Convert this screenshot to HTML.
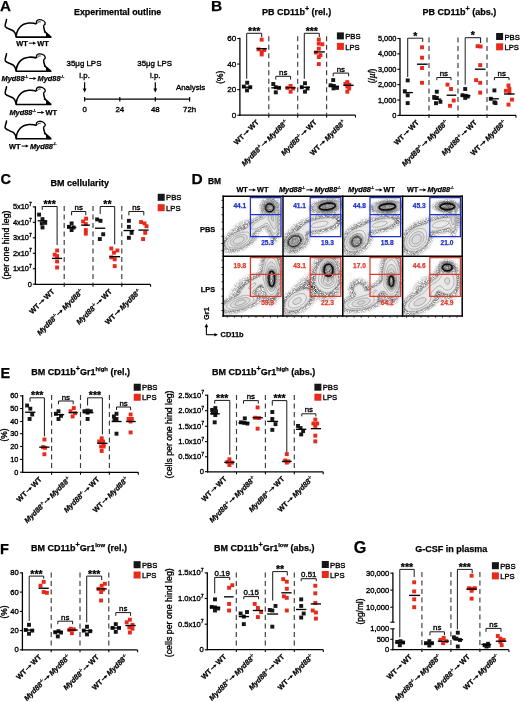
<!DOCTYPE html>
<html><head><meta charset="utf-8"><style>
html,body{margin:0;padding:0;background:#fff;}
svg{display:block;will-change:transform;font-family:"Liberation Sans",sans-serif;} text{white-space:pre;}
</style></head><body>
<svg width="520" height="702" viewBox="0 0 520 702">
<defs><filter id="gb" x="0" y="0" width="520" height="702" filterUnits="userSpaceOnUse"><feGaussianBlur stdDeviation="0.3"/></filter></defs>
<rect width="520" height="702" fill="#fff"/>
<g filter="url(#gb)">
<text x="0.00" y="10.90" font-size="15.20" font-weight="bold" stroke="#000" stroke-width="0.25">A</text>
<text x="74.00" y="14.80" font-size="8.90" font-weight="bold" stroke="#000" stroke-width="0.25">Experimental outline</text>
<path d="M6.50 19.50C6.30 22.60 4.40 24.60 5.30 26.60C6.40 28.80 11.50 29.30 13.60 31.10C15.40 32.70 16.00 34.90 16.20 37.10" fill="none" stroke="#000" stroke-width="1.55" stroke-linecap="round"/>
<path d="M16.20 37.10C16.40 29.60 21.00 23.50 29.00 23.00C32.00 22.80 34.50 23.20 36.40 23.90M44.00 25.10C43.30 25.70 43.60 27.10 44.00 28.50C44.30 29.70 44.50 30.90 45.30 32.10L51.00 37.10M16.20 37.10H51.40" fill="none" stroke="#000" stroke-width="1.55" stroke-linejoin="round"/>
<path d="M36.40 23.90C36.00 21.50 37.00 19.80 39.20 19.70C41.60 19.60 44.60 20.90 45.20 22.90C45.50 23.90 44.90 24.70 44.00 25.10" fill="none" stroke="#000" stroke-width="1.35" stroke-linejoin="round"/>
<path d="M37.60 23.30C37.60 22.10 38.80 21.50 40.60 21.80" fill="none" stroke="#000" stroke-width="0.9"/>
<path d="M46.00 32.50L51.60 37.60L46.00 37.60Z" fill="#000"/>
<circle cx="44.70" cy="31.80" r="0.85" fill="#000"/>
<path d="M6.50 53.70C6.30 56.80 4.40 58.80 5.30 60.80C6.40 63.00 11.50 63.50 13.60 65.30C15.40 66.90 16.00 69.10 16.20 71.30" fill="none" stroke="#000" stroke-width="1.55" stroke-linecap="round"/>
<path d="M16.20 71.30C16.40 63.80 21.00 57.70 29.00 57.20C32.00 57.00 34.50 57.40 36.40 58.10M44.00 59.30C43.30 59.90 43.60 61.30 44.00 62.70C44.30 63.90 44.50 65.10 45.30 66.30L51.00 71.30M16.20 71.30H51.40" fill="none" stroke="#000" stroke-width="1.55" stroke-linejoin="round"/>
<path d="M36.40 58.10C36.00 55.70 37.00 54.00 39.20 53.90C41.60 53.80 44.60 55.10 45.20 57.10C45.50 58.10 44.90 58.90 44.00 59.30" fill="none" stroke="#000" stroke-width="1.35" stroke-linejoin="round"/>
<path d="M37.60 57.50C37.60 56.30 38.80 55.70 40.60 56.00" fill="none" stroke="#000" stroke-width="0.9"/>
<path d="M46.00 66.70L51.60 71.80L46.00 71.80Z" fill="#000"/>
<circle cx="44.70" cy="66.00" r="0.85" fill="#000"/>
<path d="M6.50 86.80C6.30 89.90 4.40 91.90 5.30 93.90C6.40 96.10 11.50 96.60 13.60 98.40C15.40 100.00 16.00 102.20 16.20 104.40" fill="none" stroke="#000" stroke-width="1.55" stroke-linecap="round"/>
<path d="M16.20 104.40C16.40 96.90 21.00 90.80 29.00 90.30C32.00 90.10 34.50 90.50 36.40 91.20M44.00 92.40C43.30 93.00 43.60 94.40 44.00 95.80C44.30 97.00 44.50 98.20 45.30 99.40L51.00 104.40M16.20 104.40H51.40" fill="none" stroke="#000" stroke-width="1.55" stroke-linejoin="round"/>
<path d="M36.40 91.20C36.00 88.80 37.00 87.10 39.20 87.00C41.60 86.90 44.60 88.20 45.20 90.20C45.50 91.20 44.90 92.00 44.00 92.40" fill="none" stroke="#000" stroke-width="1.35" stroke-linejoin="round"/>
<path d="M37.60 90.60C37.60 89.40 38.80 88.80 40.60 89.10" fill="none" stroke="#000" stroke-width="0.9"/>
<path d="M46.00 99.80L51.60 104.90L46.00 104.90Z" fill="#000"/>
<circle cx="44.70" cy="99.10" r="0.85" fill="#000"/>
<path d="M6.50 121.10C6.30 124.20 4.40 126.20 5.30 128.20C6.40 130.40 11.50 130.90 13.60 132.70C15.40 134.30 16.00 136.50 16.20 138.70" fill="none" stroke="#000" stroke-width="1.55" stroke-linecap="round"/>
<path d="M16.20 138.70C16.40 131.20 21.00 125.10 29.00 124.60C32.00 124.40 34.50 124.80 36.40 125.50M44.00 126.70C43.30 127.30 43.60 128.70 44.00 130.10C44.30 131.30 44.50 132.50 45.30 133.70L51.00 138.70M16.20 138.70H51.40" fill="none" stroke="#000" stroke-width="1.55" stroke-linejoin="round"/>
<path d="M36.40 125.50C36.00 123.10 37.00 121.40 39.20 121.30C41.60 121.20 44.60 122.50 45.20 124.50C45.50 125.50 44.90 126.30 44.00 126.70" fill="none" stroke="#000" stroke-width="1.35" stroke-linejoin="round"/>
<path d="M37.60 124.90C37.60 123.70 38.80 123.10 40.60 123.40" fill="none" stroke="#000" stroke-width="0.9"/>
<path d="M46.00 134.10L51.60 139.20L46.00 139.20Z" fill="#000"/>
<circle cx="44.70" cy="133.40" r="0.85" fill="#000"/>
<g transform="translate(32.50 45.60) rotate(0)" fill="#000"><text x="-16.17" y="0.00" font-size="7.40" font-weight="bold" stroke="#000" stroke-width="0.25">WT</text><path d="M-3.67 -2.44H0.81" stroke="#000" stroke-width="0.96"/><path d="M0.51 -4.00L3.67 -2.44L0.51 -0.89Z"/><text x="4.66" y="0.00" font-size="7.40" font-weight="bold" stroke="#000" stroke-width="0.25">WT</text></g>
<g transform="translate(32.90 80.90) rotate(0)" fill="#000"><text x="-31.33" y="0.00" font-size="7.40" font-weight="bold" font-style="italic" stroke="#000" stroke-width="0.25">Myd88</text><text x="-8.29" y="-3.11" font-size="3.85" font-weight="bold" stroke="#000" stroke-width="0.25">-/-</text><path d="M-3.67 -2.44H0.81" stroke="#000" stroke-width="0.96"/><path d="M0.51 -4.00L3.67 -2.44L0.51 -0.89Z"/><text x="4.66" y="0.00" font-size="7.40" font-weight="bold" font-style="italic" stroke="#000" stroke-width="0.25">Myd88</text><text x="27.69" y="-3.11" font-size="3.85" font-weight="bold" stroke="#000" stroke-width="0.25">-/-</text></g>
<g transform="translate(33.20 115.00) rotate(0)" fill="#000"><text x="-23.75" y="0.00" font-size="7.40" font-weight="bold" font-style="italic" stroke="#000" stroke-width="0.25">Myd88</text><text x="-0.71" y="-3.11" font-size="3.85" font-weight="bold" stroke="#000" stroke-width="0.25">-/-</text><path d="M3.91 -2.44H8.39" stroke="#000" stroke-width="0.96"/><path d="M8.09 -4.00L11.25 -2.44L8.09 -0.89Z"/><text x="12.24" y="0.00" font-size="7.40" font-weight="bold" stroke="#000" stroke-width="0.25">WT</text></g>
<g transform="translate(32.80 148.50) rotate(0)" fill="#000"><text x="-23.75" y="0.00" font-size="7.40" font-weight="bold" stroke="#000" stroke-width="0.25">WT</text><path d="M-11.25 -2.44H-6.77" stroke="#000" stroke-width="0.96"/><path d="M-7.07 -4.00L-3.91 -2.44L-7.07 -0.89Z"/><text x="-2.92" y="0.00" font-size="7.40" font-weight="bold" font-style="italic" stroke="#000" stroke-width="0.25">Myd88</text><text x="20.11" y="-3.11" font-size="3.85" font-weight="bold" stroke="#000" stroke-width="0.25">-/-</text></g>
<line x1="84.20" y1="99.20" x2="190.00" y2="99.20" stroke="#000" stroke-width="1.3"/>
<line x1="84.60" y1="97.00" x2="84.60" y2="101.40" stroke="#000" stroke-width="1.2"/>
<line x1="119.80" y1="97.00" x2="119.80" y2="101.40" stroke="#000" stroke-width="1.2"/>
<line x1="155.30" y1="97.00" x2="155.30" y2="101.40" stroke="#000" stroke-width="1.2"/>
<line x1="189.60" y1="97.00" x2="189.60" y2="101.40" stroke="#000" stroke-width="1.2"/>
<text x="84.60" y="111.60" font-size="7.90" text-anchor="middle" stroke="#000" stroke-width="0.35">0</text>
<text x="119.80" y="111.60" font-size="7.90" text-anchor="middle" stroke="#000" stroke-width="0.35">24</text>
<text x="155.30" y="111.60" font-size="7.90" text-anchor="middle" stroke="#000" stroke-width="0.35">48</text>
<text x="189.60" y="111.60" font-size="7.90" text-anchor="middle" stroke="#000" stroke-width="0.35">72h</text>
<text x="84.00" y="66.40" font-size="7.90" text-anchor="middle" stroke="#000" stroke-width="0.35">35μg LPS</text>
<text x="84.60" y="77.60" font-size="7.90" text-anchor="middle" stroke="#000" stroke-width="0.35">i.p.</text>
<line x1="84.60" y1="82.20" x2="84.60" y2="89.50" stroke="#000" stroke-width="1.2"/>
<path d="M82.70 88.6L86.50 88.6L84.60 92.4Z" fill="#000"/>
<text x="154.70" y="66.40" font-size="7.90" text-anchor="middle" stroke="#000" stroke-width="0.35">35μg LPS</text>
<text x="155.30" y="77.60" font-size="7.90" text-anchor="middle" stroke="#000" stroke-width="0.35">i.p.</text>
<line x1="155.30" y1="82.20" x2="155.30" y2="89.50" stroke="#000" stroke-width="1.2"/>
<path d="M153.40 88.6L157.20 88.6L155.30 92.4Z" fill="#000"/>
<text x="175.90" y="89.60" font-size="7.90" stroke="#000" stroke-width="0.35">Analysis</text>
<text x="211.00" y="11.20" font-size="15.50" font-weight="bold" stroke="#000" stroke-width="0.25">B</text>
<g transform="translate(261.90 15.20) rotate(0)" fill="#000"><text x="0.00" y="0.00" font-size="9.00" font-weight="bold" stroke="#000" stroke-width="0.25">PB CD11b</text><text x="43.01" y="-4.05" font-size="7.20" font-weight="bold" stroke="#000" stroke-width="0.25">+</text><text x="47.22" y="0.00" font-size="9.00" font-weight="bold" stroke="#000" stroke-width="0.25"> (rel.)</text></g>
<g transform="translate(422.50 15.00) rotate(0)" fill="#000"><text x="0.00" y="0.00" font-size="9.00" font-weight="bold" stroke="#000" stroke-width="0.25">PB CD11b</text><text x="43.01" y="-4.05" font-size="7.20" font-weight="bold" stroke="#000" stroke-width="0.25">+</text><text x="47.22" y="0.00" font-size="9.00" font-weight="bold" stroke="#000" stroke-width="0.25"> (abs.)</text></g>
<line x1="239.90" y1="37.80" x2="239.90" y2="115.85" stroke="#000" stroke-width="1.3"/>
<line x1="239.25" y1="115.20" x2="355.50" y2="115.20" stroke="#000" stroke-width="1.3"/>
<line x1="237.30" y1="115.20" x2="239.90" y2="115.20" stroke="#000" stroke-width="1.1"/>
<text x="236.30" y="117.95" font-size="8.10" text-anchor="end" stroke="#000" stroke-width="0.35">0</text>
<line x1="237.30" y1="89.63" x2="239.90" y2="89.63" stroke="#000" stroke-width="1.1"/>
<text x="236.30" y="92.39" font-size="8.10" text-anchor="end" stroke="#000" stroke-width="0.35">20</text>
<line x1="237.30" y1="64.07" x2="239.90" y2="64.07" stroke="#000" stroke-width="1.1"/>
<text x="236.30" y="66.82" font-size="8.10" text-anchor="end" stroke="#000" stroke-width="0.35">40</text>
<line x1="237.30" y1="38.50" x2="239.90" y2="38.50" stroke="#000" stroke-width="1.1"/>
<text x="236.30" y="41.26" font-size="8.10" text-anchor="end" stroke="#000" stroke-width="0.35">60</text>
<line x1="268.80" y1="115.20" x2="268.80" y2="117.60" stroke="#000" stroke-width="1.1"/>
<line x1="268.80" y1="36.30" x2="268.80" y2="115.20" stroke="#3c3c3c" stroke-width="1.15" stroke-dasharray="5 3.5"/>
<line x1="297.70" y1="115.20" x2="297.70" y2="117.60" stroke="#000" stroke-width="1.1"/>
<line x1="297.70" y1="36.30" x2="297.70" y2="115.20" stroke="#3c3c3c" stroke-width="1.15" stroke-dasharray="5 3.5"/>
<line x1="326.60" y1="115.20" x2="326.60" y2="117.60" stroke="#000" stroke-width="1.1"/>
<line x1="326.60" y1="36.30" x2="326.60" y2="115.20" stroke="#3c3c3c" stroke-width="1.15" stroke-dasharray="5 3.5"/>
<line x1="355.50" y1="115.20" x2="355.50" y2="117.60" stroke="#000" stroke-width="1.1"/>
<rect x="245.25" y="80.78" width="3.90" height="3.90" fill="#151515"/>
<rect x="241.85" y="84.62" width="3.90" height="3.90" fill="#151515"/>
<rect x="248.25" y="85.26" width="3.90" height="3.90" fill="#151515"/>
<rect x="245.05" y="88.45" width="3.90" height="3.90" fill="#151515"/>
<rect x="259.75" y="37.70" width="3.90" height="3.90" fill="#e8291a"/>
<rect x="256.55" y="47.42" width="3.90" height="3.90" fill="#e8291a"/>
<rect x="262.35" y="48.06" width="3.90" height="3.90" fill="#e8291a"/>
<rect x="259.75" y="49.97" width="3.90" height="3.90" fill="#e8291a"/>
<rect x="259.75" y="52.53" width="3.90" height="3.90" fill="#e8291a"/>
<line x1="242.50" y1="87.21" x2="252.10" y2="87.21" stroke="#000" stroke-width="1.35"/>
<line x1="256.60" y1="48.73" x2="266.80" y2="48.73" stroke="#000" stroke-width="1.35"/>
<path d="M246.70 78.80V33.30H261.70V37.20" fill="none" stroke="#1a1a1a" stroke-width="1.0"/>
<text x="254.20" y="34.80" font-size="10.50" font-weight="bold" text-anchor="middle" stroke="#000" stroke-width="0.25">***</text>
<rect x="271.35" y="82.06" width="3.90" height="3.90" fill="#151515"/>
<rect x="273.85" y="85.26" width="3.90" height="3.90" fill="#151515"/>
<rect x="277.05" y="85.89" width="3.90" height="3.90" fill="#151515"/>
<rect x="273.85" y="90.37" width="3.90" height="3.90" fill="#151515"/>
<rect x="288.65" y="83.98" width="3.90" height="3.90" fill="#e8291a"/>
<rect x="285.45" y="85.89" width="3.90" height="3.90" fill="#e8291a"/>
<rect x="291.15" y="86.53" width="3.90" height="3.90" fill="#e8291a"/>
<rect x="288.65" y="89.73" width="3.90" height="3.90" fill="#e8291a"/>
<line x1="271.30" y1="87.84" x2="281.00" y2="87.84" stroke="#000" stroke-width="1.35"/>
<line x1="285.40" y1="87.84" x2="295.70" y2="87.84" stroke="#000" stroke-width="1.35"/>
<path d="M275.80 79.50V76.30H290.60V79.50" fill="none" stroke="#1a1a1a" stroke-width="1.0"/>
<text x="283.20" y="74.80" font-size="7.90" text-anchor="middle" stroke="#000" stroke-width="0.35">ns</text>
<rect x="303.05" y="81.29" width="3.90" height="3.90" fill="#151515"/>
<rect x="299.85" y="85.26" width="3.90" height="3.90" fill="#151515"/>
<rect x="305.55" y="86.53" width="3.90" height="3.90" fill="#151515"/>
<rect x="303.05" y="89.73" width="3.90" height="3.90" fill="#151515"/>
<rect x="316.85" y="37.70" width="3.90" height="3.90" fill="#e8291a"/>
<rect x="316.85" y="41.67" width="3.90" height="3.90" fill="#e8291a"/>
<rect x="320.35" y="42.30" width="3.90" height="3.90" fill="#e8291a"/>
<rect x="316.85" y="46.78" width="3.90" height="3.90" fill="#e8291a"/>
<rect x="313.95" y="50.61" width="3.90" height="3.90" fill="#e8291a"/>
<rect x="318.45" y="53.17" width="3.90" height="3.90" fill="#e8291a"/>
<rect x="316.85" y="55.09" width="3.90" height="3.90" fill="#e8291a"/>
<rect x="316.85" y="62.12" width="3.90" height="3.90" fill="#e8291a"/>
<line x1="300.00" y1="87.33" x2="310.00" y2="87.33" stroke="#000" stroke-width="1.35"/>
<line x1="313.90" y1="51.92" x2="324.80" y2="51.92" stroke="#000" stroke-width="1.35"/>
<path d="M304.30 78.80V33.30H319.30V37.20" fill="none" stroke="#1a1a1a" stroke-width="1.0"/>
<text x="311.80" y="34.80" font-size="10.50" font-weight="bold" text-anchor="middle" stroke="#000" stroke-width="0.25">***</text>
<rect x="331.25" y="78.10" width="3.90" height="3.90" fill="#151515"/>
<rect x="328.65" y="83.34" width="3.90" height="3.90" fill="#151515"/>
<rect x="331.85" y="83.98" width="3.90" height="3.90" fill="#151515"/>
<rect x="335.05" y="85.89" width="3.90" height="3.90" fill="#151515"/>
<rect x="331.55" y="86.41" width="3.90" height="3.90" fill="#151515"/>
<rect x="345.35" y="80.14" width="3.90" height="3.90" fill="#e8291a"/>
<rect x="343.45" y="82.06" width="3.90" height="3.90" fill="#e8291a"/>
<rect x="347.25" y="82.70" width="3.90" height="3.90" fill="#e8291a"/>
<rect x="345.35" y="84.62" width="3.90" height="3.90" fill="#e8291a"/>
<rect x="347.25" y="86.53" width="3.90" height="3.90" fill="#e8291a"/>
<rect x="345.35" y="89.73" width="3.90" height="3.90" fill="#e8291a"/>
<line x1="328.70" y1="86.31" x2="339.00" y2="86.31" stroke="#000" stroke-width="1.35"/>
<line x1="343.40" y1="85.29" x2="353.70" y2="85.29" stroke="#000" stroke-width="1.35"/>
<path d="M333.20 76.30V73.10H348.60V76.30" fill="none" stroke="#1a1a1a" stroke-width="1.0"/>
<text x="340.90" y="71.60" font-size="7.90" text-anchor="middle" stroke="#000" stroke-width="0.35">ns</text>
<g transform="translate(259.35 122.80) rotate(-45)" fill="#000"><text x="-31.90" y="0.00" font-size="7.30" font-weight="bold" stroke="#000" stroke-width="0.25">WT</text><path d="M-19.56 -2.41H-15.15" stroke="#000" stroke-width="0.95"/><path d="M-15.45 -3.94L-12.33 -2.41L-15.45 -0.88Z"/><text x="-11.35" y="0.00" font-size="7.30" font-weight="bold" stroke="#000" stroke-width="0.25">WT</text></g>
<g transform="translate(288.25 122.80) rotate(-45)" fill="#000"><text x="-61.80" y="0.00" font-size="7.30" font-weight="bold" font-style="italic" stroke="#000" stroke-width="0.25">Myd88</text><text x="-39.08" y="-3.07" font-size="3.80" font-weight="bold" stroke="#000" stroke-width="0.25">-/-</text><path d="M-34.52 -2.41H-30.11" stroke="#000" stroke-width="0.95"/><path d="M-30.41 -3.94L-27.29 -2.41L-30.41 -0.88Z"/><text x="-26.30" y="0.00" font-size="7.30" font-weight="bold" font-style="italic" stroke="#000" stroke-width="0.25">Myd88</text><text x="-3.58" y="-3.07" font-size="3.80" font-weight="bold" stroke="#000" stroke-width="0.25">-/-</text></g>
<g transform="translate(317.15 122.80) rotate(-45)" fill="#000"><text x="-46.85" y="0.00" font-size="7.30" font-weight="bold" font-style="italic" stroke="#000" stroke-width="0.25">Myd88</text><text x="-24.13" y="-3.07" font-size="3.80" font-weight="bold" stroke="#000" stroke-width="0.25">-/-</text><path d="M-19.56 -2.41H-15.15" stroke="#000" stroke-width="0.95"/><path d="M-15.45 -3.94L-12.33 -2.41L-15.45 -0.88Z"/><text x="-11.35" y="0.00" font-size="7.30" font-weight="bold" stroke="#000" stroke-width="0.25">WT</text></g>
<g transform="translate(346.05 122.80) rotate(-45)" fill="#000"><text x="-46.85" y="0.00" font-size="7.30" font-weight="bold" stroke="#000" stroke-width="0.25">WT</text><path d="M-34.52 -2.41H-30.11" stroke="#000" stroke-width="0.95"/><path d="M-30.41 -3.94L-27.29 -2.41L-30.41 -0.88Z"/><text x="-26.30" y="0.00" font-size="7.30" font-weight="bold" font-style="italic" stroke="#000" stroke-width="0.25">Myd88</text><text x="-3.58" y="-3.07" font-size="3.80" font-weight="bold" stroke="#000" stroke-width="0.25">-/-</text></g>
<text x="222.80" y="77.30" font-size="8.40" text-anchor="middle" stroke="#000" stroke-width="0.35" transform="rotate(-90 222.80 77.30)">(%)</text>
<rect x="336.90" y="32.40" width="7.00" height="7.00" fill="#151515"/>
<rect x="336.90" y="42.90" width="7.00" height="7.00" fill="#e8291a"/>
<text x="345.20" y="39.00" font-size="7.70" stroke="#000" stroke-width="0.35">PBS</text>
<text x="345.20" y="49.50" font-size="7.70" stroke="#000" stroke-width="0.35">LPS</text>
<line x1="400.00" y1="37.90" x2="400.00" y2="116.05" stroke="#000" stroke-width="1.3"/>
<line x1="399.35" y1="115.40" x2="516.00" y2="115.40" stroke="#000" stroke-width="1.3"/>
<line x1="397.40" y1="115.40" x2="400.00" y2="115.40" stroke="#000" stroke-width="1.1"/>
<text x="396.40" y="117.92" font-size="7.40" text-anchor="end" stroke="#000" stroke-width="0.35">0</text>
<line x1="397.40" y1="100.02" x2="400.00" y2="100.02" stroke="#000" stroke-width="1.1"/>
<text x="396.40" y="102.54" font-size="7.40" text-anchor="end" stroke="#000" stroke-width="0.35">1,000</text>
<line x1="397.40" y1="84.64" x2="400.00" y2="84.64" stroke="#000" stroke-width="1.1"/>
<text x="396.40" y="87.16" font-size="7.40" text-anchor="end" stroke="#000" stroke-width="0.35">2,000</text>
<line x1="397.40" y1="69.26" x2="400.00" y2="69.26" stroke="#000" stroke-width="1.1"/>
<text x="396.40" y="71.78" font-size="7.40" text-anchor="end" stroke="#000" stroke-width="0.35">3,000</text>
<line x1="397.40" y1="53.88" x2="400.00" y2="53.88" stroke="#000" stroke-width="1.1"/>
<text x="396.40" y="56.40" font-size="7.40" text-anchor="end" stroke="#000" stroke-width="0.35">4,000</text>
<line x1="397.40" y1="38.50" x2="400.00" y2="38.50" stroke="#000" stroke-width="1.1"/>
<text x="396.40" y="41.02" font-size="7.40" text-anchor="end" stroke="#000" stroke-width="0.35">5,000</text>
<line x1="429.00" y1="115.40" x2="429.00" y2="117.80" stroke="#000" stroke-width="1.1"/>
<line x1="429.00" y1="37.50" x2="429.00" y2="115.40" stroke="#3c3c3c" stroke-width="1.15" stroke-dasharray="5 3.5"/>
<line x1="458.00" y1="115.40" x2="458.00" y2="117.80" stroke="#000" stroke-width="1.1"/>
<line x1="458.00" y1="37.50" x2="458.00" y2="115.40" stroke="#3c3c3c" stroke-width="1.15" stroke-dasharray="5 3.5"/>
<line x1="487.00" y1="115.40" x2="487.00" y2="117.80" stroke="#000" stroke-width="1.1"/>
<line x1="487.00" y1="37.50" x2="487.00" y2="115.40" stroke="#3c3c3c" stroke-width="1.15" stroke-dasharray="5 3.5"/>
<line x1="516.00" y1="115.40" x2="516.00" y2="117.80" stroke="#000" stroke-width="1.1"/>
<rect x="405.75" y="78.45" width="3.90" height="3.90" fill="#151515"/>
<rect x="402.85" y="89.26" width="3.90" height="3.90" fill="#151515"/>
<rect x="405.75" y="93.35" width="3.90" height="3.90" fill="#151515"/>
<rect x="405.75" y="101.15" width="3.90" height="3.90" fill="#151515"/>
<rect x="420.05" y="45.35" width="3.90" height="3.90" fill="#e8291a"/>
<rect x="420.05" y="55.74" width="3.90" height="3.90" fill="#e8291a"/>
<rect x="420.05" y="66.05" width="3.90" height="3.90" fill="#e8291a"/>
<rect x="420.05" y="80.84" width="3.90" height="3.90" fill="#e8291a"/>
<line x1="403.40" y1="92.61" x2="412.90" y2="92.61" stroke="#000" stroke-width="1.35"/>
<line x1="416.90" y1="64.20" x2="427.70" y2="64.20" stroke="#000" stroke-width="1.35"/>
<path d="M407.70 77.00V38.20H422.70V41.90" fill="none" stroke="#1a1a1a" stroke-width="1.0"/>
<text x="415.20" y="39.70" font-size="10.50" font-weight="bold" text-anchor="middle" stroke="#000" stroke-width="0.25">*</text>
<rect x="434.85" y="89.76" width="3.90" height="3.90" fill="#151515"/>
<rect x="432.25" y="95.06" width="3.90" height="3.90" fill="#151515"/>
<rect x="434.85" y="95.92" width="3.90" height="3.90" fill="#151515"/>
<rect x="438.45" y="99.85" width="3.90" height="3.90" fill="#151515"/>
<rect x="434.05" y="101.25" width="3.90" height="3.90" fill="#151515"/>
<rect x="445.55" y="82.69" width="3.90" height="3.90" fill="#e8291a"/>
<rect x="449.05" y="87.06" width="3.90" height="3.90" fill="#e8291a"/>
<rect x="451.75" y="98.56" width="3.90" height="3.90" fill="#e8291a"/>
<rect x="448.05" y="103.85" width="3.90" height="3.90" fill="#e8291a"/>
<line x1="432.40" y1="99.10" x2="441.30" y2="99.10" stroke="#000" stroke-width="1.35"/>
<line x1="446.60" y1="95.21" x2="456.30" y2="95.21" stroke="#000" stroke-width="1.35"/>
<path d="M436.80 80.20V77.50H451.00V80.20" fill="none" stroke="#1a1a1a" stroke-width="1.0"/>
<text x="443.90" y="76.00" font-size="7.90" text-anchor="middle" stroke="#000" stroke-width="0.35">ns</text>
<rect x="463.25" y="87.06" width="3.90" height="3.90" fill="#151515"/>
<rect x="460.55" y="93.26" width="3.90" height="3.90" fill="#151515"/>
<rect x="464.05" y="93.86" width="3.90" height="3.90" fill="#151515"/>
<rect x="465.85" y="94.55" width="3.90" height="3.90" fill="#151515"/>
<rect x="463.25" y="95.95" width="3.90" height="3.90" fill="#151515"/>
<rect x="475.65" y="44.24" width="3.90" height="3.90" fill="#e8291a"/>
<rect x="478.65" y="44.55" width="3.90" height="3.90" fill="#e8291a"/>
<rect x="478.25" y="63.16" width="3.90" height="3.90" fill="#e8291a"/>
<rect x="474.15" y="78.23" width="3.90" height="3.90" fill="#e8291a"/>
<rect x="478.25" y="80.84" width="3.90" height="3.90" fill="#e8291a"/>
<rect x="478.25" y="90.66" width="3.90" height="3.90" fill="#e8291a"/>
<line x1="460.70" y1="95.81" x2="470.50" y2="95.81" stroke="#000" stroke-width="1.35"/>
<line x1="474.90" y1="69.20" x2="485.50" y2="69.20" stroke="#000" stroke-width="1.35"/>
<path d="M465.20 84.60V37.70H480.60V43.00" fill="none" stroke="#1a1a1a" stroke-width="1.0"/>
<text x="472.90" y="39.20" font-size="10.50" font-weight="bold" text-anchor="middle" stroke="#000" stroke-width="0.25">*</text>
<rect x="492.45" y="88.46" width="3.90" height="3.90" fill="#151515"/>
<rect x="488.85" y="96.84" width="3.90" height="3.90" fill="#151515"/>
<rect x="492.45" y="100.35" width="3.90" height="3.90" fill="#151515"/>
<rect x="493.55" y="101.15" width="3.90" height="3.90" fill="#151515"/>
<rect x="506.55" y="83.55" width="3.90" height="3.90" fill="#e8291a"/>
<rect x="503.95" y="88.84" width="3.90" height="3.90" fill="#e8291a"/>
<rect x="507.45" y="87.06" width="3.90" height="3.90" fill="#e8291a"/>
<rect x="507.45" y="90.66" width="3.90" height="3.90" fill="#e8291a"/>
<rect x="510.05" y="97.65" width="3.90" height="3.90" fill="#e8291a"/>
<rect x="506.55" y="102.65" width="3.90" height="3.90" fill="#e8291a"/>
<line x1="489.00" y1="98.79" x2="498.80" y2="98.79" stroke="#000" stroke-width="1.35"/>
<line x1="504.00" y1="94.01" x2="514.70" y2="94.01" stroke="#000" stroke-width="1.35"/>
<path d="M494.40 80.20V77.50H509.00V80.20" fill="none" stroke="#1a1a1a" stroke-width="1.0"/>
<text x="501.70" y="76.00" font-size="7.90" text-anchor="middle" stroke="#000" stroke-width="0.35">ns</text>
<g transform="translate(419.50 123.00) rotate(-45)" fill="#000"><text x="-31.90" y="0.00" font-size="7.30" font-weight="bold" stroke="#000" stroke-width="0.25">WT</text><path d="M-19.56 -2.41H-15.15" stroke="#000" stroke-width="0.95"/><path d="M-15.45 -3.94L-12.33 -2.41L-15.45 -0.88Z"/><text x="-11.35" y="0.00" font-size="7.30" font-weight="bold" stroke="#000" stroke-width="0.25">WT</text></g>
<g transform="translate(448.50 123.00) rotate(-45)" fill="#000"><text x="-61.80" y="0.00" font-size="7.30" font-weight="bold" font-style="italic" stroke="#000" stroke-width="0.25">Myd88</text><text x="-39.08" y="-3.07" font-size="3.80" font-weight="bold" stroke="#000" stroke-width="0.25">-/-</text><path d="M-34.52 -2.41H-30.11" stroke="#000" stroke-width="0.95"/><path d="M-30.41 -3.94L-27.29 -2.41L-30.41 -0.88Z"/><text x="-26.30" y="0.00" font-size="7.30" font-weight="bold" font-style="italic" stroke="#000" stroke-width="0.25">Myd88</text><text x="-3.58" y="-3.07" font-size="3.80" font-weight="bold" stroke="#000" stroke-width="0.25">-/-</text></g>
<g transform="translate(477.50 123.00) rotate(-45)" fill="#000"><text x="-46.85" y="0.00" font-size="7.30" font-weight="bold" font-style="italic" stroke="#000" stroke-width="0.25">Myd88</text><text x="-24.13" y="-3.07" font-size="3.80" font-weight="bold" stroke="#000" stroke-width="0.25">-/-</text><path d="M-19.56 -2.41H-15.15" stroke="#000" stroke-width="0.95"/><path d="M-15.45 -3.94L-12.33 -2.41L-15.45 -0.88Z"/><text x="-11.35" y="0.00" font-size="7.30" font-weight="bold" stroke="#000" stroke-width="0.25">WT</text></g>
<g transform="translate(506.50 123.00) rotate(-45)" fill="#000"><text x="-46.85" y="0.00" font-size="7.30" font-weight="bold" stroke="#000" stroke-width="0.25">WT</text><path d="M-34.52 -2.41H-30.11" stroke="#000" stroke-width="0.95"/><path d="M-30.41 -3.94L-27.29 -2.41L-30.41 -0.88Z"/><text x="-26.30" y="0.00" font-size="7.30" font-weight="bold" font-style="italic" stroke="#000" stroke-width="0.25">Myd88</text><text x="-3.58" y="-3.07" font-size="3.80" font-weight="bold" stroke="#000" stroke-width="0.25">-/-</text></g>
<text x="375.00" y="76.00" font-size="8.40" text-anchor="middle" stroke="#000" stroke-width="0.35" transform="rotate(-90 375.00 76.00)">(/<tspan font-style="italic">µl</tspan>)</text>
<rect x="496.10" y="33.00" width="7.00" height="7.00" fill="#151515"/>
<rect x="496.10" y="43.30" width="7.00" height="7.00" fill="#e8291a"/>
<text x="504.40" y="39.60" font-size="7.70" stroke="#000" stroke-width="0.35">PBS</text>
<text x="504.40" y="49.90" font-size="7.70" stroke="#000" stroke-width="0.35">LPS</text>
<text x="0.60" y="183.60" font-size="14.50" font-weight="bold" stroke="#000" stroke-width="0.25">C</text>
<text x="50.40" y="186.20" font-size="9.00" font-weight="bold" stroke="#000" stroke-width="0.25">BM cellularity</text>
<line x1="35.40" y1="206.30" x2="35.40" y2="285.05" stroke="#000" stroke-width="1.3"/>
<line x1="34.75" y1="284.40" x2="150.60" y2="284.40" stroke="#000" stroke-width="1.3"/>
<line x1="32.80" y1="284.20" x2="35.40" y2="284.20" stroke="#000" stroke-width="1.1"/>
<text x="31.80" y="286.72" font-size="7.40" text-anchor="end" stroke="#000" stroke-width="0.35">0</text>
<line x1="32.80" y1="268.74" x2="35.40" y2="268.74" stroke="#000" stroke-width="1.1"/>
<g transform="translate(31.80 271.26) rotate(0)" fill="#000"><text x="-18.85" y="0.00" font-size="7.40" stroke="#000" stroke-width="0.35">1x10</text><text x="-2.80" y="-3.33" font-size="5.03" stroke="#000" stroke-width="0.35">7</text></g>
<line x1="32.80" y1="253.28" x2="35.40" y2="253.28" stroke="#000" stroke-width="1.1"/>
<g transform="translate(31.80 255.80) rotate(0)" fill="#000"><text x="-18.85" y="0.00" font-size="7.40" stroke="#000" stroke-width="0.35">2x10</text><text x="-2.80" y="-3.33" font-size="5.03" stroke="#000" stroke-width="0.35">7</text></g>
<line x1="32.80" y1="237.82" x2="35.40" y2="237.82" stroke="#000" stroke-width="1.1"/>
<g transform="translate(31.80 240.34) rotate(0)" fill="#000"><text x="-18.85" y="0.00" font-size="7.40" stroke="#000" stroke-width="0.35">3x10</text><text x="-2.80" y="-3.33" font-size="5.03" stroke="#000" stroke-width="0.35">7</text></g>
<line x1="32.80" y1="222.36" x2="35.40" y2="222.36" stroke="#000" stroke-width="1.1"/>
<g transform="translate(31.80 224.88) rotate(0)" fill="#000"><text x="-18.85" y="0.00" font-size="7.40" stroke="#000" stroke-width="0.35">4x10</text><text x="-2.80" y="-3.33" font-size="5.03" stroke="#000" stroke-width="0.35">7</text></g>
<line x1="32.80" y1="206.90" x2="35.40" y2="206.90" stroke="#000" stroke-width="1.1"/>
<g transform="translate(31.80 209.42) rotate(0)" fill="#000"><text x="-18.85" y="0.00" font-size="7.40" stroke="#000" stroke-width="0.35">5x10</text><text x="-2.80" y="-3.33" font-size="5.03" stroke="#000" stroke-width="0.35">7</text></g>
<line x1="64.20" y1="284.40" x2="64.20" y2="286.80" stroke="#000" stroke-width="1.1"/>
<line x1="64.20" y1="206.00" x2="64.20" y2="284.40" stroke="#3c3c3c" stroke-width="1.15" stroke-dasharray="5 3.5"/>
<line x1="93.00" y1="284.40" x2="93.00" y2="286.80" stroke="#000" stroke-width="1.1"/>
<line x1="93.00" y1="206.00" x2="93.00" y2="284.40" stroke="#3c3c3c" stroke-width="1.15" stroke-dasharray="5 3.5"/>
<line x1="121.80" y1="284.40" x2="121.80" y2="286.80" stroke="#000" stroke-width="1.1"/>
<line x1="121.80" y1="206.00" x2="121.80" y2="284.40" stroke="#3c3c3c" stroke-width="1.15" stroke-dasharray="5 3.5"/>
<line x1="150.60" y1="284.40" x2="150.60" y2="286.80" stroke="#000" stroke-width="1.1"/>
<rect x="37.15" y="212.68" width="3.90" height="3.90" fill="#151515"/>
<rect x="40.55" y="217.16" width="3.90" height="3.90" fill="#151515"/>
<rect x="43.25" y="220.87" width="3.90" height="3.90" fill="#151515"/>
<rect x="39.85" y="221.49" width="3.90" height="3.90" fill="#151515"/>
<rect x="40.55" y="225.51" width="3.90" height="3.90" fill="#151515"/>
<rect x="55.15" y="248.55" width="3.90" height="3.90" fill="#e8291a"/>
<rect x="52.75" y="252.72" width="3.90" height="3.90" fill="#e8291a"/>
<rect x="55.15" y="254.11" width="3.90" height="3.90" fill="#e8291a"/>
<rect x="55.15" y="259.52" width="3.90" height="3.90" fill="#e8291a"/>
<rect x="55.15" y="265.55" width="3.90" height="3.90" fill="#e8291a"/>
<line x1="37.70" y1="220.81" x2="47.20" y2="220.81" stroke="#000" stroke-width="1.35"/>
<line x1="52.00" y1="258.38" x2="62.10" y2="258.38" stroke="#000" stroke-width="1.35"/>
<path d="M42.20 209.90V206.50H57.10V245.10" fill="none" stroke="#1a1a1a" stroke-width="1.0"/>
<text x="49.65" y="208.00" font-size="10.50" font-weight="bold" text-anchor="middle" stroke="#000" stroke-width="0.25">***</text>
<rect x="69.65" y="221.49" width="3.90" height="3.90" fill="#151515"/>
<rect x="66.95" y="224.89" width="3.90" height="3.90" fill="#151515"/>
<rect x="71.65" y="225.51" width="3.90" height="3.90" fill="#151515"/>
<rect x="69.65" y="228.14" width="3.90" height="3.90" fill="#151515"/>
<rect x="84.15" y="216.70" width="3.90" height="3.90" fill="#e8291a"/>
<rect x="81.15" y="219.48" width="3.90" height="3.90" fill="#e8291a"/>
<rect x="83.85" y="222.11" width="3.90" height="3.90" fill="#e8291a"/>
<rect x="83.85" y="228.14" width="3.90" height="3.90" fill="#e8291a"/>
<rect x="83.85" y="231.70" width="3.90" height="3.90" fill="#e8291a"/>
<line x1="67.50" y1="227.46" x2="76.30" y2="227.46" stroke="#000" stroke-width="1.35"/>
<line x1="81.10" y1="225.14" x2="89.90" y2="225.14" stroke="#000" stroke-width="1.35"/>
<path d="M71.60 215.30V211.50H85.80V215.30" fill="none" stroke="#1a1a1a" stroke-width="1.0"/>
<text x="78.70" y="210.00" font-size="7.90" text-anchor="middle" stroke="#000" stroke-width="0.35">ns</text>
<rect x="95.15" y="217.47" width="3.90" height="3.90" fill="#151515"/>
<rect x="98.55" y="218.86" width="3.90" height="3.90" fill="#151515"/>
<rect x="101.25" y="232.31" width="3.90" height="3.90" fill="#151515"/>
<rect x="97.85" y="237.11" width="3.90" height="3.90" fill="#151515"/>
<rect x="109.35" y="246.54" width="3.90" height="3.90" fill="#e8291a"/>
<rect x="115.45" y="248.55" width="3.90" height="3.90" fill="#e8291a"/>
<rect x="112.05" y="250.71" width="3.90" height="3.90" fill="#e8291a"/>
<rect x="109.35" y="255.35" width="3.90" height="3.90" fill="#e8291a"/>
<rect x="112.75" y="257.36" width="3.90" height="3.90" fill="#e8291a"/>
<rect x="112.75" y="264.16" width="3.90" height="3.90" fill="#e8291a"/>
<line x1="95.00" y1="228.23" x2="105.20" y2="228.23" stroke="#000" stroke-width="1.35"/>
<line x1="109.30" y1="256.68" x2="120.10" y2="256.68" stroke="#000" stroke-width="1.35"/>
<path d="M100.20 214.00V206.50H114.70V244.40" fill="none" stroke="#1a1a1a" stroke-width="1.0"/>
<text x="107.45" y="208.00" font-size="10.50" font-weight="bold" text-anchor="middle" stroke="#000" stroke-width="0.25">**</text>
<rect x="126.95" y="218.86" width="3.90" height="3.90" fill="#151515"/>
<rect x="126.95" y="224.89" width="3.90" height="3.90" fill="#151515"/>
<rect x="129.65" y="230.92" width="3.90" height="3.90" fill="#151515"/>
<rect x="126.95" y="235.87" width="3.90" height="3.90" fill="#151515"/>
<rect x="139.15" y="220.10" width="3.90" height="3.90" fill="#e8291a"/>
<rect x="142.55" y="221.49" width="3.90" height="3.90" fill="#e8291a"/>
<rect x="144.55" y="224.28" width="3.90" height="3.90" fill="#e8291a"/>
<rect x="143.25" y="230.92" width="3.90" height="3.90" fill="#e8291a"/>
<rect x="141.15" y="237.11" width="3.90" height="3.90" fill="#e8291a"/>
<line x1="123.50" y1="230.55" x2="134.30" y2="230.55" stroke="#000" stroke-width="1.35"/>
<line x1="138.40" y1="230.09" x2="148.60" y2="230.09" stroke="#000" stroke-width="1.35"/>
<path d="M128.90 215.30V211.50H143.80V215.30" fill="none" stroke="#1a1a1a" stroke-width="1.0"/>
<text x="136.35" y="210.00" font-size="7.90" text-anchor="middle" stroke="#000" stroke-width="0.35">ns</text>
<g transform="translate(54.80 292.00) rotate(-45)" fill="#000"><text x="-31.90" y="0.00" font-size="7.30" font-weight="bold" stroke="#000" stroke-width="0.25">WT</text><path d="M-19.56 -2.41H-15.15" stroke="#000" stroke-width="0.95"/><path d="M-15.45 -3.94L-12.33 -2.41L-15.45 -0.88Z"/><text x="-11.35" y="0.00" font-size="7.30" font-weight="bold" stroke="#000" stroke-width="0.25">WT</text></g>
<g transform="translate(83.60 292.00) rotate(-45)" fill="#000"><text x="-61.80" y="0.00" font-size="7.30" font-weight="bold" font-style="italic" stroke="#000" stroke-width="0.25">Myd88</text><text x="-39.08" y="-3.07" font-size="3.80" font-weight="bold" stroke="#000" stroke-width="0.25">-/-</text><path d="M-34.52 -2.41H-30.11" stroke="#000" stroke-width="0.95"/><path d="M-30.41 -3.94L-27.29 -2.41L-30.41 -0.88Z"/><text x="-26.30" y="0.00" font-size="7.30" font-weight="bold" font-style="italic" stroke="#000" stroke-width="0.25">Myd88</text><text x="-3.58" y="-3.07" font-size="3.80" font-weight="bold" stroke="#000" stroke-width="0.25">-/-</text></g>
<g transform="translate(112.40 292.00) rotate(-45)" fill="#000"><text x="-46.85" y="0.00" font-size="7.30" font-weight="bold" font-style="italic" stroke="#000" stroke-width="0.25">Myd88</text><text x="-24.13" y="-3.07" font-size="3.80" font-weight="bold" stroke="#000" stroke-width="0.25">-/-</text><path d="M-19.56 -2.41H-15.15" stroke="#000" stroke-width="0.95"/><path d="M-15.45 -3.94L-12.33 -2.41L-15.45 -0.88Z"/><text x="-11.35" y="0.00" font-size="7.30" font-weight="bold" stroke="#000" stroke-width="0.25">WT</text></g>
<g transform="translate(141.20 292.00) rotate(-45)" fill="#000"><text x="-46.85" y="0.00" font-size="7.30" font-weight="bold" stroke="#000" stroke-width="0.25">WT</text><path d="M-34.52 -2.41H-30.11" stroke="#000" stroke-width="0.95"/><path d="M-30.41 -3.94L-27.29 -2.41L-30.41 -0.88Z"/><text x="-26.30" y="0.00" font-size="7.30" font-weight="bold" font-style="italic" stroke="#000" stroke-width="0.25">Myd88</text><text x="-3.58" y="-3.07" font-size="3.80" font-weight="bold" stroke="#000" stroke-width="0.25">-/-</text></g>
<text x="9.20" y="245.00" font-size="8.80" text-anchor="middle" stroke="#000" stroke-width="0.35" transform="rotate(-90 9.20 245.00)">(per one hind leg)</text>
<rect x="157.70" y="193.80" width="7.00" height="7.00" fill="#151515"/>
<rect x="157.70" y="204.20" width="7.00" height="7.00" fill="#e8291a"/>
<text x="166.00" y="200.40" font-size="7.70" stroke="#000" stroke-width="0.35">PBS</text>
<text x="166.00" y="210.80" font-size="7.70" stroke="#000" stroke-width="0.35">LPS</text>
<text x="0.40" y="377.60" font-size="14.50" font-weight="bold" stroke="#000" stroke-width="0.25">E</text>
<g transform="translate(31.20 375.00) rotate(0)" fill="#000"><text x="0.00" y="0.00" font-size="9.00" font-weight="bold" stroke="#000" stroke-width="0.25">BM CD11b</text><text x="44.51" y="-4.05" font-size="7.20" font-weight="bold" stroke="#000" stroke-width="0.25">+</text><text x="48.71" y="0.00" font-size="9.00" font-weight="bold" stroke="#000" stroke-width="0.25">Gr1</text><text x="64.22" y="-3.78" font-size="5.94" font-weight="bold" stroke="#000" stroke-width="0.25">high</text><text x="76.76" y="0.00" font-size="9.00" font-weight="bold" stroke="#000" stroke-width="0.25"> (rel.)</text></g>
<g transform="translate(212.00 374.80) rotate(0)" fill="#000"><text x="0.00" y="0.00" font-size="9.00" font-weight="bold" stroke="#000" stroke-width="0.25">BM CD11b</text><text x="44.51" y="-4.05" font-size="7.20" font-weight="bold" stroke="#000" stroke-width="0.25">+</text><text x="48.71" y="0.00" font-size="9.00" font-weight="bold" stroke="#000" stroke-width="0.25">Gr1</text><text x="64.22" y="-3.78" font-size="5.94" font-weight="bold" stroke="#000" stroke-width="0.25">high</text><text x="76.76" y="0.00" font-size="9.00" font-weight="bold" stroke="#000" stroke-width="0.25"> (abs.)</text></g>
<line x1="22.70" y1="395.10" x2="22.70" y2="472.95" stroke="#000" stroke-width="1.3"/>
<line x1="22.05" y1="472.30" x2="138.30" y2="472.30" stroke="#000" stroke-width="1.3"/>
<line x1="20.10" y1="472.20" x2="22.70" y2="472.20" stroke="#000" stroke-width="1.1"/>
<text x="18.30" y="474.68" font-size="7.30" text-anchor="end" stroke="#000" stroke-width="0.35">0</text>
<line x1="20.10" y1="459.40" x2="22.70" y2="459.40" stroke="#000" stroke-width="1.1"/>
<text x="18.30" y="461.88" font-size="7.30" text-anchor="end" stroke="#000" stroke-width="0.35">10</text>
<line x1="20.10" y1="446.50" x2="22.70" y2="446.50" stroke="#000" stroke-width="1.1"/>
<text x="18.30" y="448.98" font-size="7.30" text-anchor="end" stroke="#000" stroke-width="0.35">20</text>
<line x1="20.10" y1="433.70" x2="22.70" y2="433.70" stroke="#000" stroke-width="1.1"/>
<text x="18.30" y="436.18" font-size="7.30" text-anchor="end" stroke="#000" stroke-width="0.35">30</text>
<line x1="20.10" y1="421.50" x2="22.70" y2="421.50" stroke="#000" stroke-width="1.1"/>
<text x="18.30" y="423.98" font-size="7.30" text-anchor="end" stroke="#000" stroke-width="0.35">40</text>
<line x1="20.10" y1="408.50" x2="22.70" y2="408.50" stroke="#000" stroke-width="1.1"/>
<text x="18.30" y="410.98" font-size="7.30" text-anchor="end" stroke="#000" stroke-width="0.35">50</text>
<line x1="20.10" y1="395.90" x2="22.70" y2="395.90" stroke="#000" stroke-width="1.1"/>
<text x="18.30" y="398.38" font-size="7.30" text-anchor="end" stroke="#000" stroke-width="0.35">60</text>
<line x1="51.60" y1="472.30" x2="51.60" y2="474.70" stroke="#000" stroke-width="1.1"/>
<line x1="51.60" y1="395.00" x2="51.60" y2="472.30" stroke="#3c3c3c" stroke-width="1.15" stroke-dasharray="5 3.5"/>
<line x1="80.50" y1="472.30" x2="80.50" y2="474.70" stroke="#000" stroke-width="1.1"/>
<line x1="80.50" y1="395.00" x2="80.50" y2="472.30" stroke="#3c3c3c" stroke-width="1.15" stroke-dasharray="5 3.5"/>
<line x1="109.40" y1="472.30" x2="109.40" y2="474.70" stroke="#000" stroke-width="1.1"/>
<line x1="109.40" y1="395.00" x2="109.40" y2="472.30" stroke="#3c3c3c" stroke-width="1.15" stroke-dasharray="5 3.5"/>
<line x1="138.30" y1="472.30" x2="138.30" y2="474.70" stroke="#000" stroke-width="1.1"/>
<rect x="25.15" y="403.57" width="3.90" height="3.90" fill="#151515"/>
<rect x="28.35" y="406.75" width="3.90" height="3.90" fill="#151515"/>
<rect x="30.25" y="412.58" width="3.90" height="3.90" fill="#151515"/>
<rect x="27.65" y="417.03" width="3.90" height="3.90" fill="#151515"/>
<rect x="42.45" y="437.58" width="3.90" height="3.90" fill="#e8291a"/>
<rect x="41.15" y="445.20" width="3.90" height="3.90" fill="#e8291a"/>
<rect x="43.05" y="445.83" width="3.90" height="3.90" fill="#e8291a"/>
<rect x="42.45" y="452.30" width="3.90" height="3.90" fill="#e8291a"/>
<line x1="25.10" y1="412.25" x2="35.40" y2="412.25" stroke="#000" stroke-width="1.35"/>
<line x1="39.20" y1="447.15" x2="49.50" y2="447.15" stroke="#000" stroke-width="1.35"/>
<path d="M30.00 401.70V397.80H44.40V436.30" fill="none" stroke="#1a1a1a" stroke-width="1.0"/>
<text x="37.20" y="399.30" font-size="10.50" font-weight="bold" text-anchor="middle" stroke="#000" stroke-width="0.25">***</text>
<rect x="56.55" y="409.28" width="3.90" height="3.90" fill="#151515"/>
<rect x="53.95" y="411.82" width="3.90" height="3.90" fill="#151515"/>
<rect x="59.05" y="413.85" width="3.90" height="3.90" fill="#151515"/>
<rect x="56.55" y="417.03" width="3.90" height="3.90" fill="#151515"/>
<rect x="71.85" y="406.11" width="3.90" height="3.90" fill="#e8291a"/>
<rect x="68.65" y="409.28" width="3.90" height="3.90" fill="#e8291a"/>
<rect x="73.15" y="411.19" width="3.90" height="3.90" fill="#e8291a"/>
<rect x="70.65" y="414.49" width="3.90" height="3.90" fill="#e8291a"/>
<line x1="54.00" y1="414.66" x2="64.20" y2="414.66" stroke="#000" stroke-width="1.35"/>
<line x1="68.70" y1="412.63" x2="77.70" y2="412.63" stroke="#000" stroke-width="1.35"/>
<path d="M58.50 404.20V401.00H73.20V404.20" fill="none" stroke="#1a1a1a" stroke-width="1.0"/>
<text x="65.85" y="399.50" font-size="7.90" text-anchor="middle" stroke="#000" stroke-width="0.35">ns</text>
<rect x="82.45" y="409.28" width="3.90" height="3.90" fill="#151515"/>
<rect x="85.65" y="408.65" width="3.90" height="3.90" fill="#151515"/>
<rect x="88.85" y="409.28" width="3.90" height="3.90" fill="#151515"/>
<rect x="85.65" y="410.68" width="3.90" height="3.90" fill="#151515"/>
<rect x="85.65" y="417.03" width="3.90" height="3.90" fill="#151515"/>
<rect x="99.75" y="436.31" width="3.90" height="3.90" fill="#e8291a"/>
<rect x="97.25" y="439.49" width="3.90" height="3.90" fill="#e8291a"/>
<rect x="101.05" y="439.49" width="3.90" height="3.90" fill="#e8291a"/>
<rect x="101.65" y="442.66" width="3.90" height="3.90" fill="#e8291a"/>
<rect x="99.15" y="444.56" width="3.90" height="3.90" fill="#e8291a"/>
<rect x="101.65" y="444.56" width="3.90" height="3.90" fill="#e8291a"/>
<rect x="99.75" y="449.00" width="3.90" height="3.90" fill="#e8291a"/>
<line x1="83.10" y1="412.63" x2="93.40" y2="412.63" stroke="#000" stroke-width="1.35"/>
<line x1="97.20" y1="443.34" x2="107.50" y2="443.34" stroke="#000" stroke-width="1.35"/>
<path d="M87.60 405.50V397.80H102.40V434.40" fill="none" stroke="#1a1a1a" stroke-width="1.0"/>
<text x="95.00" y="399.30" font-size="10.50" font-weight="bold" text-anchor="middle" stroke="#000" stroke-width="0.25">***</text>
<rect x="114.55" y="411.82" width="3.90" height="3.90" fill="#151515"/>
<rect x="111.95" y="414.49" width="3.90" height="3.90" fill="#151515"/>
<rect x="114.55" y="417.03" width="3.90" height="3.90" fill="#151515"/>
<rect x="112.55" y="417.79" width="3.90" height="3.90" fill="#151515"/>
<rect x="114.55" y="431.75" width="3.90" height="3.90" fill="#151515"/>
<rect x="128.65" y="412.58" width="3.90" height="3.90" fill="#e8291a"/>
<rect x="126.65" y="417.03" width="3.90" height="3.90" fill="#e8291a"/>
<rect x="129.85" y="417.03" width="3.90" height="3.90" fill="#e8291a"/>
<rect x="128.65" y="419.56" width="3.90" height="3.90" fill="#e8291a"/>
<rect x="128.65" y="430.48" width="3.90" height="3.90" fill="#e8291a"/>
<line x1="111.60" y1="421.51" x2="121.60" y2="421.51" stroke="#000" stroke-width="1.35"/>
<line x1="126.10" y1="421.51" x2="135.70" y2="421.51" stroke="#000" stroke-width="1.35"/>
<path d="M116.50 410.00V407.00H130.60V410.00" fill="none" stroke="#1a1a1a" stroke-width="1.0"/>
<text x="123.55" y="405.50" font-size="7.90" text-anchor="middle" stroke="#000" stroke-width="0.35">ns</text>
<g transform="translate(42.15 479.90) rotate(-45)" fill="#000"><text x="-31.90" y="0.00" font-size="7.30" font-weight="bold" stroke="#000" stroke-width="0.25">WT</text><path d="M-19.56 -2.41H-15.15" stroke="#000" stroke-width="0.95"/><path d="M-15.45 -3.94L-12.33 -2.41L-15.45 -0.88Z"/><text x="-11.35" y="0.00" font-size="7.30" font-weight="bold" stroke="#000" stroke-width="0.25">WT</text></g>
<g transform="translate(71.05 479.90) rotate(-45)" fill="#000"><text x="-61.80" y="0.00" font-size="7.30" font-weight="bold" font-style="italic" stroke="#000" stroke-width="0.25">Myd88</text><text x="-39.08" y="-3.07" font-size="3.80" font-weight="bold" stroke="#000" stroke-width="0.25">-/-</text><path d="M-34.52 -2.41H-30.11" stroke="#000" stroke-width="0.95"/><path d="M-30.41 -3.94L-27.29 -2.41L-30.41 -0.88Z"/><text x="-26.30" y="0.00" font-size="7.30" font-weight="bold" font-style="italic" stroke="#000" stroke-width="0.25">Myd88</text><text x="-3.58" y="-3.07" font-size="3.80" font-weight="bold" stroke="#000" stroke-width="0.25">-/-</text></g>
<g transform="translate(99.95 479.90) rotate(-45)" fill="#000"><text x="-46.85" y="0.00" font-size="7.30" font-weight="bold" font-style="italic" stroke="#000" stroke-width="0.25">Myd88</text><text x="-24.13" y="-3.07" font-size="3.80" font-weight="bold" stroke="#000" stroke-width="0.25">-/-</text><path d="M-19.56 -2.41H-15.15" stroke="#000" stroke-width="0.95"/><path d="M-15.45 -3.94L-12.33 -2.41L-15.45 -0.88Z"/><text x="-11.35" y="0.00" font-size="7.30" font-weight="bold" stroke="#000" stroke-width="0.25">WT</text></g>
<g transform="translate(128.85 479.90) rotate(-45)" fill="#000"><text x="-46.85" y="0.00" font-size="7.30" font-weight="bold" stroke="#000" stroke-width="0.25">WT</text><path d="M-34.52 -2.41H-30.11" stroke="#000" stroke-width="0.95"/><path d="M-30.41 -3.94L-27.29 -2.41L-30.41 -0.88Z"/><text x="-26.30" y="0.00" font-size="7.30" font-weight="bold" font-style="italic" stroke="#000" stroke-width="0.25">Myd88</text><text x="-3.58" y="-3.07" font-size="3.80" font-weight="bold" stroke="#000" stroke-width="0.25">-/-</text></g>
<text x="7.20" y="435.00" font-size="8.40" text-anchor="middle" stroke="#000" stroke-width="0.35" transform="rotate(-90 7.20 435.00)">(%)</text>
<rect x="133.75" y="383.75" width="7.00" height="7.00" fill="#151515"/>
<rect x="133.75" y="393.75" width="7.00" height="7.00" fill="#e8291a"/>
<text x="142.05" y="390.35" font-size="7.70" stroke="#000" stroke-width="0.35">PBS</text>
<text x="142.05" y="400.35" font-size="7.70" stroke="#000" stroke-width="0.35">LPS</text>
<line x1="207.60" y1="394.60" x2="207.60" y2="472.45" stroke="#000" stroke-width="1.3"/>
<line x1="206.95" y1="471.80" x2="323.20" y2="471.80" stroke="#000" stroke-width="1.3"/>
<line x1="205.00" y1="471.70" x2="207.60" y2="471.70" stroke="#000" stroke-width="1.1"/>
<text x="204.00" y="474.28" font-size="7.60" text-anchor="end" stroke="#000" stroke-width="0.35">0</text>
<line x1="205.00" y1="456.80" x2="207.60" y2="456.80" stroke="#000" stroke-width="1.1"/>
<g transform="translate(204.00 459.38) rotate(0)" fill="#000"><text x="-25.69" y="0.00" font-size="7.60" stroke="#000" stroke-width="0.35">0.5x10</text><text x="-2.87" y="-3.42" font-size="5.17" stroke="#000" stroke-width="0.35">7</text></g>
<line x1="205.00" y1="441.60" x2="207.60" y2="441.60" stroke="#000" stroke-width="1.1"/>
<g transform="translate(204.00 444.18) rotate(0)" fill="#000"><text x="-25.69" y="0.00" font-size="7.60" stroke="#000" stroke-width="0.35">1.0x10</text><text x="-2.87" y="-3.42" font-size="5.17" stroke="#000" stroke-width="0.35">7</text></g>
<line x1="205.00" y1="426.30" x2="207.60" y2="426.30" stroke="#000" stroke-width="1.1"/>
<g transform="translate(204.00 428.88) rotate(0)" fill="#000"><text x="-25.69" y="0.00" font-size="7.60" stroke="#000" stroke-width="0.35">1.5x10</text><text x="-2.87" y="-3.42" font-size="5.17" stroke="#000" stroke-width="0.35">7</text></g>
<line x1="205.00" y1="410.70" x2="207.60" y2="410.70" stroke="#000" stroke-width="1.1"/>
<g transform="translate(204.00 413.28) rotate(0)" fill="#000"><text x="-25.69" y="0.00" font-size="7.60" stroke="#000" stroke-width="0.35">2.0x10</text><text x="-2.87" y="-3.42" font-size="5.17" stroke="#000" stroke-width="0.35">7</text></g>
<line x1="205.00" y1="395.20" x2="207.60" y2="395.20" stroke="#000" stroke-width="1.1"/>
<g transform="translate(204.00 397.78) rotate(0)" fill="#000"><text x="-25.69" y="0.00" font-size="7.60" stroke="#000" stroke-width="0.35">2.5x10</text><text x="-2.87" y="-3.42" font-size="5.17" stroke="#000" stroke-width="0.35">7</text></g>
<line x1="236.50" y1="471.80" x2="236.50" y2="474.20" stroke="#000" stroke-width="1.1"/>
<line x1="236.50" y1="395.00" x2="236.50" y2="471.80" stroke="#3c3c3c" stroke-width="1.15" stroke-dasharray="5 3.5"/>
<line x1="265.40" y1="471.80" x2="265.40" y2="474.20" stroke="#000" stroke-width="1.1"/>
<line x1="265.40" y1="395.00" x2="265.40" y2="471.80" stroke="#3c3c3c" stroke-width="1.15" stroke-dasharray="5 3.5"/>
<line x1="294.30" y1="471.80" x2="294.30" y2="474.20" stroke="#000" stroke-width="1.1"/>
<line x1="294.30" y1="395.00" x2="294.30" y2="471.80" stroke="#3c3c3c" stroke-width="1.15" stroke-dasharray="5 3.5"/>
<line x1="323.20" y1="471.80" x2="323.20" y2="474.20" stroke="#000" stroke-width="1.1"/>
<rect x="213.35" y="406.12" width="3.90" height="3.90" fill="#151515"/>
<rect x="210.15" y="407.94" width="3.90" height="3.90" fill="#151515"/>
<rect x="214.05" y="409.45" width="3.90" height="3.90" fill="#151515"/>
<rect x="210.85" y="410.66" width="3.90" height="3.90" fill="#151515"/>
<rect x="213.35" y="413.09" width="3.90" height="3.90" fill="#151515"/>
<rect x="212.75" y="420.36" width="3.90" height="3.90" fill="#151515"/>
<rect x="227.45" y="457.32" width="3.90" height="3.90" fill="#e8291a"/>
<rect x="225.55" y="460.05" width="3.90" height="3.90" fill="#e8291a"/>
<rect x="230.05" y="460.66" width="3.90" height="3.90" fill="#e8291a"/>
<rect x="227.45" y="463.08" width="3.90" height="3.90" fill="#e8291a"/>
<line x1="210.20" y1="413.82" x2="219.80" y2="413.82" stroke="#000" stroke-width="1.35"/>
<line x1="224.30" y1="462.30" x2="234.60" y2="462.30" stroke="#000" stroke-width="1.35"/>
<path d="M214.70 403.60V400.40H229.80V454.90" fill="none" stroke="#1a1a1a" stroke-width="1.0"/>
<text x="222.25" y="401.90" font-size="10.50" font-weight="bold" text-anchor="middle" stroke="#000" stroke-width="0.25">***</text>
<rect x="242.85" y="416.42" width="3.90" height="3.90" fill="#151515"/>
<rect x="239.05" y="420.36" width="3.90" height="3.90" fill="#151515"/>
<rect x="242.25" y="420.96" width="3.90" height="3.90" fill="#151515"/>
<rect x="245.45" y="421.57" width="3.90" height="3.90" fill="#151515"/>
<rect x="255.65" y="405.51" width="3.90" height="3.90" fill="#e8291a"/>
<rect x="253.15" y="415.81" width="3.90" height="3.90" fill="#e8291a"/>
<rect x="256.95" y="416.12" width="3.90" height="3.90" fill="#e8291a"/>
<rect x="255.65" y="426.72" width="3.90" height="3.90" fill="#e8291a"/>
<line x1="238.40" y1="422.91" x2="249.30" y2="422.91" stroke="#000" stroke-width="1.35"/>
<line x1="252.50" y1="417.76" x2="262.80" y2="417.76" stroke="#000" stroke-width="1.35"/>
<path d="M243.50 403.60V400.60H258.30V403.60" fill="none" stroke="#1a1a1a" stroke-width="1.0"/>
<text x="250.90" y="399.10" font-size="7.90" text-anchor="middle" stroke="#000" stroke-width="0.35">ns</text>
<rect x="270.35" y="410.06" width="3.90" height="3.90" fill="#151515"/>
<rect x="270.35" y="417.03" width="3.90" height="3.90" fill="#151515"/>
<rect x="273.55" y="422.18" width="3.90" height="3.90" fill="#151515"/>
<rect x="270.35" y="427.93" width="3.90" height="3.90" fill="#151515"/>
<rect x="284.85" y="452.17" width="3.90" height="3.90" fill="#e8291a"/>
<rect x="283.25" y="458.54" width="3.90" height="3.90" fill="#e8291a"/>
<rect x="286.45" y="459.44" width="3.90" height="3.90" fill="#e8291a"/>
<rect x="284.85" y="460.66" width="3.90" height="3.90" fill="#e8291a"/>
<line x1="267.20" y1="421.40" x2="278.10" y2="421.40" stroke="#000" stroke-width="1.35"/>
<line x1="282.00" y1="461.39" x2="291.60" y2="461.39" stroke="#000" stroke-width="1.35"/>
<path d="M272.30 405.50V400.60H286.80V452.30" fill="none" stroke="#1a1a1a" stroke-width="1.0"/>
<text x="279.55" y="402.10" font-size="10.50" font-weight="bold" text-anchor="middle" stroke="#000" stroke-width="0.25">***</text>
<rect x="296.05" y="423.99" width="3.90" height="3.90" fill="#151515"/>
<rect x="298.55" y="426.12" width="3.90" height="3.90" fill="#151515"/>
<rect x="301.15" y="429.15" width="3.90" height="3.90" fill="#151515"/>
<rect x="299.25" y="432.48" width="3.90" height="3.90" fill="#151515"/>
<rect x="313.35" y="417.63" width="3.90" height="3.90" fill="#e8291a"/>
<rect x="311.45" y="421.57" width="3.90" height="3.90" fill="#e8291a"/>
<rect x="315.25" y="421.57" width="3.90" height="3.90" fill="#e8291a"/>
<rect x="313.35" y="423.99" width="3.90" height="3.90" fill="#e8291a"/>
<rect x="313.35" y="433.69" width="3.90" height="3.90" fill="#e8291a"/>
<rect x="313.35" y="439.45" width="3.90" height="3.90" fill="#e8291a"/>
<line x1="296.00" y1="429.28" x2="306.30" y2="429.28" stroke="#000" stroke-width="1.35"/>
<line x1="310.80" y1="428.67" x2="321.00" y2="428.67" stroke="#000" stroke-width="1.35"/>
<path d="M301.80 416.40V413.80H315.90V416.40" fill="none" stroke="#1a1a1a" stroke-width="1.0"/>
<text x="308.85" y="412.30" font-size="7.90" text-anchor="middle" stroke="#000" stroke-width="0.35">ns</text>
<g transform="translate(227.05 479.40) rotate(-45)" fill="#000"><text x="-31.90" y="0.00" font-size="7.30" font-weight="bold" stroke="#000" stroke-width="0.25">WT</text><path d="M-19.56 -2.41H-15.15" stroke="#000" stroke-width="0.95"/><path d="M-15.45 -3.94L-12.33 -2.41L-15.45 -0.88Z"/><text x="-11.35" y="0.00" font-size="7.30" font-weight="bold" stroke="#000" stroke-width="0.25">WT</text></g>
<g transform="translate(255.95 479.40) rotate(-45)" fill="#000"><text x="-61.80" y="0.00" font-size="7.30" font-weight="bold" font-style="italic" stroke="#000" stroke-width="0.25">Myd88</text><text x="-39.08" y="-3.07" font-size="3.80" font-weight="bold" stroke="#000" stroke-width="0.25">-/-</text><path d="M-34.52 -2.41H-30.11" stroke="#000" stroke-width="0.95"/><path d="M-30.41 -3.94L-27.29 -2.41L-30.41 -0.88Z"/><text x="-26.30" y="0.00" font-size="7.30" font-weight="bold" font-style="italic" stroke="#000" stroke-width="0.25">Myd88</text><text x="-3.58" y="-3.07" font-size="3.80" font-weight="bold" stroke="#000" stroke-width="0.25">-/-</text></g>
<g transform="translate(284.85 479.40) rotate(-45)" fill="#000"><text x="-46.85" y="0.00" font-size="7.30" font-weight="bold" font-style="italic" stroke="#000" stroke-width="0.25">Myd88</text><text x="-24.13" y="-3.07" font-size="3.80" font-weight="bold" stroke="#000" stroke-width="0.25">-/-</text><path d="M-19.56 -2.41H-15.15" stroke="#000" stroke-width="0.95"/><path d="M-15.45 -3.94L-12.33 -2.41L-15.45 -0.88Z"/><text x="-11.35" y="0.00" font-size="7.30" font-weight="bold" stroke="#000" stroke-width="0.25">WT</text></g>
<g transform="translate(313.75 479.40) rotate(-45)" fill="#000"><text x="-46.85" y="0.00" font-size="7.30" font-weight="bold" stroke="#000" stroke-width="0.25">WT</text><path d="M-34.52 -2.41H-30.11" stroke="#000" stroke-width="0.95"/><path d="M-30.41 -3.94L-27.29 -2.41L-30.41 -0.88Z"/><text x="-26.30" y="0.00" font-size="7.30" font-weight="bold" font-style="italic" stroke="#000" stroke-width="0.25">Myd88</text><text x="-3.58" y="-3.07" font-size="3.80" font-weight="bold" stroke="#000" stroke-width="0.25">-/-</text></g>
<text x="172.20" y="434.50" font-size="8.70" text-anchor="middle" stroke="#000" stroke-width="0.35" transform="rotate(-90 172.20 434.50)">(cells per one hind leg)</text>
<rect x="314.40" y="383.70" width="7.00" height="7.00" fill="#151515"/>
<rect x="314.40" y="393.70" width="7.00" height="7.00" fill="#e8291a"/>
<text x="322.70" y="390.30" font-size="7.70" stroke="#000" stroke-width="0.35">PBS</text>
<text x="322.70" y="400.30" font-size="7.70" stroke="#000" stroke-width="0.35">LPS</text>
<text x="0.00" y="554.40" font-size="14.50" font-weight="bold" stroke="#000" stroke-width="0.25">F</text>
<g transform="translate(31.00 551.20) rotate(0)" fill="#000"><text x="0.00" y="0.00" font-size="9.00" font-weight="bold" stroke="#000" stroke-width="0.25">BM CD11b</text><text x="44.51" y="-4.05" font-size="7.20" font-weight="bold" stroke="#000" stroke-width="0.25">+</text><text x="48.71" y="0.00" font-size="9.00" font-weight="bold" stroke="#000" stroke-width="0.25">Gr1</text><text x="64.22" y="-3.78" font-size="5.94" font-weight="bold" stroke="#000" stroke-width="0.25">low</text><text x="74.12" y="0.00" font-size="9.00" font-weight="bold" stroke="#000" stroke-width="0.25"> (rel.)</text></g>
<g transform="translate(214.00 550.70) rotate(0)" fill="#000"><text x="0.00" y="0.00" font-size="9.00" font-weight="bold" stroke="#000" stroke-width="0.25">BM CD11b</text><text x="44.51" y="-4.05" font-size="7.20" font-weight="bold" stroke="#000" stroke-width="0.25">+</text><text x="48.71" y="0.00" font-size="9.00" font-weight="bold" stroke="#000" stroke-width="0.25">Gr1</text><text x="64.22" y="-3.78" font-size="5.94" font-weight="bold" stroke="#000" stroke-width="0.25">low</text><text x="74.12" y="0.00" font-size="9.00" font-weight="bold" stroke="#000" stroke-width="0.25"> (abs.)</text></g>
<line x1="22.40" y1="572.30" x2="22.40" y2="650.55" stroke="#000" stroke-width="1.3"/>
<line x1="21.75" y1="649.90" x2="137.60" y2="649.90" stroke="#000" stroke-width="1.3"/>
<line x1="19.80" y1="649.80" x2="22.40" y2="649.80" stroke="#000" stroke-width="1.1"/>
<text x="18.80" y="652.38" font-size="7.60" text-anchor="end" stroke="#000" stroke-width="0.35">0</text>
<line x1="19.80" y1="630.60" x2="22.40" y2="630.60" stroke="#000" stroke-width="1.1"/>
<text x="18.80" y="633.18" font-size="7.60" text-anchor="end" stroke="#000" stroke-width="0.35">20</text>
<line x1="19.80" y1="611.40" x2="22.40" y2="611.40" stroke="#000" stroke-width="1.1"/>
<text x="18.80" y="613.98" font-size="7.60" text-anchor="end" stroke="#000" stroke-width="0.35">40</text>
<line x1="19.80" y1="592.10" x2="22.40" y2="592.10" stroke="#000" stroke-width="1.1"/>
<text x="18.80" y="594.68" font-size="7.60" text-anchor="end" stroke="#000" stroke-width="0.35">60</text>
<line x1="19.80" y1="572.90" x2="22.40" y2="572.90" stroke="#000" stroke-width="1.1"/>
<text x="18.80" y="575.48" font-size="7.60" text-anchor="end" stroke="#000" stroke-width="0.35">80</text>
<line x1="51.20" y1="649.90" x2="51.20" y2="652.30" stroke="#000" stroke-width="1.1"/>
<line x1="51.20" y1="572.50" x2="51.20" y2="649.90" stroke="#3c3c3c" stroke-width="1.15" stroke-dasharray="5 3.5"/>
<line x1="80.00" y1="649.90" x2="80.00" y2="652.30" stroke="#000" stroke-width="1.1"/>
<line x1="80.00" y1="572.50" x2="80.00" y2="649.90" stroke="#3c3c3c" stroke-width="1.15" stroke-dasharray="5 3.5"/>
<line x1="108.80" y1="649.90" x2="108.80" y2="652.30" stroke="#000" stroke-width="1.1"/>
<line x1="108.80" y1="572.50" x2="108.80" y2="649.90" stroke="#3c3c3c" stroke-width="1.15" stroke-dasharray="5 3.5"/>
<line x1="137.60" y1="649.90" x2="137.60" y2="652.30" stroke="#000" stroke-width="1.1"/>
<rect x="27.05" y="622.88" width="3.90" height="3.90" fill="#151515"/>
<rect x="23.85" y="628.00" width="3.90" height="3.90" fill="#151515"/>
<rect x="30.25" y="628.67" width="3.90" height="3.90" fill="#151515"/>
<rect x="27.05" y="631.80" width="3.90" height="3.90" fill="#151515"/>
<rect x="41.75" y="579.93" width="3.90" height="3.90" fill="#e8291a"/>
<rect x="38.55" y="583.73" width="3.90" height="3.90" fill="#e8291a"/>
<rect x="41.75" y="590.10" width="3.90" height="3.90" fill="#e8291a"/>
<rect x="44.95" y="590.86" width="3.90" height="3.90" fill="#e8291a"/>
<line x1="24.50" y1="630.05" x2="34.10" y2="630.05" stroke="#000" stroke-width="1.35"/>
<line x1="38.60" y1="588.25" x2="48.80" y2="588.25" stroke="#000" stroke-width="1.35"/>
<path d="M29.20 621.00V576.10H43.70V578.70" fill="none" stroke="#1a1a1a" stroke-width="1.0"/>
<text x="36.45" y="577.60" font-size="10.50" font-weight="bold" text-anchor="middle" stroke="#000" stroke-width="0.25">***</text>
<rect x="56.55" y="629.24" width="3.90" height="3.90" fill="#151515"/>
<rect x="53.35" y="630.28" width="3.90" height="3.90" fill="#151515"/>
<rect x="59.05" y="630.57" width="3.90" height="3.90" fill="#151515"/>
<rect x="55.85" y="634.46" width="3.90" height="3.90" fill="#151515"/>
<rect x="68.65" y="626.77" width="3.90" height="3.90" fill="#e8291a"/>
<rect x="71.85" y="627.34" width="3.90" height="3.90" fill="#e8291a"/>
<rect x="67.45" y="628.00" width="3.90" height="3.90" fill="#e8291a"/>
<rect x="69.95" y="631.23" width="3.90" height="3.90" fill="#e8291a"/>
<line x1="53.30" y1="631.86" x2="62.90" y2="631.86" stroke="#000" stroke-width="1.35"/>
<line x1="67.40" y1="630.05" x2="77.70" y2="630.05" stroke="#000" stroke-width="1.35"/>
<path d="M57.80 624.20V621.20H72.60V624.20" fill="none" stroke="#1a1a1a" stroke-width="1.0"/>
<text x="65.20" y="619.70" font-size="7.90" text-anchor="middle" stroke="#000" stroke-width="0.35">ns</text>
<rect x="85.05" y="624.77" width="3.90" height="3.90" fill="#151515"/>
<rect x="81.85" y="628.67" width="3.90" height="3.90" fill="#151515"/>
<rect x="88.25" y="629.24" width="3.90" height="3.90" fill="#151515"/>
<rect x="85.05" y="632.47" width="3.90" height="3.90" fill="#151515"/>
<rect x="102.95" y="581.83" width="3.90" height="3.90" fill="#e8291a"/>
<rect x="99.75" y="583.73" width="3.90" height="3.90" fill="#e8291a"/>
<rect x="96.55" y="586.96" width="3.90" height="3.90" fill="#e8291a"/>
<rect x="101.05" y="587.63" width="3.90" height="3.90" fill="#e8291a"/>
<rect x="99.15" y="590.10" width="3.90" height="3.90" fill="#e8291a"/>
<rect x="99.15" y="598.55" width="3.90" height="3.90" fill="#e8291a"/>
<line x1="82.80" y1="630.62" x2="92.40" y2="630.62" stroke="#000" stroke-width="1.35"/>
<line x1="96.60" y1="588.91" x2="106.80" y2="588.91" stroke="#000" stroke-width="1.35"/>
<path d="M86.70 622.30V576.10H101.70V580.00" fill="none" stroke="#1a1a1a" stroke-width="1.0"/>
<text x="94.20" y="577.60" font-size="10.50" font-weight="bold" text-anchor="middle" stroke="#000" stroke-width="0.25">***</text>
<rect x="113.85" y="622.21" width="3.90" height="3.90" fill="#151515"/>
<rect x="110.65" y="626.01" width="3.90" height="3.90" fill="#151515"/>
<rect x="117.05" y="626.01" width="3.90" height="3.90" fill="#151515"/>
<rect x="113.85" y="629.90" width="3.90" height="3.90" fill="#151515"/>
<rect x="127.95" y="617.75" width="3.90" height="3.90" fill="#e8291a"/>
<rect x="124.75" y="620.31" width="3.90" height="3.90" fill="#e8291a"/>
<rect x="130.55" y="622.88" width="3.90" height="3.90" fill="#e8291a"/>
<rect x="127.35" y="625.44" width="3.90" height="3.90" fill="#e8291a"/>
<rect x="130.55" y="626.77" width="3.90" height="3.90" fill="#e8291a"/>
<rect x="127.95" y="630.57" width="3.90" height="3.90" fill="#e8291a"/>
<line x1="110.70" y1="627.96" x2="121.00" y2="627.96" stroke="#000" stroke-width="1.35"/>
<line x1="125.40" y1="625.49" x2="135.70" y2="625.49" stroke="#000" stroke-width="1.35"/>
<path d="M115.80 615.80V612.60H130.60V615.80" fill="none" stroke="#1a1a1a" stroke-width="1.0"/>
<text x="123.20" y="611.10" font-size="7.90" text-anchor="middle" stroke="#000" stroke-width="0.35">ns</text>
<g transform="translate(41.80 657.50) rotate(-45)" fill="#000"><text x="-31.90" y="0.00" font-size="7.30" font-weight="bold" stroke="#000" stroke-width="0.25">WT</text><path d="M-19.56 -2.41H-15.15" stroke="#000" stroke-width="0.95"/><path d="M-15.45 -3.94L-12.33 -2.41L-15.45 -0.88Z"/><text x="-11.35" y="0.00" font-size="7.30" font-weight="bold" stroke="#000" stroke-width="0.25">WT</text></g>
<g transform="translate(70.60 657.50) rotate(-45)" fill="#000"><text x="-61.80" y="0.00" font-size="7.30" font-weight="bold" font-style="italic" stroke="#000" stroke-width="0.25">Myd88</text><text x="-39.08" y="-3.07" font-size="3.80" font-weight="bold" stroke="#000" stroke-width="0.25">-/-</text><path d="M-34.52 -2.41H-30.11" stroke="#000" stroke-width="0.95"/><path d="M-30.41 -3.94L-27.29 -2.41L-30.41 -0.88Z"/><text x="-26.30" y="0.00" font-size="7.30" font-weight="bold" font-style="italic" stroke="#000" stroke-width="0.25">Myd88</text><text x="-3.58" y="-3.07" font-size="3.80" font-weight="bold" stroke="#000" stroke-width="0.25">-/-</text></g>
<g transform="translate(99.40 657.50) rotate(-45)" fill="#000"><text x="-46.85" y="0.00" font-size="7.30" font-weight="bold" font-style="italic" stroke="#000" stroke-width="0.25">Myd88</text><text x="-24.13" y="-3.07" font-size="3.80" font-weight="bold" stroke="#000" stroke-width="0.25">-/-</text><path d="M-19.56 -2.41H-15.15" stroke="#000" stroke-width="0.95"/><path d="M-15.45 -3.94L-12.33 -2.41L-15.45 -0.88Z"/><text x="-11.35" y="0.00" font-size="7.30" font-weight="bold" stroke="#000" stroke-width="0.25">WT</text></g>
<g transform="translate(128.20 657.50) rotate(-45)" fill="#000"><text x="-46.85" y="0.00" font-size="7.30" font-weight="bold" stroke="#000" stroke-width="0.25">WT</text><path d="M-34.52 -2.41H-30.11" stroke="#000" stroke-width="0.95"/><path d="M-30.41 -3.94L-27.29 -2.41L-30.41 -0.88Z"/><text x="-26.30" y="0.00" font-size="7.30" font-weight="bold" font-style="italic" stroke="#000" stroke-width="0.25">Myd88</text><text x="-3.58" y="-3.07" font-size="3.80" font-weight="bold" stroke="#000" stroke-width="0.25">-/-</text></g>
<text x="7.20" y="612.00" font-size="8.40" text-anchor="middle" stroke="#000" stroke-width="0.35" transform="rotate(-90 7.20 612.00)">(%)</text>
<rect x="133.60" y="561.20" width="7.00" height="7.00" fill="#151515"/>
<rect x="133.60" y="571.50" width="7.00" height="7.00" fill="#e8291a"/>
<text x="141.90" y="567.80" font-size="7.70" stroke="#000" stroke-width="0.35">PBS</text>
<text x="141.90" y="578.10" font-size="7.70" stroke="#000" stroke-width="0.35">LPS</text>
<line x1="207.30" y1="572.30" x2="207.30" y2="650.35" stroke="#000" stroke-width="1.3"/>
<line x1="206.65" y1="649.70" x2="323.30" y2="649.70" stroke="#000" stroke-width="1.3"/>
<line x1="204.70" y1="649.80" x2="207.30" y2="649.80" stroke="#000" stroke-width="1.1"/>
<text x="203.70" y="652.38" font-size="7.60" text-anchor="end" stroke="#000" stroke-width="0.35">0</text>
<line x1="204.70" y1="624.20" x2="207.30" y2="624.20" stroke="#000" stroke-width="1.1"/>
<g transform="translate(203.70 626.78) rotate(0)" fill="#000"><text x="-25.69" y="0.00" font-size="7.60" stroke="#000" stroke-width="0.35">0.5x10</text><text x="-2.87" y="-3.42" font-size="5.17" stroke="#000" stroke-width="0.35">7</text></g>
<line x1="204.70" y1="598.50" x2="207.30" y2="598.50" stroke="#000" stroke-width="1.1"/>
<g transform="translate(203.70 601.08) rotate(0)" fill="#000"><text x="-25.69" y="0.00" font-size="7.60" stroke="#000" stroke-width="0.35">1.0x10</text><text x="-2.87" y="-3.42" font-size="5.17" stroke="#000" stroke-width="0.35">7</text></g>
<line x1="204.70" y1="572.90" x2="207.30" y2="572.90" stroke="#000" stroke-width="1.1"/>
<g transform="translate(203.70 575.48) rotate(0)" fill="#000"><text x="-25.69" y="0.00" font-size="7.60" stroke="#000" stroke-width="0.35">1.5x10</text><text x="-2.87" y="-3.42" font-size="5.17" stroke="#000" stroke-width="0.35">7</text></g>
<line x1="236.30" y1="649.70" x2="236.30" y2="652.10" stroke="#000" stroke-width="1.1"/>
<line x1="236.30" y1="572.50" x2="236.30" y2="649.70" stroke="#3c3c3c" stroke-width="1.15" stroke-dasharray="5 3.5"/>
<line x1="265.30" y1="649.70" x2="265.30" y2="652.10" stroke="#000" stroke-width="1.1"/>
<line x1="265.30" y1="572.50" x2="265.30" y2="649.70" stroke="#3c3c3c" stroke-width="1.15" stroke-dasharray="5 3.5"/>
<line x1="294.30" y1="649.70" x2="294.30" y2="652.10" stroke="#000" stroke-width="1.1"/>
<line x1="294.30" y1="572.50" x2="294.30" y2="649.70" stroke="#3c3c3c" stroke-width="1.15" stroke-dasharray="5 3.5"/>
<line x1="323.30" y1="649.70" x2="323.30" y2="652.10" stroke="#000" stroke-width="1.1"/>
<rect x="213.05" y="597.43" width="3.90" height="3.90" fill="#151515"/>
<rect x="209.85" y="605.00" width="3.90" height="3.90" fill="#151515"/>
<rect x="213.05" y="605.51" width="3.90" height="3.90" fill="#151515"/>
<rect x="216.25" y="606.52" width="3.90" height="3.90" fill="#151515"/>
<rect x="213.05" y="608.54" width="3.90" height="3.90" fill="#151515"/>
<rect x="230.35" y="583.28" width="3.90" height="3.90" fill="#e8291a"/>
<rect x="227.15" y="585.80" width="3.90" height="3.90" fill="#e8291a"/>
<rect x="227.15" y="601.97" width="3.90" height="3.90" fill="#e8291a"/>
<rect x="227.15" y="608.54" width="3.90" height="3.90" fill="#e8291a"/>
<line x1="209.80" y1="607.46" x2="220.10" y2="607.46" stroke="#000" stroke-width="1.35"/>
<line x1="224.00" y1="596.85" x2="233.60" y2="596.85" stroke="#000" stroke-width="1.35"/>
<path d="M214.70 593.40V577.40H229.70V580.00" fill="none" stroke="#1a1a1a" stroke-width="1.0"/>
<text x="222.20" y="575.90" font-size="7.90" text-anchor="middle" stroke="#000" stroke-width="0.35">0.19</text>
<rect x="238.65" y="611.57" width="3.90" height="3.90" fill="#151515"/>
<rect x="245.05" y="610.06" width="3.90" height="3.90" fill="#151515"/>
<rect x="241.85" y="614.61" width="3.90" height="3.90" fill="#151515"/>
<rect x="241.85" y="622.18" width="3.90" height="3.90" fill="#151515"/>
<rect x="252.75" y="601.97" width="3.90" height="3.90" fill="#e8291a"/>
<rect x="255.95" y="606.02" width="3.90" height="3.90" fill="#e8291a"/>
<rect x="259.15" y="610.06" width="3.90" height="3.90" fill="#e8291a"/>
<rect x="255.95" y="615.11" width="3.90" height="3.90" fill="#e8291a"/>
<line x1="238.70" y1="616.56" x2="249.00" y2="616.56" stroke="#000" stroke-width="1.35"/>
<line x1="252.80" y1="610.49" x2="263.10" y2="610.49" stroke="#000" stroke-width="1.35"/>
<path d="M243.80 599.20V596.60H258.60V599.20" fill="none" stroke="#1a1a1a" stroke-width="1.0"/>
<text x="251.20" y="595.10" font-size="7.90" text-anchor="middle" stroke="#000" stroke-width="0.35">0.15</text>
<rect x="273.55" y="603.99" width="3.90" height="3.90" fill="#151515"/>
<rect x="267.85" y="608.04" width="3.90" height="3.90" fill="#151515"/>
<rect x="270.35" y="608.54" width="3.90" height="3.90" fill="#151515"/>
<rect x="270.35" y="624.71" width="3.90" height="3.90" fill="#151515"/>
<rect x="281.25" y="577.21" width="3.90" height="3.90" fill="#e8291a"/>
<rect x="284.85" y="579.74" width="3.90" height="3.90" fill="#e8291a"/>
<rect x="284.85" y="586.81" width="3.90" height="3.90" fill="#e8291a"/>
<rect x="281.95" y="594.39" width="3.90" height="3.90" fill="#e8291a"/>
<rect x="284.85" y="595.91" width="3.90" height="3.90" fill="#e8291a"/>
<rect x="284.85" y="608.54" width="3.90" height="3.90" fill="#e8291a"/>
<line x1="267.20" y1="614.03" x2="278.10" y2="614.03" stroke="#000" stroke-width="1.35"/>
<line x1="281.30" y1="592.81" x2="291.60" y2="592.81" stroke="#000" stroke-width="1.35"/>
<path d="M272.70 600.50V571.60H287.30V575.50" fill="none" stroke="#1a1a1a" stroke-width="1.0"/>
<text x="280.00" y="573.10" font-size="10.50" font-weight="bold" text-anchor="middle" stroke="#000" stroke-width="0.25">**</text>
<rect x="299.25" y="597.43" width="3.90" height="3.90" fill="#151515"/>
<rect x="299.25" y="603.99" width="3.90" height="3.90" fill="#151515"/>
<rect x="301.75" y="611.57" width="3.90" height="3.90" fill="#151515"/>
<rect x="299.25" y="615.62" width="3.90" height="3.90" fill="#151515"/>
<rect x="313.35" y="583.78" width="3.90" height="3.90" fill="#e8291a"/>
<rect x="313.35" y="591.36" width="3.90" height="3.90" fill="#e8291a"/>
<rect x="313.35" y="600.96" width="3.90" height="3.90" fill="#e8291a"/>
<rect x="310.75" y="608.54" width="3.90" height="3.90" fill="#e8291a"/>
<rect x="313.95" y="610.56" width="3.90" height="3.90" fill="#e8291a"/>
<rect x="313.95" y="616.63" width="3.90" height="3.90" fill="#e8291a"/>
<line x1="296.00" y1="609.48" x2="306.30" y2="609.48" stroke="#000" stroke-width="1.35"/>
<line x1="310.80" y1="603.92" x2="321.00" y2="603.92" stroke="#000" stroke-width="1.35"/>
<path d="M301.20 581.20V578.70H316.30V581.20" fill="none" stroke="#1a1a1a" stroke-width="1.0"/>
<text x="308.75" y="577.20" font-size="7.90" text-anchor="middle" stroke="#000" stroke-width="0.35">0.51</text>
<g transform="translate(226.80 657.30) rotate(-45)" fill="#000"><text x="-31.90" y="0.00" font-size="7.30" font-weight="bold" stroke="#000" stroke-width="0.25">WT</text><path d="M-19.56 -2.41H-15.15" stroke="#000" stroke-width="0.95"/><path d="M-15.45 -3.94L-12.33 -2.41L-15.45 -0.88Z"/><text x="-11.35" y="0.00" font-size="7.30" font-weight="bold" stroke="#000" stroke-width="0.25">WT</text></g>
<g transform="translate(255.80 657.30) rotate(-45)" fill="#000"><text x="-61.80" y="0.00" font-size="7.30" font-weight="bold" font-style="italic" stroke="#000" stroke-width="0.25">Myd88</text><text x="-39.08" y="-3.07" font-size="3.80" font-weight="bold" stroke="#000" stroke-width="0.25">-/-</text><path d="M-34.52 -2.41H-30.11" stroke="#000" stroke-width="0.95"/><path d="M-30.41 -3.94L-27.29 -2.41L-30.41 -0.88Z"/><text x="-26.30" y="0.00" font-size="7.30" font-weight="bold" font-style="italic" stroke="#000" stroke-width="0.25">Myd88</text><text x="-3.58" y="-3.07" font-size="3.80" font-weight="bold" stroke="#000" stroke-width="0.25">-/-</text></g>
<g transform="translate(284.80 657.30) rotate(-45)" fill="#000"><text x="-46.85" y="0.00" font-size="7.30" font-weight="bold" font-style="italic" stroke="#000" stroke-width="0.25">Myd88</text><text x="-24.13" y="-3.07" font-size="3.80" font-weight="bold" stroke="#000" stroke-width="0.25">-/-</text><path d="M-19.56 -2.41H-15.15" stroke="#000" stroke-width="0.95"/><path d="M-15.45 -3.94L-12.33 -2.41L-15.45 -0.88Z"/><text x="-11.35" y="0.00" font-size="7.30" font-weight="bold" stroke="#000" stroke-width="0.25">WT</text></g>
<g transform="translate(313.80 657.30) rotate(-45)" fill="#000"><text x="-46.85" y="0.00" font-size="7.30" font-weight="bold" stroke="#000" stroke-width="0.25">WT</text><path d="M-34.52 -2.41H-30.11" stroke="#000" stroke-width="0.95"/><path d="M-30.41 -3.94L-27.29 -2.41L-30.41 -0.88Z"/><text x="-26.30" y="0.00" font-size="7.30" font-weight="bold" font-style="italic" stroke="#000" stroke-width="0.25">Myd88</text><text x="-3.58" y="-3.07" font-size="3.80" font-weight="bold" stroke="#000" stroke-width="0.25">-/-</text></g>
<text x="172.20" y="612.70" font-size="8.80" text-anchor="middle" stroke="#000" stroke-width="0.35" transform="rotate(-90 172.20 612.70)">(cells per one hind leg)</text>
<rect x="321.80" y="561.00" width="7.00" height="7.00" fill="#151515"/>
<rect x="321.80" y="571.00" width="7.00" height="7.00" fill="#e8291a"/>
<text x="330.10" y="567.60" font-size="7.70" stroke="#000" stroke-width="0.35">PBS</text>
<text x="330.10" y="577.60" font-size="7.70" stroke="#000" stroke-width="0.35">LPS</text>
<text x="353.80" y="553.40" font-size="16.20" font-weight="bold" stroke="#000" stroke-width="0.25">G</text>
<text x="415.30" y="551.50" font-size="9.00" font-weight="bold" stroke="#000" stroke-width="0.25">G-CSF in plasma</text>
<line x1="392.90" y1="572.50" x2="392.90" y2="622.20" stroke="#000" stroke-width="1.3"/>
<line x1="392.90" y1="628.80" x2="392.90" y2="650.30" stroke="#000" stroke-width="1.3"/>
<line x1="392.25" y1="649.70" x2="508.90" y2="649.70" stroke="#000" stroke-width="1.3"/>
<line x1="390.30" y1="649.70" x2="392.90" y2="649.70" stroke="#000" stroke-width="1.1"/>
<text x="389.30" y="652.28" font-size="7.60" text-anchor="end" stroke="#000" stroke-width="0.35">0</text>
<line x1="390.30" y1="639.30" x2="392.90" y2="639.30" stroke="#000" stroke-width="1.1"/>
<text x="389.30" y="641.88" font-size="7.60" text-anchor="end" stroke="#000" stroke-width="0.35">500</text>
<line x1="390.30" y1="628.80" x2="392.90" y2="628.80" stroke="#000" stroke-width="1.1"/>
<text x="389.30" y="631.38" font-size="7.60" text-anchor="end" stroke="#000" stroke-width="0.35">1,000</text>
<line x1="390.30" y1="607.20" x2="392.90" y2="607.20" stroke="#000" stroke-width="1.1"/>
<text x="389.30" y="609.78" font-size="7.60" text-anchor="end" stroke="#000" stroke-width="0.35">10,000</text>
<line x1="390.30" y1="590.10" x2="392.90" y2="590.10" stroke="#000" stroke-width="1.1"/>
<text x="389.30" y="592.68" font-size="7.60" text-anchor="end" stroke="#000" stroke-width="0.35">20,000</text>
<line x1="390.30" y1="573.10" x2="392.90" y2="573.10" stroke="#000" stroke-width="1.1"/>
<text x="389.30" y="575.68" font-size="7.60" text-anchor="end" stroke="#000" stroke-width="0.35">30,000</text>
<line x1="390.30" y1="622.20" x2="392.90" y2="622.20" stroke="#000" stroke-width="1.1"/>
<line x1="421.90" y1="649.70" x2="421.90" y2="652.10" stroke="#000" stroke-width="1.1"/>
<line x1="421.90" y1="572.00" x2="421.90" y2="649.70" stroke="#3c3c3c" stroke-width="1.15" stroke-dasharray="5 3.5"/>
<line x1="450.90" y1="649.70" x2="450.90" y2="652.10" stroke="#000" stroke-width="1.1"/>
<line x1="450.90" y1="572.00" x2="450.90" y2="649.70" stroke="#3c3c3c" stroke-width="1.15" stroke-dasharray="5 3.5"/>
<line x1="479.90" y1="649.70" x2="479.90" y2="652.10" stroke="#000" stroke-width="1.1"/>
<line x1="479.90" y1="572.00" x2="479.90" y2="649.70" stroke="#3c3c3c" stroke-width="1.15" stroke-dasharray="5 3.5"/>
<line x1="508.90" y1="649.70" x2="508.90" y2="652.10" stroke="#000" stroke-width="1.1"/>
<rect x="395.25" y="639.95" width="3.90" height="3.90" fill="#151515"/>
<rect x="398.55" y="639.25" width="3.90" height="3.90" fill="#151515"/>
<rect x="401.15" y="640.55" width="3.90" height="3.90" fill="#151515"/>
<rect x="397.85" y="643.25" width="3.90" height="3.90" fill="#151515"/>
<rect x="412.25" y="580.35" width="3.90" height="3.90" fill="#e8291a"/>
<rect x="412.25" y="589.45" width="3.90" height="3.90" fill="#e8291a"/>
<rect x="412.25" y="597.35" width="3.90" height="3.90" fill="#e8291a"/>
<rect x="412.25" y="605.25" width="3.90" height="3.90" fill="#e8291a"/>
<line x1="395.20" y1="642.80" x2="405.00" y2="642.80" stroke="#000" stroke-width="1.35"/>
<line x1="409.00" y1="595.40" x2="420.10" y2="595.40" stroke="#000" stroke-width="1.35"/>
<path d="M399.80 637.30V569.40H414.20V577.00" fill="none" stroke="#1a1a1a" stroke-width="1.0"/>
<text x="407.00" y="570.90" font-size="10.50" font-weight="bold" text-anchor="middle" stroke="#000" stroke-width="0.25">***</text>
<rect x="427.35" y="639.25" width="3.90" height="3.90" fill="#151515"/>
<rect x="424.05" y="641.25" width="3.90" height="3.90" fill="#151515"/>
<rect x="429.95" y="641.25" width="3.90" height="3.90" fill="#151515"/>
<rect x="427.35" y="643.55" width="3.90" height="3.90" fill="#151515"/>
<rect x="441.75" y="636.05" width="3.90" height="3.90" fill="#e8291a"/>
<rect x="438.45" y="637.95" width="3.90" height="3.90" fill="#e8291a"/>
<rect x="444.35" y="639.25" width="3.90" height="3.90" fill="#e8291a"/>
<rect x="441.15" y="641.25" width="3.90" height="3.90" fill="#e8291a"/>
<line x1="424.00" y1="643.20" x2="433.90" y2="643.20" stroke="#000" stroke-width="1.35"/>
<line x1="437.80" y1="641.20" x2="449.00" y2="641.20" stroke="#000" stroke-width="1.35"/>
<path d="M430.00 635.30V631.80H444.40V635.30" fill="none" stroke="#1a1a1a" stroke-width="1.0"/>
<text x="437.20" y="630.30" font-size="7.90" text-anchor="middle" stroke="#000" stroke-width="0.35">ns</text>
<rect x="455.85" y="630.75" width="3.90" height="3.90" fill="#151515"/>
<rect x="451.95" y="635.35" width="3.90" height="3.90" fill="#151515"/>
<rect x="454.55" y="636.65" width="3.90" height="3.90" fill="#151515"/>
<rect x="458.05" y="638.05" width="3.90" height="3.90" fill="#151515"/>
<rect x="455.85" y="644.55" width="3.90" height="3.90" fill="#151515"/>
<rect x="469.65" y="573.75" width="3.90" height="3.90" fill="#e8291a"/>
<rect x="467.05" y="586.25" width="3.90" height="3.90" fill="#e8291a"/>
<rect x="470.25" y="586.85" width="3.90" height="3.90" fill="#e8291a"/>
<rect x="472.95" y="586.25" width="3.90" height="3.90" fill="#e8291a"/>
<rect x="469.65" y="588.85" width="3.90" height="3.90" fill="#e8291a"/>
<rect x="469.65" y="596.65" width="3.90" height="3.90" fill="#e8291a"/>
<line x1="453.20" y1="639.70" x2="463.10" y2="639.70" stroke="#000" stroke-width="1.35"/>
<line x1="466.30" y1="589.10" x2="476.80" y2="589.10" stroke="#000" stroke-width="1.35"/>
<path d="M457.40 629.40V569.40H472.20V573.10" fill="none" stroke="#1a1a1a" stroke-width="1.0"/>
<text x="464.80" y="570.90" font-size="10.50" font-weight="bold" text-anchor="middle" stroke="#000" stroke-width="0.25">***</text>
<rect x="486.05" y="641.85" width="3.90" height="3.90" fill="#151515"/>
<rect x="482.75" y="643.25" width="3.90" height="3.90" fill="#151515"/>
<rect x="486.65" y="643.85" width="3.90" height="3.90" fill="#151515"/>
<rect x="484.55" y="644.55" width="3.90" height="3.90" fill="#151515"/>
<rect x="495.85" y="634.05" width="3.90" height="3.90" fill="#e8291a"/>
<rect x="498.45" y="636.65" width="3.90" height="3.90" fill="#e8291a"/>
<rect x="501.75" y="637.95" width="3.90" height="3.90" fill="#e8291a"/>
<rect x="498.45" y="639.95" width="3.90" height="3.90" fill="#e8291a"/>
<rect x="499.75" y="643.25" width="3.90" height="3.90" fill="#e8291a"/>
<line x1="481.40" y1="644.50" x2="491.20" y2="644.50" stroke="#000" stroke-width="1.35"/>
<line x1="495.80" y1="641.20" x2="506.30" y2="641.20" stroke="#000" stroke-width="1.35"/>
<path d="M486.00 631.80V628.40H501.00V631.80" fill="none" stroke="#1a1a1a" stroke-width="1.0"/>
<text x="493.50" y="626.90" font-size="7.90" text-anchor="middle" stroke="#000" stroke-width="0.35">ns</text>
<g transform="translate(412.40 657.30) rotate(-45)" fill="#000"><text x="-31.90" y="0.00" font-size="7.30" font-weight="bold" stroke="#000" stroke-width="0.25">WT</text><path d="M-19.56 -2.41H-15.15" stroke="#000" stroke-width="0.95"/><path d="M-15.45 -3.94L-12.33 -2.41L-15.45 -0.88Z"/><text x="-11.35" y="0.00" font-size="7.30" font-weight="bold" stroke="#000" stroke-width="0.25">WT</text></g>
<g transform="translate(441.40 657.30) rotate(-45)" fill="#000"><text x="-61.80" y="0.00" font-size="7.30" font-weight="bold" font-style="italic" stroke="#000" stroke-width="0.25">Myd88</text><text x="-39.08" y="-3.07" font-size="3.80" font-weight="bold" stroke="#000" stroke-width="0.25">-/-</text><path d="M-34.52 -2.41H-30.11" stroke="#000" stroke-width="0.95"/><path d="M-30.41 -3.94L-27.29 -2.41L-30.41 -0.88Z"/><text x="-26.30" y="0.00" font-size="7.30" font-weight="bold" font-style="italic" stroke="#000" stroke-width="0.25">Myd88</text><text x="-3.58" y="-3.07" font-size="3.80" font-weight="bold" stroke="#000" stroke-width="0.25">-/-</text></g>
<g transform="translate(470.40 657.30) rotate(-45)" fill="#000"><text x="-46.85" y="0.00" font-size="7.30" font-weight="bold" font-style="italic" stroke="#000" stroke-width="0.25">Myd88</text><text x="-24.13" y="-3.07" font-size="3.80" font-weight="bold" stroke="#000" stroke-width="0.25">-/-</text><path d="M-19.56 -2.41H-15.15" stroke="#000" stroke-width="0.95"/><path d="M-15.45 -3.94L-12.33 -2.41L-15.45 -0.88Z"/><text x="-11.35" y="0.00" font-size="7.30" font-weight="bold" stroke="#000" stroke-width="0.25">WT</text></g>
<g transform="translate(499.40 657.30) rotate(-45)" fill="#000"><text x="-46.85" y="0.00" font-size="7.30" font-weight="bold" stroke="#000" stroke-width="0.25">WT</text><path d="M-34.52 -2.41H-30.11" stroke="#000" stroke-width="0.95"/><path d="M-30.41 -3.94L-27.29 -2.41L-30.41 -0.88Z"/><text x="-26.30" y="0.00" font-size="7.30" font-weight="bold" font-style="italic" stroke="#000" stroke-width="0.25">Myd88</text><text x="-3.58" y="-3.07" font-size="3.80" font-weight="bold" stroke="#000" stroke-width="0.25">-/-</text></g>
<text x="363.20" y="611.50" font-size="8.40" text-anchor="middle" stroke="#000" stroke-width="0.35" transform="rotate(-90 363.20 611.50)">(pg/ml)</text>
<line x1="392.90" y1="622.20" x2="394.60" y2="622.20" stroke="#000" stroke-width="1.1"/>
<line x1="392.90" y1="628.80" x2="394.60" y2="628.80" stroke="#000" stroke-width="1.1"/>
<rect x="491.90" y="562.20" width="7.00" height="7.00" fill="#151515"/>
<rect x="491.90" y="572.40" width="7.00" height="7.00" fill="#e8291a"/>
<text x="500.20" y="568.80" font-size="7.70" stroke="#000" stroke-width="0.35">PBS</text>
<text x="500.20" y="579.00" font-size="7.70" stroke="#000" stroke-width="0.35">LPS</text>
<text x="191.60" y="183.60" font-size="15.50" font-weight="bold" stroke="#000" stroke-width="0.25">D</text>
<text x="208.00" y="183.60" font-size="8.40" font-weight="bold" stroke="#000" stroke-width="0.25">BM</text>
<g transform="translate(252.40 192.30) rotate(0)" fill="#000"><text x="-15.95" y="0.00" font-size="7.30" font-weight="bold" stroke="#000" stroke-width="0.25">WT</text><path d="M-3.62 -2.41H0.80" stroke="#000" stroke-width="0.95"/><path d="M0.50 -3.94L3.62 -2.41L0.50 -0.88Z"/><text x="4.60" y="0.00" font-size="7.30" font-weight="bold" stroke="#000" stroke-width="0.25">WT</text></g>
<g transform="translate(309.90 192.30) rotate(0)" fill="#000"><text x="-30.90" y="0.00" font-size="7.30" font-weight="bold" font-style="italic" stroke="#000" stroke-width="0.25">Myd88</text><text x="-8.18" y="-3.07" font-size="3.80" font-weight="bold" stroke="#000" stroke-width="0.25">-/-</text><path d="M-3.61 -2.41H0.80" stroke="#000" stroke-width="0.95"/><path d="M0.50 -3.94L3.62 -2.41L0.50 -0.88Z"/><text x="4.60" y="0.00" font-size="7.30" font-weight="bold" font-style="italic" stroke="#000" stroke-width="0.25">Myd88</text><text x="27.32" y="-3.07" font-size="3.80" font-weight="bold" stroke="#000" stroke-width="0.25">-/-</text></g>
<g transform="translate(371.50 192.30) rotate(0)" fill="#000"><text x="-23.43" y="0.00" font-size="7.30" font-weight="bold" font-style="italic" stroke="#000" stroke-width="0.25">Myd88</text><text x="-0.71" y="-3.07" font-size="3.80" font-weight="bold" stroke="#000" stroke-width="0.25">-/-</text><path d="M3.86 -2.41H8.27" stroke="#000" stroke-width="0.95"/><path d="M7.97 -3.94L11.09 -2.41L7.97 -0.88Z"/><text x="12.08" y="0.00" font-size="7.30" font-weight="bold" stroke="#000" stroke-width="0.25">WT</text></g>
<g transform="translate(430.30 192.30) rotate(0)" fill="#000"><text x="-23.43" y="0.00" font-size="7.30" font-weight="bold" stroke="#000" stroke-width="0.25">WT</text><path d="M-11.09 -2.41H-6.68" stroke="#000" stroke-width="0.95"/><path d="M-6.98 -3.94L-3.86 -2.41L-6.98 -0.88Z"/><text x="-2.88" y="0.00" font-size="7.30" font-weight="bold" font-style="italic" stroke="#000" stroke-width="0.25">Myd88</text><text x="19.84" y="-3.07" font-size="3.80" font-weight="bold" stroke="#000" stroke-width="0.25">-/-</text></g>
<text x="200.00" y="232.00" font-size="7.40" font-weight="bold" stroke="#000" stroke-width="0.25">PBS</text>
<text x="200.70" y="292.40" font-size="7.40" font-weight="bold" stroke="#000" stroke-width="0.25">LPS</text>
<defs><filter id="spk" x="-10%" y="-10%" width="120%" height="120%" color-interpolation-filters="sRGB">
<feGaussianBlur in="SourceGraphic" stdDeviation="0.8" result="b"/>
<feTurbulence type="fractalNoise" baseFrequency="1.8" numOctaves="1" seed="3" result="n"/>
<feColorMatrix in="n" type="matrix" values="0 0 0 0 0  0 0 0 0 0  0 0 0 0 0  0 0 0 2.6 -0.75" result="na"/>
<feComposite in="b" in2="na" operator="in"/>
</filter></defs>
<clipPath id="cp00"><rect x="0.7" y="0.7" width="58.4" height="58.5"/></clipPath>
<g transform="translate(223.20 196.30)"><g clip-path="url(#cp00)"><path d="M11.0 54.5 9.5 54.7 8.0 54.7 6.5 54.7 5.4 54.5 4.0 54.2 3.0 53.8 2.0 53.3 1.0 52.5 0.5 52.0 -0.1 51.0 -0.5 49.6 -0.5 48.5 -0.4 47.5 0.0 46.3 0.5 45.2 1.0 44.3 1.5 43.5 2.3 42.5 3.0 41.7 3.7 41.0 4.5 40.3 5.4 39.5 6.0 39.0 7.0 38.2 7.9 37.5 8.6 37.0 9.5 36.4 10.5 35.7 11.5 35.1 12.5 34.5 13.3 34.0 14.1 33.5 15.0 32.9 16.0 32.3 17.0 31.7 18.0 31.1 19.0 30.6 20.0 30.1 21.0 29.6 22.0 29.1 23.0 28.6 24.0 28.1 25.0 27.5 25.8 27.0 26.7 26.5 27.5 26.0 28.5 25.4 29.5 24.7 30.5 24.1 31.5 23.5 32.3 23.0 33.2 22.5 34.0 22.0 35.0 21.4 36.0 20.9 37.0 20.3 38.0 19.8 39.0 19.1 39.5 18.2 39.5 17.5 39.0 16.3 38.5 15.2 38.1 14.0 37.9 13.0 37.7 11.5 37.9 10.0 38.1 9.0 38.5 7.9 39.0 6.9 39.6 6.0 40.4 5.0 41.0 4.5 42.0 3.7 43.0 3.2 44.0 2.7 45.0 2.5 46.5 2.2 48.0 2.2 49.4 2.5 50.5 2.8 51.5 3.3 52.5 4.0 53.2 4.5 54.0 5.3 54.5 6.0 55.2 7.0 55.6 8.0 56.0 9.1 56.3 10.5 56.5 12.0 56.5 13.5 56.4 15.0 56.3 16.5 56.2 18.0 56.3 19.5 56.3 21.0 56.4 22.5 56.5 24.0 56.5 25.0 56.6 26.5 56.6 28.0 56.6 29.5 56.5 30.8 56.4 32.0 56.3 33.5 56.1 35.0 55.9 36.0 55.5 37.5 55.3 38.5 54.9 39.5 54.5 40.5 53.9 41.5 53.1 42.5 52.4 43.0 51.0 43.2 50.0 42.7 49.3 42.0 48.6 41.0 48.1 40.0 47.5 39.0 47.1 38.0 46.6 37.0 46.1 36.0 45.6 35.0 45.0 34.0 44.5 33.0 44.0 32.0 43.5 31.4 42.5 30.9 41.5 31.1 40.5 31.6 39.5 32.2 38.5 32.8 37.5 33.4 36.5 34.0 35.6 34.5 34.7 35.0 34.0 35.5 33.0 36.3 32.4 37.0 32.0 38.0 31.7 39.5 31.4 40.5 31.0 41.7 30.5 42.8 30.0 43.6 29.4 44.5 28.6 45.5 28.0 46.2 27.1 47.0 26.5 47.6 25.5 48.4 24.7 49.0 24.0 49.5 23.0 50.1 22.0 50.7 21.0 51.3 20.0 51.8 19.0 52.3 18.0 52.7 17.0 53.0 15.6 53.5 14.5 53.8 13.5 54.1 12.0 54.4 11.0 54.5ZM10.5 53.5 9.0 53.6 7.5 53.5 6.5 53.4 5.0 53.0 4.0 52.6 3.0 52.0 2.4 51.5 1.7 50.5 1.3 49.5 1.2 48.0 1.5 46.5 1.9 45.5 2.4 44.5 3.0 43.6 3.5 42.9 4.3 42.0 5.0 41.3 5.9 40.5 6.5 40.0 7.5 39.2 8.5 38.5 9.2 38.0 10.0 37.5 11.0 36.9 12.0 36.3 13.0 35.8 14.0 35.3 15.0 34.9 16.0 34.5 17.3 34.0 18.5 33.6 19.5 33.2 20.5 32.8 21.5 32.4 22.5 31.8 23.5 31.1 24.2 30.5 25.0 29.8 25.9 29.0 26.5 28.5 27.5 27.7 28.3 27.0 29.0 26.5 30.0 25.7 31.0 25.1 31.8 24.5 32.6 24.0 33.5 23.4 34.5 22.8 35.5 22.2 36.5 21.6 37.5 21.1 38.5 20.6 39.5 20.0 40.2 19.5 40.7 18.5 40.5 17.4 40.0 16.4 39.5 15.4 39.0 14.2 38.7 13.0 38.6 11.5 38.7 10.0 39.0 8.9 39.5 7.7 40.0 6.8 40.6 6.0 41.5 5.1 42.3 4.5 43.1 4.0 44.3 3.5 45.5 3.2 47.0 3.0 48.5 3.1 49.9 3.5 51.0 4.0 51.9 4.5 52.5 5.0 53.5 6.0 54.0 6.7 54.5 7.5 55.0 8.6 55.4 10.0 55.6 11.0 55.7 12.5 55.6 14.0 55.5 15.0 55.4 16.5 55.4 18.0 55.4 19.5 55.5 20.9 55.6 22.0 55.7 23.5 55.8 25.0 55.9 26.5 55.9 28.0 55.9 29.5 55.8 31.0 55.6 32.5 55.5 33.5 55.3 35.0 55.0 36.1 54.6 37.5 54.2 38.5 53.7 39.5 53.0 40.4 52.3 41.0 51.0 41.2 50.0 40.6 49.5 40.0 48.8 39.0 48.2 38.0 47.7 37.0 47.2 36.0 46.8 35.0 46.3 34.0 45.7 33.0 45.2 32.0 44.7 31.0 44.0 30.0 43.0 29.6 41.5 30.0 40.6 30.5 39.7 31.0 38.9 31.5 38.0 32.0 37.0 32.6 36.0 33.2 35.0 33.7 34.0 34.2 33.0 34.8 32.0 35.4 31.2 36.0 30.5 36.9 30.2 38.0 30.0 39.4 29.8 40.5 29.5 41.6 29.0 42.8 28.5 43.6 27.9 44.5 27.1 45.5 26.5 46.1 25.6 47.0 25.0 47.5 24.0 48.3 23.0 49.0 22.2 49.5 21.3 50.0 20.4 50.5 19.4 51.0 18.3 51.5 17.1 52.0 16.0 52.4 15.0 52.7 13.8 53.0 12.5 53.3 11.0 53.5Z" fill="#222" fill-opacity="0.95" fill-rule="evenodd" filter="url(#spk)"/><path d="M10.5 55.6 9.0 55.7 7.5 55.8 6.0 55.7 4.5 55.5 3.5 55.3 2.4 55.0 1.3 54.5 0.4 54.0 -0.5 53.2 -1.1 52.5 -1.7 51.5 -2.0 50.3 -2.1 49.0 -1.9 48.0 -1.5 46.5 -1.0 45.5 -0.5 44.5 0.0 43.7 0.5 43.0 1.4 42.0 2.0 41.3 2.8 40.5 3.5 39.8 4.4 39.0 5.0 38.5 6.0 37.6 6.8 37.0 7.5 36.4 8.5 35.6 9.2 35.0 10.0 34.3 11.0 33.5 11.5 33.0 12.5 32.1 13.1 31.5 14.0 30.7 14.8 30.0 15.5 29.5 16.5 28.8 17.5 28.1 18.5 27.6 19.5 27.1 20.5 26.7 21.5 26.3 22.6 26.0 24.0 25.6 25.0 25.3 26.1 25.0 27.4 24.5 28.5 24.0 29.5 23.5 30.5 23.0 31.4 22.5 32.3 22.0 33.2 21.5 34.1 21.0 35.0 20.5 36.0 20.0 37.0 19.4 38.0 18.6 38.5 17.5 38.0 16.0 37.6 15.0 37.3 14.0 37.1 12.5 37.0 11.0 37.2 9.5 37.5 8.5 38.0 7.2 38.5 6.3 39.0 5.5 39.9 4.5 40.5 3.9 41.5 3.2 42.5 2.6 43.5 2.1 44.5 1.8 46.0 1.5 47.0 1.4 48.2 1.5 49.5 1.7 50.5 2.0 51.6 2.5 52.5 3.0 53.5 3.8 54.2 4.5 55.0 5.4 55.5 6.1 56.0 7.0 56.5 8.2 56.9 9.5 57.1 10.5 57.3 12.0 57.3 13.5 57.2 15.0 57.1 16.5 57.0 18.0 57.0 19.0 57.0 20.5 57.0 21.5 57.1 23.0 57.2 24.5 57.2 26.0 57.3 27.5 57.2 29.0 57.2 30.5 57.1 32.0 57.0 33.0 56.8 34.5 56.6 36.0 56.4 37.0 56.1 38.5 55.8 39.5 55.4 40.5 55.0 41.6 54.5 42.6 53.9 43.5 53.0 44.4 52.0 44.9 50.5 44.8 49.5 44.0 49.0 43.5 48.3 42.5 47.7 41.5 47.2 40.5 46.8 39.5 46.3 38.5 45.8 37.5 45.2 36.5 44.7 35.5 44.2 34.5 43.7 33.5 43.0 32.5 42.0 32.1 40.6 32.5 39.7 33.0 38.9 33.5 38.0 34.0 37.0 34.6 36.0 35.3 35.0 36.0 34.5 36.5 33.8 37.5 33.4 38.5 33.0 40.0 32.7 41.0 32.3 42.0 31.8 43.0 31.1 44.0 30.5 44.8 30.0 45.5 29.1 46.5 28.5 47.0 27.5 48.0 26.9 48.5 26.0 49.2 25.0 49.9 24.1 50.5 23.3 51.0 22.4 51.5 21.5 52.0 20.5 52.5 19.4 53.0 18.2 53.5 17.0 54.0 16.0 54.3 15.0 54.6 13.5 55.0 12.5 55.2 11.0 55.5ZM11.0 54.5 9.5 54.7 8.0 54.7 6.5 54.7 5.4 54.5 4.0 54.2 3.0 53.8 2.0 53.3 1.0 52.5 0.5 52.0 -0.1 51.0 -0.5 49.6 -0.5 48.5 -0.4 47.5 0.0 46.3 0.5 45.2 1.0 44.3 1.5 43.5 2.3 42.5 3.0 41.7 3.7 41.0 4.5 40.3 5.4 39.5 6.0 39.0 7.0 38.2 7.9 37.5 8.6 37.0 9.5 36.4 10.5 35.7 11.5 35.1 12.5 34.5 13.3 34.0 14.1 33.5 15.0 32.9 16.0 32.3 17.0 31.7 18.0 31.1 19.0 30.6 20.0 30.1 21.0 29.6 22.0 29.1 23.0 28.6 24.0 28.1 25.0 27.5 25.8 27.0 26.7 26.5 27.5 26.0 28.5 25.4 29.5 24.7 30.5 24.1 31.5 23.5 32.3 23.0 33.2 22.5 34.0 22.0 35.0 21.4 36.0 20.9 37.0 20.3 38.0 19.8 39.0 19.1 39.5 18.2 39.5 17.5 39.0 16.3 38.5 15.2 38.1 14.0 37.9 13.0 37.7 11.5 37.9 10.0 38.1 9.0 38.5 7.9 39.0 6.9 39.6 6.0 40.4 5.0 41.0 4.5 42.0 3.7 43.0 3.2 44.0 2.7 45.0 2.5 46.5 2.2 48.0 2.2 49.4 2.5 50.5 2.8 51.5 3.3 52.5 4.0 53.2 4.5 54.0 5.3 54.5 6.0 55.2 7.0 55.6 8.0 56.0 9.1 56.3 10.5 56.5 12.0 56.5 13.5 56.4 15.0 56.3 16.5 56.2 18.0 56.3 19.5 56.3 21.0 56.4 22.5 56.5 24.0 56.5 25.0 56.6 26.5 56.6 28.0 56.6 29.5 56.5 30.8 56.4 32.0 56.3 33.5 56.1 35.0 55.9 36.0 55.5 37.5 55.3 38.5 54.9 39.5 54.5 40.5 53.9 41.5 53.1 42.5 52.4 43.0 51.0 43.2 50.0 42.7 49.3 42.0 48.6 41.0 48.1 40.0 47.5 39.0 47.1 38.0 46.6 37.0 46.1 36.0 45.6 35.0 45.0 34.0 44.5 33.0 44.0 32.0 43.5 31.4 42.5 30.9 41.5 31.1 40.5 31.6 39.5 32.2 38.5 32.8 37.5 33.4 36.5 34.0 35.6 34.5 34.7 35.0 34.0 35.5 33.0 36.3 32.4 37.0 32.0 38.0 31.7 39.5 31.4 40.5 31.0 41.7 30.5 42.8 30.0 43.6 29.4 44.5 28.6 45.5 28.0 46.2 27.1 47.0 26.5 47.6 25.5 48.4 24.7 49.0 24.0 49.5 23.0 50.1 22.0 50.7 21.0 51.3 20.0 51.8 19.0 52.3 18.0 52.7 17.0 53.0 15.6 53.5 14.5 53.8 13.5 54.1 12.0 54.4 11.0 54.5Z" fill="#222" fill-opacity="0.6" fill-rule="evenodd" filter="url(#spk)"/><path d="M11.5 56.5 10.0 56.8 8.5 56.9 7.0 57.0 5.5 57.0 4.0 56.8 2.5 56.6 1.5 56.3 0.5 55.9 -0.5 55.5 -1.5 54.8 -2.4 54.0 -3.0 53.2 -3.5 52.2 -3.8 51.0 -3.9 49.5 -3.7 48.0 -3.4 47.0 -3.0 46.0 -2.4 45.0 -1.8 44.0 -1.1 43.0 -0.5 42.2 0.1 41.5 1.0 40.5 1.5 40.0 2.5 39.0 3.0 38.5 4.0 37.5 4.5 37.0 5.5 36.1 6.0 35.5 7.0 34.5 7.5 33.9 8.3 33.0 9.0 32.1 9.5 31.5 10.5 30.5 11.0 30.0 12.0 29.1 12.7 28.5 13.5 27.8 14.5 27.1 15.4 26.5 16.2 26.0 17.1 25.5 18.1 25.0 19.2 24.5 20.4 24.0 21.5 23.6 22.5 23.3 23.6 23.0 25.0 22.7 26.3 22.5 27.5 22.3 28.9 22.0 30.0 21.6 31.0 21.3 32.0 20.8 33.0 20.4 34.0 19.9 35.0 19.4 36.0 18.8 37.0 18.0 37.2 17.0 37.0 16.0 36.5 14.5 36.3 13.5 36.1 12.0 36.2 10.5 36.4 9.0 36.7 8.0 37.1 7.0 37.6 6.0 38.3 5.0 39.0 4.1 39.6 3.5 40.5 2.8 41.5 2.1 42.5 1.6 43.5 1.2 44.5 0.9 46.0 0.6 47.5 0.5 49.0 0.6 50.4 1.0 51.5 1.4 52.5 1.9 53.3 2.5 54.0 3.0 55.0 4.0 55.5 4.6 56.2 5.5 56.8 6.5 57.2 7.5 57.6 8.5 57.9 10.0 58.1 11.0 58.3 12.5 58.4 14.0 58.3 15.5 58.2 17.0 58.0 18.3 57.9 19.5 57.9 21.0 57.9 22.5 57.9 24.0 58.0 25.5 58.0 27.0 58.0 28.5 57.9 30.0 57.9 31.5 57.8 33.0 57.6 34.5 57.5 35.5 57.3 37.0 57.0 38.2 56.7 39.5 56.4 40.5 56.0 41.8 55.5 43.0 55.1 44.0 54.5 44.9 54.0 45.6 53.0 46.5 52.0 47.0 51.2 47.0 50.0 46.6 49.3 46.0 48.5 45.1 48.0 44.3 47.5 43.4 47.0 42.5 46.5 41.4 46.0 40.4 45.5 39.4 45.0 38.5 44.5 37.5 43.9 36.5 43.4 35.5 42.8 34.5 42.0 33.6 41.1 33.5 40.0 34.0 39.0 34.5 38.3 35.0 37.5 35.5 36.5 36.4 35.9 37.0 35.4 38.0 35.0 39.0 34.6 40.5 34.2 41.5 33.7 42.5 33.1 43.5 32.5 44.4 32.0 45.0 31.2 46.0 30.5 46.7 29.7 47.5 29.0 48.2 28.0 49.0 27.4 49.5 26.5 50.2 25.5 50.8 24.5 51.5 23.6 52.0 22.7 52.5 21.8 53.0 20.8 53.5 19.7 54.0 18.5 54.5 17.5 54.9 16.5 55.2 15.5 55.6 14.0 56.0 13.0 56.2 11.6 56.5ZM10.5 55.6 9.0 55.7 7.5 55.8 6.0 55.7 4.5 55.5 3.5 55.3 2.4 55.0 1.3 54.5 0.4 54.0 -0.5 53.2 -1.1 52.5 -1.7 51.5 -2.0 50.3 -2.1 49.0 -1.9 48.0 -1.5 46.5 -1.0 45.5 -0.5 44.5 0.0 43.7 0.5 43.0 1.4 42.0 2.0 41.3 2.8 40.5 3.5 39.8 4.4 39.0 5.0 38.5 6.0 37.6 6.8 37.0 7.5 36.4 8.5 35.6 9.2 35.0 10.0 34.3 11.0 33.5 11.5 33.0 12.5 32.1 13.1 31.5 14.0 30.7 14.8 30.0 15.5 29.5 16.5 28.8 17.5 28.1 18.5 27.6 19.5 27.1 20.5 26.7 21.5 26.3 22.6 26.0 24.0 25.6 25.0 25.3 26.1 25.0 27.4 24.5 28.5 24.0 29.5 23.5 30.5 23.0 31.4 22.5 32.3 22.0 33.2 21.5 34.1 21.0 35.0 20.5 36.0 20.0 37.0 19.4 38.0 18.6 38.5 17.5 38.0 16.0 37.6 15.0 37.3 14.0 37.1 12.5 37.0 11.0 37.2 9.5 37.5 8.5 38.0 7.2 38.5 6.3 39.0 5.5 39.9 4.5 40.5 3.9 41.5 3.2 42.5 2.6 43.5 2.1 44.5 1.8 46.0 1.5 47.0 1.4 48.2 1.5 49.5 1.7 50.5 2.0 51.6 2.5 52.5 3.0 53.5 3.8 54.2 4.5 55.0 5.4 55.5 6.1 56.0 7.0 56.5 8.2 56.9 9.5 57.1 10.5 57.3 12.0 57.3 13.5 57.2 15.0 57.1 16.5 57.0 18.0 57.0 19.0 57.0 20.5 57.0 21.5 57.1 23.0 57.2 24.5 57.2 26.0 57.3 27.5 57.2 29.0 57.2 30.5 57.1 32.0 57.0 33.0 56.8 34.5 56.6 36.0 56.4 37.0 56.1 38.5 55.8 39.5 55.4 40.5 55.0 41.6 54.5 42.6 53.9 43.5 53.0 44.4 52.0 44.9 50.5 44.8 49.5 44.0 49.0 43.5 48.3 42.5 47.7 41.5 47.2 40.5 46.8 39.5 46.3 38.5 45.8 37.5 45.2 36.5 44.7 35.5 44.2 34.5 43.7 33.5 43.0 32.5 42.0 32.1 40.6 32.5 39.7 33.0 38.9 33.5 38.0 34.0 37.0 34.6 36.0 35.3 35.0 36.0 34.5 36.5 33.8 37.5 33.4 38.5 33.0 40.0 32.7 41.0 32.3 42.0 31.8 43.0 31.1 44.0 30.5 44.8 30.0 45.5 29.1 46.5 28.5 47.0 27.5 48.0 26.9 48.5 26.0 49.2 25.0 49.9 24.1 50.5 23.3 51.0 22.4 51.5 21.5 52.0 20.5 52.5 19.4 53.0 18.2 53.5 17.0 54.0 16.0 54.3 15.0 54.6 13.5 55.0 12.5 55.2 11.0 55.5Z" fill="#222" fill-opacity="0.3" fill-rule="evenodd" filter="url(#spk)"/><path d="M10.5 53.5 9.0 53.6 7.5 53.5 6.5 53.4 5.0 53.0 4.0 52.6 3.0 52.0 2.4 51.5 1.7 50.5 1.3 49.5 1.2 48.0 1.5 46.5 1.9 45.5 2.4 44.5 3.0 43.6 3.5 42.9 4.3 42.0 5.0 41.3 5.9 40.5 6.5 40.0 7.5 39.2 8.5 38.5 9.2 38.0 10.0 37.5 11.0 36.9 12.0 36.3 13.0 35.8 14.0 35.3 15.0 34.9 16.0 34.5 17.3 34.0 18.5 33.6 19.5 33.2 20.5 32.8 21.5 32.4 22.5 31.8 23.5 31.1 24.2 30.5 25.0 29.8 25.9 29.0 26.5 28.5 27.5 27.7 28.3 27.0 29.0 26.5 30.0 25.7 31.0 25.1 31.8 24.5 32.6 24.0 33.5 23.4 34.5 22.8 35.5 22.2 36.5 21.6 37.5 21.1 38.5 20.6 39.5 20.0 40.2 19.5 40.7 18.5 40.5 17.4 40.0 16.4 39.5 15.4 39.0 14.2 38.7 13.0 38.6 11.5 38.7 10.0 39.0 8.9 39.5 7.7 40.0 6.8 40.6 6.0 41.5 5.1 42.3 4.5 43.1 4.0 44.3 3.5 45.5 3.2 47.0 3.0 48.5 3.1 49.9 3.5 51.0 4.0 51.9 4.5 52.5 5.0 53.5 6.0 54.0 6.7 54.5 7.5 55.0 8.6 55.4 10.0 55.6 11.0 55.7 12.5 55.6 14.0 55.5 15.0 55.4 16.5 55.4 18.0 55.4 19.5 55.5 20.9 55.6 22.0 55.7 23.5 55.8 25.0 55.9 26.5 55.9 28.0 55.9 29.5 55.8 31.0 55.6 32.5 55.5 33.5 55.3 35.0 55.0 36.1 54.6 37.5 54.2 38.5 53.7 39.5 53.0 40.4 52.3 41.0 51.0 41.2 50.0 40.6 49.5 40.0 48.8 39.0 48.2 38.0 47.7 37.0 47.2 36.0 46.8 35.0 46.3 34.0 45.7 33.0 45.2 32.0 44.7 31.0 44.0 30.0 43.0 29.6 41.5 30.0 40.6 30.5 39.7 31.0 38.9 31.5 38.0 32.0 37.0 32.6 36.0 33.2 35.0 33.7 34.0 34.2 33.0 34.8 32.0 35.4 31.2 36.0 30.5 36.9 30.2 38.0 30.0 39.4 29.8 40.5 29.5 41.6 29.0 42.8 28.5 43.6 27.9 44.5 27.1 45.5 26.5 46.1 25.6 47.0 25.0 47.5 24.0 48.3 23.0 49.0 22.2 49.5 21.3 50.0 20.4 50.5 19.4 51.0 18.3 51.5 17.1 52.0 16.0 52.4 15.0 52.7 13.8 53.0 12.5 53.3 11.0 53.5Z" fill="#000" fill-opacity="0.09" fill-rule="evenodd"/><path d="M51.5 33.0 50.5 32.8 49.8 32.0 49.2 31.0 48.7 30.0 48.1 29.0 47.6 28.0 47.1 27.0 46.6 26.0 46.0 25.1 45.5 24.3 45.0 23.1 44.9 22.0 45.1 21.0 45.2 19.5 44.9 18.5 44.3 17.5 43.5 16.6 43.0 16.0 42.2 15.0 41.7 14.0 41.3 13.0 41.1 11.5 41.3 10.0 41.7 9.0 42.3 8.0 43.0 7.2 43.9 6.5 44.9 6.0 46.0 5.7 47.5 5.6 49.0 5.9 50.0 6.4 50.9 7.0 51.5 7.6 52.2 8.5 52.6 9.5 53.0 10.9 53.1 12.0 53.0 13.2 52.8 14.5 52.5 15.6 52.2 17.0 52.2 18.5 52.4 20.0 52.5 21.0 52.7 22.5 52.9 24.0 53.0 25.4 53.1 26.5 53.0 28.0 53.0 29.0 52.8 30.5 52.5 31.5 52.0 32.6ZM13.5 49.5 12.0 49.7 10.5 49.6 9.5 49.4 8.4 49.0 7.5 48.2 7.0 47.0 7.0 46.3 7.3 45.0 7.9 44.0 8.5 43.2 9.2 42.5 10.0 41.8 11.0 41.0 11.8 40.5 12.7 40.0 13.7 39.5 15.0 39.0 16.0 38.7 17.0 38.4 18.5 38.2 20.0 38.1 21.5 38.3 22.5 38.7 23.5 39.5 24.0 40.5 24.1 41.5 23.9 42.5 23.4 43.5 22.7 44.5 22.0 45.3 21.2 46.0 20.5 46.6 19.5 47.2 18.5 47.8 17.5 48.3 16.5 48.7 15.5 49.1 14.0 49.4Z" fill="#000" fill-opacity="0.06" fill-rule="evenodd"/><path d="M10.5 53.5 9.5 53.6 8.5 53.6 7.5 53.5 7.0 53.5 6.0 53.3 5.0 53.0 4.5 52.9 3.8 52.5 3.0 52.0 2.5 51.6 2.0 51.0 1.7 50.5 1.4 50.0 1.2 49.0 1.2 48.0 1.3 47.0 1.5 46.4 1.9 45.5 2.1 45.0 2.5 44.3 3.0 43.6 3.5 43.0 3.9 42.5 4.3 42.0 4.8 41.5 5.3 41.0 5.9 40.5 6.5 40.0 7.0 39.6 7.5 39.2 8.0 38.8 8.5 38.5 9.2 38.0 10.0 37.5 10.5 37.2 11.0 36.9 11.7 36.5 12.5 36.1 13.0 35.8 13.7 35.5 14.5 35.1 15.0 34.9 16.0 34.5 16.5 34.3 17.3 34.0 18.0 33.7 18.8 33.5 19.5 33.2 20.1 33.0 21.0 32.6 21.5 32.4 22.2 32.0 22.9 31.5 23.5 31.1 24.0 30.6 24.5 30.2 25.0 29.8 25.5 29.3 26.0 28.9 26.5 28.5 27.1 28.0 27.7 27.5 28.3 27.0 29.0 26.5 29.5 26.1 30.0 25.7 30.5 25.4 31.1 25.0 31.8 24.5 32.5 24.0 33.0 23.7 33.5 23.4 34.2 23.0 35.0 22.5 35.5 22.2 36.0 21.9 36.8 21.5 37.5 21.1 38.0 20.9 38.7 20.5 39.5 20.0 40.0 19.7 40.5 19.1 40.7 18.5 40.6 17.5 40.3 17.0 40.0 16.4 39.5 15.5 39.3 15.0 39.0 14.2 38.8 13.5 38.6 12.5 38.6 11.5 38.6 10.5 38.8 9.5 39.0 8.9 39.3 8.0 39.6 7.5 40.0 6.8 40.5 6.1 41.0 5.6 41.5 5.1 42.0 4.7 42.5 4.4 43.1 4.0 44.0 3.6 44.5 3.4 45.5 3.2 46.5 3.0 47.5 3.0 48.5 3.1 49.5 3.4 50.0 3.5 51.0 4.0 51.5 4.3 52.0 4.6 52.5 5.0 53.0 5.5 53.5 6.0 54.0 6.7 54.5 7.5 54.8 8.0 55.0 8.6 55.3 9.5 55.5 10.5 55.6 11.0 55.7 12.0 55.7 13.0 55.6 14.0 55.5 14.8 55.4 15.5 55.4 16.5 55.4 17.5 55.4 18.5 55.4 19.5 55.5 20.5 55.5 21.0 55.6 22.0 55.7 23.0 55.8 24.0 55.8 25.0 55.9 26.0 55.9 27.0 55.9 28.0 55.9 29.0 55.8 30.0 55.8 31.0 55.7 32.0 55.6 33.0 55.5 33.5 55.3 34.5 55.1 35.5 55.0 36.1 54.8 37.0 54.5 37.7 54.2 38.5 54.0 39.0 53.5 39.8 53.0 40.4 52.5 40.9 52.0 41.1 51.0 41.2 50.5 41.0 49.9 40.5 49.5 40.0 49.0 39.4 48.5 38.5 48.2 38.0 48.0 37.5 47.5 36.5 47.2 36.0 47.0 35.5 46.5 34.5 46.3 34.0 46.0 33.5 45.5 32.5 45.2 32.0 45.0 31.5 44.5 30.7 44.0 30.0 43.5 29.7 42.5 29.6 41.5 30.0 41.0 30.3 40.5 30.5 39.7 31.0 39.0 31.5 38.5 31.8 38.0 32.0 37.2 32.5 36.5 32.9 36.0 33.2 35.3 33.5 34.5 33.9 34.0 34.2 33.4 34.5 32.5 35.0 32.0 35.4 31.5 35.7 31.0 36.2 30.5 36.9 30.3 37.5 30.1 38.5 30.0 39.4 29.9 40.0 29.7 41.0 29.5 41.6 29.1 42.5 28.9 43.0 28.5 43.6 28.0 44.4 27.5 45.0 27.1 45.5 26.6 46.0 26.1 46.5 25.6 47.0 25.0 47.5 24.5 47.9 24.0 48.3 23.5 48.6 23.0 49.0 22.2 49.5 21.5 49.9 21.0 50.2 20.4 50.5 19.5 51.0 19.0 51.2 18.3 51.5 17.5 51.8 17.0 52.0 16.0 52.4 15.5 52.5 14.5 52.8 13.8 53.0 13.0 53.2 12.0 53.4 11.0 53.5 10.5 53.5ZM52.0 37.2 51.0 37.3 50.4 37.0 49.9 36.5 49.5 36.0 49.0 35.1 48.7 34.5 48.4 34.0 48.0 33.2 47.7 32.5 47.4 32.0 47.0 31.1 46.7 30.5 46.4 30.0 46.0 29.1 45.6 28.5 45.3 28.0 44.8 27.5 44.1 27.0 43.5 26.9 42.8 27.0 42.0 27.4 41.5 27.7 41.0 28.0 40.2 28.5 39.5 29.0 39.0 29.3 38.5 29.6 37.9 30.0 37.0 30.5 36.5 30.8 36.0 31.0 35.0 31.5 34.5 31.7 33.8 32.0 33.0 32.3 32.3 32.5 31.5 32.7 30.5 32.9 29.5 33.0 28.5 32.6 28.3 32.0 28.4 31.0 28.7 30.5 29.0 30.0 29.5 29.3 30.0 28.7 30.5 28.2 31.0 27.7 31.5 27.2 32.0 26.8 32.5 26.4 33.0 26.0 33.7 25.5 34.4 25.0 35.0 24.6 35.5 24.3 36.1 24.0 37.0 23.5 37.5 23.2 38.0 23.0 39.0 22.5 39.5 22.3 40.2 22.0 41.0 21.6 41.5 21.3 42.0 21.0 42.5 20.5 43.0 19.5 43.0 19.0 42.9 18.5 42.5 17.6 42.1 17.0 41.8 16.5 41.4 16.0 41.0 15.3 40.6 14.5 40.4 14.0 40.1 13.0 40.0 12.3 39.9 11.5 40.0 10.8 40.1 10.0 40.4 9.0 40.6 8.5 41.0 7.8 41.5 7.1 42.0 6.5 42.5 6.1 43.0 5.7 43.5 5.4 44.2 5.0 45.0 4.7 46.0 4.5 46.5 4.4 47.5 4.4 48.2 4.5 49.0 4.7 49.9 5.0 50.5 5.3 51.0 5.6 51.5 6.0 52.1 6.5 52.5 7.0 53.0 7.6 53.5 8.5 53.7 9.0 54.0 9.9 54.1 10.5 54.3 11.5 54.3 12.5 54.2 13.5 54.1 14.5 54.0 15.0 53.9 16.0 53.8 17.0 53.8 18.0 53.8 19.0 53.9 20.0 54.0 20.7 54.1 21.5 54.2 22.5 54.3 23.5 54.4 24.5 54.5 25.5 54.5 26.5 54.5 27.0 54.5 28.0 54.5 28.6 54.5 29.5 54.4 30.5 54.3 31.5 54.1 32.5 54.0 33.2 53.8 34.0 53.5 35.0 53.3 35.5 53.0 36.1 52.5 36.8 52.0 37.2ZM11.5 51.5 10.5 51.6 9.5 51.6 8.9 51.5 8.0 51.4 7.0 51.1 6.5 50.9 5.9 50.5 5.2 50.0 4.8 49.5 4.5 49.0 4.2 48.0 4.2 47.0 4.4 46.0 4.6 45.5 5.0 44.7 5.4 44.0 5.8 43.5 6.2 43.0 6.6 42.5 7.1 42.0 7.6 41.5 8.2 41.0 8.8 40.5 9.5 40.0 10.0 39.7 10.5 39.4 11.1 39.0 12.0 38.5 12.5 38.3 13.0 38.0 14.0 37.6 14.5 37.4 15.5 37.0 16.0 36.8 17.0 36.6 17.5 36.4 18.5 36.2 19.5 36.0 20.0 36.0 21.0 35.8 22.0 35.8 23.0 35.7 24.0 35.8 24.7 36.0 25.5 36.5 25.9 37.0 26.2 37.5 26.5 38.1 26.8 39.0 26.9 40.0 26.9 41.0 26.6 42.0 26.4 42.5 26.0 43.3 25.6 44.0 25.2 44.5 24.8 45.0 24.3 45.5 23.8 46.0 23.3 46.5 22.7 47.0 22.0 47.5 21.5 47.9 21.0 48.2 20.5 48.5 19.6 49.0 19.0 49.3 18.5 49.6 17.5 50.0 17.0 50.2 16.2 50.5 15.5 50.7 14.6 51.0 14.0 51.1 13.0 51.3 12.0 51.5 11.5 51.5ZM51.5 33.0 50.9 33.0 50.2 32.5 49.8 32.0 49.5 31.5 49.0 30.7 48.7 30.0 48.4 29.5 48.0 28.7 47.6 28.0 47.4 27.5 47.0 26.8 46.6 26.0 46.3 25.5 45.9 25.0 45.5 24.3 45.1 23.5 45.0 23.0 44.9 22.0 45.0 21.5 45.1 20.5 45.2 19.5 45.0 18.7 44.6 18.0 44.3 17.5 43.8 17.0 43.4 16.5 43.0 16.0 42.5 15.4 42.0 14.6 41.7 14.0 41.5 13.5 41.2 12.5 41.1 11.5 41.2 10.5 41.5 9.5 41.7 9.0 42.0 8.5 42.5 7.7 43.0 7.2 43.5 6.8 44.0 6.5 44.9 6.0 45.5 5.8 46.5 5.6 47.5 5.6 48.5 5.8 49.2 6.0 50.0 6.4 50.5 6.7 51.0 7.1 51.5 7.6 52.0 8.3 52.4 9.0 52.6 9.5 52.9 10.5 53.0 11.0 53.1 12.0 53.0 13.0 53.0 13.5 52.8 14.5 52.5 15.5 52.4 16.0 52.2 17.0 52.2 18.0 52.2 19.0 52.4 20.0 52.5 21.0 52.6 21.5 52.7 22.5 52.8 23.5 52.9 24.5 53.0 25.4 53.0 26.0 53.1 27.0 53.0 28.0 53.0 28.7 52.9 29.5 52.8 30.5 52.5 31.5 52.3 32.0 52.0 32.6 51.5 33.0ZM13.5 49.5 12.5 49.7 11.5 49.7 10.5 49.6 9.8 49.5 9.0 49.3 8.4 49.0 7.8 48.5 7.4 48.0 7.0 47.0 7.0 46.5 7.0 46.0 7.3 45.0 7.6 44.5 8.0 43.9 8.5 43.2 9.0 42.7 9.5 42.2 10.0 41.8 10.5 41.4 11.0 41.0 11.8 40.5 12.5 40.1 13.0 39.8 13.7 39.5 14.5 39.2 15.0 39.0 16.0 38.7 16.7 38.5 17.5 38.3 18.5 38.2 19.5 38.1 20.5 38.1 21.5 38.3 22.1 38.5 23.0 39.0 23.5 39.5 23.8 40.0 24.0 40.6 24.1 41.5 24.0 42.0 23.7 43.0 23.4 43.5 23.0 44.1 22.5 44.7 22.0 45.3 21.5 45.8 21.0 46.2 20.5 46.6 19.9 47.0 19.1 47.5 18.5 47.8 18.0 48.1 17.1 48.5 16.5 48.7 15.7 49.0 15.0 49.2 14.0 49.4 13.5 49.5ZM50.0 24.8 49.4 24.5 48.9 24.0 48.5 23.2 48.3 22.5 48.1 21.5 48.2 20.5 48.1 19.5 47.9 19.0 47.5 18.4 47.0 17.9 46.5 17.5 45.9 17.0 45.2 16.5 44.6 16.0 44.0 15.5 43.6 15.0 43.2 14.5 42.9 14.0 42.5 13.1 42.3 12.5 42.2 11.5 42.3 10.5 42.5 10.0 43.0 9.0 43.3 8.5 43.8 8.0 44.4 7.5 45.0 7.2 45.5 7.0 46.5 6.7 47.5 6.7 48.5 6.9 49.0 7.1 49.7 7.5 50.3 8.0 50.8 8.5 51.2 9.0 51.5 9.6 51.8 10.5 52.0 11.5 52.0 12.5 51.8 13.5 51.5 14.5 51.3 15.0 51.0 15.7 50.6 16.5 50.4 17.0 50.0 17.8 49.7 18.5 49.6 19.5 49.9 20.5 50.0 21.0 50.2 22.0 50.3 23.0 50.3 24.0 50.0 24.8ZM14.0 47.6 13.0 47.7 12.0 47.6 11.5 47.4 10.7 47.0 10.2 46.5 10.0 45.5 10.3 44.5 10.6 44.0 11.0 43.5 11.5 43.0 12.1 42.5 12.8 42.0 13.5 41.6 14.0 41.3 14.7 41.0 15.5 40.7 16.2 40.5 17.0 40.4 18.0 40.3 19.0 40.3 19.6 40.5 20.4 41.0 20.8 41.5 21.0 42.5 20.7 43.5 20.4 44.0 20.0 44.5 19.5 45.0 18.9 45.5 18.2 46.0 17.5 46.4 17.0 46.7 16.2 47.0 15.5 47.2 14.5 47.5 14.0 47.6ZM48.0 16.0 47.4 16.0 46.5 15.8 45.9 15.5 45.2 15.0 44.6 14.5 44.2 14.0 43.8 13.5 43.5 12.7 43.3 12.0 43.4 11.0 43.5 10.4 43.9 9.5 44.3 9.0 44.9 8.5 45.5 8.1 46.0 7.9 47.0 7.8 48.0 7.9 48.5 8.1 49.3 8.5 49.8 9.0 50.2 9.5 50.5 10.0 50.8 11.0 50.9 12.0 50.8 13.0 50.5 13.8 50.1 14.5 49.8 15.0 49.3 15.5 48.5 15.9 48.0 16.0ZM48.0 14.7 47.0 14.7 46.3 14.5 45.5 14.0 45.0 13.5 44.7 13.0 44.4 12.5 44.3 11.5 44.5 10.5 44.8 10.0 45.2 9.5 45.9 9.0 46.5 8.8 47.5 8.8 48.2 9.0 49.0 9.5 49.4 10.0 49.7 10.5 49.9 11.5 49.9 12.5 49.5 13.5 49.1 14.0 48.5 14.5 48.0 14.7ZM47.5 13.6 46.7 13.5 46.0 13.1 45.5 12.5 45.3 12.0 45.4 11.0 45.6 10.5 46.2 10.0 47.0 9.8 48.0 10.0 48.5 10.4 48.8 11.0 49.0 12.0 48.5 13.0 48.0 13.4 47.5 13.6Z" fill="none" stroke="#333" stroke-width="0.3"/><ellipse cx="46.5" cy="11.5" rx="7.2" ry="7.0" transform="rotate(0 46.5 11.5)" fill="#333" fill-opacity="0.6" filter="url(#spk)"/><ellipse cx="46.5" cy="11.5" rx="5.0" ry="4.8" transform="rotate(0 46.5 11.5)" fill="none" stroke="#333" stroke-width="0.5"/><ellipse cx="46.5" cy="11.5" rx="4.0" ry="3.8" transform="rotate(0 46.5 11.5)" fill="none" stroke="#111" stroke-width="1.3"/></g></g>
<clipPath id="cp01"><rect x="0.7" y="0.7" width="58.4" height="58.5"/></clipPath>
<g transform="translate(283.00 196.30)"><g clip-path="url(#cp01)"><path d="M42.5 17.0 41.0 17.1 39.5 17.1 38.0 17.0 37.0 16.9 35.5 16.7 34.5 16.5 33.0 16.1 32.0 15.8 31.0 15.3 30.0 14.8 29.1 14.0 28.5 13.1 28.2 12.0 28.5 10.5 29.0 9.6 29.5 9.0 30.5 8.1 31.2 7.5 32.0 7.0 33.0 6.4 34.0 5.9 35.0 5.5 36.4 5.0 37.5 4.6 38.5 4.3 39.8 4.0 41.0 3.7 42.4 3.5 43.5 3.3 45.0 3.1 46.5 3.1 48.0 3.0 49.5 3.1 51.0 3.1 52.5 3.3 53.5 3.5 55.0 3.9 56.0 4.2 57.0 4.7 58.0 5.3 58.9 6.0 59.5 6.9 59.8 8.0 59.5 9.5 59.0 10.4 58.5 11.0 57.5 12.0 56.8 12.5 56.0 13.0 55.0 13.6 54.0 14.1 53.0 14.5 51.8 15.0 50.5 15.5 49.5 15.8 48.5 16.0 47.0 16.4 46.0 16.6 44.5 16.8 43.0 17.0ZM11.0 55.6 9.5 55.7 8.0 55.7 6.5 55.6 5.5 55.4 4.5 55.0 3.4 54.5 2.5 53.9 1.5 53.1 1.0 52.5 0.4 51.5 -0.1 50.5 -0.5 49.0 -0.5 48.0 -0.5 47.0 -0.2 45.5 0.1 44.5 0.5 43.5 1.0 42.5 1.6 41.5 2.3 40.5 3.0 39.7 3.7 39.0 4.5 38.2 5.3 37.5 6.0 36.9 7.0 36.2 8.0 35.5 8.8 35.0 9.6 34.5 10.5 33.9 11.5 33.1 12.3 32.5 13.0 31.9 13.8 31.0 14.5 30.3 15.4 29.5 16.0 28.9 17.0 28.1 17.9 27.5 18.7 27.0 19.5 26.5 20.5 25.9 21.5 25.4 22.5 25.0 23.6 24.5 24.8 24.0 26.0 23.5 27.0 23.2 28.0 22.8 29.1 22.5 30.5 22.1 31.5 21.8 32.8 21.5 34.0 21.2 35.0 21.0 36.5 20.7 37.6 20.5 39.0 20.2 40.5 20.0 41.5 19.9 43.0 19.8 44.5 19.6 46.0 19.6 47.5 19.6 49.0 19.6 50.5 19.7 52.0 19.9 53.0 20.0 54.5 20.4 55.5 20.7 56.5 21.1 57.5 21.8 58.2 22.5 58.6 23.5 58.5 24.7 58.0 25.8 57.5 26.5 56.5 27.5 55.9 28.0 55.0 28.7 54.0 29.3 53.0 29.9 52.0 30.5 51.0 31.0 50.0 31.4 49.0 31.9 48.0 32.3 47.0 32.6 46.0 33.0 44.5 33.5 43.5 33.8 42.5 34.1 41.0 34.5 40.0 34.7 38.8 35.0 37.5 35.3 36.4 35.5 35.0 35.8 33.5 36.0 32.5 36.1 31.0 36.4 30.0 36.5 28.5 36.8 27.4 37.0 26.1 37.5 25.5 38.0 24.9 39.0 24.8 40.5 24.7 42.0 24.5 43.3 24.3 44.5 23.9 45.5 23.5 46.5 23.0 47.5 22.3 48.5 21.6 49.5 21.0 50.2 20.2 51.0 19.5 51.6 18.5 52.4 17.6 53.0 16.8 53.5 15.8 54.0 14.7 54.5 13.5 54.9 12.5 55.3 11.3 55.5ZM45.0 16.1 43.5 16.3 42.0 16.4 40.5 16.4 39.0 16.4 37.5 16.3 36.0 16.1 35.0 15.9 33.7 15.5 32.5 15.1 31.5 14.5 30.8 14.0 30.0 13.1 29.6 12.0 29.8 10.5 30.4 9.5 31.0 8.8 32.0 8.0 32.7 7.5 33.5 7.0 34.5 6.5 35.5 6.0 36.8 5.5 38.0 5.1 39.0 4.8 40.3 4.5 41.5 4.2 42.9 4.0 44.0 3.8 45.5 3.7 47.0 3.6 48.5 3.6 50.0 3.7 51.5 3.9 52.5 4.0 54.0 4.4 55.0 4.7 56.0 5.2 57.0 5.8 57.7 6.5 58.3 7.5 58.4 9.0 57.9 10.0 57.2 11.0 56.5 11.6 55.5 12.4 54.5 13.0 53.6 13.5 52.5 14.0 51.5 14.4 50.5 14.8 49.5 15.1 48.0 15.5 47.0 15.7 45.5 16.0ZM10.0 54.5 8.5 54.5 7.5 54.4 6.0 54.1 5.0 53.8 4.0 53.2 3.0 52.5 2.5 52.0 1.8 51.0 1.3 50.0 1.0 48.9 0.9 47.5 1.0 46.1 1.2 45.0 1.6 44.0 2.1 43.0 2.7 42.0 3.4 41.0 4.0 40.3 4.8 39.5 5.5 38.9 6.5 38.1 7.3 37.5 8.1 37.0 9.0 36.5 10.0 35.9 11.0 35.5 12.0 35.0 13.2 34.5 14.3 34.0 15.3 33.5 16.0 33.0 16.9 32.0 17.5 31.2 18.1 30.5 19.0 29.5 19.5 29.0 20.5 28.2 21.5 27.5 22.3 27.0 23.2 26.5 24.2 26.0 25.3 25.5 26.5 25.0 27.5 24.6 28.5 24.2 29.5 23.9 30.8 23.5 32.0 23.1 33.0 22.9 34.5 22.5 35.5 22.3 37.0 22.0 38.0 21.8 39.5 21.6 40.5 21.5 42.0 21.3 43.5 21.2 45.0 21.2 46.5 21.2 48.0 21.3 49.5 21.5 50.5 21.7 51.7 22.0 52.9 22.5 53.6 23.0 54.4 24.0 54.4 25.5 53.8 26.5 53.0 27.4 52.3 28.0 51.5 28.6 50.5 29.2 49.5 29.8 48.5 30.3 47.5 30.8 46.5 31.2 45.5 31.6 44.4 32.0 43.0 32.5 42.0 32.8 41.0 33.1 39.5 33.4 38.5 33.7 37.0 34.0 36.0 34.2 34.5 34.4 33.5 34.6 32.0 34.8 30.5 34.9 29.5 35.0 28.0 35.2 26.5 35.3 25.5 35.5 24.0 35.9 23.1 36.5 22.8 37.5 22.9 39.0 23.1 40.0 23.2 41.5 23.2 43.0 23.0 44.0 22.6 45.5 22.1 46.5 21.6 47.5 21.0 48.4 20.5 49.0 19.6 50.0 19.0 50.6 18.0 51.4 17.1 52.0 16.3 52.5 15.4 53.0 14.2 53.5 13.0 53.9 12.0 54.2 10.5 54.5Z" fill="#222" fill-opacity="0.95" fill-rule="evenodd" filter="url(#spk)"/><path d="M11.5 56.5 10.0 56.8 8.5 56.8 7.0 56.8 5.5 56.5 4.5 56.3 3.5 55.9 2.5 55.4 1.5 54.8 0.6 54.0 0.0 53.4 -0.6 52.5 -1.1 51.5 -1.5 50.4 -1.8 49.0 -1.8 47.5 -1.6 46.0 -1.3 45.0 -1.0 44.0 -0.5 43.0 0.0 42.0 0.6 41.0 1.4 40.0 2.0 39.2 2.7 38.5 3.5 37.6 4.2 37.0 5.0 36.3 5.9 35.5 6.5 35.0 7.5 34.2 8.3 33.5 9.0 32.9 9.9 32.0 10.5 31.4 11.4 30.5 12.0 29.9 13.0 29.0 13.6 28.5 14.5 27.8 15.5 27.1 16.5 26.5 17.3 26.0 18.2 25.5 19.2 25.0 20.2 24.5 21.3 24.0 22.5 23.5 23.5 23.1 24.5 22.7 25.5 22.4 26.7 22.0 28.0 21.6 29.0 21.3 30.0 21.0 31.5 20.6 32.5 20.4 34.0 20.0 35.0 19.8 36.2 19.5 37.5 19.2 38.5 18.9 40.0 18.5 39.0 18.0 37.5 17.8 36.0 17.6 35.0 17.4 33.5 17.0 32.5 16.8 31.5 16.4 30.4 16.0 29.5 15.5 28.5 14.8 27.7 14.0 27.1 13.0 26.9 12.0 27.1 11.0 27.5 10.0 28.3 9.0 29.0 8.3 30.0 7.5 30.7 7.0 31.5 6.5 32.5 6.0 33.5 5.5 34.7 5.0 36.0 4.5 37.0 4.2 38.0 3.9 39.5 3.5 40.5 3.3 42.0 3.0 43.0 2.8 44.5 2.7 46.0 2.6 47.4 2.5 48.5 2.5 49.5 2.5 51.0 2.6 52.5 2.7 54.0 3.0 55.0 3.2 56.1 3.5 57.5 4.0 58.5 4.5 59.3 5.0 60.0 5.6 60.7 6.5 61.0 7.5 61.0 8.6 60.5 9.9 60.0 10.7 59.3 11.5 58.5 12.2 57.5 12.9 56.6 13.5 55.7 14.0 54.7 14.5 53.6 15.0 52.5 15.5 51.5 15.9 50.5 16.3 49.5 16.6 48.3 17.0 47.0 17.5 47.5 17.9 48.5 18.0 50.0 18.1 51.5 18.2 53.0 18.4 54.0 18.5 55.5 18.7 56.7 19.0 58.0 19.4 59.0 19.7 60.0 20.3 61.0 21.0 61.5 21.6 62.0 22.6 62.0 23.9 61.6 25.0 61.0 25.9 60.5 26.5 59.5 27.5 58.9 28.0 58.0 28.7 57.0 29.4 56.0 30.0 55.1 30.5 54.1 31.0 53.1 31.5 52.0 32.0 51.0 32.4 50.0 32.9 49.0 33.2 48.0 33.6 46.8 34.0 45.5 34.4 44.5 34.7 43.5 35.0 42.0 35.4 41.0 35.7 39.6 36.0 38.5 36.3 37.3 36.5 36.0 36.8 34.5 37.0 33.5 37.2 32.0 37.4 31.0 37.6 29.5 37.9 28.5 38.2 27.5 38.7 26.7 39.5 26.3 40.5 26.0 41.8 25.8 43.0 25.5 44.4 25.2 45.5 24.7 46.5 24.2 47.5 23.6 48.5 23.0 49.4 22.5 50.0 21.6 51.0 21.0 51.6 20.0 52.5 19.3 53.0 18.5 53.6 17.5 54.2 16.5 54.8 15.5 55.2 14.5 55.7 13.5 56.0 12.0 56.4ZM42.5 17.0 41.0 17.1 39.5 17.1 38.0 17.0 37.0 16.9 35.5 16.7 34.5 16.5 33.0 16.1 32.0 15.8 31.0 15.3 30.0 14.8 29.1 14.0 28.5 13.1 28.2 12.0 28.5 10.5 29.0 9.6 29.5 9.0 30.5 8.1 31.2 7.5 32.0 7.0 33.0 6.4 34.0 5.9 35.0 5.5 36.4 5.0 37.5 4.6 38.5 4.3 39.8 4.0 41.0 3.7 42.4 3.5 43.5 3.3 45.0 3.1 46.5 3.1 48.0 3.0 49.5 3.1 51.0 3.1 52.5 3.3 53.5 3.5 55.0 3.9 56.0 4.2 57.0 4.7 58.0 5.3 58.9 6.0 59.5 6.9 59.8 8.0 59.5 9.5 59.0 10.4 58.5 11.0 57.5 12.0 56.8 12.5 56.0 13.0 55.0 13.6 54.0 14.1 53.0 14.5 51.8 15.0 50.5 15.5 49.5 15.8 48.5 16.0 47.0 16.4 46.0 16.6 44.5 16.8 43.0 17.0ZM11.0 55.6 9.5 55.7 8.0 55.7 6.5 55.6 5.5 55.4 4.5 55.0 3.4 54.5 2.5 53.9 1.5 53.1 1.0 52.5 0.4 51.5 -0.1 50.5 -0.5 49.0 -0.5 48.0 -0.5 47.0 -0.2 45.5 0.1 44.5 0.5 43.5 1.0 42.5 1.6 41.5 2.3 40.5 3.0 39.7 3.7 39.0 4.5 38.2 5.3 37.5 6.0 36.9 7.0 36.2 8.0 35.5 8.8 35.0 9.6 34.5 10.5 33.9 11.5 33.1 12.3 32.5 13.0 31.9 13.8 31.0 14.5 30.3 15.4 29.5 16.0 28.9 17.0 28.1 17.9 27.5 18.7 27.0 19.5 26.5 20.5 25.9 21.5 25.4 22.5 25.0 23.6 24.5 24.8 24.0 26.0 23.5 27.0 23.2 28.0 22.8 29.1 22.5 30.5 22.1 31.5 21.8 32.8 21.5 34.0 21.2 35.0 21.0 36.5 20.7 37.6 20.5 39.0 20.2 40.5 20.0 41.5 19.9 43.0 19.8 44.5 19.6 46.0 19.6 47.5 19.6 49.0 19.6 50.5 19.7 52.0 19.9 53.0 20.0 54.5 20.4 55.5 20.7 56.5 21.1 57.5 21.8 58.2 22.5 58.6 23.5 58.5 24.7 58.0 25.8 57.5 26.5 56.5 27.5 55.9 28.0 55.0 28.7 54.0 29.3 53.0 29.9 52.0 30.5 51.0 31.0 50.0 31.4 49.0 31.9 48.0 32.3 47.0 32.6 46.0 33.0 44.5 33.5 43.5 33.8 42.5 34.1 41.0 34.5 40.0 34.7 38.8 35.0 37.5 35.3 36.4 35.5 35.0 35.8 33.5 36.0 32.5 36.1 31.0 36.4 30.0 36.5 28.5 36.8 27.4 37.0 26.1 37.5 25.5 38.0 24.9 39.0 24.8 40.5 24.7 42.0 24.5 43.3 24.3 44.5 23.9 45.5 23.5 46.5 23.0 47.5 22.3 48.5 21.6 49.5 21.0 50.2 20.2 51.0 19.5 51.6 18.5 52.4 17.6 53.0 16.8 53.5 15.8 54.0 14.7 54.5 13.5 54.9 12.5 55.3 11.3 55.5Z" fill="#222" fill-opacity="0.6" fill-rule="evenodd" filter="url(#spk)"/><path d="M9.5 58.1 8.0 58.1 6.5 58.1 5.5 57.9 4.0 57.6 3.0 57.3 2.0 56.9 1.0 56.3 0.0 55.6 -0.7 55.0 -1.5 54.0 -2.0 53.3 -2.5 52.3 -3.0 51.0 -3.2 50.0 -3.3 48.5 -3.2 47.0 -3.0 45.9 -2.6 44.5 -2.2 43.5 -1.8 42.5 -1.2 41.5 -0.6 40.5 0.0 39.7 0.5 39.0 1.3 38.0 2.0 37.2 2.7 36.5 3.5 35.6 4.1 35.0 5.0 34.0 5.5 33.5 6.4 32.5 7.0 31.8 7.7 31.0 8.5 30.2 9.2 29.5 10.0 28.8 11.0 28.0 11.7 27.5 12.5 26.9 13.5 26.3 14.5 25.7 15.5 25.1 16.5 24.6 17.5 24.1 18.5 23.6 19.5 23.1 20.5 22.7 21.5 22.3 22.5 21.9 23.7 21.5 25.0 21.1 26.0 20.7 27.0 20.4 28.5 20.0 29.5 19.7 30.5 19.4 31.7 19.0 32.5 18.5 32.0 17.9 31.0 17.4 30.0 17.0 29.0 16.5 28.0 15.9 27.0 15.2 26.3 14.5 25.7 13.5 25.4 12.5 25.5 11.4 26.0 10.1 26.5 9.3 27.2 8.5 28.0 7.8 29.0 7.1 29.8 6.5 30.7 6.0 31.7 5.5 32.8 5.0 34.0 4.5 35.0 4.1 36.0 3.8 37.0 3.5 38.5 3.1 39.5 2.8 41.0 2.5 42.0 2.3 43.5 2.1 44.9 2.0 46.0 1.9 47.5 1.8 49.0 1.8 50.5 1.8 52.0 1.9 53.0 2.0 54.5 2.2 55.7 2.5 57.0 2.8 58.0 3.2 59.0 3.6 60.0 4.1 61.0 4.8 61.7 5.5 62.3 6.5 62.6 7.5 62.5 8.6 62.0 9.9 61.5 10.7 60.8 11.5 60.0 12.2 59.0 13.0 58.3 13.5 57.5 14.0 56.5 14.7 55.5 15.3 54.6 16.0 55.5 16.7 56.9 17.0 58.0 17.2 59.5 17.5 60.5 17.8 61.5 18.1 62.6 18.5 63.6 19.0 64.5 19.7 65.3 20.5 65.9 21.5 66.0 22.5 65.9 23.5 65.5 24.5 64.9 25.5 64.0 26.5 63.5 27.0 62.5 27.9 61.7 28.5 61.0 29.0 60.0 29.7 59.0 30.3 58.0 30.9 57.0 31.4 56.0 31.9 55.0 32.4 54.0 32.8 53.0 33.2 52.0 33.6 51.0 34.0 49.7 34.5 48.5 34.9 47.5 35.2 46.5 35.5 45.0 36.0 44.0 36.3 43.0 36.5 41.5 36.9 40.5 37.2 39.0 37.5 38.0 37.7 36.5 38.0 35.5 38.2 34.0 38.5 33.0 38.7 31.5 38.9 30.5 39.2 29.5 39.6 28.5 40.3 28.0 41.0 27.5 42.4 27.2 43.5 26.9 44.5 26.5 45.8 26.0 46.9 25.5 47.9 25.0 48.7 24.5 49.5 23.7 50.5 23.0 51.3 22.3 52.0 21.5 52.8 20.6 53.5 19.9 54.0 19.0 54.7 18.0 55.3 17.0 55.8 16.0 56.3 15.0 56.7 14.0 57.1 12.6 57.5 11.5 57.8 10.0 58.0ZM11.5 56.5 10.0 56.8 8.5 56.8 7.0 56.8 5.5 56.5 4.5 56.3 3.5 55.9 2.5 55.4 1.5 54.8 0.6 54.0 0.0 53.4 -0.6 52.5 -1.1 51.5 -1.5 50.4 -1.8 49.0 -1.8 47.5 -1.6 46.0 -1.3 45.0 -1.0 44.0 -0.5 43.0 0.0 42.0 0.6 41.0 1.4 40.0 2.0 39.2 2.7 38.5 3.5 37.6 4.2 37.0 5.0 36.3 5.9 35.5 6.5 35.0 7.5 34.2 8.3 33.5 9.0 32.9 9.9 32.0 10.5 31.4 11.4 30.5 12.0 29.9 13.0 29.0 13.6 28.5 14.5 27.8 15.5 27.1 16.5 26.5 17.3 26.0 18.2 25.5 19.2 25.0 20.2 24.5 21.3 24.0 22.5 23.5 23.5 23.1 24.5 22.7 25.5 22.4 26.7 22.0 28.0 21.6 29.0 21.3 30.0 21.0 31.5 20.6 32.5 20.4 34.0 20.0 35.0 19.8 36.2 19.5 37.5 19.2 38.5 18.9 40.0 18.5 39.0 18.0 37.5 17.8 36.0 17.6 35.0 17.4 33.5 17.0 32.5 16.8 31.5 16.4 30.4 16.0 29.5 15.5 28.5 14.8 27.7 14.0 27.1 13.0 26.9 12.0 27.1 11.0 27.5 10.0 28.3 9.0 29.0 8.3 30.0 7.5 30.7 7.0 31.5 6.5 32.5 6.0 33.5 5.5 34.7 5.0 36.0 4.5 37.0 4.2 38.0 3.9 39.5 3.5 40.5 3.3 42.0 3.0 43.0 2.8 44.5 2.7 46.0 2.6 47.4 2.5 48.5 2.5 49.5 2.5 51.0 2.6 52.5 2.7 54.0 3.0 55.0 3.2 56.1 3.5 57.5 4.0 58.5 4.5 59.3 5.0 60.0 5.6 60.7 6.5 61.0 7.5 61.0 8.6 60.5 9.9 60.0 10.7 59.3 11.5 58.5 12.2 57.5 12.9 56.6 13.5 55.7 14.0 54.7 14.5 53.6 15.0 52.5 15.5 51.5 15.9 50.5 16.3 49.5 16.6 48.3 17.0 47.0 17.5 47.5 17.9 48.5 18.0 50.0 18.1 51.5 18.2 53.0 18.4 54.0 18.5 55.5 18.7 56.7 19.0 58.0 19.4 59.0 19.7 60.0 20.3 61.0 21.0 61.5 21.6 62.0 22.6 62.0 23.9 61.6 25.0 61.0 25.9 60.5 26.5 59.5 27.5 58.9 28.0 58.0 28.7 57.0 29.4 56.0 30.0 55.1 30.5 54.1 31.0 53.1 31.5 52.0 32.0 51.0 32.4 50.0 32.9 49.0 33.2 48.0 33.6 46.8 34.0 45.5 34.4 44.5 34.7 43.5 35.0 42.0 35.4 41.0 35.7 39.6 36.0 38.5 36.3 37.3 36.5 36.0 36.8 34.5 37.0 33.5 37.2 32.0 37.4 31.0 37.6 29.5 37.9 28.5 38.2 27.5 38.7 26.7 39.5 26.3 40.5 26.0 41.8 25.8 43.0 25.5 44.4 25.2 45.5 24.7 46.5 24.2 47.5 23.6 48.5 23.0 49.4 22.5 50.0 21.6 51.0 21.0 51.6 20.0 52.5 19.3 53.0 18.5 53.6 17.5 54.2 16.5 54.8 15.5 55.2 14.5 55.7 13.5 56.0 12.0 56.4Z" fill="#222" fill-opacity="0.3" fill-rule="evenodd" filter="url(#spk)"/><path d="M45.0 16.1 43.5 16.3 42.0 16.4 40.5 16.4 39.0 16.4 37.5 16.3 36.0 16.1 35.0 15.9 33.7 15.5 32.5 15.1 31.5 14.5 30.8 14.0 30.0 13.1 29.6 12.0 29.8 10.5 30.4 9.5 31.0 8.8 32.0 8.0 32.7 7.5 33.5 7.0 34.5 6.5 35.5 6.0 36.8 5.5 38.0 5.1 39.0 4.8 40.3 4.5 41.5 4.2 42.9 4.0 44.0 3.8 45.5 3.7 47.0 3.6 48.5 3.6 50.0 3.7 51.5 3.9 52.5 4.0 54.0 4.4 55.0 4.7 56.0 5.2 57.0 5.8 57.7 6.5 58.3 7.5 58.4 9.0 57.9 10.0 57.2 11.0 56.5 11.6 55.5 12.4 54.5 13.0 53.6 13.5 52.5 14.0 51.5 14.4 50.5 14.8 49.5 15.1 48.0 15.5 47.0 15.7 45.5 16.0ZM10.0 54.5 8.5 54.5 7.5 54.4 6.0 54.1 5.0 53.8 4.0 53.2 3.0 52.5 2.5 52.0 1.8 51.0 1.3 50.0 1.0 48.9 0.9 47.5 1.0 46.1 1.2 45.0 1.6 44.0 2.1 43.0 2.7 42.0 3.4 41.0 4.0 40.3 4.8 39.5 5.5 38.9 6.5 38.1 7.3 37.5 8.1 37.0 9.0 36.5 10.0 35.9 11.0 35.5 12.0 35.0 13.2 34.5 14.3 34.0 15.3 33.5 16.0 33.0 16.9 32.0 17.5 31.2 18.1 30.5 19.0 29.5 19.5 29.0 20.5 28.2 21.5 27.5 22.3 27.0 23.2 26.5 24.2 26.0 25.3 25.5 26.5 25.0 27.5 24.6 28.5 24.2 29.5 23.9 30.8 23.5 32.0 23.1 33.0 22.9 34.5 22.5 35.5 22.3 37.0 22.0 38.0 21.8 39.5 21.6 40.5 21.5 42.0 21.3 43.5 21.2 45.0 21.2 46.5 21.2 48.0 21.3 49.5 21.5 50.5 21.7 51.7 22.0 52.9 22.5 53.6 23.0 54.4 24.0 54.4 25.5 53.8 26.5 53.0 27.4 52.3 28.0 51.5 28.6 50.5 29.2 49.5 29.8 48.5 30.3 47.5 30.8 46.5 31.2 45.5 31.6 44.4 32.0 43.0 32.5 42.0 32.8 41.0 33.1 39.5 33.4 38.5 33.7 37.0 34.0 36.0 34.2 34.5 34.4 33.5 34.6 32.0 34.8 30.5 34.9 29.5 35.0 28.0 35.2 26.5 35.3 25.5 35.5 24.0 35.9 23.1 36.5 22.8 37.5 22.9 39.0 23.1 40.0 23.2 41.5 23.2 43.0 23.0 44.0 22.6 45.5 22.1 46.5 21.6 47.5 21.0 48.4 20.5 49.0 19.6 50.0 19.0 50.6 18.0 51.4 17.1 52.0 16.3 52.5 15.4 53.0 14.2 53.5 13.0 53.9 12.0 54.2 10.5 54.5Z" fill="#000" fill-opacity="0.09" fill-rule="evenodd"/><path d="M45.5 14.1 44.0 14.3 42.5 14.4 41.0 14.5 39.5 14.4 38.0 14.2 37.0 13.9 35.9 13.5 35.0 13.0 34.1 12.0 33.9 11.0 34.2 10.0 35.0 9.1 35.7 8.5 36.5 8.0 37.5 7.5 38.6 7.0 40.0 6.5 41.0 6.2 42.1 6.0 43.5 5.8 45.0 5.6 46.5 5.5 48.0 5.6 49.5 5.8 50.7 6.0 52.0 6.5 53.0 7.0 53.6 7.5 54.1 8.5 54.0 9.5 53.4 10.5 52.5 11.3 51.5 12.0 50.6 12.5 49.5 13.0 48.5 13.3 47.5 13.6 46.0 14.0ZM12.0 50.1 10.5 50.3 9.0 50.2 8.0 49.8 7.0 49.1 6.4 48.5 6.0 47.5 5.8 46.0 6.0 45.0 6.5 43.9 7.1 43.0 8.0 42.0 8.5 41.5 9.5 40.8 10.5 40.3 11.5 39.9 13.0 39.6 14.5 39.6 15.9 40.0 16.8 40.5 17.5 41.3 18.0 42.2 18.2 43.5 18.0 44.9 17.5 46.0 17.0 46.9 16.5 47.5 15.5 48.4 14.7 49.0 13.7 49.5 12.5 50.0Z" fill="#000" fill-opacity="0.06" fill-rule="evenodd"/><path d="M45.0 16.1 44.0 16.2 43.0 16.3 42.0 16.4 41.0 16.4 40.0 16.4 39.0 16.4 38.0 16.3 37.0 16.2 36.0 16.1 35.5 16.0 34.5 15.8 33.7 15.5 33.0 15.3 32.4 15.0 31.5 14.5 31.0 14.2 30.5 13.7 30.0 13.1 29.7 12.5 29.6 11.5 29.8 10.5 30.1 10.0 30.5 9.4 31.0 8.8 31.5 8.4 32.0 8.0 32.7 7.5 33.5 7.0 34.0 6.7 34.5 6.5 35.5 6.0 36.0 5.8 36.8 5.5 37.5 5.2 38.4 5.0 39.0 4.8 40.0 4.6 40.5 4.4 41.5 4.2 42.5 4.1 43.0 4.0 44.0 3.8 45.0 3.7 46.0 3.7 47.0 3.6 48.0 3.6 49.0 3.6 50.0 3.7 51.0 3.8 52.0 4.0 52.5 4.0 53.5 4.3 54.3 4.5 55.0 4.7 55.6 5.0 56.5 5.5 57.0 5.8 57.5 6.3 58.0 6.9 58.3 7.5 58.4 8.5 58.2 9.5 57.9 10.0 57.5 10.6 57.0 11.2 56.5 11.6 56.0 12.0 55.4 12.5 54.5 13.0 54.0 13.3 53.5 13.5 52.5 14.0 52.0 14.2 51.2 14.5 50.5 14.8 49.7 15.0 49.0 15.2 48.0 15.5 47.5 15.6 46.5 15.8 45.5 16.0 45.0 16.1ZM10.0 54.5 9.0 54.6 8.0 54.5 7.5 54.4 6.5 54.3 5.6 54.0 5.0 53.8 4.5 53.5 3.7 53.0 3.0 52.5 2.5 52.0 2.1 51.5 1.8 51.0 1.5 50.4 1.1 49.5 1.0 48.9 0.9 48.0 0.9 47.0 1.0 46.1 1.1 45.5 1.4 44.5 1.6 44.0 2.0 43.2 2.4 42.5 2.7 42.0 3.0 41.5 3.5 40.9 4.0 40.3 4.5 39.8 5.0 39.3 5.5 38.9 6.0 38.5 6.6 38.0 7.3 37.5 8.0 37.0 8.5 36.7 9.0 36.5 9.9 36.0 10.5 35.7 11.0 35.5 12.0 35.0 12.5 34.8 13.2 34.5 14.0 34.1 14.5 33.9 15.3 33.5 16.0 33.0 16.5 32.5 16.9 32.0 17.3 31.5 17.7 31.0 18.1 30.5 18.5 30.0 19.0 29.5 19.5 29.0 20.1 28.5 20.8 28.0 21.5 27.5 22.0 27.2 22.5 26.9 23.2 26.5 24.0 26.1 24.5 25.9 25.3 25.5 26.0 25.2 26.5 25.0 27.5 24.6 28.0 24.4 29.0 24.1 29.5 23.9 30.5 23.6 31.0 23.4 32.0 23.1 32.6 23.0 33.5 22.8 34.5 22.5 35.0 22.4 36.0 22.2 37.0 22.0 37.5 21.9 38.5 21.8 39.5 21.6 40.4 21.5 41.0 21.4 42.0 21.3 43.0 21.3 44.0 21.2 45.0 21.2 46.0 21.2 47.0 21.2 48.0 21.3 49.0 21.4 49.7 21.5 50.5 21.7 51.5 21.9 52.0 22.1 52.9 22.5 53.5 22.9 54.0 23.4 54.4 24.0 54.5 25.0 54.1 26.0 53.8 26.5 53.4 27.0 52.9 27.5 52.3 28.0 51.6 28.5 51.0 28.9 50.5 29.2 50.0 29.5 49.1 30.0 48.5 30.3 48.0 30.6 47.0 31.0 46.5 31.2 45.8 31.5 45.0 31.8 44.4 32.0 43.5 32.3 42.9 32.5 42.0 32.8 41.2 33.0 40.5 33.2 39.5 33.4 39.0 33.6 38.0 33.8 37.0 34.0 36.5 34.1 35.5 34.3 34.5 34.4 33.9 34.5 33.0 34.6 32.0 34.8 31.0 34.9 30.0 35.0 29.5 35.0 28.5 35.1 27.5 35.2 26.5 35.3 25.5 35.5 25.0 35.6 24.0 35.9 23.5 36.2 23.0 36.7 22.8 37.5 22.8 38.5 23.0 39.5 23.1 40.0 23.2 41.0 23.2 42.0 23.2 43.0 23.0 44.0 22.9 44.5 22.6 45.5 22.4 46.0 22.0 46.8 21.6 47.5 21.3 48.0 20.9 48.5 20.5 49.0 20.0 49.6 19.5 50.1 19.0 50.6 18.5 51.0 17.8 51.5 17.1 52.0 16.5 52.4 16.0 52.7 15.4 53.0 14.5 53.4 14.0 53.6 13.0 53.9 12.5 54.1 11.5 54.3 10.5 54.5 10.0 54.5ZM45.0 15.0 44.0 15.2 43.0 15.3 42.0 15.3 41.0 15.4 40.0 15.3 39.0 15.3 38.0 15.2 37.0 15.0 36.5 14.9 35.5 14.7 35.0 14.5 34.0 14.1 33.5 13.8 33.0 13.4 32.5 12.9 32.0 12.1 31.9 11.5 32.0 10.7 32.3 10.0 32.7 9.5 33.1 9.0 33.7 8.5 34.3 8.0 35.0 7.6 35.5 7.3 36.1 7.0 37.0 6.6 37.5 6.4 38.5 6.0 39.0 5.9 40.0 5.6 40.5 5.5 41.5 5.2 42.5 5.1 43.0 5.0 44.0 4.8 45.0 4.7 46.0 4.7 47.0 4.6 48.0 4.7 49.0 4.7 50.0 4.8 51.0 5.0 51.5 5.1 52.5 5.3 53.0 5.5 54.0 5.9 54.5 6.2 55.0 6.6 55.5 7.1 56.0 7.9 56.1 8.5 56.0 9.3 55.7 10.0 55.3 10.5 54.9 11.0 54.3 11.5 53.7 12.0 53.0 12.4 52.5 12.7 51.9 13.0 51.0 13.4 50.5 13.6 49.5 14.0 49.0 14.1 48.0 14.4 47.5 14.5 46.5 14.8 45.5 15.0 45.0 15.0ZM35.5 31.0 34.5 31.1 33.5 31.2 32.5 31.2 31.5 31.2 30.5 31.1 29.8 31.0 29.0 30.7 28.5 30.4 28.2 29.5 28.5 28.9 29.0 28.4 29.5 28.0 30.2 27.5 31.0 27.1 31.5 26.9 32.4 26.5 33.0 26.3 33.9 26.0 34.5 25.8 35.5 25.6 36.0 25.4 37.0 25.2 38.0 25.1 38.7 25.0 39.5 24.9 40.5 24.9 41.5 24.9 42.5 25.0 43.0 25.1 44.0 25.4 44.5 25.6 45.0 26.4 45.0 26.6 44.5 27.5 44.0 28.0 43.5 28.4 43.0 28.7 42.4 29.0 41.5 29.4 41.0 29.6 40.0 30.0 39.5 30.1 38.5 30.4 38.0 30.5 37.0 30.7 36.0 30.9 35.5 31.0ZM12.0 52.1 11.0 52.3 10.0 52.4 9.0 52.4 8.0 52.2 7.2 52.0 6.5 51.7 6.0 51.5 5.3 51.0 4.8 50.5 4.3 50.0 4.0 49.4 3.6 48.5 3.5 48.0 3.4 47.0 3.5 46.0 3.6 45.5 3.9 44.5 4.1 44.0 4.5 43.2 4.9 42.5 5.3 42.0 5.7 41.5 6.2 41.0 6.7 40.5 7.3 40.0 8.0 39.5 8.5 39.2 9.0 38.9 9.7 38.5 10.5 38.2 11.0 38.0 12.0 37.6 12.6 37.5 13.5 37.3 14.5 37.2 15.5 37.3 16.5 37.4 17.0 37.6 17.9 38.0 18.5 38.4 19.0 38.8 19.5 39.4 19.9 40.0 20.2 40.5 20.5 41.5 20.6 42.0 20.7 43.0 20.6 44.0 20.4 44.5 20.1 45.5 19.9 46.0 19.5 46.8 19.0 47.5 18.7 48.0 18.2 48.5 17.7 49.0 17.2 49.5 16.6 50.0 16.0 50.4 15.5 50.7 15.0 51.0 14.0 51.5 13.5 51.7 12.5 52.0 12.0 52.1ZM45.5 14.1 44.5 14.3 43.5 14.4 42.5 14.4 41.5 14.5 40.5 14.4 39.5 14.4 38.5 14.3 37.5 14.0 37.0 13.9 36.0 13.5 35.5 13.3 35.0 13.0 34.4 12.5 34.0 11.7 33.9 11.0 34.0 10.5 34.5 9.6 35.0 9.1 35.5 8.7 36.0 8.3 36.5 8.0 37.4 7.5 38.0 7.2 38.6 7.0 39.5 6.7 40.1 6.5 41.0 6.2 42.0 6.0 42.5 5.9 43.5 5.8 44.5 5.6 45.5 5.6 46.5 5.5 47.5 5.6 48.5 5.6 49.5 5.8 50.5 6.0 51.0 6.1 52.0 6.5 52.5 6.7 53.0 7.0 53.6 7.5 54.0 8.3 54.1 9.0 54.0 9.5 53.5 10.4 53.0 10.9 52.5 11.3 52.0 11.7 51.5 12.0 50.6 12.5 50.0 12.8 49.4 13.0 48.5 13.3 47.9 13.5 47.0 13.8 46.0 14.0 45.5 14.1ZM12.0 50.1 11.0 50.3 10.0 50.3 9.0 50.2 8.5 50.0 7.5 49.5 7.0 49.1 6.5 48.6 6.2 48.0 6.0 47.5 5.8 46.5 5.9 45.5 6.0 45.0 6.4 44.0 6.7 43.5 7.1 43.0 7.5 42.5 8.0 42.0 8.5 41.5 9.2 41.0 10.0 40.5 10.5 40.3 11.3 40.0 12.0 39.8 13.0 39.6 14.0 39.6 15.0 39.7 15.9 40.0 16.5 40.3 17.0 40.7 17.5 41.3 17.9 42.0 18.1 42.5 18.2 43.5 18.1 44.5 18.0 45.0 17.5 46.0 17.3 46.5 16.9 47.0 16.5 47.5 16.0 48.0 15.4 48.5 14.7 49.0 14.0 49.4 13.5 49.6 12.5 50.0 12.0 50.1ZM44.0 13.5 43.0 13.6 42.0 13.6 41.0 13.6 40.0 13.5 39.5 13.5 38.5 13.2 37.7 13.0 37.0 12.6 36.5 12.3 36.0 11.7 35.8 11.0 36.0 10.1 36.4 9.5 37.0 9.0 37.5 8.6 38.0 8.3 38.6 8.0 39.5 7.6 40.0 7.4 41.0 7.1 41.5 7.0 42.5 6.7 43.5 6.6 44.0 6.5 45.0 6.4 46.0 6.4 47.0 6.4 48.0 6.5 48.5 6.5 49.5 6.8 50.3 7.0 51.0 7.4 51.5 7.7 52.0 8.3 52.2 9.0 52.0 9.9 51.6 10.5 51.0 11.0 50.5 11.4 50.0 11.7 49.4 12.0 48.5 12.4 48.0 12.6 47.0 12.9 46.5 13.1 45.5 13.3 44.5 13.4 44.0 13.5ZM12.5 47.6 11.5 47.8 10.5 47.7 9.8 47.5 9.2 47.0 8.9 46.5 8.7 45.5 9.0 44.6 9.3 44.0 9.8 43.5 10.4 43.0 11.0 42.6 11.5 42.4 12.5 42.2 13.5 42.2 14.3 42.5 14.9 43.0 15.2 43.5 15.3 44.5 15.0 45.4 14.6 46.0 14.2 46.5 13.6 47.0 13.0 47.3 12.5 47.6ZM45.0 12.6 44.0 12.7 43.0 12.8 42.0 12.8 41.0 12.8 40.0 12.6 39.5 12.5 38.5 12.0 38.0 11.6 37.6 11.0 37.8 10.0 38.2 9.5 38.8 9.0 39.5 8.6 40.0 8.3 40.8 8.0 41.5 7.8 42.5 7.5 43.0 7.4 44.0 7.3 45.0 7.2 46.0 7.2 47.0 7.2 48.0 7.4 48.5 7.5 49.5 8.0 50.0 8.4 50.4 9.0 50.2 10.0 49.8 10.5 49.2 11.0 48.5 11.4 48.0 11.7 47.2 12.0 46.5 12.2 45.5 12.5 45.0 12.6ZM44.0 12.0 43.0 12.1 42.0 12.1 41.3 12.0 40.5 11.8 39.9 11.5 39.3 11.0 39.4 10.0 39.8 9.5 40.5 9.0 41.0 8.8 41.6 8.5 42.5 8.2 43.5 8.0 44.0 8.0 45.0 7.9 46.0 7.9 46.7 8.0 47.5 8.2 48.1 8.5 48.7 9.0 48.6 10.0 48.2 10.5 47.5 11.0 47.0 11.2 46.4 11.5 45.5 11.8 44.5 12.0 44.0 12.0ZM45.0 11.1 44.0 11.3 43.0 11.4 42.0 11.2 41.4 11.0 40.9 10.5 41.0 10.0 41.5 9.5 42.5 9.0 43.0 8.9 44.0 8.7 45.0 8.6 46.0 8.8 46.6 9.0 47.1 9.5 47.0 10.0 46.5 10.5 45.5 11.0 45.0 11.1Z" fill="none" stroke="#333" stroke-width="0.3"/><ellipse cx="44.3" cy="10.2" rx="11.2" ry="6.4" transform="rotate(-8 44.3 10.2)" fill="#333" fill-opacity="0.6" filter="url(#spk)"/><ellipse cx="44.3" cy="10.2" rx="9.0" ry="4.2" transform="rotate(-8 44.3 10.2)" fill="none" stroke="#333" stroke-width="0.5"/><ellipse cx="44.3" cy="10.2" rx="8.0" ry="3.2" transform="rotate(-8 44.3 10.2)" fill="none" stroke="#111" stroke-width="1.6"/><ellipse cx="11.5" cy="45" rx="9.7" ry="8.0" transform="rotate(-30 11.5 45)" fill="#333" fill-opacity="0.6" filter="url(#spk)"/><ellipse cx="11.5" cy="45" rx="7.5" ry="5.8" transform="rotate(-30 11.5 45)" fill="none" stroke="#333" stroke-width="0.5"/><ellipse cx="11.5" cy="45" rx="6.5" ry="4.8" transform="rotate(-30 11.5 45)" fill="none" stroke="#111" stroke-width="0.8"/></g></g>
<clipPath id="cp02"><rect x="0.7" y="0.7" width="58.4" height="58.5"/></clipPath>
<g transform="translate(342.80 196.30)"><g clip-path="url(#cp02)"><path d="M44.5 17.0 43.0 17.1 41.5 17.2 40.0 17.1 38.5 17.0 37.5 16.9 36.0 16.7 35.0 16.5 33.5 16.1 32.5 15.8 31.5 15.3 30.5 14.8 29.6 14.0 29.0 13.2 28.6 12.0 29.0 10.5 29.5 9.7 30.2 9.0 31.0 8.3 32.0 7.6 33.0 7.1 34.0 6.6 35.0 6.2 36.0 5.8 37.1 5.5 38.5 5.1 39.5 4.8 41.0 4.5 42.0 4.4 43.5 4.2 45.0 4.0 46.0 4.0 47.5 3.9 49.0 4.0 50.0 4.0 51.5 4.1 53.0 4.3 54.0 4.5 55.5 4.9 56.5 5.2 57.5 5.7 58.5 6.2 59.4 7.0 60.0 7.8 60.4 9.0 60.0 10.5 59.5 11.3 58.8 12.0 58.0 12.7 57.0 13.4 56.0 13.9 55.0 14.4 54.0 14.9 53.0 15.2 52.0 15.5 50.5 16.0 49.5 16.3 48.2 16.5 47.0 16.7 45.5 16.9 44.5 17.0ZM12.0 57.1 10.5 57.2 9.0 57.3 7.5 57.1 6.5 56.9 5.4 56.5 4.3 56.0 3.5 55.5 2.5 54.7 1.8 54.0 1.1 53.0 0.5 52.0 0.1 51.0 -0.2 50.0 -0.4 48.5 -0.4 47.0 -0.3 45.5 0.0 44.3 0.4 43.0 0.8 42.0 1.2 41.0 1.8 40.0 2.4 39.0 3.0 38.2 3.5 37.5 4.3 36.5 5.0 35.8 5.8 35.0 6.5 34.4 7.5 33.5 8.2 33.0 9.0 32.4 10.0 31.7 11.0 31.1 12.0 30.5 12.9 30.0 13.8 29.5 14.8 29.0 15.8 28.5 16.9 28.0 18.0 27.5 19.0 27.0 20.0 26.6 21.0 26.2 22.0 25.8 23.0 25.4 24.0 25.0 25.3 24.5 26.5 24.1 27.5 23.8 28.5 23.4 29.9 23.0 31.0 22.7 32.0 22.4 33.5 22.0 34.5 21.7 35.5 21.5 37.0 21.2 38.0 21.0 39.5 20.7 40.7 20.5 42.0 20.3 43.5 20.1 45.0 20.0 46.0 20.0 47.5 19.9 49.0 20.0 50.0 20.1 51.5 20.2 52.7 20.5 54.0 20.9 55.0 21.4 55.8 22.0 56.4 23.0 56.5 24.0 56.2 25.0 55.6 26.0 55.0 26.7 54.1 27.5 53.5 28.0 52.5 28.7 51.5 29.4 50.5 29.9 49.5 30.5 48.5 31.0 47.5 31.4 46.5 31.9 45.5 32.3 44.5 32.6 43.4 33.0 42.0 33.5 41.0 33.8 40.0 34.1 38.5 34.5 37.5 34.7 36.1 35.0 35.0 35.2 33.5 35.5 32.5 35.7 31.1 36.0 30.0 36.3 29.0 36.8 28.3 37.5 27.8 38.5 27.6 40.0 27.5 41.0 27.3 42.5 27.0 43.6 26.6 45.0 26.2 46.0 25.7 47.0 25.1 48.0 24.5 48.9 24.0 49.6 23.3 50.5 22.5 51.4 21.9 52.0 21.0 52.8 20.1 53.5 19.4 54.0 18.5 54.6 17.5 55.2 16.5 55.7 15.5 56.1 14.3 56.5 13.0 56.9 12.0 57.1ZM42.5 16.5 41.0 16.5 40.0 16.5 38.5 16.4 37.0 16.2 36.0 16.0 34.5 15.6 33.5 15.3 32.5 14.9 31.5 14.2 30.7 13.5 30.1 12.5 30.1 11.0 30.6 10.0 31.5 9.1 32.2 8.5 33.0 7.9 34.0 7.4 35.0 6.9 36.0 6.5 37.5 6.0 38.5 5.7 39.5 5.4 41.0 5.1 42.0 4.9 43.5 4.7 45.0 4.6 46.5 4.5 48.0 4.5 49.5 4.6 51.0 4.7 52.5 4.9 53.5 5.1 54.9 5.5 56.0 5.9 57.0 6.4 57.8 7.0 58.5 7.8 59.0 9.0 58.7 10.5 58.0 11.4 57.4 12.0 56.5 12.7 55.5 13.4 54.5 13.9 53.5 14.3 52.5 14.7 51.5 15.0 50.0 15.5 49.0 15.7 47.5 16.0 46.5 16.2 45.0 16.4 43.5 16.5 42.5 16.5ZM12.5 55.5 11.0 55.8 9.5 55.8 8.0 55.6 7.0 55.3 6.0 55.0 5.0 54.5 4.0 53.7 3.2 53.0 2.5 52.1 2.0 51.2 1.5 50.0 1.3 49.0 1.1 47.5 1.2 46.0 1.5 44.5 1.7 43.5 2.1 42.5 2.5 41.5 3.1 40.5 3.7 39.5 4.4 38.5 5.0 37.8 5.7 37.0 6.5 36.2 7.3 35.5 8.0 34.9 9.0 34.2 10.0 33.5 10.8 33.0 11.7 32.5 12.6 32.0 13.7 31.5 14.8 31.0 16.0 30.5 17.0 30.1 18.0 29.7 19.0 29.2 20.0 28.8 21.0 28.3 22.0 27.8 23.0 27.3 24.0 26.9 25.0 26.4 26.0 26.0 27.2 25.5 28.5 25.0 29.5 24.6 30.5 24.3 31.5 23.9 33.0 23.5 34.0 23.2 35.0 22.9 36.5 22.6 37.5 22.4 39.0 22.1 40.0 21.9 41.5 21.7 43.0 21.6 44.5 21.5 45.5 21.5 46.5 21.5 48.0 21.6 49.5 21.9 50.5 22.2 51.5 22.6 52.5 23.5 52.8 24.5 52.5 25.6 51.9 26.5 51.0 27.5 50.4 28.0 49.5 28.6 48.5 29.2 47.5 29.8 46.5 30.3 45.5 30.8 44.5 31.2 43.5 31.6 42.3 32.0 41.0 32.4 40.0 32.7 39.0 33.0 37.5 33.4 36.5 33.6 35.0 33.9 34.0 34.1 32.5 34.3 31.3 34.5 30.0 34.7 28.6 35.0 27.5 35.4 26.7 36.0 26.2 37.0 26.0 38.0 25.9 39.5 25.9 41.0 25.7 42.5 25.5 43.6 25.1 45.0 24.6 46.0 24.1 47.0 23.5 48.0 23.0 48.7 22.4 49.5 21.5 50.5 21.0 51.0 20.0 51.9 19.3 52.5 18.5 53.0 17.5 53.7 16.5 54.2 15.5 54.7 14.5 55.0 13.0 55.4Z" fill="#222" fill-opacity="0.95" fill-rule="evenodd" filter="url(#spk)"/><path d="M47.0 17.6 45.5 17.9 44.0 17.9 42.5 17.9 41.0 17.9 39.5 17.8 38.0 17.7 37.0 17.5 35.5 17.3 34.2 17.0 33.0 16.7 32.0 16.4 31.0 16.0 30.0 15.5 29.0 14.8 28.1 14.0 27.5 13.0 27.4 12.0 27.5 11.0 28.1 10.0 28.9 9.0 29.5 8.5 30.5 7.7 31.5 7.1 32.5 6.6 33.5 6.1 34.5 5.7 35.5 5.4 36.8 5.0 38.0 4.6 39.0 4.4 40.5 4.1 41.5 3.9 43.0 3.7 44.5 3.6 45.7 3.5 47.0 3.4 48.5 3.4 50.0 3.5 51.0 3.5 52.5 3.7 54.0 3.9 55.0 4.1 56.5 4.5 57.5 4.8 58.5 5.3 59.5 5.8 60.4 6.5 61.0 7.2 61.5 8.2 61.6 9.5 61.3 10.5 60.6 11.5 60.0 12.1 59.0 12.9 58.2 13.5 57.3 14.0 56.4 14.5 55.3 15.0 54.1 15.5 53.0 15.9 52.0 16.3 51.0 16.6 49.5 17.0 48.5 17.3 47.2 17.5ZM10.5 58.5 9.0 58.6 7.7 58.5 6.5 58.3 5.3 58.0 4.0 57.5 3.1 57.0 2.3 56.5 1.5 55.9 0.6 55.0 0.0 54.2 -0.5 53.4 -1.0 52.3 -1.5 51.0 -1.7 50.0 -1.8 48.5 -1.8 47.0 -1.6 45.5 -1.4 44.5 -1.0 43.1 -0.6 42.0 -0.1 41.0 0.4 40.0 1.0 39.0 1.5 38.2 2.0 37.5 2.7 36.5 3.5 35.6 4.1 35.0 5.0 34.0 5.6 33.5 6.5 32.7 7.3 32.0 8.0 31.5 9.0 30.8 10.0 30.1 10.9 29.5 11.7 29.0 12.6 28.5 13.5 28.0 14.5 27.5 15.5 26.9 16.5 26.4 17.5 26.0 18.6 25.5 19.7 25.0 21.0 24.5 22.0 24.1 23.0 23.8 24.0 23.5 25.5 23.0 26.5 22.7 27.5 22.4 29.0 22.0 30.0 21.7 31.0 21.5 32.5 21.1 33.5 20.8 35.0 20.5 36.0 20.3 37.3 20.0 38.5 19.7 39.7 19.5 41.0 19.2 42.3 19.0 43.5 18.7 45.0 18.6 46.5 18.5 48.0 18.5 49.5 18.6 51.0 18.7 52.5 18.8 53.8 19.0 55.0 19.2 56.0 19.5 57.2 20.0 58.1 20.5 59.0 21.3 59.5 22.2 59.6 23.5 59.3 24.5 58.7 25.5 58.0 26.3 57.3 27.0 56.5 27.7 55.5 28.5 54.7 29.0 53.9 29.5 53.0 30.0 52.0 30.6 51.0 31.1 50.0 31.6 49.0 32.0 47.9 32.5 46.7 33.0 45.5 33.4 44.5 33.8 43.5 34.1 42.3 34.5 41.0 34.9 40.0 35.2 38.6 35.5 37.5 35.8 36.5 36.0 35.0 36.3 34.0 36.5 32.5 36.9 31.5 37.2 30.5 37.7 29.6 38.5 29.2 39.5 29.0 40.5 28.7 42.0 28.5 43.0 28.1 44.5 27.7 45.5 27.3 46.5 26.8 47.5 26.2 48.5 25.5 49.5 25.0 50.2 24.4 51.0 23.5 52.0 23.0 52.5 22.0 53.4 21.3 54.0 20.5 54.6 19.5 55.3 18.5 55.9 17.5 56.5 16.5 57.0 15.5 57.4 14.5 57.7 13.5 58.0 12.0 58.4 10.9 58.5ZM44.5 17.0 43.0 17.1 41.5 17.2 40.0 17.1 38.5 17.0 37.5 16.9 36.0 16.7 35.0 16.5 33.5 16.1 32.5 15.8 31.5 15.3 30.5 14.8 29.6 14.0 29.0 13.2 28.6 12.0 29.0 10.5 29.5 9.7 30.2 9.0 31.0 8.3 32.0 7.6 33.0 7.1 34.0 6.6 35.0 6.2 36.0 5.8 37.1 5.5 38.5 5.1 39.5 4.8 41.0 4.5 42.0 4.4 43.5 4.2 45.0 4.0 46.0 4.0 47.5 3.9 49.0 4.0 50.0 4.0 51.5 4.1 53.0 4.3 54.0 4.5 55.5 4.9 56.5 5.2 57.5 5.7 58.5 6.2 59.4 7.0 60.0 7.8 60.4 9.0 60.0 10.5 59.5 11.3 58.8 12.0 58.0 12.7 57.0 13.4 56.0 13.9 55.0 14.4 54.0 14.9 53.0 15.2 52.0 15.5 50.5 16.0 49.5 16.3 48.2 16.5 47.0 16.7 45.5 16.9 44.5 17.0ZM12.0 57.1 10.5 57.2 9.0 57.3 7.5 57.1 6.5 56.9 5.4 56.5 4.3 56.0 3.5 55.5 2.5 54.7 1.8 54.0 1.1 53.0 0.5 52.0 0.1 51.0 -0.2 50.0 -0.4 48.5 -0.4 47.0 -0.3 45.5 0.0 44.3 0.4 43.0 0.8 42.0 1.2 41.0 1.8 40.0 2.4 39.0 3.0 38.2 3.5 37.5 4.3 36.5 5.0 35.8 5.8 35.0 6.5 34.4 7.5 33.5 8.2 33.0 9.0 32.4 10.0 31.7 11.0 31.1 12.0 30.5 12.9 30.0 13.8 29.5 14.8 29.0 15.8 28.5 16.9 28.0 18.0 27.5 19.0 27.0 20.0 26.6 21.0 26.2 22.0 25.8 23.0 25.4 24.0 25.0 25.3 24.5 26.5 24.1 27.5 23.8 28.5 23.4 29.9 23.0 31.0 22.7 32.0 22.4 33.5 22.0 34.5 21.7 35.5 21.5 37.0 21.2 38.0 21.0 39.5 20.7 40.7 20.5 42.0 20.3 43.5 20.1 45.0 20.0 46.0 20.0 47.5 19.9 49.0 20.0 50.0 20.1 51.5 20.2 52.7 20.5 54.0 20.9 55.0 21.4 55.8 22.0 56.4 23.0 56.5 24.0 56.2 25.0 55.6 26.0 55.0 26.7 54.1 27.5 53.5 28.0 52.5 28.7 51.5 29.4 50.5 29.9 49.5 30.5 48.5 31.0 47.5 31.4 46.5 31.9 45.5 32.3 44.5 32.6 43.4 33.0 42.0 33.5 41.0 33.8 40.0 34.1 38.5 34.5 37.5 34.7 36.1 35.0 35.0 35.2 33.5 35.5 32.5 35.7 31.1 36.0 30.0 36.3 29.0 36.8 28.3 37.5 27.8 38.5 27.6 40.0 27.5 41.0 27.3 42.5 27.0 43.6 26.6 45.0 26.2 46.0 25.7 47.0 25.1 48.0 24.5 48.9 24.0 49.6 23.3 50.5 22.5 51.4 21.9 52.0 21.0 52.8 20.1 53.5 19.4 54.0 18.5 54.6 17.5 55.2 16.5 55.7 15.5 56.1 14.3 56.5 13.0 56.9 12.0 57.1Z" fill="#222" fill-opacity="0.6" fill-rule="evenodd" filter="url(#spk)"/><path d="M11.0 60.0 9.5 60.2 8.0 60.2 6.5 60.0 5.5 59.8 4.3 59.5 3.0 59.0 2.0 58.5 1.2 58.0 0.5 57.4 -0.5 56.5 -1.0 55.9 -1.7 55.0 -2.3 54.0 -2.7 53.0 -3.0 52.0 -3.4 50.5 -3.5 49.0 -3.5 48.0 -3.4 47.0 -3.2 45.5 -3.0 44.4 -2.6 43.0 -2.2 42.0 -1.8 41.0 -1.3 40.0 -0.8 39.0 -0.2 38.0 0.5 37.0 1.0 36.3 1.6 35.5 2.5 34.5 3.0 34.0 3.9 33.0 4.5 32.4 5.5 31.5 6.1 31.0 7.0 30.3 8.0 29.6 8.8 29.0 9.5 28.5 10.5 27.8 11.5 27.2 12.5 26.6 13.5 26.0 14.5 25.5 15.4 25.0 16.5 24.5 17.5 24.0 18.5 23.6 19.5 23.1 20.5 22.8 21.5 22.4 22.8 22.0 24.0 21.7 25.0 21.4 26.5 21.0 27.5 20.8 28.9 20.5 30.0 20.3 31.2 20.0 32.5 19.7 33.5 19.4 34.8 19.0 35.0 18.4 34.0 18.0 32.5 17.5 31.5 17.2 30.5 16.9 29.5 16.4 28.5 15.9 27.5 15.2 26.8 14.5 26.1 13.5 25.8 12.5 26.0 11.2 26.5 10.1 27.0 9.4 27.9 8.5 28.5 8.0 29.5 7.3 30.5 6.7 31.5 6.2 32.5 5.8 33.5 5.4 34.6 5.0 36.0 4.5 37.0 4.2 38.0 4.0 39.5 3.6 40.5 3.5 42.0 3.2 43.5 3.0 44.5 3.0 46.0 2.8 47.5 2.8 49.0 2.8 50.5 2.8 52.0 2.9 53.0 3.0 54.5 3.2 55.8 3.5 57.0 3.8 58.0 4.1 59.1 4.5 60.1 5.0 61.0 5.5 62.0 6.3 62.6 7.0 63.0 8.0 63.1 9.5 62.8 10.5 62.1 11.5 61.5 12.1 60.5 13.0 59.8 13.5 59.0 14.1 58.0 14.7 57.0 15.2 56.0 15.8 55.0 16.4 55.0 17.1 56.3 17.5 57.5 17.8 58.5 18.0 59.9 18.5 60.9 19.0 61.7 19.5 62.5 20.3 63.0 21.2 63.2 22.5 63.0 23.5 62.5 24.5 61.8 25.5 61.0 26.4 60.3 27.0 59.5 27.7 58.5 28.5 57.7 29.0 57.0 29.5 56.0 30.1 55.0 30.7 54.0 31.2 53.0 31.7 52.0 32.2 51.0 32.6 50.0 33.1 48.9 33.5 47.6 34.0 46.5 34.4 45.5 34.8 44.5 35.1 43.2 35.5 42.0 35.9 41.0 36.1 39.6 36.5 38.5 36.8 37.5 37.0 36.0 37.4 35.0 37.6 33.6 38.0 32.5 38.4 31.6 39.0 31.0 39.8 30.6 41.0 30.4 42.0 30.0 43.4 29.7 44.5 29.3 45.5 28.9 46.5 28.4 47.5 27.9 48.5 27.3 49.5 26.6 50.5 26.0 51.3 25.4 52.0 24.5 53.0 24.0 53.5 23.0 54.4 22.3 55.0 21.5 55.6 20.5 56.3 19.5 57.0 18.6 57.5 17.6 58.0 16.5 58.5 15.5 58.9 14.5 59.3 13.5 59.6 12.0 59.9 11.0 60.0ZM47.0 17.6 45.5 17.9 44.0 17.9 42.5 17.9 41.0 17.9 39.5 17.8 38.0 17.7 37.0 17.5 35.5 17.3 34.2 17.0 33.0 16.7 32.0 16.4 31.0 16.0 30.0 15.5 29.0 14.8 28.1 14.0 27.5 13.0 27.4 12.0 27.5 11.0 28.1 10.0 28.9 9.0 29.5 8.5 30.5 7.7 31.5 7.1 32.5 6.6 33.5 6.1 34.5 5.7 35.5 5.4 36.8 5.0 38.0 4.6 39.0 4.4 40.5 4.1 41.5 3.9 43.0 3.7 44.5 3.6 45.7 3.5 47.0 3.4 48.5 3.4 50.0 3.5 51.0 3.5 52.5 3.7 54.0 3.9 55.0 4.1 56.5 4.5 57.5 4.8 58.5 5.3 59.5 5.8 60.4 6.5 61.0 7.2 61.5 8.2 61.6 9.5 61.3 10.5 60.6 11.5 60.0 12.1 59.0 12.9 58.2 13.5 57.3 14.0 56.4 14.5 55.3 15.0 54.1 15.5 53.0 15.9 52.0 16.3 51.0 16.6 49.5 17.0 48.5 17.3 47.2 17.5ZM10.5 58.5 9.0 58.6 7.7 58.5 6.5 58.3 5.3 58.0 4.0 57.5 3.1 57.0 2.3 56.5 1.5 55.9 0.6 55.0 0.0 54.2 -0.5 53.4 -1.0 52.3 -1.5 51.0 -1.7 50.0 -1.8 48.5 -1.8 47.0 -1.6 45.5 -1.4 44.5 -1.0 43.1 -0.6 42.0 -0.1 41.0 0.4 40.0 1.0 39.0 1.5 38.2 2.0 37.5 2.7 36.5 3.5 35.6 4.1 35.0 5.0 34.0 5.6 33.5 6.5 32.7 7.3 32.0 8.0 31.5 9.0 30.8 10.0 30.1 10.9 29.5 11.7 29.0 12.6 28.5 13.5 28.0 14.5 27.5 15.5 26.9 16.5 26.4 17.5 26.0 18.6 25.5 19.7 25.0 21.0 24.5 22.0 24.1 23.0 23.8 24.0 23.5 25.5 23.0 26.5 22.7 27.5 22.4 29.0 22.0 30.0 21.7 31.0 21.5 32.5 21.1 33.5 20.8 35.0 20.5 36.0 20.3 37.3 20.0 38.5 19.7 39.7 19.5 41.0 19.2 42.3 19.0 43.5 18.7 45.0 18.6 46.5 18.5 48.0 18.5 49.5 18.6 51.0 18.7 52.5 18.8 53.8 19.0 55.0 19.2 56.0 19.5 57.2 20.0 58.1 20.5 59.0 21.3 59.5 22.2 59.6 23.5 59.3 24.5 58.7 25.5 58.0 26.3 57.3 27.0 56.5 27.7 55.5 28.5 54.7 29.0 53.9 29.5 53.0 30.0 52.0 30.6 51.0 31.1 50.0 31.6 49.0 32.0 47.9 32.5 46.7 33.0 45.5 33.4 44.5 33.8 43.5 34.1 42.3 34.5 41.0 34.9 40.0 35.2 38.6 35.5 37.5 35.8 36.5 36.0 35.0 36.3 34.0 36.5 32.5 36.9 31.5 37.2 30.5 37.7 29.6 38.5 29.2 39.5 29.0 40.5 28.7 42.0 28.5 43.0 28.1 44.5 27.7 45.5 27.3 46.5 26.8 47.5 26.2 48.5 25.5 49.5 25.0 50.2 24.4 51.0 23.5 52.0 23.0 52.5 22.0 53.4 21.3 54.0 20.5 54.6 19.5 55.3 18.5 55.9 17.5 56.5 16.5 57.0 15.5 57.4 14.5 57.7 13.5 58.0 12.0 58.4 10.9 58.5Z" fill="#222" fill-opacity="0.3" fill-rule="evenodd" filter="url(#spk)"/><path d="M42.5 16.5 41.0 16.5 40.0 16.5 38.5 16.4 37.0 16.2 36.0 16.0 34.5 15.6 33.5 15.3 32.5 14.9 31.5 14.2 30.7 13.5 30.1 12.5 30.1 11.0 30.6 10.0 31.5 9.1 32.2 8.5 33.0 7.9 34.0 7.4 35.0 6.9 36.0 6.5 37.5 6.0 38.5 5.7 39.5 5.4 41.0 5.1 42.0 4.9 43.5 4.7 45.0 4.6 46.5 4.5 48.0 4.5 49.5 4.6 51.0 4.7 52.5 4.9 53.5 5.1 54.9 5.5 56.0 5.9 57.0 6.4 57.8 7.0 58.5 7.8 59.0 9.0 58.7 10.5 58.0 11.4 57.4 12.0 56.5 12.7 55.5 13.4 54.5 13.9 53.5 14.3 52.5 14.7 51.5 15.0 50.0 15.5 49.0 15.7 47.5 16.0 46.5 16.2 45.0 16.4 43.5 16.5 42.5 16.5ZM12.5 55.5 11.0 55.8 9.5 55.8 8.0 55.6 7.0 55.3 6.0 55.0 5.0 54.5 4.0 53.7 3.2 53.0 2.5 52.1 2.0 51.2 1.5 50.0 1.3 49.0 1.1 47.5 1.2 46.0 1.5 44.5 1.7 43.5 2.1 42.5 2.5 41.5 3.1 40.5 3.7 39.5 4.4 38.5 5.0 37.8 5.7 37.0 6.5 36.2 7.3 35.5 8.0 34.9 9.0 34.2 10.0 33.5 10.8 33.0 11.7 32.5 12.6 32.0 13.7 31.5 14.8 31.0 16.0 30.5 17.0 30.1 18.0 29.7 19.0 29.2 20.0 28.8 21.0 28.3 22.0 27.8 23.0 27.3 24.0 26.9 25.0 26.4 26.0 26.0 27.2 25.5 28.5 25.0 29.5 24.6 30.5 24.3 31.5 23.9 33.0 23.5 34.0 23.2 35.0 22.9 36.5 22.6 37.5 22.4 39.0 22.1 40.0 21.9 41.5 21.7 43.0 21.6 44.5 21.5 45.5 21.5 46.5 21.5 48.0 21.6 49.5 21.9 50.5 22.2 51.5 22.6 52.5 23.5 52.8 24.5 52.5 25.6 51.9 26.5 51.0 27.5 50.4 28.0 49.5 28.6 48.5 29.2 47.5 29.8 46.5 30.3 45.5 30.8 44.5 31.2 43.5 31.6 42.3 32.0 41.0 32.4 40.0 32.7 39.0 33.0 37.5 33.4 36.5 33.6 35.0 33.9 34.0 34.1 32.5 34.3 31.3 34.5 30.0 34.7 28.6 35.0 27.5 35.4 26.7 36.0 26.2 37.0 26.0 38.0 25.9 39.5 25.9 41.0 25.7 42.5 25.5 43.6 25.1 45.0 24.6 46.0 24.1 47.0 23.5 48.0 23.0 48.7 22.4 49.5 21.5 50.5 21.0 51.0 20.0 51.9 19.3 52.5 18.5 53.0 17.5 53.7 16.5 54.2 15.5 54.7 14.5 55.0 13.0 55.4Z" fill="#000" fill-opacity="0.09" fill-rule="evenodd"/><path d="M45.0 14.6 43.5 14.7 42.0 14.7 40.5 14.6 39.5 14.5 38.0 14.2 37.0 13.9 36.0 13.5 35.0 12.8 34.5 12.0 34.5 10.8 35.0 9.9 36.0 9.0 36.8 8.5 37.8 8.0 39.0 7.5 40.0 7.2 41.0 7.0 42.5 6.6 43.6 6.5 45.0 6.4 46.5 6.3 48.0 6.3 49.5 6.5 50.5 6.7 51.8 7.0 53.0 7.5 53.7 8.0 54.5 9.0 54.6 10.0 54.1 11.0 53.5 11.6 52.5 12.3 51.5 12.9 50.5 13.3 49.5 13.6 48.1 14.0 47.0 14.3 45.5 14.5ZM12.0 50.5 10.9 50.5 9.5 50.2 8.5 49.6 7.8 49.0 7.1 48.0 6.8 47.0 6.6 45.5 6.9 44.0 7.2 43.0 7.8 42.0 8.4 41.0 9.0 40.3 9.9 39.5 10.5 39.0 11.5 38.4 12.5 37.9 13.6 37.5 15.0 37.2 16.5 37.3 17.5 37.6 18.5 38.1 19.4 39.0 20.0 40.0 20.3 41.0 20.4 42.5 20.1 44.0 19.7 45.0 19.2 46.0 18.5 47.0 18.0 47.6 17.0 48.5 16.3 49.0 15.5 49.5 14.4 50.0 13.0 50.4 12.0 50.5Z" fill="#000" fill-opacity="0.06" fill-rule="evenodd"/><path d="M42.5 16.5 41.5 16.5 40.5 16.5 40.0 16.5 39.0 16.4 38.0 16.3 37.0 16.2 36.0 16.0 35.5 15.9 34.5 15.6 34.0 15.5 33.0 15.1 32.5 14.9 31.9 14.5 31.2 14.0 30.7 13.5 30.3 13.0 30.0 12.0 30.1 11.0 30.5 10.2 31.0 9.6 31.5 9.1 32.0 8.6 32.5 8.3 33.0 7.9 33.8 7.5 34.5 7.1 35.0 6.9 36.0 6.5 36.5 6.3 37.5 6.0 38.0 5.8 39.0 5.6 39.5 5.4 40.5 5.2 41.5 5.0 42.0 4.9 43.0 4.8 44.0 4.7 45.0 4.6 46.0 4.5 47.0 4.5 48.0 4.5 49.0 4.5 50.0 4.6 51.0 4.7 52.0 4.8 53.0 5.0 53.5 5.1 54.5 5.4 55.0 5.5 56.0 5.9 56.5 6.1 57.1 6.5 57.8 7.0 58.3 7.5 58.7 8.0 59.0 9.0 58.9 10.0 58.5 10.8 58.0 11.4 57.5 11.9 57.0 12.4 56.5 12.7 56.0 13.1 55.2 13.5 54.5 13.9 54.0 14.1 53.0 14.5 52.5 14.7 51.6 15.0 51.0 15.2 50.0 15.5 49.5 15.6 48.5 15.8 47.5 16.0 47.0 16.1 46.0 16.3 45.0 16.4 44.0 16.4 43.0 16.5 42.5 16.5ZM12.5 55.5 11.5 55.7 10.5 55.8 9.5 55.8 8.5 55.7 7.6 55.5 7.0 55.3 6.1 55.0 5.5 54.7 5.0 54.5 4.3 54.0 3.7 53.5 3.2 53.0 2.8 52.5 2.5 52.0 2.0 51.2 1.7 50.5 1.5 49.9 1.3 49.0 1.1 48.0 1.1 47.0 1.2 46.0 1.3 45.0 1.5 44.3 1.7 43.5 2.0 42.8 2.3 42.0 2.5 41.5 3.0 40.7 3.4 40.0 3.7 39.5 4.1 39.0 4.5 38.4 5.0 37.8 5.5 37.2 6.0 36.7 6.5 36.2 7.0 35.7 7.5 35.3 8.0 34.9 8.5 34.5 9.2 34.0 10.0 33.5 10.5 33.2 11.0 32.9 11.7 32.5 12.5 32.1 13.0 31.8 13.7 31.5 14.5 31.1 15.0 30.9 16.0 30.5 16.5 30.3 17.2 30.0 18.0 29.7 18.5 29.5 19.5 29.0 20.0 28.8 20.6 28.5 21.5 28.1 22.0 27.8 22.7 27.5 23.5 27.1 24.0 26.9 24.8 26.5 25.5 26.2 26.0 26.0 27.0 25.6 27.5 25.4 28.5 25.0 29.0 24.8 29.8 24.5 30.5 24.3 31.3 24.0 32.0 23.8 33.0 23.5 33.5 23.3 34.5 23.1 35.0 22.9 36.0 22.7 36.9 22.5 37.5 22.4 38.5 22.2 39.5 22.0 40.0 21.9 41.0 21.8 42.0 21.7 43.0 21.6 44.0 21.5 44.6 21.5 45.5 21.5 46.3 21.5 47.0 21.5 48.0 21.6 49.0 21.8 50.0 22.0 50.5 22.2 51.3 22.5 52.0 23.0 52.5 23.5 52.7 24.0 52.7 25.0 52.5 25.6 52.0 26.4 51.5 27.0 51.0 27.5 50.5 27.9 50.0 28.3 49.5 28.6 48.9 29.0 48.0 29.5 47.5 29.8 47.0 30.1 46.1 30.5 45.5 30.8 45.0 31.0 44.0 31.4 43.5 31.6 42.5 31.9 42.0 32.1 41.0 32.4 40.5 32.6 39.5 32.9 39.0 33.0 38.0 33.3 37.0 33.5 36.5 33.6 35.5 33.8 34.5 34.0 34.0 34.1 33.0 34.3 32.0 34.4 31.3 34.5 30.5 34.6 29.5 34.8 28.6 35.0 28.0 35.2 27.4 35.5 26.7 36.0 26.4 36.5 26.0 37.5 26.0 38.0 26.0 39.0 25.9 40.0 25.9 41.0 25.8 42.0 25.6 43.0 25.5 43.6 25.2 44.5 25.0 45.1 24.6 46.0 24.4 46.5 24.0 47.2 23.5 48.0 23.2 48.5 22.8 49.0 22.4 49.5 22.0 50.0 21.5 50.5 21.0 51.0 20.5 51.5 19.9 52.0 19.3 52.5 18.6 53.0 18.0 53.4 17.5 53.7 16.9 54.0 16.0 54.4 15.5 54.7 14.5 55.0 14.0 55.2 13.0 55.4 12.5 55.5ZM43.0 15.5 42.0 15.5 41.0 15.5 40.5 15.5 39.5 15.4 38.5 15.3 37.5 15.1 36.9 15.0 36.0 14.8 35.2 14.5 34.5 14.2 34.0 13.9 33.4 13.5 32.9 13.0 32.5 12.3 32.3 11.5 32.5 10.8 32.9 10.0 33.4 9.5 33.9 9.0 34.5 8.6 35.0 8.3 35.5 8.0 36.5 7.5 37.0 7.3 37.8 7.0 38.5 6.7 39.4 6.5 40.0 6.3 41.0 6.1 41.5 6.0 42.5 5.8 43.5 5.7 44.5 5.6 45.5 5.5 46.0 5.5 47.0 5.5 48.0 5.5 48.5 5.5 49.5 5.6 50.5 5.7 51.5 5.9 52.1 6.0 53.0 6.2 53.8 6.5 54.5 6.8 55.0 7.1 55.6 7.5 56.1 8.0 56.5 8.7 56.7 9.5 56.5 10.2 56.1 11.0 55.6 11.5 55.1 12.0 54.5 12.4 54.0 12.7 53.5 13.0 52.5 13.5 52.0 13.7 51.2 14.0 50.5 14.3 49.6 14.5 49.0 14.7 48.0 14.9 47.5 15.0 46.5 15.2 45.5 15.3 44.5 15.4 43.5 15.5 43.0 15.5ZM33.5 31.0 32.5 31.0 32.0 31.0 31.0 30.9 30.0 30.5 29.5 30.1 29.4 29.5 29.6 29.0 30.0 28.5 30.6 28.0 31.4 27.5 32.0 27.2 32.5 27.0 33.5 26.5 34.0 26.3 35.0 26.0 35.5 25.9 36.5 25.6 37.0 25.5 38.0 25.3 39.0 25.1 40.0 25.0 41.0 25.0 42.0 25.1 43.0 25.3 43.6 25.5 44.1 26.0 44.1 27.0 43.7 27.5 43.1 28.0 42.5 28.4 42.0 28.7 41.5 29.0 40.5 29.4 40.0 29.6 39.0 30.0 38.5 30.1 37.5 30.4 37.0 30.5 36.0 30.7 35.0 30.9 34.0 31.0 33.5 31.0ZM12.0 53.0 11.0 53.1 10.0 53.1 9.5 53.0 8.5 52.8 7.8 52.5 7.0 52.1 6.5 51.8 6.0 51.4 5.5 50.9 5.0 50.2 4.6 49.5 4.4 49.0 4.1 48.0 4.0 47.5 3.9 46.5 4.0 45.5 4.1 45.0 4.3 44.0 4.5 43.3 4.8 42.5 5.1 42.0 5.5 41.2 6.0 40.5 6.3 40.0 6.7 39.5 7.1 39.0 7.6 38.5 8.1 38.0 8.7 37.5 9.3 37.0 10.0 36.5 10.5 36.2 11.0 35.9 11.8 35.5 12.5 35.2 13.0 35.0 14.0 34.6 14.5 34.5 15.5 34.2 16.5 34.1 17.5 34.1 18.5 34.2 19.5 34.5 20.0 34.7 20.5 35.1 21.0 35.5 21.5 36.1 22.0 37.0 22.3 37.5 22.5 38.1 22.8 39.0 23.0 40.0 23.0 40.5 23.1 41.5 23.0 42.5 22.9 43.0 22.7 44.0 22.5 44.6 22.1 45.5 21.9 46.0 21.5 46.7 21.0 47.5 20.6 48.0 20.2 48.5 19.7 49.0 19.2 49.5 18.7 50.0 18.0 50.5 17.5 50.9 17.0 51.2 16.5 51.5 15.6 52.0 15.0 52.3 14.3 52.5 13.5 52.8 12.5 53.0 12.0 53.0ZM45.0 14.6 44.0 14.6 43.0 14.7 42.0 14.7 41.0 14.7 40.0 14.6 39.5 14.5 38.5 14.3 37.5 14.1 37.0 13.9 36.0 13.5 35.5 13.2 35.0 12.8 34.5 12.0 34.4 11.5 34.5 10.8 34.9 10.0 35.4 9.5 36.0 9.0 36.5 8.7 37.0 8.4 37.8 8.0 38.5 7.7 39.1 7.5 40.0 7.2 40.9 7.0 41.5 6.8 42.5 6.6 43.5 6.5 44.0 6.4 45.0 6.4 46.0 6.3 47.0 6.3 48.0 6.3 49.0 6.4 49.5 6.5 50.5 6.7 51.5 6.9 52.0 7.1 53.0 7.5 53.5 7.8 54.0 8.2 54.5 9.0 54.6 9.5 54.5 10.2 54.1 11.0 53.6 11.5 53.0 12.0 52.5 12.3 52.0 12.6 51.2 13.0 50.5 13.3 49.9 13.5 49.0 13.8 48.1 14.0 47.5 14.2 46.5 14.4 45.5 14.5 45.0 14.6ZM12.0 50.5 11.0 50.5 10.5 50.4 9.5 50.2 9.0 49.9 8.3 49.5 7.8 49.0 7.4 48.5 7.0 47.7 6.8 47.0 6.6 46.0 6.7 45.0 6.9 44.0 7.0 43.5 7.5 42.5 7.8 42.0 8.1 41.5 8.5 40.9 9.0 40.3 9.5 39.8 10.0 39.4 10.5 39.0 11.3 38.5 12.0 38.1 12.5 37.9 13.5 37.5 14.0 37.4 15.0 37.2 16.0 37.2 17.0 37.4 17.5 37.6 18.3 38.0 18.9 38.5 19.4 39.0 19.7 39.5 20.0 40.1 20.3 41.0 20.4 42.0 20.3 43.0 20.1 44.0 19.9 44.5 19.5 45.5 19.2 46.0 18.9 46.5 18.5 47.0 18.0 47.6 17.5 48.1 17.0 48.5 16.3 49.0 15.5 49.5 15.0 49.7 14.4 50.0 13.5 50.3 12.5 50.5 12.0 50.5ZM46.5 13.6 45.5 13.7 44.5 13.8 43.5 13.9 42.5 13.9 41.5 13.9 40.5 13.8 39.5 13.6 39.0 13.5 38.0 13.1 37.5 12.9 36.9 12.5 36.5 12.0 36.2 11.0 36.5 10.4 37.0 9.8 37.5 9.3 38.0 9.0 39.0 8.5 39.5 8.3 40.3 8.0 41.0 7.8 42.0 7.5 42.5 7.4 43.5 7.3 44.5 7.2 45.5 7.1 46.5 7.1 47.5 7.1 48.5 7.2 49.5 7.4 50.0 7.5 51.0 7.9 51.5 8.1 52.1 8.5 52.5 9.0 52.8 10.0 52.5 10.6 52.0 11.2 51.5 11.7 51.0 12.0 50.0 12.5 49.5 12.7 48.7 13.0 48.0 13.2 47.0 13.5 46.5 13.6ZM14.0 47.2 13.0 47.4 12.0 47.4 11.0 47.1 10.5 46.7 10.1 46.0 9.9 45.5 9.9 44.5 10.0 44.0 10.4 43.0 10.7 42.5 11.2 42.0 11.7 41.5 12.5 41.0 13.0 40.8 14.0 40.5 14.5 40.5 15.0 40.5 16.0 40.9 16.5 41.3 17.0 42.0 17.1 42.5 17.1 43.5 17.0 44.0 16.6 45.0 16.2 45.5 15.8 46.0 15.2 46.5 14.5 46.9 14.0 47.2ZM45.0 13.1 44.0 13.1 43.0 13.2 42.0 13.1 41.0 13.0 40.5 12.9 39.5 12.6 39.0 12.3 38.5 12.0 38.1 11.0 38.5 10.1 39.0 9.6 39.5 9.3 40.1 9.0 41.0 8.6 41.5 8.5 42.5 8.2 43.5 8.0 44.0 7.9 45.0 7.9 46.0 7.8 47.0 7.9 48.0 8.0 48.5 8.1 49.5 8.4 50.0 8.7 50.5 9.0 50.9 10.0 50.5 10.9 50.0 11.4 49.5 11.7 48.9 12.0 48.0 12.4 47.5 12.5 46.5 12.8 45.5 13.0 45.0 13.1ZM46.5 12.1 45.5 12.3 44.5 12.4 43.5 12.5 42.5 12.4 41.5 12.3 40.7 12.0 40.0 11.6 39.7 11.0 40.0 10.3 40.5 9.8 41.0 9.5 42.0 9.1 42.5 8.9 43.5 8.7 44.5 8.6 45.5 8.5 46.5 8.6 47.5 8.7 48.3 9.0 49.0 9.4 49.3 10.0 49.0 10.7 48.5 11.2 48.0 11.5 47.0 11.9 46.5 12.1ZM45.5 11.6 44.5 11.7 43.5 11.8 42.5 11.6 42.0 11.5 41.4 11.0 41.5 10.4 42.0 10.0 43.0 9.5 43.5 9.4 44.5 9.3 45.5 9.2 46.5 9.4 47.0 9.5 47.6 10.0 47.5 10.6 47.0 11.0 46.0 11.5 45.5 11.6Z" fill="none" stroke="#333" stroke-width="0.3"/><ellipse cx="44.5" cy="10.6" rx="11.2" ry="6.2" transform="rotate(-6 44.5 10.6)" fill="#333" fill-opacity="0.6" filter="url(#spk)"/><ellipse cx="44.5" cy="10.6" rx="9.0" ry="4.0" transform="rotate(-6 44.5 10.6)" fill="none" stroke="#333" stroke-width="0.5"/><ellipse cx="44.5" cy="10.6" rx="8.0" ry="3.0" transform="rotate(-6 44.5 10.6)" fill="none" stroke="#111" stroke-width="1.6"/><ellipse cx="13.5" cy="45.2" rx="8.0" ry="7.4" transform="rotate(-45 13.5 45.2)" fill="#333" fill-opacity="0.6" filter="url(#spk)"/><ellipse cx="13.5" cy="45.2" rx="5.8" ry="5.2" transform="rotate(-45 13.5 45.2)" fill="none" stroke="#333" stroke-width="0.5"/><ellipse cx="13.5" cy="45.2" rx="4.8" ry="4.2" transform="rotate(-45 13.5 45.2)" fill="none" stroke="#111" stroke-width="0.7"/></g></g>
<clipPath id="cp03"><rect x="0.7" y="0.7" width="58.4" height="58.5"/></clipPath>
<g transform="translate(402.60 196.30)"><g clip-path="url(#cp03)"><path d="M12.5 57.0 11.0 57.2 9.5 57.3 8.0 57.1 7.0 56.9 5.7 56.5 4.6 56.0 3.8 55.5 3.0 54.9 2.1 54.0 1.5 53.2 1.0 52.4 0.5 51.3 0.1 50.0 -0.1 49.0 -0.3 47.5 -0.2 46.0 -0.0 44.5 0.2 43.5 0.5 42.3 1.0 41.0 1.4 40.0 1.9 39.0 2.5 38.1 3.0 37.3 3.5 36.5 4.3 35.5 5.0 34.7 5.7 34.0 6.5 33.2 7.3 32.5 8.0 31.9 9.0 31.2 10.0 30.5 10.8 30.0 11.6 29.5 12.5 29.0 13.5 28.5 14.6 28.0 15.8 27.5 17.0 27.0 18.0 26.7 19.0 26.3 20.0 25.9 21.2 25.5 22.5 25.0 23.5 24.6 24.5 24.3 25.5 23.9 26.6 23.5 28.0 23.0 29.0 22.7 30.0 22.3 31.2 22.0 32.5 21.6 33.5 21.3 35.0 21.0 36.0 20.8 37.4 20.5 38.5 20.3 40.0 20.1 41.0 20.0 42.5 19.8 44.0 19.8 45.5 19.6 46.4 19.0 46.8 18.0 47.0 17.0 47.0 16.0 46.0 15.3 44.5 15.3 43.0 15.3 41.5 15.1 40.5 15.0 39.0 14.8 37.9 14.5 36.5 14.2 35.5 13.8 34.5 13.4 33.5 12.8 32.5 12.0 32.0 11.5 31.5 10.4 31.5 9.5 32.0 8.5 33.0 7.5 33.8 7.0 34.8 6.5 36.0 6.0 37.0 5.7 38.0 5.5 39.5 5.1 40.8 5.0 42.0 4.8 43.5 4.8 45.0 4.7 46.5 4.8 48.0 4.8 49.5 4.6 51.0 4.7 52.0 5.2 53.0 5.8 54.0 6.3 55.0 6.9 56.0 7.5 56.6 8.0 57.3 9.0 57.5 10.0 57.3 11.0 56.6 12.0 56.0 12.5 55.0 13.2 54.2 14.0 53.8 15.0 53.9 16.5 54.0 17.5 54.3 19.0 54.5 20.1 55.0 21.4 55.5 22.4 56.0 23.3 56.3 24.5 56.1 26.0 55.7 27.0 55.2 28.0 54.7 29.0 54.3 30.0 53.9 31.0 53.5 32.2 53.2 33.5 52.9 34.5 52.5 35.6 52.0 36.8 51.5 37.7 50.5 38.4 49.5 37.7 49.0 36.9 48.5 35.9 48.0 34.8 47.5 34.0 46.5 33.4 45.5 33.6 44.3 34.0 43.0 34.4 42.0 34.7 40.8 35.0 39.5 35.3 38.5 35.5 37.0 35.8 35.5 36.0 34.5 36.1 33.0 36.3 32.0 36.5 30.5 36.9 29.6 37.5 29.0 38.3 28.6 39.5 28.3 40.5 28.0 41.8 27.7 43.0 27.3 44.0 26.9 45.0 26.5 46.0 25.9 47.0 25.3 48.0 24.6 49.0 24.0 49.8 23.4 50.5 22.5 51.5 22.0 52.0 21.0 52.9 20.2 53.5 19.5 54.0 18.5 54.7 17.5 55.2 16.5 55.7 15.5 56.1 14.5 56.5 13.0 56.9ZM12.5 55.5 11.0 55.7 9.5 55.7 8.1 55.5 7.0 55.2 6.0 54.8 5.0 54.2 4.1 53.5 3.5 52.9 2.8 52.0 2.2 51.0 1.8 50.0 1.5 49.0 1.3 47.5 1.3 46.0 1.4 44.5 1.6 43.5 2.0 42.3 2.5 41.0 2.9 40.0 3.5 39.0 4.0 38.2 4.5 37.4 5.2 36.5 6.0 35.6 6.6 35.0 7.5 34.1 8.2 33.5 9.0 32.9 10.0 32.2 11.0 31.5 11.9 31.0 12.9 30.5 14.0 30.0 15.0 29.6 16.0 29.2 17.0 28.9 18.4 28.5 19.5 28.2 20.5 27.9 21.7 27.5 23.0 27.0 24.0 26.6 25.0 26.1 26.0 25.6 27.0 25.2 28.0 24.7 29.0 24.3 30.0 23.9 31.2 23.5 32.5 23.1 33.5 22.8 34.5 22.5 36.0 22.1 37.0 21.9 38.5 21.7 39.7 21.5 41.0 21.3 42.5 21.2 44.0 21.2 45.5 21.2 46.5 20.8 47.0 19.9 47.3 18.5 47.5 17.5 47.6 16.0 47.1 15.0 46.0 14.8 44.5 14.8 43.0 14.8 41.5 14.7 40.5 14.5 39.0 14.3 38.0 14.0 36.5 13.5 35.5 13.1 34.5 12.6 33.7 12.0 33.0 11.2 32.6 10.0 33.0 8.8 33.7 8.0 34.5 7.4 35.5 6.9 36.5 6.5 38.0 6.0 39.0 5.7 40.5 5.5 41.5 5.4 43.0 5.2 44.5 5.2 46.0 5.2 47.5 5.3 49.0 5.3 50.5 5.4 51.5 5.7 52.5 6.2 53.5 6.8 54.5 7.4 55.3 8.0 56.0 8.8 56.4 10.0 56.0 11.2 55.4 12.0 54.5 12.7 53.7 13.5 53.3 14.5 53.3 16.0 53.5 17.5 53.6 18.5 53.8 20.0 54.0 21.5 54.2 22.5 54.4 24.0 54.4 25.5 54.2 27.0 53.9 28.0 53.6 29.5 53.3 30.5 53.0 31.5 52.5 33.0 52.2 34.0 51.7 35.0 51.0 36.0 50.0 36.0 49.5 35.5 48.9 34.5 48.3 33.5 47.7 32.5 47.0 31.9 45.8 32.0 44.5 32.5 43.5 32.8 42.5 33.2 41.3 33.5 40.0 33.8 39.0 34.0 37.5 34.3 36.3 34.5 35.0 34.7 33.5 34.8 32.0 34.9 31.0 35.0 29.5 35.3 28.5 35.8 27.7 36.5 27.3 37.5 27.0 38.8 26.8 40.0 26.6 41.5 26.3 42.5 26.0 43.6 25.5 44.9 25.0 45.9 24.5 46.8 24.0 47.6 23.4 48.5 22.6 49.5 22.0 50.2 21.2 51.0 20.5 51.6 19.5 52.4 18.6 53.0 17.8 53.5 16.9 54.0 15.9 54.5 14.6 55.0 13.5 55.3 12.5 55.5Z" fill="#222" fill-opacity="0.95" fill-rule="evenodd" filter="url(#spk)"/><path d="M11.5 58.5 10.0 58.6 8.5 58.6 7.5 58.5 6.0 58.2 5.0 57.9 4.0 57.4 3.0 56.8 2.0 56.1 1.4 55.5 0.5 54.5 0.0 53.7 -0.5 52.8 -1.0 51.6 -1.3 50.5 -1.5 49.5 -1.7 48.0 -1.6 46.5 -1.5 45.2 -1.3 44.0 -1.0 42.9 -0.5 41.5 -0.2 40.5 0.3 39.5 0.8 38.5 1.4 37.5 2.0 36.6 2.5 35.9 3.2 35.0 4.0 34.1 4.5 33.5 5.5 32.5 6.0 32.0 7.0 31.1 7.8 30.5 8.5 30.0 9.5 29.3 10.5 28.6 11.5 28.0 12.5 27.5 13.5 27.0 14.5 26.5 15.5 26.0 16.5 25.6 17.5 25.2 18.5 24.8 19.5 24.4 20.6 24.0 22.0 23.5 23.0 23.2 24.0 22.8 25.0 22.5 26.5 22.0 27.5 21.7 28.5 21.4 30.0 21.0 31.0 20.7 32.0 20.5 33.5 20.1 34.5 19.9 36.0 19.6 37.0 19.4 38.5 19.1 39.6 19.0 41.0 18.8 42.5 18.7 44.0 18.6 45.0 18.5 46.0 17.9 46.4 16.5 45.5 15.8 44.0 15.8 42.5 15.7 41.0 15.5 40.0 15.4 38.5 15.2 37.5 14.9 36.0 14.5 35.0 14.2 34.0 13.8 33.0 13.3 32.0 12.6 31.3 12.0 30.6 11.0 30.4 10.0 30.6 9.0 31.3 8.0 32.0 7.4 33.0 6.7 34.0 6.2 35.0 5.8 36.0 5.5 37.5 5.1 38.5 4.9 40.0 4.6 41.5 4.5 42.5 4.4 44.0 4.3 45.5 4.3 47.0 4.4 48.5 4.2 49.5 3.7 50.5 3.5 51.5 3.9 52.2 4.5 53.0 5.1 54.0 5.7 55.0 6.2 56.0 6.7 57.0 7.4 57.7 8.0 58.4 9.0 58.6 10.0 58.4 11.0 57.7 12.0 57.0 12.6 56.0 13.3 55.0 14.0 54.5 14.6 54.4 16.0 54.5 17.3 54.9 18.5 55.3 19.5 56.0 20.2 57.0 20.9 57.7 21.5 58.5 22.4 58.9 23.5 59.0 24.5 58.8 25.5 58.4 26.5 57.8 27.5 57.0 28.4 56.4 29.0 55.5 29.9 55.0 30.6 54.5 31.5 54.0 32.8 53.7 34.0 53.4 35.0 53.0 36.3 52.6 37.5 52.2 38.5 51.6 39.5 51.0 40.1 49.8 40.0 49.0 39.0 48.5 38.0 48.1 37.0 47.7 36.0 47.0 35.0 46.0 34.8 45.0 35.0 43.5 35.5 42.5 35.7 41.4 36.0 40.0 36.3 39.0 36.5 37.5 36.8 36.4 37.0 35.0 37.2 33.5 37.5 32.5 37.8 31.5 38.2 30.5 39.0 30.0 39.8 29.6 41.0 29.3 42.0 29.0 43.0 28.5 44.4 28.1 45.5 27.6 46.5 27.0 47.5 26.5 48.4 26.0 49.1 25.4 50.0 24.5 51.0 24.0 51.6 23.1 52.5 22.5 53.1 21.5 54.0 20.8 54.5 20.0 55.1 19.0 55.7 18.0 56.3 17.0 56.8 16.0 57.3 15.0 57.7 13.9 58.0 12.5 58.3 11.5 58.5ZM12.5 57.0 11.0 57.2 9.5 57.3 8.0 57.1 7.0 56.9 5.7 56.5 4.6 56.0 3.8 55.5 3.0 54.9 2.1 54.0 1.5 53.2 1.0 52.4 0.5 51.3 0.1 50.0 -0.1 49.0 -0.3 47.5 -0.2 46.0 -0.0 44.5 0.2 43.5 0.5 42.3 1.0 41.0 1.4 40.0 1.9 39.0 2.5 38.1 3.0 37.3 3.5 36.5 4.3 35.5 5.0 34.7 5.7 34.0 6.5 33.2 7.3 32.5 8.0 31.9 9.0 31.2 10.0 30.5 10.8 30.0 11.6 29.5 12.5 29.0 13.5 28.5 14.6 28.0 15.8 27.5 17.0 27.0 18.0 26.7 19.0 26.3 20.0 25.9 21.2 25.5 22.5 25.0 23.5 24.6 24.5 24.3 25.5 23.9 26.6 23.5 28.0 23.0 29.0 22.7 30.0 22.3 31.2 22.0 32.5 21.6 33.5 21.3 35.0 21.0 36.0 20.8 37.4 20.5 38.5 20.3 40.0 20.1 41.0 20.0 42.5 19.8 44.0 19.8 45.5 19.6 46.4 19.0 46.8 18.0 47.0 17.0 47.0 16.0 46.0 15.3 44.5 15.3 43.0 15.3 41.5 15.1 40.5 15.0 39.0 14.8 37.9 14.5 36.5 14.2 35.5 13.8 34.5 13.4 33.5 12.8 32.5 12.0 32.0 11.5 31.5 10.4 31.5 9.5 32.0 8.5 33.0 7.5 33.8 7.0 34.8 6.5 36.0 6.0 37.0 5.7 38.0 5.5 39.5 5.1 40.8 5.0 42.0 4.8 43.5 4.8 45.0 4.7 46.5 4.8 48.0 4.8 49.5 4.6 51.0 4.7 52.0 5.2 53.0 5.8 54.0 6.3 55.0 6.9 56.0 7.5 56.6 8.0 57.3 9.0 57.5 10.0 57.3 11.0 56.6 12.0 56.0 12.5 55.0 13.2 54.2 14.0 53.8 15.0 53.9 16.5 54.0 17.5 54.3 19.0 54.5 20.1 55.0 21.4 55.5 22.4 56.0 23.3 56.3 24.5 56.1 26.0 55.7 27.0 55.2 28.0 54.7 29.0 54.3 30.0 53.9 31.0 53.5 32.2 53.2 33.5 52.9 34.5 52.5 35.6 52.0 36.8 51.5 37.7 50.5 38.4 49.5 37.7 49.0 36.9 48.5 35.9 48.0 34.8 47.5 34.0 46.5 33.4 45.5 33.6 44.3 34.0 43.0 34.4 42.0 34.7 40.8 35.0 39.5 35.3 38.5 35.5 37.0 35.8 35.5 36.0 34.5 36.1 33.0 36.3 32.0 36.5 30.5 36.9 29.6 37.5 29.0 38.3 28.6 39.5 28.3 40.5 28.0 41.8 27.7 43.0 27.3 44.0 26.9 45.0 26.5 46.0 25.9 47.0 25.3 48.0 24.6 49.0 24.0 49.8 23.4 50.5 22.5 51.5 22.0 52.0 21.0 52.9 20.2 53.5 19.5 54.0 18.5 54.7 17.5 55.2 16.5 55.7 15.5 56.1 14.5 56.5 13.0 56.9Z" fill="#222" fill-opacity="0.6" fill-rule="evenodd" filter="url(#spk)"/><path d="M12.0 60.0 10.5 60.2 9.0 60.3 7.5 60.2 6.0 60.0 5.0 59.8 4.0 59.4 3.0 59.0 2.0 58.4 1.0 57.7 0.2 57.0 -0.5 56.2 -1.1 55.5 -1.7 54.5 -2.2 53.5 -2.6 52.5 -3.0 51.0 -3.2 50.0 -3.3 48.5 -3.3 47.0 -3.2 45.5 -3.0 44.5 -2.6 43.0 -2.3 42.0 -2.0 41.0 -1.5 39.9 -1.0 38.8 -0.5 37.9 0.0 37.0 0.7 36.0 1.4 35.0 2.0 34.2 2.6 33.5 3.5 32.5 4.0 31.9 5.0 31.0 5.5 30.5 6.5 29.7 7.3 29.0 8.0 28.5 9.0 27.8 10.0 27.1 11.0 26.5 11.9 26.0 12.8 25.5 13.8 25.0 14.8 24.5 15.9 24.0 17.0 23.5 18.0 23.1 19.0 22.7 20.0 22.3 21.0 22.0 22.4 21.5 23.5 21.1 24.5 20.8 25.8 20.5 27.0 20.2 28.0 19.9 29.5 19.6 30.5 19.4 32.0 19.0 33.0 18.8 34.5 18.5 35.5 18.3 37.0 18.1 38.0 17.9 39.5 17.6 40.5 17.5 42.0 17.2 43.4 17.0 42.5 16.5 41.0 16.3 39.7 16.0 38.5 15.8 37.3 15.5 36.0 15.2 35.0 14.9 34.0 14.5 32.8 14.0 31.9 13.5 31.0 12.9 30.0 12.0 29.5 11.3 29.1 10.0 29.5 8.7 30.0 8.0 31.0 7.1 31.9 6.5 32.9 6.0 34.0 5.5 35.0 5.1 36.0 4.9 37.5 4.5 38.5 4.3 40.0 4.1 41.3 4.0 42.5 3.9 44.0 3.8 45.5 3.8 47.0 3.8 48.1 3.5 49.0 2.5 49.5 1.9 50.5 1.4 51.5 1.9 52.0 2.6 52.6 3.5 53.4 4.5 54.0 5.0 55.0 5.5 56.2 6.0 57.1 6.5 58.0 7.1 59.0 8.0 59.5 8.7 59.9 10.0 59.5 11.3 59.0 12.0 58.0 12.9 57.2 13.5 56.3 14.0 55.5 14.5 55.0 15.5 55.1 16.5 55.5 17.5 56.5 18.2 57.5 18.6 58.5 19.0 59.5 19.6 60.5 20.3 61.2 21.0 61.8 22.0 62.1 23.0 62.1 24.5 61.8 25.5 61.3 26.5 60.7 27.5 60.0 28.3 59.3 29.0 58.5 29.7 57.5 30.5 56.8 31.0 56.0 31.6 55.2 32.5 54.6 33.5 54.3 34.5 54.0 35.5 53.6 37.0 53.3 38.0 53.0 39.0 52.5 40.4 52.0 41.4 51.5 42.1 50.5 42.6 49.5 42.1 49.0 41.4 48.5 40.4 48.0 39.1 47.6 38.0 47.1 37.0 46.5 36.3 45.0 36.4 44.0 36.7 42.8 37.0 41.5 37.3 40.5 37.6 39.0 37.9 38.0 38.1 36.5 38.3 35.5 38.5 34.0 38.9 33.0 39.3 32.0 40.0 31.5 40.7 31.0 41.9 30.6 43.0 30.3 44.0 29.9 45.0 29.4 46.0 29.0 47.0 28.4 48.0 27.8 49.0 27.1 50.0 26.5 50.8 26.0 51.5 25.1 52.5 24.5 53.1 23.6 54.0 23.0 54.5 22.0 55.4 21.2 56.0 20.4 56.5 19.5 57.1 18.5 57.7 17.5 58.2 16.5 58.7 15.5 59.1 14.2 59.5 13.0 59.8 12.0 60.0ZM11.5 58.5 10.0 58.6 8.5 58.6 7.5 58.5 6.0 58.2 5.0 57.9 4.0 57.4 3.0 56.8 2.0 56.1 1.4 55.5 0.5 54.5 0.0 53.7 -0.5 52.8 -1.0 51.6 -1.3 50.5 -1.5 49.5 -1.7 48.0 -1.6 46.5 -1.5 45.2 -1.3 44.0 -1.0 42.9 -0.5 41.5 -0.2 40.5 0.3 39.5 0.8 38.5 1.4 37.5 2.0 36.6 2.5 35.9 3.2 35.0 4.0 34.1 4.5 33.5 5.5 32.5 6.0 32.0 7.0 31.1 7.8 30.5 8.5 30.0 9.5 29.3 10.5 28.6 11.5 28.0 12.5 27.5 13.5 27.0 14.5 26.5 15.5 26.0 16.5 25.6 17.5 25.2 18.5 24.8 19.5 24.4 20.6 24.0 22.0 23.5 23.0 23.2 24.0 22.8 25.0 22.5 26.5 22.0 27.5 21.7 28.5 21.4 30.0 21.0 31.0 20.7 32.0 20.5 33.5 20.1 34.5 19.9 36.0 19.6 37.0 19.4 38.5 19.1 39.6 19.0 41.0 18.8 42.5 18.7 44.0 18.6 45.0 18.5 46.0 17.9 46.4 16.5 45.5 15.8 44.0 15.8 42.5 15.7 41.0 15.5 40.0 15.4 38.5 15.2 37.5 14.9 36.0 14.5 35.0 14.2 34.0 13.8 33.0 13.3 32.0 12.6 31.3 12.0 30.6 11.0 30.4 10.0 30.6 9.0 31.3 8.0 32.0 7.4 33.0 6.7 34.0 6.2 35.0 5.8 36.0 5.5 37.5 5.1 38.5 4.9 40.0 4.6 41.5 4.5 42.5 4.4 44.0 4.3 45.5 4.3 47.0 4.4 48.5 4.2 49.5 3.7 50.5 3.5 51.5 3.9 52.2 4.5 53.0 5.1 54.0 5.7 55.0 6.2 56.0 6.7 57.0 7.4 57.7 8.0 58.4 9.0 58.6 10.0 58.4 11.0 57.7 12.0 57.0 12.6 56.0 13.3 55.0 14.0 54.5 14.6 54.4 16.0 54.5 17.3 54.9 18.5 55.3 19.5 56.0 20.2 57.0 20.9 57.7 21.5 58.5 22.4 58.9 23.5 59.0 24.5 58.8 25.5 58.4 26.5 57.8 27.5 57.0 28.4 56.4 29.0 55.5 29.9 55.0 30.6 54.5 31.5 54.0 32.8 53.7 34.0 53.4 35.0 53.0 36.3 52.6 37.5 52.2 38.5 51.6 39.5 51.0 40.1 49.8 40.0 49.0 39.0 48.5 38.0 48.1 37.0 47.7 36.0 47.0 35.0 46.0 34.8 45.0 35.0 43.5 35.5 42.5 35.7 41.4 36.0 40.0 36.3 39.0 36.5 37.5 36.8 36.4 37.0 35.0 37.2 33.5 37.5 32.5 37.8 31.5 38.2 30.5 39.0 30.0 39.8 29.6 41.0 29.3 42.0 29.0 43.0 28.5 44.4 28.1 45.5 27.6 46.5 27.0 47.5 26.5 48.4 26.0 49.1 25.4 50.0 24.5 51.0 24.0 51.6 23.1 52.5 22.5 53.1 21.5 54.0 20.8 54.5 20.0 55.1 19.0 55.7 18.0 56.3 17.0 56.8 16.0 57.3 15.0 57.7 13.9 58.0 12.5 58.3 11.5 58.5Z" fill="#222" fill-opacity="0.3" fill-rule="evenodd" filter="url(#spk)"/><path d="M12.5 55.5 11.0 55.7 9.5 55.7 8.1 55.5 7.0 55.2 6.0 54.8 5.0 54.2 4.1 53.5 3.5 52.9 2.8 52.0 2.2 51.0 1.8 50.0 1.5 49.0 1.3 47.5 1.3 46.0 1.4 44.5 1.6 43.5 2.0 42.3 2.5 41.0 2.9 40.0 3.5 39.0 4.0 38.2 4.5 37.4 5.2 36.5 6.0 35.6 6.6 35.0 7.5 34.1 8.2 33.5 9.0 32.9 10.0 32.2 11.0 31.5 11.9 31.0 12.9 30.5 14.0 30.0 15.0 29.6 16.0 29.2 17.0 28.9 18.4 28.5 19.5 28.2 20.5 27.9 21.7 27.5 23.0 27.0 24.0 26.6 25.0 26.1 26.0 25.6 27.0 25.2 28.0 24.7 29.0 24.3 30.0 23.9 31.2 23.5 32.5 23.1 33.5 22.8 34.5 22.5 36.0 22.1 37.0 21.9 38.5 21.7 39.7 21.5 41.0 21.3 42.5 21.2 44.0 21.2 45.5 21.2 46.5 20.8 47.0 19.9 47.3 18.5 47.5 17.5 47.6 16.0 47.1 15.0 46.0 14.8 44.5 14.8 43.0 14.8 41.5 14.7 40.5 14.5 39.0 14.3 38.0 14.0 36.5 13.5 35.5 13.1 34.5 12.6 33.7 12.0 33.0 11.2 32.6 10.0 33.0 8.8 33.7 8.0 34.5 7.4 35.5 6.9 36.5 6.5 38.0 6.0 39.0 5.7 40.5 5.5 41.5 5.4 43.0 5.2 44.5 5.2 46.0 5.2 47.5 5.3 49.0 5.3 50.5 5.4 51.5 5.7 52.5 6.2 53.5 6.8 54.5 7.4 55.3 8.0 56.0 8.8 56.4 10.0 56.0 11.2 55.4 12.0 54.5 12.7 53.7 13.5 53.3 14.5 53.3 16.0 53.5 17.5 53.6 18.5 53.8 20.0 54.0 21.5 54.2 22.5 54.4 24.0 54.4 25.5 54.2 27.0 53.9 28.0 53.6 29.5 53.3 30.5 53.0 31.5 52.5 33.0 52.2 34.0 51.7 35.0 51.0 36.0 50.0 36.0 49.5 35.5 48.9 34.5 48.3 33.5 47.7 32.5 47.0 31.9 45.8 32.0 44.5 32.5 43.5 32.8 42.5 33.2 41.3 33.5 40.0 33.8 39.0 34.0 37.5 34.3 36.3 34.5 35.0 34.7 33.5 34.8 32.0 34.9 31.0 35.0 29.5 35.3 28.5 35.8 27.7 36.5 27.3 37.5 27.0 38.8 26.8 40.0 26.6 41.5 26.3 42.5 26.0 43.6 25.5 44.9 25.0 45.9 24.5 46.8 24.0 47.6 23.4 48.5 22.6 49.5 22.0 50.2 21.2 51.0 20.5 51.6 19.5 52.4 18.6 53.0 17.8 53.5 16.9 54.0 15.9 54.5 14.6 55.0 13.5 55.3 12.5 55.5Z" fill="#000" fill-opacity="0.09" fill-rule="evenodd"/><path d="M51.0 13.0 49.5 13.4 48.0 13.2 46.5 13.3 45.0 13.3 43.5 13.3 42.0 13.2 40.9 13.0 39.5 12.7 38.5 12.3 37.5 11.8 36.5 11.0 36.2 10.0 36.5 9.0 37.5 8.2 38.5 7.7 39.5 7.3 40.9 7.0 42.0 6.8 43.5 6.7 45.0 6.7 46.5 6.7 48.0 6.9 49.0 7.1 50.5 7.5 51.5 7.9 52.2 8.5 52.9 9.5 53.0 10.1 52.5 11.4 52.0 12.1 51.0 13.0ZM50.5 28.6 49.7 28.0 49.3 27.0 49.0 25.5 49.0 24.5 49.0 23.4 49.1 22.0 49.3 20.5 49.5 19.3 49.9 18.0 50.5 17.1 51.1 18.0 51.5 19.5 51.6 20.5 51.8 22.0 51.8 23.5 51.8 25.0 51.6 26.5 51.3 27.5 50.6 28.5ZM14.0 50.1 12.5 50.4 11.0 50.4 9.6 50.0 8.7 49.5 8.0 48.9 7.3 48.0 6.8 47.0 6.6 45.5 6.6 44.0 7.0 42.5 7.4 41.5 8.0 40.5 8.5 39.7 9.1 39.0 10.0 38.0 10.6 37.5 11.5 36.9 12.5 36.3 13.5 35.8 14.5 35.5 16.0 35.3 17.5 35.4 18.5 35.7 19.5 36.2 20.3 37.0 20.9 38.0 21.2 39.0 21.5 40.5 21.4 42.0 21.0 43.4 20.5 44.5 20.0 45.5 19.5 46.2 18.8 47.0 18.0 47.8 17.2 48.5 16.5 49.0 15.5 49.5 14.3 50.0Z" fill="#000" fill-opacity="0.06" fill-rule="evenodd"/><path d="M12.5 55.5 11.5 55.7 10.5 55.7 9.5 55.7 8.5 55.6 8.0 55.5 7.0 55.2 6.5 55.0 5.5 54.5 5.0 54.2 4.5 53.9 4.0 53.4 3.5 52.9 3.0 52.3 2.5 51.6 2.2 51.0 2.0 50.5 1.6 49.5 1.5 49.0 1.3 48.0 1.3 47.0 1.3 46.0 1.4 45.0 1.5 44.2 1.6 43.5 1.9 42.5 2.1 42.0 2.5 41.0 2.7 40.5 3.0 39.9 3.5 39.0 3.8 38.5 4.1 38.0 4.5 37.4 5.0 36.8 5.5 36.2 6.0 35.6 6.5 35.1 7.0 34.6 7.5 34.1 8.0 33.7 8.5 33.3 9.0 32.9 9.5 32.5 10.2 32.0 11.0 31.5 11.5 31.2 12.0 31.0 12.9 30.5 13.5 30.2 14.0 30.0 15.0 29.6 15.5 29.4 16.5 29.1 17.0 28.9 18.0 28.6 18.5 28.5 19.5 28.2 20.2 28.0 21.0 27.7 21.7 27.5 22.5 27.2 23.0 27.0 24.0 26.6 24.5 26.3 25.2 26.0 26.0 25.6 26.5 25.4 27.4 25.0 28.0 24.7 28.6 24.5 29.5 24.1 30.0 23.9 31.0 23.6 31.5 23.4 32.5 23.1 33.0 22.9 34.0 22.6 34.5 22.5 35.5 22.3 36.5 22.0 37.0 21.9 38.0 21.7 39.0 21.6 39.7 21.5 40.5 21.4 41.5 21.3 42.5 21.2 43.5 21.2 44.5 21.2 45.5 21.2 46.1 21.0 46.7 20.5 47.0 19.9 47.2 19.0 47.4 18.0 47.5 17.5 47.6 16.5 47.5 15.5 47.1 15.0 46.5 14.8 45.5 14.8 44.5 14.8 43.5 14.8 42.5 14.7 41.5 14.7 40.5 14.5 40.0 14.4 39.0 14.3 38.0 14.0 37.5 13.9 36.5 13.5 36.0 13.4 35.2 13.0 34.5 12.6 34.0 12.3 33.5 11.8 33.0 11.2 32.6 10.5 32.6 9.5 33.0 8.8 33.5 8.2 34.0 7.7 34.5 7.4 35.2 7.0 36.0 6.6 36.5 6.5 37.5 6.1 38.0 6.0 39.0 5.7 40.0 5.6 40.6 5.5 41.5 5.4 42.5 5.3 43.5 5.2 44.5 5.2 45.5 5.2 46.5 5.3 47.5 5.3 48.5 5.3 49.5 5.3 50.5 5.4 51.0 5.5 52.0 5.9 52.5 6.2 53.0 6.5 53.9 7.0 54.5 7.4 55.0 7.7 55.5 8.2 56.0 8.8 56.4 9.5 56.4 10.5 56.0 11.2 55.5 11.9 55.0 12.3 54.5 12.7 54.0 13.2 53.5 13.8 53.3 14.5 53.3 15.5 53.4 16.5 53.5 17.5 53.5 18.0 53.7 19.0 53.8 20.0 53.9 21.0 54.0 21.5 54.2 22.5 54.3 23.5 54.4 24.5 54.4 25.5 54.3 26.5 54.1 27.5 53.9 28.0 53.7 29.0 53.5 29.7 53.3 30.5 53.0 31.5 52.9 32.0 52.5 33.0 52.4 33.5 52.0 34.5 51.7 35.0 51.4 35.5 51.0 36.0 50.0 36.0 49.5 35.5 49.2 35.0 48.9 34.5 48.5 33.8 48.1 33.0 47.7 32.5 47.1 32.0 46.5 31.9 45.8 32.0 45.0 32.3 44.4 32.5 43.5 32.8 43.0 33.0 42.0 33.3 41.3 33.5 40.5 33.7 39.5 33.9 39.0 34.0 38.0 34.2 37.0 34.4 36.3 34.5 35.5 34.6 34.5 34.7 33.5 34.8 32.5 34.9 31.5 35.0 31.0 35.0 30.0 35.2 29.0 35.5 28.5 35.8 28.0 36.2 27.5 36.9 27.3 37.5 27.1 38.5 27.0 39.0 26.8 40.0 26.7 41.0 26.5 41.8 26.3 42.5 26.0 43.5 25.9 44.0 25.5 44.9 25.2 45.5 25.0 46.0 24.5 46.8 24.1 47.5 23.8 48.0 23.4 48.5 23.0 49.0 22.5 49.6 22.0 50.2 21.5 50.7 21.0 51.2 20.5 51.6 20.0 52.0 19.4 52.5 18.6 53.0 18.0 53.4 17.5 53.7 16.9 54.0 16.0 54.5 15.5 54.7 14.6 55.0 14.0 55.2 13.0 55.4 12.5 55.5ZM51.0 32.1 50.0 32.2 49.5 31.7 49.0 31.0 48.8 30.5 48.5 30.0 48.0 29.0 47.7 28.5 47.5 28.0 47.0 27.2 46.5 26.7 46.0 27.2 45.5 27.8 45.0 28.3 44.5 28.7 44.0 29.1 43.3 29.5 42.5 29.9 42.0 30.1 41.1 30.5 40.5 30.7 39.5 31.0 39.0 31.1 38.0 31.3 37.0 31.4 36.5 31.5 35.5 31.6 34.5 31.6 33.5 31.6 33.0 31.5 32.0 31.3 31.0 31.0 30.5 30.8 30.0 30.4 29.6 29.5 30.0 28.5 30.4 28.0 31.0 27.5 31.5 27.1 32.0 26.8 32.5 26.5 33.5 26.0 34.0 25.8 34.9 25.5 35.5 25.3 36.5 25.0 37.0 24.9 38.0 24.7 39.0 24.5 39.5 24.5 40.5 24.4 41.5 24.4 42.5 24.5 43.0 24.6 44.0 24.8 44.6 25.0 45.5 25.5 46.0 25.9 46.5 26.1 46.8 25.5 47.0 25.0 47.4 24.0 47.5 23.5 47.8 22.5 48.0 21.5 48.1 21.0 48.2 20.0 48.4 19.0 48.5 18.0 48.6 17.5 48.7 16.5 48.8 15.5 48.6 14.5 48.0 14.1 47.5 14.0 46.5 14.0 45.5 14.0 44.5 14.0 43.5 14.0 42.5 13.9 41.5 13.8 40.5 13.7 39.7 13.5 39.0 13.4 38.0 13.0 37.5 12.9 36.7 12.5 36.0 12.1 35.5 11.7 35.0 11.2 34.6 10.5 34.6 9.5 35.0 8.8 35.5 8.3 36.0 7.9 36.7 7.5 37.5 7.1 38.0 7.0 39.0 6.6 39.7 6.5 40.5 6.3 41.5 6.2 42.5 6.1 43.5 6.0 44.5 6.0 45.5 6.0 46.5 6.1 47.5 6.1 48.5 6.2 49.5 6.3 50.3 6.5 51.0 6.7 51.7 7.0 52.5 7.4 53.0 7.8 53.5 8.2 54.0 8.7 54.5 9.5 54.5 10.0 54.5 10.5 54.0 11.4 53.5 12.0 53.0 12.5 52.6 13.0 52.3 13.5 52.1 14.5 52.1 15.5 52.3 16.5 52.4 17.5 52.5 18.2 52.6 19.0 52.7 20.0 52.8 21.0 52.9 22.0 52.9 23.0 53.0 24.0 53.0 25.0 52.9 26.0 52.8 27.0 52.6 28.0 52.5 28.5 52.2 29.5 52.0 30.2 51.7 31.0 51.4 31.5 51.0 32.1ZM14.0 52.6 13.0 52.8 12.0 53.0 11.0 53.0 10.0 52.9 9.0 52.7 8.3 52.5 7.5 52.2 7.0 51.9 6.5 51.5 5.9 51.0 5.5 50.5 5.0 49.8 4.6 49.0 4.4 48.5 4.1 47.5 4.0 46.5 4.0 46.0 4.0 45.4 4.1 44.5 4.3 43.5 4.5 42.7 4.7 42.0 5.0 41.3 5.4 40.5 5.7 40.0 6.0 39.4 6.5 38.7 7.0 38.0 7.5 37.5 7.9 37.0 8.4 36.5 8.9 36.0 9.5 35.5 10.0 35.1 10.5 34.8 11.0 34.5 11.8 34.0 12.5 33.6 13.0 33.4 14.0 33.0 14.5 32.8 15.5 32.5 16.0 32.4 17.0 32.3 18.0 32.2 19.0 32.3 20.0 32.4 20.5 32.6 21.5 33.0 22.0 33.3 22.5 33.8 22.9 34.5 23.2 35.0 23.5 35.8 23.7 36.5 23.9 37.5 24.0 38.4 24.1 39.0 24.1 40.0 24.0 40.8 23.9 41.5 23.7 42.5 23.5 43.2 23.2 44.0 23.0 44.6 22.5 45.5 22.3 46.0 21.9 46.5 21.5 47.2 21.0 47.8 20.5 48.4 20.0 48.9 19.5 49.4 19.0 49.8 18.5 50.2 18.0 50.6 17.4 51.0 16.6 51.5 16.0 51.8 15.5 52.0 14.5 52.4 14.0 52.6ZM51.0 13.0 50.0 13.4 49.0 13.3 48.0 13.2 47.0 13.2 46.0 13.3 45.0 13.3 44.0 13.3 43.0 13.3 42.0 13.2 41.0 13.0 40.5 12.9 39.5 12.7 39.0 12.5 38.0 12.1 37.5 11.8 37.0 11.4 36.5 10.9 36.2 10.0 36.5 9.1 37.0 8.6 37.5 8.2 38.0 7.9 39.0 7.5 39.5 7.3 40.5 7.1 41.0 7.0 42.0 6.8 43.0 6.7 44.0 6.7 45.0 6.7 46.0 6.7 47.0 6.8 48.0 6.9 48.5 7.0 49.5 7.2 50.5 7.5 51.0 7.7 51.6 8.0 52.2 8.5 52.7 9.0 53.0 9.9 53.0 10.1 52.8 11.0 52.5 11.5 52.0 12.1 51.5 12.6 51.0 13.0ZM50.5 28.6 50.0 28.5 49.5 27.7 49.3 27.0 49.1 26.0 49.0 25.4 49.0 24.5 49.0 23.5 49.0 23.0 49.1 22.0 49.2 21.0 49.4 20.0 49.5 19.3 49.7 18.5 50.0 17.6 50.5 17.1 51.0 17.6 51.3 18.5 51.5 19.5 51.6 20.0 51.7 21.0 51.8 22.0 51.8 23.0 51.8 24.0 51.8 25.0 51.7 26.0 51.5 26.9 51.3 27.5 51.0 28.2 50.5 28.6ZM14.0 50.1 13.0 50.3 12.0 50.4 11.0 50.4 10.0 50.2 9.5 50.0 8.7 49.5 8.1 49.0 7.6 48.5 7.3 48.0 7.0 47.4 6.7 46.5 6.6 45.5 6.6 44.5 6.7 43.5 7.0 42.5 7.2 42.0 7.5 41.3 8.0 40.5 8.3 40.0 8.6 39.5 9.1 39.0 9.5 38.5 10.0 38.0 10.6 37.5 11.3 37.0 12.0 36.5 12.5 36.3 13.1 36.0 14.0 35.6 14.5 35.5 15.5 35.3 16.5 35.3 17.5 35.4 18.0 35.5 19.0 35.9 19.5 36.2 20.0 36.7 20.5 37.3 20.9 38.0 21.1 38.5 21.4 39.5 21.5 40.5 21.4 41.5 21.3 42.5 21.0 43.4 20.8 44.0 20.5 44.6 20.0 45.5 19.6 46.0 19.3 46.5 18.8 47.0 18.4 47.5 17.8 48.0 17.2 48.5 16.5 49.0 16.0 49.3 15.5 49.5 14.5 50.0 14.0 50.1ZM47.0 12.6 46.0 12.7 45.0 12.7 44.0 12.7 43.0 12.7 42.0 12.5 41.5 12.4 40.5 12.2 39.9 12.0 39.0 11.6 38.5 11.3 38.0 10.8 37.7 10.0 38.0 9.2 38.5 8.7 39.0 8.4 39.9 8.0 40.5 7.8 41.5 7.6 42.0 7.5 43.0 7.3 44.0 7.3 45.0 7.3 46.0 7.3 47.0 7.5 47.5 7.5 48.5 7.7 49.4 8.0 50.0 8.2 50.6 8.5 51.2 9.0 51.5 9.5 51.6 10.5 51.4 11.0 51.0 11.5 50.2 12.0 49.5 12.2 48.5 12.4 47.5 12.5 47.0 12.6ZM13.0 47.6 12.0 47.5 11.5 47.4 10.7 47.0 10.2 46.5 9.8 46.0 9.5 45.1 9.4 44.5 9.5 43.5 9.6 43.0 10.0 42.0 10.2 41.5 10.6 41.0 11.0 40.5 11.5 40.0 12.1 39.5 12.8 39.0 13.5 38.7 14.0 38.5 15.0 38.3 16.0 38.3 16.6 38.5 17.5 39.0 17.9 39.5 18.2 40.0 18.5 40.7 18.6 41.5 18.5 42.5 18.4 43.0 18.0 44.0 17.7 44.5 17.4 45.0 16.9 45.5 16.4 46.0 15.8 46.5 15.0 47.0 14.5 47.2 13.5 47.5 13.0 47.6ZM46.0 12.0 45.0 12.1 44.0 12.1 43.0 12.0 42.5 12.0 41.5 11.7 40.8 11.5 40.0 11.1 39.5 10.7 39.2 10.0 39.5 9.3 40.0 8.9 40.8 8.5 41.5 8.3 42.5 8.0 43.0 8.0 44.0 7.9 45.0 7.9 46.0 8.0 46.5 8.0 47.5 8.2 48.4 8.5 49.0 8.8 49.5 9.0 50.0 9.5 50.1 10.5 49.7 11.0 49.0 11.3 48.5 11.5 47.5 11.8 46.5 12.0 46.0 12.0ZM45.5 11.5 44.5 11.6 43.5 11.5 43.0 11.5 42.0 11.2 41.4 11.0 40.8 10.5 40.8 9.5 41.4 9.0 42.0 8.8 43.0 8.5 43.5 8.5 44.5 8.4 45.5 8.5 46.0 8.5 47.0 8.8 47.6 9.0 48.4 9.5 48.6 10.0 48.4 10.5 47.7 11.0 47.0 11.2 46.0 11.5 45.5 11.5ZM45.0 11.0 44.0 11.0 43.5 10.9 42.5 10.6 42.0 10.1 42.0 9.9 42.5 9.4 43.5 9.1 44.0 9.0 45.0 9.0 45.5 9.1 46.5 9.4 47.0 9.8 47.0 10.2 46.5 10.6 45.5 10.9 45.0 11.0Z" fill="none" stroke="#333" stroke-width="0.3"/><ellipse cx="44.7" cy="10.3" rx="10.4" ry="6.2" transform="rotate(0 44.7 10.3)" fill="#333" fill-opacity="0.6" filter="url(#spk)"/><ellipse cx="44.7" cy="10.3" rx="8.2" ry="4.0" transform="rotate(0 44.7 10.3)" fill="none" stroke="#333" stroke-width="0.5"/><ellipse cx="44.7" cy="10.3" rx="7.2" ry="3.0" transform="rotate(0 44.7 10.3)" fill="none" stroke="#111" stroke-width="1.6"/></g></g>
<clipPath id="cp10"><rect x="0.7" y="0.7" width="58.4" height="58.5"/></clipPath>
<g transform="translate(223.20 256.20)"><g clip-path="url(#cp10)"><path d="M9.5 56.0 8.0 56.2 6.5 56.2 5.0 56.2 3.5 56.1 2.5 56.0 1.0 55.6 0.0 55.3 -1.0 54.8 -1.9 54.0 -2.5 53.1 -2.7 52.0 -2.5 50.6 -2.0 49.5 -1.5 48.8 -0.9 48.0 0.0 47.0 0.6 46.5 1.5 45.7 2.4 45.0 3.1 44.5 4.0 43.9 5.0 43.2 6.0 42.6 7.0 42.0 7.8 41.5 8.7 41.0 9.5 40.5 10.5 39.8 11.5 39.0 12.1 38.5 12.9 37.5 13.4 36.5 13.9 35.5 14.3 34.5 14.8 33.5 15.4 32.5 16.0 31.6 16.5 30.9 17.2 30.0 18.0 29.2 18.7 28.5 19.5 27.8 20.4 27.0 21.1 26.5 22.0 25.8 23.0 25.1 24.0 24.5 24.8 24.0 25.7 23.5 26.5 23.0 27.5 22.5 28.5 21.9 29.5 21.4 30.5 20.8 31.5 20.3 32.5 19.8 33.5 19.3 34.5 18.7 35.5 18.0 36.0 17.5 36.8 16.5 37.2 15.5 37.5 14.5 37.8 13.0 38.0 12.0 38.2 10.5 38.5 9.0 38.7 8.0 39.0 6.5 39.2 5.5 39.5 4.5 39.9 3.0 40.3 2.0 40.6 1.0 41.1 0.0 41.5 -1.0 42.0 -2.0 42.7 -3.0 43.4 -4.0 44.0 -4.7 44.9 -5.5 45.6 -6.0 46.6 -6.5 48.0 -6.7 49.4 -6.5 50.4 -6.0 51.2 -5.5 52.0 -4.7 52.6 -4.0 53.3 -3.0 54.0 -2.0 54.5 -1.0 54.9 0.0 55.4 1.0 55.7 2.0 56.1 3.0 56.5 4.5 56.8 5.5 57.0 6.5 57.3 8.0 57.5 9.0 57.7 10.5 57.9 12.0 58.0 13.0 58.2 14.5 58.2 16.0 58.3 17.5 58.3 19.0 58.3 20.5 58.2 22.0 58.2 23.5 58.0 25.0 57.9 26.0 57.7 27.5 57.5 29.0 57.3 30.0 57.0 31.5 56.8 32.5 56.5 33.6 56.1 35.0 55.8 36.0 55.4 37.0 55.0 38.0 54.5 39.1 54.0 40.1 53.5 41.0 52.8 42.0 52.0 42.9 51.4 43.5 50.5 44.2 49.5 44.7 48.0 44.9 46.5 44.6 45.5 44.1 44.6 43.5 44.0 42.9 43.1 42.0 42.5 41.3 41.9 40.5 41.3 39.5 40.7 38.5 40.4 37.5 40.0 36.1 39.7 35.0 39.4 34.0 39.0 32.7 38.5 31.7 37.5 31.1 36.4 31.5 35.5 32.2 34.6 33.0 34.0 33.5 33.1 34.5 32.6 35.5 33.0 36.7 34.0 37.4 35.0 38.0 35.7 38.5 36.5 39.5 36.9 40.5 36.7 42.0 36.3 43.0 35.7 44.0 35.0 44.9 34.4 45.5 33.5 46.4 32.8 47.0 32.0 47.6 31.0 48.3 30.0 49.0 29.2 49.5 28.3 50.0 27.4 50.5 26.4 51.0 25.4 51.5 24.3 52.0 23.1 52.5 22.0 52.9 21.0 53.3 20.0 53.7 18.9 54.0 17.5 54.4 16.5 54.7 15.3 55.0 14.0 55.3 13.0 55.5 11.5 55.8 10.0 56.0ZM10.0 55.0 8.5 55.1 7.0 55.2 5.5 55.1 4.5 55.0 3.0 54.7 2.0 54.4 1.0 53.8 0.0 53.0 -0.5 52.0 -0.5 51.0 -0.3 50.0 0.2 49.0 0.9 48.0 1.5 47.4 2.4 46.5 3.0 46.0 4.0 45.2 5.0 44.5 5.7 44.0 6.5 43.5 7.5 42.9 8.5 42.3 9.5 41.8 10.5 41.2 11.5 40.7 12.5 40.1 13.5 39.5 14.3 39.0 15.0 38.5 16.0 37.5 16.5 36.6 17.0 35.5 17.5 34.5 18.0 33.5 18.5 32.6 19.0 31.9 19.7 31.0 20.5 30.1 21.0 29.5 22.0 28.6 22.6 28.0 23.5 27.3 24.5 26.5 25.2 26.0 26.0 25.4 27.0 24.7 28.0 24.1 28.9 23.5 29.8 23.0 30.7 22.5 31.6 22.0 32.6 21.5 33.6 21.0 34.7 20.5 35.6 20.0 36.5 19.3 37.3 18.5 37.9 17.5 38.3 16.5 38.6 15.5 38.9 14.0 39.1 13.0 39.3 11.5 39.5 10.4 39.7 9.0 40.0 7.9 40.3 6.5 40.6 5.5 41.0 4.2 41.5 3.0 41.9 2.0 42.3 1.0 42.9 0.0 43.5 -0.9 44.0 -1.6 44.9 -2.5 45.5 -3.0 46.5 -3.6 48.0 -3.9 49.5 -3.6 50.5 -3.0 51.1 -2.5 52.0 -1.6 52.5 -0.9 53.1 0.0 53.7 1.0 54.1 2.0 54.6 3.0 55.0 4.2 55.4 5.5 55.7 6.5 56.0 7.8 56.3 9.0 56.5 10.4 56.7 11.5 56.9 13.0 57.0 14.5 57.1 15.5 57.1 17.0 57.2 18.5 57.2 20.0 57.1 21.5 57.0 23.0 57.0 24.0 56.8 25.5 56.6 27.0 56.5 28.0 56.2 29.5 56.0 30.5 55.6 32.0 55.3 33.0 55.0 34.1 54.5 35.5 54.1 36.5 53.6 37.5 53.1 38.5 52.5 39.4 52.0 40.1 51.2 41.0 50.5 41.6 49.5 42.1 48.0 42.4 46.5 42.0 45.6 41.5 45.0 41.0 44.0 40.0 43.5 39.3 43.0 38.5 42.4 37.5 41.9 36.5 41.5 35.4 41.0 34.0 40.7 33.0 40.3 32.0 40.0 30.9 39.5 29.8 38.9 29.0 37.5 28.8 36.5 29.4 35.8 30.0 35.0 30.7 34.1 31.5 33.5 32.1 32.5 33.0 31.9 33.5 31.0 34.4 30.4 35.0 29.7 36.0 30.0 37.2 31.0 37.9 32.0 38.4 33.0 39.0 33.6 39.5 34.3 40.5 34.6 41.5 34.5 42.5 34.0 43.6 33.4 44.5 32.6 45.5 32.0 46.1 31.0 47.0 30.3 47.5 29.5 48.1 28.5 48.8 27.5 49.4 26.5 49.9 25.5 50.4 24.5 50.9 23.5 51.4 22.5 51.8 21.5 52.2 20.5 52.6 19.2 53.0 18.0 53.4 17.0 53.7 15.7 54.0 14.5 54.3 13.4 54.5 12.0 54.8 10.5 55.0Z" fill="#222" fill-opacity="0.95" fill-rule="evenodd" filter="url(#spk)"/><path d="M51.4 -8.0 52.0 -7.5 52.9 -6.5 53.5 -5.7 54.0 -5.0 54.6 -4.0 55.1 -3.0 55.6 -2.0 56.0 -1.0 56.5 0.3 56.9 1.5 57.2 2.5 57.5 3.6 57.9 5.0 58.1 6.0 58.4 7.5 58.5 8.5 58.8 10.0 58.9 11.5 59.0 12.5 59.2 14.0 59.3 15.5 59.3 17.0 59.3 18.5 59.3 20.0 59.3 21.5 59.2 23.0 59.1 24.5 59.0 25.7 58.9 27.0 58.7 28.5 58.5 29.6 58.3 31.0 58.0 32.3 57.7 33.5 57.5 34.5 57.1 36.0 56.8 37.0 56.4 38.0 56.0 39.1 55.5 40.2 55.0 41.3 54.5 42.2 54.0 43.1 53.4 44.0 52.5 45.0 52.0 45.6 51.0 46.4 50.0 46.9 49.0 47.3 47.5 47.4 46.2 47.0 45.2 46.5 44.5 46.0 43.5 45.1 42.9 44.5 42.0 43.6 41.4 43.0 40.5 42.4 39.0 42.5 38.4 43.0 37.5 44.0 37.0 44.6 36.1 45.5 35.5 46.1 34.5 46.9 33.8 47.5 33.0 48.1 32.0 48.8 31.0 49.4 30.0 50.0 29.2 50.5 28.2 51.0 27.2 51.5 26.2 52.0 25.1 52.5 24.0 53.0 23.0 53.4 22.0 53.8 21.0 54.1 19.9 54.5 18.5 54.9 17.5 55.3 16.5 55.5 15.0 55.9 14.0 56.1 12.5 56.4 11.5 56.6 10.0 56.8 8.5 57.0 7.5 57.1 6.0 57.2 4.5 57.2 3.0 57.1 1.7 57.0 0.5 56.8 -0.7 56.5 -2.0 56.0 -2.9 55.5 -3.6 55.0 -4.3 54.0 -4.7 53.0 -4.6 51.5 -4.2 50.5 -3.7 49.5 -3.0 48.5 -2.5 48.0 -1.6 47.0 -1.0 46.5 0.0 45.6 0.8 45.0 1.5 44.4 2.5 43.7 3.5 43.1 4.4 42.5 5.1 42.0 6.0 41.4 7.0 40.7 8.0 40.0 8.6 39.5 9.5 38.6 10.0 37.8 10.5 36.8 11.0 35.5 11.4 34.5 11.8 33.5 12.3 32.5 12.9 31.5 13.5 30.7 14.0 30.0 14.8 29.0 15.5 28.3 16.2 27.5 17.0 26.8 18.0 26.0 18.6 25.5 19.5 24.8 20.5 24.2 21.5 23.6 22.5 23.0 23.5 22.5 24.5 22.0 25.5 21.6 26.5 21.1 27.5 20.6 28.5 20.2 29.5 19.7 30.5 19.3 31.5 18.8 32.5 18.3 33.5 17.7 34.5 17.1 35.1 16.5 35.9 15.5 36.3 14.5 36.6 13.5 36.9 12.0 37.1 11.0 37.3 9.5 37.5 8.3 37.7 7.0 38.0 5.7 38.3 4.5 38.5 3.5 38.9 2.0 39.3 1.0 39.6 0.0 40.0 -1.0 40.5 -2.2 41.0 -3.2 41.5 -4.2 42.0 -5.0 42.7 -6.0 43.5 -7.0 44.0 -7.5ZM37.7 36.0 37.8 34.5 37.1 33.5 36.5 33.5 35.5 34.3 35.2 35.5 36.0 36.2 37.5 36.3ZM9.5 56.0 8.0 56.2 6.5 56.2 5.0 56.2 3.5 56.1 2.5 56.0 1.0 55.6 0.0 55.3 -1.0 54.8 -1.9 54.0 -2.5 53.1 -2.7 52.0 -2.5 50.6 -2.0 49.5 -1.5 48.8 -0.9 48.0 0.0 47.0 0.6 46.5 1.5 45.7 2.4 45.0 3.1 44.5 4.0 43.9 5.0 43.2 6.0 42.6 7.0 42.0 7.8 41.5 8.7 41.0 9.5 40.5 10.5 39.8 11.5 39.0 12.1 38.5 12.9 37.5 13.4 36.5 13.9 35.5 14.3 34.5 14.8 33.5 15.4 32.5 16.0 31.6 16.5 30.9 17.2 30.0 18.0 29.2 18.7 28.5 19.5 27.8 20.4 27.0 21.1 26.5 22.0 25.8 23.0 25.1 24.0 24.5 24.8 24.0 25.7 23.5 26.5 23.0 27.5 22.5 28.5 21.9 29.5 21.4 30.5 20.8 31.5 20.3 32.5 19.8 33.5 19.3 34.5 18.7 35.5 18.0 36.0 17.5 36.8 16.5 37.2 15.5 37.5 14.5 37.8 13.0 38.0 12.0 38.2 10.5 38.5 9.0 38.7 8.0 39.0 6.5 39.2 5.5 39.5 4.5 39.9 3.0 40.3 2.0 40.6 1.0 41.1 0.0 41.5 -1.0 42.0 -2.0 42.7 -3.0 43.4 -4.0 44.0 -4.7 44.9 -5.5 45.6 -6.0 46.6 -6.5 48.0 -6.7 49.4 -6.5 50.4 -6.0 51.2 -5.5 52.0 -4.7 52.6 -4.0 53.3 -3.0 54.0 -2.0 54.5 -1.0 54.9 0.0 55.4 1.0 55.7 2.0 56.1 3.0 56.5 4.5 56.8 5.5 57.0 6.5 57.3 8.0 57.5 9.0 57.7 10.5 57.9 12.0 58.0 13.0 58.2 14.5 58.2 16.0 58.3 17.5 58.3 19.0 58.3 20.5 58.2 22.0 58.2 23.5 58.0 25.0 57.9 26.0 57.7 27.5 57.5 29.0 57.3 30.0 57.0 31.5 56.8 32.5 56.5 33.6 56.1 35.0 55.8 36.0 55.4 37.0 55.0 38.0 54.5 39.1 54.0 40.1 53.5 41.0 52.8 42.0 52.0 42.9 51.4 43.5 50.5 44.2 49.5 44.7 48.0 44.9 46.5 44.6 45.5 44.1 44.6 43.5 44.0 42.9 43.1 42.0 42.5 41.3 41.9 40.5 41.3 39.5 40.7 38.5 40.4 37.5 40.0 36.1 39.7 35.0 39.4 34.0 39.0 32.7 38.5 31.7 37.5 31.1 36.4 31.5 35.5 32.2 34.6 33.0 34.0 33.5 33.1 34.5 32.6 35.5 33.0 36.7 34.0 37.4 35.0 38.0 35.7 38.5 36.5 39.5 36.9 40.5 36.7 42.0 36.3 43.0 35.7 44.0 35.0 44.9 34.4 45.5 33.5 46.4 32.8 47.0 32.0 47.6 31.0 48.3 30.0 49.0 29.2 49.5 28.3 50.0 27.4 50.5 26.4 51.0 25.4 51.5 24.3 52.0 23.1 52.5 22.0 52.9 21.0 53.3 20.0 53.7 18.9 54.0 17.5 54.4 16.5 54.7 15.3 55.0 14.0 55.3 13.0 55.5 11.5 55.8 10.0 56.0Z" fill="#222" fill-opacity="0.6" fill-rule="evenodd" filter="url(#spk)"/><path d="M54.4 -8.0 55.0 -7.0 55.5 -6.2 56.0 -5.2 56.5 -4.1 57.0 -3.0 57.3 -2.0 57.7 -1.0 58.0 0.0 58.4 1.5 58.7 2.5 59.0 3.9 59.3 5.0 59.5 6.4 59.7 7.5 59.9 9.0 60.0 10.0 60.2 11.5 60.3 13.0 60.4 14.5 60.5 16.0 60.5 17.0 60.6 18.5 60.6 20.0 60.5 21.5 60.5 22.5 60.4 24.0 60.3 25.5 60.2 27.0 60.0 28.2 59.8 29.5 59.6 31.0 59.4 32.0 59.1 33.5 58.9 34.5 58.6 36.0 58.3 37.0 58.0 38.0 57.5 39.5 57.2 40.5 56.8 41.5 56.3 42.5 55.9 43.5 55.3 44.5 54.7 45.5 54.1 46.5 53.5 47.2 52.8 48.0 52.0 48.8 51.0 49.5 50.0 50.0 49.0 50.3 47.5 50.4 46.0 50.0 45.0 49.5 44.3 49.0 43.5 48.3 42.7 47.5 42.0 46.8 41.3 46.0 40.5 45.4 39.0 45.3 38.0 45.9 37.1 46.5 36.5 47.0 35.5 47.7 34.5 48.4 33.7 49.0 32.9 49.5 32.0 50.1 31.0 50.7 30.0 51.2 29.0 51.7 28.0 52.2 27.0 52.7 26.0 53.2 25.0 53.6 23.9 54.0 22.7 54.5 21.5 54.9 20.5 55.3 19.5 55.6 18.2 56.0 17.0 56.4 16.0 56.6 14.5 57.0 13.5 57.2 12.0 57.5 11.0 57.7 9.5 57.9 8.5 58.0 7.0 58.2 5.5 58.3 4.0 58.4 2.5 58.3 1.0 58.3 -0.5 58.1 -1.5 57.9 -2.9 57.5 -4.0 57.1 -5.0 56.5 -5.7 56.0 -6.5 55.1 -7.0 54.0 -7.1 53.0 -6.9 52.0 -6.5 50.9 -6.0 49.9 -5.4 49.0 -4.5 48.0 -4.0 47.5 -3.0 46.5 -2.4 46.0 -1.5 45.2 -0.6 44.5 0.1 44.0 1.0 43.3 2.0 42.6 2.9 42.0 3.6 41.5 4.5 40.7 5.3 40.0 6.0 39.2 6.5 38.5 7.0 37.3 7.5 36.0 7.8 35.0 8.2 34.0 8.7 33.0 9.2 32.0 9.9 31.0 10.5 30.1 11.0 29.4 11.7 28.5 12.5 27.6 13.0 27.0 14.0 26.0 14.5 25.5 15.5 24.6 16.3 24.0 17.0 23.4 18.0 22.7 19.0 22.0 19.9 21.5 20.8 21.0 21.7 20.5 22.7 20.0 23.9 19.5 25.0 19.1 26.0 18.7 27.0 18.4 28.2 18.0 29.5 17.6 30.5 17.2 31.5 16.8 32.5 16.4 33.5 15.7 34.3 15.0 34.9 14.0 35.3 13.0 35.6 12.0 35.8 10.5 36.0 9.4 36.2 8.0 36.5 6.5 36.6 5.5 37.0 4.0 37.2 3.0 37.5 1.8 37.9 0.5 38.2 -0.5 38.5 -1.5 39.0 -2.9 39.5 -4.0 39.9 -5.0 40.4 -6.0 41.0 -7.0 41.5 -7.8ZM51.4 -8.0 52.0 -7.5 52.9 -6.5 53.5 -5.7 54.0 -5.0 54.6 -4.0 55.1 -3.0 55.6 -2.0 56.0 -1.0 56.5 0.3 56.9 1.5 57.2 2.5 57.5 3.6 57.9 5.0 58.1 6.0 58.4 7.5 58.5 8.5 58.8 10.0 58.9 11.5 59.0 12.5 59.2 14.0 59.3 15.5 59.3 17.0 59.3 18.5 59.3 20.0 59.3 21.5 59.2 23.0 59.1 24.5 59.0 25.7 58.9 27.0 58.7 28.5 58.5 29.6 58.3 31.0 58.0 32.3 57.7 33.5 57.5 34.5 57.1 36.0 56.8 37.0 56.4 38.0 56.0 39.1 55.5 40.2 55.0 41.3 54.5 42.2 54.0 43.1 53.4 44.0 52.5 45.0 52.0 45.6 51.0 46.4 50.0 46.9 49.0 47.3 47.5 47.4 46.2 47.0 45.2 46.5 44.5 46.0 43.5 45.1 42.9 44.5 42.0 43.6 41.4 43.0 40.5 42.4 39.0 42.5 38.4 43.0 37.5 44.0 37.0 44.6 36.1 45.5 35.5 46.1 34.5 46.9 33.8 47.5 33.0 48.1 32.0 48.8 31.0 49.4 30.0 50.0 29.2 50.5 28.2 51.0 27.2 51.5 26.2 52.0 25.1 52.5 24.0 53.0 23.0 53.4 22.0 53.8 21.0 54.1 19.9 54.5 18.5 54.9 17.5 55.3 16.5 55.5 15.0 55.9 14.0 56.1 12.5 56.4 11.5 56.6 10.0 56.8 8.5 57.0 7.5 57.1 6.0 57.2 4.5 57.2 3.0 57.1 1.7 57.0 0.5 56.8 -0.7 56.5 -2.0 56.0 -2.9 55.5 -3.6 55.0 -4.3 54.0 -4.7 53.0 -4.6 51.5 -4.2 50.5 -3.7 49.5 -3.0 48.5 -2.5 48.0 -1.6 47.0 -1.0 46.5 0.0 45.6 0.8 45.0 1.5 44.4 2.5 43.7 3.5 43.1 4.4 42.5 5.1 42.0 6.0 41.4 7.0 40.7 8.0 40.0 8.6 39.5 9.5 38.6 10.0 37.8 10.5 36.8 11.0 35.5 11.4 34.5 11.8 33.5 12.3 32.5 12.9 31.5 13.5 30.7 14.0 30.0 14.8 29.0 15.5 28.3 16.2 27.5 17.0 26.8 18.0 26.0 18.6 25.5 19.5 24.8 20.5 24.2 21.5 23.6 22.5 23.0 23.5 22.5 24.5 22.0 25.5 21.6 26.5 21.1 27.5 20.6 28.5 20.2 29.5 19.7 30.5 19.3 31.5 18.8 32.5 18.3 33.5 17.7 34.5 17.1 35.1 16.5 35.9 15.5 36.3 14.5 36.6 13.5 36.9 12.0 37.1 11.0 37.3 9.5 37.5 8.3 37.7 7.0 38.0 5.7 38.3 4.5 38.5 3.5 38.9 2.0 39.3 1.0 39.6 0.0 40.0 -1.0 40.5 -2.2 41.0 -3.2 41.5 -4.2 42.0 -5.0 42.7 -6.0 43.5 -7.0 44.0 -7.5ZM37.7 36.0 37.8 34.5 37.1 33.5 36.5 33.5 35.5 34.3 35.2 35.5 36.0 36.2 37.5 36.3Z" fill="#222" fill-opacity="0.3" fill-rule="evenodd" filter="url(#spk)"/><path d="M10.0 55.0 8.5 55.1 7.0 55.2 5.5 55.1 4.5 55.0 3.0 54.7 2.0 54.4 1.0 53.8 0.0 53.0 -0.5 52.0 -0.5 51.0 -0.3 50.0 0.2 49.0 0.9 48.0 1.5 47.4 2.4 46.5 3.0 46.0 4.0 45.2 5.0 44.5 5.7 44.0 6.5 43.5 7.5 42.9 8.5 42.3 9.5 41.8 10.5 41.2 11.5 40.7 12.5 40.1 13.5 39.5 14.3 39.0 15.0 38.5 16.0 37.5 16.5 36.6 17.0 35.5 17.5 34.5 18.0 33.5 18.5 32.6 19.0 31.9 19.7 31.0 20.5 30.1 21.0 29.5 22.0 28.6 22.6 28.0 23.5 27.3 24.5 26.5 25.2 26.0 26.0 25.4 27.0 24.7 28.0 24.1 28.9 23.5 29.8 23.0 30.7 22.5 31.6 22.0 32.6 21.5 33.6 21.0 34.7 20.5 35.6 20.0 36.5 19.3 37.3 18.5 37.9 17.5 38.3 16.5 38.6 15.5 38.9 14.0 39.1 13.0 39.3 11.5 39.5 10.4 39.7 9.0 40.0 7.9 40.3 6.5 40.6 5.5 41.0 4.2 41.5 3.0 41.9 2.0 42.3 1.0 42.9 0.0 43.5 -0.9 44.0 -1.6 44.9 -2.5 45.5 -3.0 46.5 -3.6 48.0 -3.9 49.5 -3.6 50.5 -3.0 51.1 -2.5 52.0 -1.6 52.5 -0.9 53.1 0.0 53.7 1.0 54.1 2.0 54.6 3.0 55.0 4.2 55.4 5.5 55.7 6.5 56.0 7.8 56.3 9.0 56.5 10.4 56.7 11.5 56.9 13.0 57.0 14.5 57.1 15.5 57.1 17.0 57.2 18.5 57.2 20.0 57.1 21.5 57.0 23.0 57.0 24.0 56.8 25.5 56.6 27.0 56.5 28.0 56.2 29.5 56.0 30.5 55.6 32.0 55.3 33.0 55.0 34.1 54.5 35.5 54.1 36.5 53.6 37.5 53.1 38.5 52.5 39.4 52.0 40.1 51.2 41.0 50.5 41.6 49.5 42.1 48.0 42.4 46.5 42.0 45.6 41.5 45.0 41.0 44.0 40.0 43.5 39.3 43.0 38.5 42.4 37.5 41.9 36.5 41.5 35.4 41.0 34.0 40.7 33.0 40.3 32.0 40.0 30.9 39.5 29.8 38.9 29.0 37.5 28.8 36.5 29.4 35.8 30.0 35.0 30.7 34.1 31.5 33.5 32.1 32.5 33.0 31.9 33.5 31.0 34.4 30.4 35.0 29.7 36.0 30.0 37.2 31.0 37.9 32.0 38.4 33.0 39.0 33.6 39.5 34.3 40.5 34.6 41.5 34.5 42.5 34.0 43.6 33.4 44.5 32.6 45.5 32.0 46.1 31.0 47.0 30.3 47.5 29.5 48.1 28.5 48.8 27.5 49.4 26.5 49.9 25.5 50.4 24.5 50.9 23.5 51.4 22.5 51.8 21.5 52.2 20.5 52.6 19.2 53.0 18.0 53.4 17.0 53.7 15.7 54.0 14.5 54.3 13.4 54.5 12.0 54.8 10.5 55.0Z" fill="#000" fill-opacity="0.09" fill-rule="evenodd"/><path d="M49.5 35.1 48.0 35.4 47.0 34.9 46.0 34.0 45.5 33.2 45.0 32.3 44.5 31.2 44.1 30.0 43.8 29.0 43.5 28.0 43.1 26.5 43.0 25.5 42.7 24.0 42.5 22.6 42.4 21.5 42.3 20.0 42.4 18.5 42.5 17.2 42.7 16.0 42.9 14.5 43.1 13.5 43.5 12.0 43.8 11.0 44.1 10.0 44.5 9.0 45.1 8.0 45.8 7.0 46.5 6.3 47.5 5.8 49.0 5.9 49.9 6.5 50.5 7.1 51.1 8.0 51.6 9.0 52.1 10.0 52.5 11.3 52.8 12.5 53.1 13.5 53.3 15.0 53.5 16.4 53.6 17.5 53.7 19.0 53.7 20.5 53.7 22.0 53.6 23.5 53.5 24.8 53.4 26.0 53.1 27.5 52.9 28.5 52.5 30.0 52.2 31.0 51.8 32.0 51.3 33.0 50.6 34.0 50.0 34.7ZM14.5 51.1 13.0 51.3 11.5 51.4 10.0 51.3 8.8 51.0 7.8 50.5 7.1 49.5 7.5 48.0 8.0 47.3 8.8 46.5 9.5 45.9 10.5 45.2 11.5 44.6 12.5 44.0 13.5 43.6 14.5 43.1 15.5 42.8 16.5 42.4 18.0 42.0 19.0 41.8 20.5 41.5 21.5 41.4 23.0 41.5 24.0 41.6 25.5 42.0 26.3 42.5 26.9 43.5 26.5 45.0 26.0 45.7 25.2 46.5 24.5 47.1 23.5 47.7 22.5 48.3 21.5 48.9 20.5 49.3 19.5 49.7 18.5 50.1 17.1 50.5 16.0 50.8 15.0 51.0Z" fill="#000" fill-opacity="0.06" fill-rule="evenodd"/><path d="M10.0 55.0 9.0 55.1 8.0 55.1 7.0 55.2 6.0 55.1 5.0 55.0 4.5 55.0 3.5 54.8 2.5 54.5 2.0 54.4 1.3 54.0 0.5 53.5 0.0 53.0 -0.3 52.5 -0.5 51.8 -0.5 51.0 -0.4 50.5 -0.1 49.5 0.2 49.0 0.6 48.5 1.0 47.9 1.5 47.4 2.0 46.9 2.5 46.4 3.0 46.0 3.6 45.5 4.3 45.0 5.0 44.5 5.5 44.1 6.0 43.8 6.5 43.5 7.3 43.0 8.0 42.6 8.5 42.3 9.1 42.0 10.0 41.5 10.5 41.2 11.0 41.0 11.8 40.5 12.5 40.1 13.0 39.8 13.6 39.5 14.3 39.0 15.0 38.5 15.5 38.0 16.0 37.5 16.3 37.0 16.6 36.5 17.0 35.5 17.2 35.0 17.5 34.4 18.0 33.5 18.3 33.0 18.6 32.5 19.0 31.9 19.5 31.2 20.0 30.6 20.5 30.1 21.0 29.5 21.5 29.0 22.0 28.6 22.5 28.1 23.0 27.7 23.5 27.3 24.0 26.9 24.5 26.5 25.2 26.0 25.8 25.5 26.5 25.1 27.0 24.7 27.5 24.4 28.1 24.0 28.9 23.5 29.5 23.2 30.0 22.9 30.7 22.5 31.5 22.1 32.0 21.8 32.6 21.5 33.5 21.1 34.0 20.8 34.7 20.5 35.5 20.0 36.0 19.7 36.5 19.3 37.0 18.8 37.5 18.2 37.9 17.5 38.1 17.0 38.4 16.0 38.6 15.5 38.8 14.5 39.0 13.5 39.1 13.0 39.2 12.0 39.4 11.0 39.5 10.4 39.6 9.5 39.8 8.5 40.0 7.9 40.2 7.0 40.5 6.0 40.6 5.5 40.9 4.5 41.1 4.0 41.5 3.0 41.6 2.5 42.0 1.7 42.3 1.0 42.6 0.5 43.0 -0.2 43.5 -0.9 43.9 -1.5 44.4 -2.0 44.9 -2.5 45.5 -3.0 46.0 -3.3 46.5 -3.6 47.5 -3.9 48.5 -3.9 49.5 -3.6 50.0 -3.3 50.5 -3.0 51.1 -2.5 51.6 -2.0 52.1 -1.5 52.5 -0.9 53.0 -0.2 53.4 0.5 53.7 1.0 54.0 1.7 54.4 2.5 54.6 3.0 54.9 4.0 55.1 4.5 55.4 5.5 55.5 6.0 55.8 7.0 56.0 7.8 56.2 8.5 56.4 9.5 56.5 10.4 56.6 11.0 56.7 12.0 56.9 13.0 56.9 14.0 57.0 14.7 57.1 15.5 57.1 16.5 57.2 17.5 57.2 18.5 57.2 19.5 57.2 20.5 57.1 21.5 57.1 22.5 57.0 23.5 57.0 24.0 56.9 25.0 56.8 26.0 56.6 27.0 56.5 27.7 56.4 28.5 56.2 29.5 56.0 30.4 55.9 31.0 55.6 32.0 55.5 32.5 55.2 33.5 55.0 34.1 54.7 35.0 54.5 35.5 54.1 36.5 53.9 37.0 53.5 37.7 53.1 38.5 52.8 39.0 52.4 39.5 52.0 40.1 51.5 40.7 51.0 41.2 50.5 41.6 49.8 42.0 49.0 42.3 48.0 42.4 47.0 42.2 46.5 42.0 45.6 41.5 45.0 41.0 44.5 40.5 44.0 40.0 43.6 39.5 43.3 39.0 43.0 38.5 42.5 37.7 42.1 37.0 41.9 36.5 41.5 35.5 41.3 35.0 41.0 34.0 40.8 33.5 40.5 32.5 40.3 32.0 40.0 31.0 39.8 30.5 39.5 29.8 39.0 29.1 38.5 28.8 37.5 28.8 37.0 29.0 36.4 29.5 35.8 30.0 35.2 30.5 34.7 31.0 34.1 31.5 33.6 32.0 33.0 32.5 32.5 33.0 32.0 33.5 31.5 33.9 31.0 34.4 30.5 34.9 30.0 35.5 29.7 36.0 29.8 37.0 30.3 37.5 31.0 37.9 31.5 38.1 32.2 38.5 33.0 39.0 33.5 39.4 34.0 40.0 34.3 40.5 34.5 41.0 34.6 42.0 34.5 42.5 34.1 43.5 33.8 44.0 33.4 44.5 33.0 45.0 32.5 45.6 32.0 46.1 31.5 46.5 31.0 47.0 30.3 47.5 29.6 48.0 29.0 48.4 28.5 48.8 28.0 49.1 27.3 49.5 26.5 49.9 26.0 50.2 25.4 50.5 24.5 50.9 24.0 51.2 23.2 51.5 22.5 51.8 22.0 52.0 21.0 52.4 20.5 52.6 19.5 52.9 19.0 53.1 18.0 53.4 17.5 53.5 16.5 53.8 15.7 54.0 15.0 54.2 14.0 54.4 13.4 54.5 12.5 54.7 11.5 54.8 10.5 55.0 10.0 55.0ZM49.5 38.1 48.5 38.4 47.5 38.3 46.8 38.0 46.1 37.5 45.6 37.0 45.2 36.5 44.8 36.0 44.5 35.5 44.0 34.7 43.7 34.0 43.4 33.5 43.0 32.5 42.8 32.0 42.5 31.0 42.3 30.5 42.1 29.5 41.9 29.0 41.6 28.0 41.5 27.5 41.2 26.5 41.0 25.9 40.7 25.0 40.5 24.4 40.2 23.5 40.0 22.5 40.0 22.0 40.0 21.0 40.0 20.5 40.1 19.5 40.3 18.5 40.5 17.5 40.5 17.0 40.7 16.0 40.9 15.0 41.0 14.3 41.1 13.5 41.3 12.5 41.5 11.6 41.6 11.0 41.8 10.0 42.0 9.4 42.2 8.5 42.5 7.7 42.7 7.0 43.0 6.3 43.4 5.5 43.6 5.0 44.0 4.3 44.5 3.5 44.9 3.0 45.3 2.5 45.9 2.0 46.5 1.6 47.0 1.4 48.0 1.2 49.0 1.4 49.5 1.6 50.1 2.0 50.7 2.5 51.2 3.0 51.5 3.5 52.0 4.2 52.4 5.0 52.7 5.5 53.0 6.2 53.3 7.0 53.5 7.6 53.8 8.5 54.0 9.2 54.2 10.0 54.4 11.0 54.5 11.5 54.7 12.5 54.8 13.5 55.0 14.5 55.0 15.0 55.1 16.0 55.2 17.0 55.2 18.0 55.2 19.0 55.2 20.0 55.2 21.0 55.2 22.0 55.1 23.0 55.0 24.0 55.0 24.5 54.9 25.5 54.7 26.5 54.6 27.5 54.5 28.0 54.3 29.0 54.0 30.0 53.9 30.5 53.6 31.5 53.5 32.0 53.1 33.0 52.9 33.5 52.5 34.5 52.2 35.0 52.0 35.5 51.5 36.2 51.0 36.9 50.5 37.4 50.0 37.8 49.5 38.1ZM27.0 32.5 26.0 32.6 25.5 32.3 25.5 31.6 25.8 31.0 26.1 30.5 26.5 30.0 27.0 29.4 27.5 28.9 28.0 28.5 28.7 28.0 29.4 27.5 30.0 27.2 30.5 27.0 31.5 26.6 32.5 26.9 32.6 27.5 32.4 28.0 32.0 28.6 31.5 29.2 31.0 29.8 30.5 30.3 30.0 30.7 29.5 31.1 29.0 31.5 28.1 32.0 27.5 32.3 27.0 32.5ZM12.0 53.1 11.0 53.2 10.0 53.2 9.0 53.2 8.0 53.2 7.0 53.0 6.5 52.9 5.5 52.6 5.0 52.4 4.3 52.0 3.8 51.5 3.5 51.0 3.4 50.0 3.5 49.4 3.9 48.5 4.3 48.0 4.7 47.5 5.1 47.0 5.6 46.5 6.2 46.0 6.9 45.5 7.5 45.1 8.0 44.7 8.5 44.4 9.2 44.0 10.0 43.5 10.5 43.2 11.0 43.0 12.0 42.5 12.5 42.3 13.1 42.0 14.0 41.6 14.5 41.4 15.4 41.0 16.0 40.8 16.8 40.5 17.5 40.2 18.2 40.0 19.0 39.7 20.0 39.5 20.5 39.4 21.5 39.2 22.5 39.1 23.5 39.1 24.5 39.2 25.5 39.3 26.2 39.5 27.0 39.7 28.0 40.0 28.5 40.2 29.1 40.5 29.8 41.0 30.3 41.5 30.5 42.0 30.6 43.0 30.5 43.5 30.1 44.5 29.7 45.0 29.3 45.5 28.8 46.0 28.3 46.5 27.7 47.0 27.0 47.5 26.5 47.9 26.0 48.2 25.5 48.5 24.7 49.0 24.0 49.4 23.5 49.6 22.7 50.0 22.0 50.3 21.5 50.5 20.5 50.9 20.0 51.1 19.0 51.5 18.5 51.6 17.5 51.9 17.0 52.1 16.0 52.3 15.3 52.5 14.5 52.7 13.5 52.9 12.5 53.0 12.0 53.1ZM49.5 35.1 48.5 35.4 47.5 35.2 47.0 34.9 46.5 34.5 46.0 34.0 45.5 33.2 45.1 32.5 44.8 32.0 44.5 31.2 44.2 30.5 44.0 29.8 43.8 29.0 43.5 28.0 43.4 27.5 43.1 26.5 43.0 25.7 42.9 25.0 42.7 24.0 42.5 23.0 42.5 22.5 42.4 21.5 42.3 20.5 42.3 19.5 42.4 18.5 42.5 17.5 42.5 17.0 42.7 16.0 42.8 15.0 43.0 14.0 43.1 13.5 43.3 12.5 43.5 11.9 43.8 11.0 44.0 10.3 44.3 9.5 44.5 9.0 45.0 8.1 45.4 7.5 45.8 7.0 46.3 6.5 47.0 6.0 47.5 5.8 48.5 5.8 49.2 6.0 49.9 6.5 50.4 7.0 50.8 7.5 51.1 8.0 51.5 8.7 51.9 9.5 52.1 10.0 52.4 11.0 52.6 11.5 52.8 12.5 53.0 13.2 53.2 14.0 53.3 15.0 53.5 16.0 53.5 16.5 53.6 17.5 53.7 18.5 53.7 19.5 53.7 20.5 53.7 21.5 53.7 22.5 53.6 23.5 53.5 24.5 53.5 25.0 53.4 26.0 53.2 27.0 53.0 28.0 52.9 28.5 52.6 29.5 52.5 30.0 52.2 31.0 52.0 31.5 51.5 32.5 51.3 33.0 51.0 33.5 50.5 34.2 50.0 34.7 49.5 35.1ZM14.5 51.1 13.5 51.2 12.5 51.3 11.5 51.4 10.5 51.3 9.5 51.2 8.8 51.0 8.0 50.6 7.5 50.2 7.1 49.5 7.2 48.5 7.5 48.0 8.0 47.3 8.5 46.7 9.0 46.3 9.5 45.9 10.0 45.5 10.8 45.0 11.5 44.6 12.0 44.3 12.6 44.0 13.5 43.6 14.0 43.3 14.9 43.0 15.5 42.8 16.2 42.5 17.0 42.3 18.0 42.0 18.5 41.9 19.5 41.7 20.5 41.5 21.0 41.5 22.0 41.4 23.0 41.5 23.5 41.5 24.5 41.7 25.5 42.0 26.0 42.3 26.5 42.7 26.9 43.5 26.7 44.5 26.5 45.0 26.0 45.7 25.5 46.2 25.0 46.7 24.5 47.1 23.9 47.5 23.1 48.0 22.5 48.3 22.0 48.6 21.2 49.0 20.5 49.3 20.0 49.5 19.0 49.9 18.5 50.1 17.5 50.4 17.0 50.5 16.0 50.8 15.0 51.0 14.5 51.1ZM49.0 32.7 48.0 32.8 47.4 32.5 46.8 32.0 46.4 31.5 46.0 30.8 45.6 30.0 45.4 29.5 45.1 28.5 44.9 28.0 44.7 27.0 44.5 26.2 44.4 25.5 44.2 24.5 44.1 23.5 44.0 22.5 44.0 22.0 43.9 21.0 43.9 20.0 44.0 19.0 44.0 18.5 44.1 17.5 44.2 16.5 44.4 15.5 44.6 15.0 44.8 14.0 45.0 13.5 45.4 12.5 45.6 12.0 46.0 11.3 46.5 10.6 47.0 10.2 47.5 9.9 48.5 9.7 49.1 10.0 49.8 10.5 50.2 11.0 50.5 11.5 51.0 12.4 51.2 13.0 51.5 13.8 51.7 14.5 52.0 15.5 52.1 16.0 52.2 17.0 52.4 18.0 52.5 19.0 52.5 19.7 52.5 20.5 52.5 21.5 52.5 22.5 52.5 23.0 52.4 24.0 52.3 25.0 52.2 26.0 52.0 27.0 51.9 27.5 51.6 28.5 51.5 29.0 51.1 30.0 50.9 30.5 50.5 31.2 50.0 31.9 49.5 32.4 49.0 32.7ZM15.5 49.1 14.5 49.2 13.5 49.2 12.5 49.0 12.0 48.8 11.5 48.0 11.5 48.0 11.9 47.0 12.4 46.5 13.0 46.0 13.5 45.7 14.0 45.4 14.8 45.0 15.5 44.7 16.0 44.5 17.0 44.2 17.7 44.0 18.5 43.8 19.5 43.7 20.5 43.7 21.5 43.9 22.0 44.1 22.5 44.9 22.5 45.1 22.0 46.0 21.5 46.5 21.0 46.9 20.5 47.2 20.0 47.5 19.1 48.0 18.5 48.2 17.8 48.5 17.0 48.7 16.0 49.0 15.5 49.1ZM49.0 30.3 48.0 30.4 47.4 30.0 47.0 29.5 46.5 28.7 46.2 28.0 46.0 27.5 45.7 26.5 45.5 25.5 45.4 25.0 45.3 24.0 45.2 23.0 45.1 22.0 45.1 21.0 45.2 20.0 45.2 19.0 45.4 18.0 45.5 17.4 45.7 16.5 46.0 15.6 46.3 15.0 46.5 14.5 47.0 13.8 47.5 13.3 48.5 13.0 49.3 13.5 49.8 14.0 50.1 14.5 50.5 15.4 50.7 16.0 51.0 17.0 51.1 17.5 51.3 18.5 51.4 19.5 51.5 20.4 51.5 21.0 51.5 22.0 51.5 23.0 51.5 23.5 51.4 24.5 51.2 25.5 51.0 26.5 50.9 27.0 50.6 28.0 50.4 28.5 50.0 29.2 49.5 29.9 49.0 30.3ZM49.0 28.1 48.0 28.2 47.5 27.8 47.0 27.0 46.8 26.5 46.5 25.6 46.4 25.0 46.2 24.0 46.1 23.0 46.0 22.0 46.1 21.0 46.1 20.0 46.3 19.0 46.5 18.1 46.7 17.5 47.0 16.8 47.5 16.1 48.0 15.7 49.0 15.9 49.5 16.4 49.8 17.0 50.0 17.5 50.3 18.5 50.5 19.4 50.6 20.0 50.7 21.0 50.7 22.0 50.7 23.0 50.6 24.0 50.5 24.7 50.3 25.5 50.0 26.5 49.8 27.0 49.5 27.6 49.0 28.1ZM48.5 26.2 48.0 26.0 47.5 25.3 47.2 24.5 47.0 23.5 47.0 23.0 46.9 22.0 47.0 21.0 47.0 20.5 47.3 19.5 47.5 18.9 48.0 18.2 49.0 18.4 49.3 19.0 49.5 19.5 49.7 20.5 49.9 21.5 49.9 22.5 49.8 23.5 49.6 24.5 49.5 25.0 49.0 25.9 48.5 26.2Z" fill="none" stroke="#333" stroke-width="0.3"/><ellipse cx="48.5" cy="22.5" rx="6.0" ry="10.7" transform="rotate(0 48.5 22.5)" fill="#333" fill-opacity="0.6" filter="url(#spk)"/><ellipse cx="48.5" cy="22.5" rx="3.8" ry="8.5" transform="rotate(0 48.5 22.5)" fill="none" stroke="#333" stroke-width="0.5"/><ellipse cx="48.5" cy="22.5" rx="2.8" ry="7.5" transform="rotate(0 48.5 22.5)" fill="none" stroke="#111" stroke-width="1.4"/></g></g>
<clipPath id="cp11"><rect x="0.7" y="0.7" width="58.4" height="58.5"/></clipPath>
<g transform="translate(283.00 256.20)"><g clip-path="url(#cp11)"><path d="M10.0 56.6 8.5 56.7 7.0 56.7 5.5 56.5 4.5 56.3 3.5 56.0 2.5 55.5 1.5 54.9 0.6 54.0 0.0 53.2 -0.5 52.1 -0.8 51.0 -0.9 49.5 -0.7 48.0 -0.4 47.0 0.0 46.0 0.5 45.0 1.0 44.0 1.7 43.0 2.5 42.0 3.0 41.4 3.8 40.5 4.5 39.8 5.3 39.0 6.0 38.4 7.0 37.6 7.8 37.0 8.5 36.5 9.5 35.8 10.5 35.1 11.4 34.5 12.2 34.0 13.0 33.5 14.0 32.8 15.0 32.2 16.0 31.5 16.8 31.0 17.6 30.5 18.5 29.8 19.5 29.2 20.5 28.5 21.4 28.0 22.3 27.5 23.3 27.0 24.3 26.5 25.4 26.0 26.3 25.5 27.0 25.0 28.0 24.0 28.5 23.2 29.0 22.2 29.4 21.0 29.7 20.0 30.0 18.9 30.3 17.5 30.6 16.5 30.9 15.0 31.2 14.0 31.5 12.8 31.9 11.5 32.2 10.5 32.6 9.5 33.1 8.5 33.6 7.5 34.2 6.5 34.8 5.5 35.5 4.5 36.0 3.9 36.8 3.0 37.5 2.4 38.5 1.5 39.3 1.0 40.2 0.5 41.3 0.0 42.5 -0.4 43.5 -0.6 45.0 -0.7 46.3 -0.5 47.5 -0.2 48.5 0.2 49.5 0.7 50.5 1.4 51.2 2.0 52.0 2.8 52.6 3.5 53.3 4.5 53.9 5.5 54.5 6.5 55.0 7.5 55.4 8.5 55.7 9.5 56.0 10.5 56.4 12.0 56.6 13.0 56.9 14.5 57.0 15.5 57.2 17.0 57.3 18.5 57.4 20.0 57.5 21.1 57.5 22.5 57.5 24.0 57.4 25.0 57.2 26.5 56.9 27.5 56.5 28.8 56.0 29.9 55.5 30.9 55.0 31.8 54.5 32.6 53.9 33.5 53.2 34.5 52.5 35.4 52.0 36.0 51.0 37.0 50.4 37.5 49.5 38.2 48.5 38.8 47.5 39.3 46.5 39.6 45.0 39.9 43.5 40.0 42.0 39.8 40.8 39.5 39.5 39.0 38.5 38.6 37.5 38.1 36.5 37.6 35.5 37.1 34.5 36.8 33.0 36.8 32.0 37.5 31.5 38.2 31.0 39.1 30.5 40.2 30.0 41.3 29.5 42.4 29.0 43.3 28.5 44.2 28.0 45.0 27.3 46.0 26.6 47.0 26.0 47.7 25.3 48.5 24.5 49.3 23.7 50.0 23.0 50.6 22.0 51.4 21.2 52.0 20.5 52.5 19.5 53.1 18.5 53.7 17.5 54.2 16.5 54.7 15.5 55.1 14.4 55.5 13.0 55.9 12.0 56.2 10.5 56.5ZM46.5 36.5 45.0 36.9 43.5 37.0 42.0 36.7 41.0 36.5 39.9 36.0 38.9 35.5 38.0 34.9 37.0 34.2 36.1 33.5 35.5 33.0 34.5 32.0 34.0 31.5 33.2 30.5 32.6 29.5 32.2 28.5 31.9 27.5 31.7 26.0 31.7 24.5 31.8 23.0 32.0 21.5 32.1 20.5 32.3 19.0 32.5 18.0 32.8 16.5 33.0 15.4 33.3 14.0 33.6 13.0 34.0 11.9 34.5 10.6 35.0 9.5 35.5 8.5 36.0 7.6 36.5 6.7 37.0 6.0 37.8 5.0 38.5 4.2 39.3 3.5 40.0 2.9 41.0 2.3 42.0 1.8 43.0 1.4 44.5 1.2 46.0 1.2 47.3 1.5 48.5 2.0 49.4 2.5 50.0 3.0 51.0 3.9 51.6 4.5 52.3 5.5 52.9 6.5 53.4 7.5 53.8 8.5 54.2 9.5 54.5 10.6 54.8 12.0 55.0 13.1 55.2 14.5 55.3 16.0 55.4 17.5 55.5 18.6 55.6 20.0 55.8 21.5 55.9 23.0 55.9 24.5 55.7 26.0 55.5 27.0 55.0 28.2 54.5 29.2 54.0 30.1 53.4 31.0 52.5 32.0 52.0 32.6 51.1 33.5 50.5 34.1 49.5 34.9 48.6 35.5 47.8 36.0 46.6 36.5ZM10.0 55.0 8.5 55.1 7.3 55.0 6.0 54.8 5.0 54.5 4.0 54.0 3.0 53.3 2.2 52.5 1.7 51.5 1.3 50.5 1.2 49.0 1.4 47.5 1.7 46.5 2.1 45.5 2.6 44.5 3.3 43.5 4.0 42.5 4.5 41.9 5.3 41.0 6.0 40.3 7.0 39.5 7.6 39.0 8.5 38.3 9.5 37.6 10.4 37.0 11.2 36.5 12.1 36.0 13.0 35.5 14.0 35.0 15.1 34.5 16.3 34.0 17.5 33.5 18.5 33.2 19.5 32.9 21.0 32.5 22.0 32.3 23.5 32.3 24.8 32.5 25.9 33.0 26.6 33.5 27.3 34.5 27.7 35.5 28.0 36.6 28.1 38.0 28.0 39.5 27.9 40.5 27.5 41.8 27.0 43.0 26.6 44.0 26.0 45.0 25.5 45.8 25.0 46.5 24.2 47.5 23.5 48.2 22.7 49.0 22.0 49.6 21.0 50.4 20.2 51.0 19.5 51.5 18.5 52.1 17.5 52.7 16.5 53.2 15.5 53.6 14.5 54.0 13.0 54.5 12.0 54.7 10.5 55.0Z" fill="#222" fill-opacity="0.95" fill-rule="evenodd" filter="url(#spk)"/><path d="M9.0 58.0 7.5 58.1 6.0 58.1 5.0 58.0 3.5 57.7 2.5 57.4 1.5 57.0 0.5 56.4 -0.5 55.7 -1.1 55.0 -1.8 54.0 -2.3 53.0 -2.5 52.0 -2.7 50.5 -2.6 49.0 -2.4 48.0 -2.0 46.9 -1.5 45.7 -1.0 44.7 -0.5 43.8 0.0 43.0 0.8 42.0 1.5 41.1 2.0 40.5 3.0 39.5 3.5 39.0 4.5 38.0 5.1 37.5 6.0 36.7 6.9 36.0 7.5 35.5 8.5 34.7 9.5 34.0 10.1 33.5 11.0 32.8 12.0 32.0 12.5 31.5 13.5 30.6 14.2 30.0 15.0 29.2 15.7 28.5 16.5 27.8 17.4 27.0 18.0 26.5 19.0 25.7 19.9 25.0 20.7 24.5 21.5 24.0 22.5 23.4 23.5 22.9 24.5 22.3 25.5 21.6 26.1 21.0 26.9 20.0 27.5 19.1 28.0 18.0 28.3 17.0 28.6 16.0 29.0 14.8 29.4 13.5 29.6 12.5 30.0 11.3 30.4 10.0 30.8 9.0 31.2 8.0 31.7 7.0 32.2 6.0 32.7 5.0 33.4 4.0 34.0 3.1 34.5 2.5 35.3 1.5 36.0 0.8 36.9 0.0 37.6 -0.5 38.5 -1.1 39.5 -1.6 40.5 -2.1 42.0 -2.5 43.0 -2.7 44.5 -2.8 46.0 -2.6 47.0 -2.4 48.1 -2.0 49.2 -1.5 50.1 -1.0 51.0 -0.4 52.0 0.5 52.5 1.0 53.4 2.0 54.0 2.7 54.6 3.5 55.2 4.5 55.7 5.5 56.2 6.5 56.7 7.5 57.1 8.5 57.5 9.8 57.9 11.0 58.1 12.0 58.5 13.5 58.6 14.5 58.8 16.0 59.0 17.5 59.1 18.5 59.1 20.0 59.1 21.5 59.1 23.0 59.0 24.5 58.9 25.5 58.6 27.0 58.4 28.0 58.0 29.2 57.5 30.5 57.1 31.5 56.6 32.5 56.1 33.5 55.6 34.5 55.0 35.5 54.5 36.2 53.9 37.0 53.1 38.0 52.5 38.7 51.6 39.5 51.0 40.0 50.0 40.7 49.0 41.3 48.0 41.8 47.0 42.1 45.5 42.5 44.5 42.6 43.0 42.6 42.0 42.4 40.5 42.1 39.5 41.8 38.5 41.4 37.5 41.0 36.1 40.5 35.0 40.3 33.9 40.5 33.0 41.0 32.1 42.0 31.5 42.7 30.9 43.5 30.3 44.5 29.5 45.5 29.0 46.2 28.4 47.0 27.5 48.0 27.0 48.6 26.1 49.5 25.5 50.1 24.5 51.0 23.9 51.5 23.0 52.2 22.0 52.9 21.1 53.5 20.3 54.0 19.5 54.5 18.5 55.0 17.5 55.5 16.5 56.0 15.2 56.5 14.0 56.9 13.0 57.2 12.0 57.5 10.5 57.8 9.1 58.0ZM10.0 56.6 8.5 56.7 7.0 56.7 5.5 56.5 4.5 56.3 3.5 56.0 2.5 55.5 1.5 54.9 0.6 54.0 0.0 53.2 -0.5 52.1 -0.8 51.0 -0.9 49.5 -0.7 48.0 -0.4 47.0 0.0 46.0 0.5 45.0 1.0 44.0 1.7 43.0 2.5 42.0 3.0 41.4 3.8 40.5 4.5 39.8 5.3 39.0 6.0 38.4 7.0 37.6 7.8 37.0 8.5 36.5 9.5 35.8 10.5 35.1 11.4 34.5 12.2 34.0 13.0 33.5 14.0 32.8 15.0 32.2 16.0 31.5 16.8 31.0 17.6 30.5 18.5 29.8 19.5 29.2 20.5 28.5 21.4 28.0 22.3 27.5 23.3 27.0 24.3 26.5 25.4 26.0 26.3 25.5 27.0 25.0 28.0 24.0 28.5 23.2 29.0 22.2 29.4 21.0 29.7 20.0 30.0 18.9 30.3 17.5 30.6 16.5 30.9 15.0 31.2 14.0 31.5 12.8 31.9 11.5 32.2 10.5 32.6 9.5 33.1 8.5 33.6 7.5 34.2 6.5 34.8 5.5 35.5 4.5 36.0 3.9 36.8 3.0 37.5 2.4 38.5 1.5 39.3 1.0 40.2 0.5 41.3 0.0 42.5 -0.4 43.5 -0.6 45.0 -0.7 46.3 -0.5 47.5 -0.2 48.5 0.2 49.5 0.7 50.5 1.4 51.2 2.0 52.0 2.8 52.6 3.5 53.3 4.5 53.9 5.5 54.5 6.5 55.0 7.5 55.4 8.5 55.7 9.5 56.0 10.5 56.4 12.0 56.6 13.0 56.9 14.5 57.0 15.5 57.2 17.0 57.3 18.5 57.4 20.0 57.5 21.1 57.5 22.5 57.5 24.0 57.4 25.0 57.2 26.5 56.9 27.5 56.5 28.8 56.0 29.9 55.5 30.9 55.0 31.8 54.5 32.6 53.9 33.5 53.2 34.5 52.5 35.4 52.0 36.0 51.0 37.0 50.4 37.5 49.5 38.2 48.5 38.8 47.5 39.3 46.5 39.6 45.0 39.9 43.5 40.0 42.0 39.8 40.8 39.5 39.5 39.0 38.5 38.6 37.5 38.1 36.5 37.6 35.5 37.1 34.5 36.8 33.0 36.8 32.0 37.5 31.5 38.2 31.0 39.1 30.5 40.2 30.0 41.3 29.5 42.4 29.0 43.3 28.5 44.2 28.0 45.0 27.3 46.0 26.6 47.0 26.0 47.7 25.3 48.5 24.5 49.3 23.7 50.0 23.0 50.6 22.0 51.4 21.2 52.0 20.5 52.5 19.5 53.1 18.5 53.7 17.5 54.2 16.5 54.7 15.5 55.1 14.4 55.5 13.0 55.9 12.0 56.2 10.5 56.5Z" fill="#222" fill-opacity="0.6" fill-rule="evenodd" filter="url(#spk)"/><path d="M9.5 59.5 8.0 59.7 6.5 59.8 5.0 59.8 3.5 59.6 2.5 59.4 1.0 59.0 0.0 58.6 -1.0 58.0 -1.8 57.5 -2.5 56.9 -3.3 56.0 -3.9 55.0 -4.3 54.0 -4.6 53.0 -4.8 51.5 -4.7 50.0 -4.5 48.7 -4.2 47.5 -3.8 46.5 -3.4 45.5 -2.8 44.5 -2.2 43.5 -1.6 42.5 -1.0 41.7 -0.4 41.0 0.4 40.0 1.0 39.4 1.8 38.5 2.5 37.8 3.4 37.0 4.0 36.4 5.0 35.5 5.5 35.0 6.5 34.1 7.2 33.5 8.0 32.7 8.7 32.0 9.5 31.1 10.0 30.5 10.9 29.5 11.5 28.8 12.2 28.0 13.0 27.0 13.5 26.5 14.5 25.5 15.0 25.0 16.0 24.1 16.7 23.5 17.5 22.9 18.5 22.2 19.5 21.5 20.3 21.0 21.1 20.5 22.0 19.9 23.0 19.3 24.0 18.5 24.6 18.0 25.4 17.0 26.0 16.0 26.5 15.0 26.8 14.0 27.2 13.0 27.5 12.0 28.0 10.5 28.3 9.5 28.6 8.5 29.0 7.5 29.5 6.3 30.0 5.2 30.5 4.2 31.0 3.3 31.5 2.5 32.1 1.5 32.9 0.5 33.5 -0.3 34.2 -1.0 35.0 -1.8 35.8 -2.5 36.5 -3.1 37.5 -3.8 38.5 -4.3 39.5 -4.8 40.5 -5.1 42.0 -5.5 43.0 -5.6 44.5 -5.7 46.0 -5.5 47.0 -5.3 48.0 -5.0 49.2 -4.5 50.1 -4.0 51.0 -3.5 52.0 -2.7 52.9 -2.0 53.5 -1.4 54.3 -0.5 55.0 0.3 55.5 1.0 56.2 2.0 56.9 3.0 57.4 4.0 57.9 5.0 58.4 6.0 58.8 7.0 59.1 8.0 59.5 9.1 59.9 10.5 60.2 11.5 60.5 13.0 60.6 14.0 60.9 15.5 61.0 17.0 61.1 18.0 61.1 19.5 61.1 21.0 61.1 22.5 61.0 23.8 60.9 25.0 60.7 26.5 60.5 27.5 60.1 29.0 59.8 30.0 59.5 31.0 59.0 32.4 58.6 33.5 58.1 34.5 57.6 35.5 57.1 36.5 56.5 37.5 56.0 38.3 55.5 39.0 54.7 40.0 54.0 40.8 53.3 41.5 52.5 42.3 51.6 43.0 50.9 43.5 50.0 44.0 49.0 44.5 47.9 45.0 46.5 45.4 45.5 45.6 44.0 45.7 42.5 45.6 41.5 45.4 40.0 45.1 39.0 44.8 38.0 44.4 36.7 44.0 35.5 43.8 34.2 44.0 33.3 44.5 32.5 45.1 31.6 46.0 31.0 46.6 30.2 47.5 29.5 48.3 28.8 49.0 28.0 49.8 27.3 50.5 26.5 51.2 25.6 52.0 25.0 52.5 24.0 53.3 23.0 54.0 22.2 54.5 21.4 55.0 20.5 55.5 19.5 56.1 18.5 56.6 17.5 57.1 16.5 57.5 15.3 58.0 14.0 58.5 13.0 58.8 12.0 59.0 10.5 59.4 9.5 59.5ZM9.0 58.0 7.5 58.1 6.0 58.1 5.0 58.0 3.5 57.7 2.5 57.4 1.5 57.0 0.5 56.4 -0.5 55.7 -1.1 55.0 -1.8 54.0 -2.3 53.0 -2.5 52.0 -2.7 50.5 -2.6 49.0 -2.4 48.0 -2.0 46.9 -1.5 45.7 -1.0 44.7 -0.5 43.8 0.0 43.0 0.8 42.0 1.5 41.1 2.0 40.5 3.0 39.5 3.5 39.0 4.5 38.0 5.1 37.5 6.0 36.7 6.9 36.0 7.5 35.5 8.5 34.7 9.5 34.0 10.1 33.5 11.0 32.8 12.0 32.0 12.5 31.5 13.5 30.6 14.2 30.0 15.0 29.2 15.7 28.5 16.5 27.8 17.4 27.0 18.0 26.5 19.0 25.7 19.9 25.0 20.7 24.5 21.5 24.0 22.5 23.4 23.5 22.9 24.5 22.3 25.5 21.6 26.1 21.0 26.9 20.0 27.5 19.1 28.0 18.0 28.3 17.0 28.6 16.0 29.0 14.8 29.4 13.5 29.6 12.5 30.0 11.3 30.4 10.0 30.8 9.0 31.2 8.0 31.7 7.0 32.2 6.0 32.7 5.0 33.4 4.0 34.0 3.1 34.5 2.5 35.3 1.5 36.0 0.8 36.9 0.0 37.6 -0.5 38.5 -1.1 39.5 -1.6 40.5 -2.1 42.0 -2.5 43.0 -2.7 44.5 -2.8 46.0 -2.6 47.0 -2.4 48.1 -2.0 49.2 -1.5 50.1 -1.0 51.0 -0.4 52.0 0.5 52.5 1.0 53.4 2.0 54.0 2.7 54.6 3.5 55.2 4.5 55.7 5.5 56.2 6.5 56.7 7.5 57.1 8.5 57.5 9.8 57.9 11.0 58.1 12.0 58.5 13.5 58.6 14.5 58.8 16.0 59.0 17.5 59.1 18.5 59.1 20.0 59.1 21.5 59.1 23.0 59.0 24.5 58.9 25.5 58.6 27.0 58.4 28.0 58.0 29.2 57.5 30.5 57.1 31.5 56.6 32.5 56.1 33.5 55.6 34.5 55.0 35.5 54.5 36.2 53.9 37.0 53.1 38.0 52.5 38.7 51.6 39.5 51.0 40.0 50.0 40.7 49.0 41.3 48.0 41.8 47.0 42.1 45.5 42.5 44.5 42.6 43.0 42.6 42.0 42.4 40.5 42.1 39.5 41.8 38.5 41.4 37.5 41.0 36.1 40.5 35.0 40.3 33.9 40.5 33.0 41.0 32.1 42.0 31.5 42.7 30.9 43.5 30.3 44.5 29.5 45.5 29.0 46.2 28.4 47.0 27.5 48.0 27.0 48.6 26.1 49.5 25.5 50.1 24.5 51.0 23.9 51.5 23.0 52.2 22.0 52.9 21.1 53.5 20.3 54.0 19.5 54.5 18.5 55.0 17.5 55.5 16.5 56.0 15.2 56.5 14.0 56.9 13.0 57.2 12.0 57.5 10.5 57.8 9.1 58.0Z" fill="#222" fill-opacity="0.3" fill-rule="evenodd" filter="url(#spk)"/><path d="M46.5 36.5 45.0 36.9 43.5 37.0 42.0 36.7 41.0 36.5 39.9 36.0 38.9 35.5 38.0 34.9 37.0 34.2 36.1 33.5 35.5 33.0 34.5 32.0 34.0 31.5 33.2 30.5 32.6 29.5 32.2 28.5 31.9 27.5 31.7 26.0 31.7 24.5 31.8 23.0 32.0 21.5 32.1 20.5 32.3 19.0 32.5 18.0 32.8 16.5 33.0 15.4 33.3 14.0 33.6 13.0 34.0 11.9 34.5 10.6 35.0 9.5 35.5 8.5 36.0 7.6 36.5 6.7 37.0 6.0 37.8 5.0 38.5 4.2 39.3 3.5 40.0 2.9 41.0 2.3 42.0 1.8 43.0 1.4 44.5 1.2 46.0 1.2 47.3 1.5 48.5 2.0 49.4 2.5 50.0 3.0 51.0 3.9 51.6 4.5 52.3 5.5 52.9 6.5 53.4 7.5 53.8 8.5 54.2 9.5 54.5 10.6 54.8 12.0 55.0 13.1 55.2 14.5 55.3 16.0 55.4 17.5 55.5 18.6 55.6 20.0 55.8 21.5 55.9 23.0 55.9 24.5 55.7 26.0 55.5 27.0 55.0 28.2 54.5 29.2 54.0 30.1 53.4 31.0 52.5 32.0 52.0 32.6 51.1 33.5 50.5 34.1 49.5 34.9 48.6 35.5 47.8 36.0 46.6 36.5ZM10.0 55.0 8.5 55.1 7.3 55.0 6.0 54.8 5.0 54.5 4.0 54.0 3.0 53.3 2.2 52.5 1.7 51.5 1.3 50.5 1.2 49.0 1.4 47.5 1.7 46.5 2.1 45.5 2.6 44.5 3.3 43.5 4.0 42.5 4.5 41.9 5.3 41.0 6.0 40.3 7.0 39.5 7.6 39.0 8.5 38.3 9.5 37.6 10.4 37.0 11.2 36.5 12.1 36.0 13.0 35.5 14.0 35.0 15.1 34.5 16.3 34.0 17.5 33.5 18.5 33.2 19.5 32.9 21.0 32.5 22.0 32.3 23.5 32.3 24.8 32.5 25.9 33.0 26.6 33.5 27.3 34.5 27.7 35.5 28.0 36.6 28.1 38.0 28.0 39.5 27.9 40.5 27.5 41.8 27.0 43.0 26.6 44.0 26.0 45.0 25.5 45.8 25.0 46.5 24.2 47.5 23.5 48.2 22.7 49.0 22.0 49.6 21.0 50.4 20.2 51.0 19.5 51.5 18.5 52.1 17.5 52.7 16.5 53.2 15.5 53.6 14.5 54.0 13.0 54.5 12.0 54.7 10.5 55.0Z" fill="#000" fill-opacity="0.09" fill-rule="evenodd"/><path d="M45.0 30.0 44.0 30.0 42.5 29.7 41.5 29.3 40.5 28.7 39.6 28.0 39.0 27.2 38.5 26.2 38.2 25.0 38.2 23.5 38.5 22.3 38.9 21.0 39.2 20.0 39.3 18.5 39.1 17.0 39.0 15.5 39.0 14.5 39.0 13.5 39.2 12.0 39.5 10.8 40.0 9.5 40.5 8.5 41.0 7.7 41.6 7.0 42.5 6.2 43.5 5.7 44.5 5.4 46.0 5.3 47.0 5.6 48.0 6.1 49.0 6.9 49.6 7.5 50.2 8.5 50.7 9.5 51.1 10.5 51.4 12.0 51.5 13.5 51.4 15.0 51.2 16.5 51.0 17.5 50.6 19.0 50.5 20.0 50.5 21.0 50.9 22.5 51.1 23.5 51.2 25.0 51.0 26.0 50.5 27.0 49.7 28.0 49.0 28.6 48.0 29.3 47.0 29.7 45.5 30.0ZM13.5 48.1 12.0 48.2 11.0 48.0 10.0 47.0 9.9 46.0 10.2 45.0 10.9 44.0 11.5 43.4 12.5 42.6 13.5 42.1 14.5 41.7 15.5 41.5 16.7 41.5 17.8 42.0 18.4 43.0 18.2 44.5 17.6 45.5 17.0 46.1 16.0 47.0 15.1 47.5 14.0 48.0Z" fill="#000" fill-opacity="0.06" fill-rule="evenodd"/><path d="M46.5 36.5 45.5 36.8 44.5 36.9 43.5 37.0 42.5 36.8 41.5 36.6 41.0 36.5 40.0 36.1 39.5 35.8 38.9 35.5 38.1 35.0 37.5 34.6 37.0 34.2 36.5 33.8 36.0 33.4 35.5 33.0 35.0 32.5 34.5 32.0 34.0 31.5 33.5 30.9 33.0 30.2 32.6 29.5 32.4 29.0 32.1 28.0 31.9 27.5 31.8 26.5 31.7 25.5 31.7 24.5 31.8 23.5 31.9 22.5 32.0 21.5 32.0 21.0 32.2 20.0 32.3 19.0 32.5 18.0 32.6 17.5 32.8 16.5 33.0 15.5 33.1 15.0 33.3 14.0 33.5 13.5 33.8 12.5 34.0 11.9 34.3 11.0 34.5 10.5 35.0 9.5 35.2 9.0 35.5 8.4 36.0 7.6 36.3 7.0 36.7 6.5 37.0 6.0 37.5 5.4 38.0 4.8 38.5 4.2 39.0 3.7 39.5 3.3 40.0 2.9 40.6 2.5 41.5 2.0 42.0 1.8 42.8 1.5 43.5 1.3 44.5 1.2 45.5 1.2 46.5 1.3 47.3 1.5 48.0 1.8 48.5 2.0 49.4 2.5 50.0 3.0 50.5 3.4 51.0 3.9 51.5 4.4 51.9 5.0 52.3 5.5 52.6 6.0 53.0 6.7 53.4 7.5 53.6 8.0 54.0 9.0 54.2 9.5 54.5 10.5 54.6 11.0 54.8 12.0 55.0 13.0 55.1 13.5 55.2 14.5 55.3 15.5 55.4 16.5 55.4 17.5 55.5 18.5 55.5 19.0 55.6 20.0 55.7 21.0 55.8 22.0 55.9 23.0 55.9 24.0 55.9 25.0 55.7 26.0 55.5 26.9 55.3 27.5 55.0 28.2 54.6 29.0 54.4 29.5 54.0 30.1 53.5 30.8 53.0 31.5 52.5 32.0 52.1 32.5 51.6 33.0 51.1 33.5 50.6 34.0 50.0 34.5 49.5 34.9 49.0 35.3 48.5 35.6 47.8 36.0 47.0 36.3 46.5 36.5ZM10.0 55.0 9.0 55.1 8.0 55.1 7.3 55.0 6.5 54.9 5.5 54.6 5.0 54.5 4.0 54.0 3.5 53.7 3.0 53.3 2.5 52.8 2.0 52.1 1.7 51.5 1.5 51.0 1.2 50.0 1.2 49.0 1.3 48.0 1.5 47.1 1.7 46.5 2.0 45.7 2.3 45.0 2.6 44.5 3.0 43.9 3.5 43.2 4.0 42.5 4.4 42.0 4.9 41.5 5.3 41.0 5.8 40.5 6.4 40.0 7.0 39.5 7.5 39.1 8.0 38.7 8.5 38.3 9.0 37.9 9.6 37.5 10.4 37.0 11.0 36.6 11.5 36.3 12.1 36.0 13.0 35.5 13.5 35.3 14.0 35.0 15.0 34.6 15.5 34.3 16.3 34.0 17.0 33.7 17.6 33.5 18.5 33.2 19.0 33.0 20.0 32.7 21.0 32.5 21.5 32.4 22.5 32.3 23.5 32.3 24.5 32.4 25.0 32.5 25.9 33.0 26.5 33.4 27.0 34.0 27.3 34.5 27.6 35.0 27.9 36.0 28.0 36.6 28.1 37.5 28.1 38.5 28.0 39.5 27.9 40.0 27.7 41.0 27.5 41.8 27.3 42.5 27.0 43.1 26.6 44.0 26.3 44.5 26.0 45.0 25.5 45.8 25.0 46.5 24.6 47.0 24.2 47.5 23.7 48.0 23.2 48.5 22.7 49.0 22.2 49.5 21.6 50.0 21.0 50.4 20.5 50.8 20.0 51.2 19.5 51.5 18.7 52.0 18.0 52.4 17.5 52.7 16.9 53.0 16.0 53.4 15.5 53.6 14.5 54.0 14.0 54.2 13.0 54.5 12.5 54.6 11.5 54.8 10.5 55.0 10.0 55.0ZM46.5 32.1 45.5 32.3 44.5 32.4 43.5 32.4 42.5 32.2 41.8 32.0 41.0 31.7 40.5 31.5 39.6 31.0 39.0 30.6 38.5 30.2 38.0 29.8 37.5 29.2 37.0 28.6 36.6 28.0 36.3 27.5 36.0 26.7 35.8 26.0 35.6 25.0 35.5 24.0 35.6 23.0 35.7 22.0 35.9 21.0 36.0 20.5 36.2 19.5 36.3 18.5 36.5 17.5 36.5 17.0 36.6 16.0 36.8 15.0 36.9 14.0 37.0 13.5 37.2 12.5 37.5 11.5 37.6 11.0 38.0 10.0 38.1 9.5 38.5 8.7 38.9 8.0 39.2 7.5 39.5 7.0 40.0 6.3 40.5 5.8 41.0 5.3 41.5 4.9 42.1 4.5 43.0 4.0 43.5 3.8 44.5 3.6 45.5 3.5 46.5 3.6 47.5 4.0 48.0 4.2 48.5 4.5 49.2 5.0 49.8 5.5 50.2 6.0 50.6 6.5 51.0 7.0 51.5 7.9 51.8 8.5 52.0 9.0 52.4 10.0 52.5 10.6 52.7 11.5 52.9 12.5 52.9 13.5 53.0 14.5 52.9 15.5 52.9 16.5 52.8 17.5 52.7 18.5 52.7 19.5 52.8 20.5 53.0 21.5 53.1 22.0 53.3 23.0 53.4 24.0 53.3 25.0 53.2 26.0 53.0 26.6 52.6 27.5 52.3 28.0 52.0 28.5 51.5 29.1 51.0 29.6 50.5 30.1 49.9 30.5 49.2 31.0 48.5 31.4 48.0 31.6 47.0 32.0 46.5 32.1ZM13.0 51.6 12.0 51.8 11.0 51.9 10.0 52.0 9.0 51.9 8.0 51.6 7.5 51.4 6.7 51.0 6.2 50.5 5.8 50.0 5.5 49.5 5.2 48.5 5.2 47.5 5.3 46.5 5.5 46.0 5.9 45.0 6.2 44.5 6.5 44.0 7.0 43.4 7.5 42.8 8.0 42.2 8.5 41.7 9.0 41.3 9.5 40.9 10.0 40.5 10.8 40.0 11.5 39.5 12.0 39.2 12.5 39.0 13.5 38.5 14.0 38.3 14.9 38.0 15.5 37.8 16.5 37.6 17.0 37.5 18.0 37.4 19.0 37.3 20.0 37.5 20.5 37.6 21.5 38.0 22.0 38.3 22.5 38.8 23.0 39.5 23.2 40.0 23.4 41.0 23.4 42.0 23.2 43.0 23.0 43.5 22.6 44.5 22.3 45.0 22.0 45.5 21.5 46.1 21.0 46.8 20.5 47.3 20.0 47.8 19.5 48.2 19.0 48.7 18.5 49.0 17.8 49.5 17.0 50.0 16.5 50.3 16.0 50.5 15.0 51.0 14.5 51.2 13.5 51.5 13.0 51.6ZM45.0 30.0 44.1 30.0 43.5 29.9 42.5 29.7 41.9 29.5 41.0 29.1 40.5 28.7 40.0 28.3 39.5 27.9 39.0 27.2 38.6 26.5 38.4 26.0 38.2 25.0 38.2 24.0 38.3 23.0 38.5 22.3 38.8 21.5 39.0 20.8 39.2 20.0 39.3 19.0 39.2 18.0 39.1 17.0 39.0 16.0 39.0 15.3 39.0 14.5 39.0 13.8 39.1 13.0 39.2 12.0 39.4 11.0 39.6 10.5 40.0 9.5 40.2 9.0 40.5 8.5 41.0 7.7 41.5 7.1 42.0 6.6 42.5 6.2 43.0 5.9 44.0 5.5 44.5 5.4 45.5 5.3 46.5 5.4 47.0 5.6 47.9 6.0 48.5 6.4 49.0 6.9 49.5 7.4 49.9 8.0 50.2 8.5 50.5 9.0 50.9 10.0 51.1 10.5 51.3 11.5 51.4 12.5 51.5 13.5 51.5 14.5 51.4 15.5 51.2 16.5 51.0 17.3 50.8 18.0 50.6 19.0 50.5 19.7 50.5 20.5 50.5 21.0 50.8 22.0 51.0 22.9 51.1 23.5 51.2 24.5 51.1 25.5 51.0 26.0 50.5 27.0 50.2 27.5 49.7 28.0 49.2 28.5 48.5 29.0 48.0 29.3 47.4 29.5 46.5 29.8 45.5 30.0 45.0 30.0ZM13.5 48.1 12.5 48.2 11.5 48.1 11.0 48.0 10.3 47.5 10.0 47.0 9.9 46.0 10.0 45.5 10.5 44.5 10.9 44.0 11.4 43.5 12.0 43.0 12.5 42.6 13.0 42.3 13.7 42.0 14.5 41.7 15.4 41.5 16.0 41.5 16.7 41.5 17.5 41.8 18.0 42.2 18.4 43.0 18.3 44.0 18.0 44.8 17.6 45.5 17.1 46.0 16.6 46.5 16.0 47.0 15.5 47.3 15.0 47.6 14.0 48.0 13.5 48.1ZM45.5 28.1 44.5 28.1 43.7 28.0 43.0 27.8 42.4 27.5 41.7 27.0 41.2 26.5 40.9 26.0 40.5 25.0 40.6 24.0 40.8 23.0 41.1 22.5 41.5 21.6 41.7 21.0 41.9 20.0 41.7 19.0 41.5 18.5 41.1 17.5 40.9 17.0 40.7 16.0 40.5 15.0 40.4 14.5 40.4 13.5 40.5 12.5 40.6 12.0 40.8 11.0 41.0 10.5 41.4 9.5 41.7 9.0 42.1 8.5 42.6 8.0 43.2 7.5 44.0 7.1 44.5 6.9 45.5 6.8 46.5 7.0 47.0 7.1 47.6 7.5 48.2 8.0 48.7 8.5 49.1 9.0 49.5 9.8 49.8 10.5 50.0 11.1 50.2 12.0 50.3 13.0 50.3 14.0 50.2 15.0 50.0 15.8 49.8 16.5 49.5 17.3 49.2 18.0 48.9 18.5 48.5 19.4 48.3 20.0 48.2 21.0 48.4 22.0 48.6 22.5 48.9 23.5 49.0 24.0 49.0 25.0 48.9 25.5 48.5 26.4 48.0 26.9 47.5 27.3 47.0 27.6 46.0 28.0 45.5 28.1ZM46.5 18.6 45.5 19.0 44.5 18.9 43.9 18.5 43.3 18.0 42.9 17.5 42.5 16.9 42.1 16.0 41.9 15.5 41.7 14.5 41.6 13.5 41.7 12.5 41.9 11.5 42.1 11.0 42.5 10.1 42.9 9.5 43.4 9.0 44.0 8.6 44.5 8.4 45.5 8.2 46.5 8.4 47.0 8.7 47.5 9.0 48.0 9.6 48.5 10.4 48.8 11.0 49.0 11.7 49.2 12.5 49.2 13.5 49.1 14.5 49.0 15.0 48.7 16.0 48.4 16.5 48.0 17.2 47.5 17.8 47.0 18.3 46.5 18.6ZM45.5 25.1 45.0 25.3 44.5 25.3 44.1 25.0 44.0 24.8 43.9 24.5 44.0 24.3 44.1 24.0 44.5 23.7 45.0 23.7 45.5 23.9 45.6 24.0 45.8 24.5 45.6 25.0 45.5 25.1ZM46.0 17.1 45.0 17.1 44.5 17.0 43.8 16.5 43.4 16.0 43.0 15.2 42.8 14.5 42.6 13.5 42.7 12.5 43.0 11.5 43.2 11.0 43.5 10.5 44.0 10.0 45.0 9.5 45.5 9.5 46.0 9.6 46.8 10.0 47.3 10.5 47.7 11.0 48.0 11.8 48.2 12.5 48.2 13.5 48.1 14.5 47.9 15.0 47.5 15.8 47.0 16.5 46.5 16.8 46.0 17.1ZM46.0 15.6 45.0 15.6 44.5 15.4 44.0 14.7 43.7 14.0 43.6 13.0 43.9 12.0 44.2 11.5 44.7 11.0 45.5 10.8 46.2 11.0 46.7 11.5 47.0 12.0 47.2 13.0 47.1 14.0 47.0 14.5 46.5 15.2 46.0 15.6Z" fill="none" stroke="#333" stroke-width="0.3"/><ellipse cx="45.5" cy="14" rx="7.6000000000000005" ry="9.2" transform="rotate(0 45.5 14)" fill="#333" fill-opacity="0.6" filter="url(#spk)"/><ellipse cx="45.5" cy="14" rx="5.4" ry="7.0" transform="rotate(0 45.5 14)" fill="none" stroke="#333" stroke-width="0.5"/><ellipse cx="45.5" cy="14" rx="4.4" ry="6.0" transform="rotate(0 45.5 14)" fill="none" stroke="#111" stroke-width="1.6"/></g></g>
<clipPath id="cp12"><rect x="0.7" y="0.7" width="58.4" height="58.5"/></clipPath>
<g transform="translate(342.80 256.20)"><g clip-path="url(#cp12)"><path d="M15.5 55.1 14.0 55.2 12.5 55.3 11.0 55.4 9.5 55.4 8.0 55.3 6.5 55.2 5.3 55.0 4.0 54.7 3.0 54.5 1.8 54.0 0.8 53.5 0.0 53.0 -1.0 52.0 -1.5 51.0 -1.7 50.0 -1.5 48.9 -1.0 47.8 -0.5 47.0 0.4 46.0 1.0 45.4 2.0 44.6 2.8 44.0 3.6 43.5 4.5 42.9 5.5 42.3 6.5 41.8 7.5 41.2 8.5 40.6 9.2 40.0 9.8 39.0 9.5 37.5 9.1 36.5 8.7 35.5 8.4 34.5 8.3 33.0 8.4 31.5 8.7 30.5 9.1 29.5 9.7 28.5 10.5 27.6 11.2 27.0 12.0 26.4 13.0 25.9 14.3 25.5 15.5 25.3 17.0 25.4 18.0 25.6 19.2 26.0 20.1 26.5 21.0 27.1 21.9 28.0 22.5 28.8 23.0 29.6 23.5 30.5 24.4 31.5 25.5 31.7 26.5 31.5 27.5 31.0 28.5 30.4 29.5 29.8 30.5 29.2 31.5 28.6 32.5 28.0 33.4 27.5 34.3 27.0 35.1 26.5 36.0 25.9 37.0 25.0 37.5 24.2 37.9 23.0 38.1 22.0 38.2 20.5 38.3 19.0 38.3 17.5 38.4 16.0 38.5 15.0 38.7 13.5 38.9 12.0 39.0 11.0 39.3 9.5 39.5 8.5 39.9 7.0 40.2 6.0 40.5 4.9 41.0 3.6 41.4 2.5 41.9 1.5 42.4 0.5 43.0 -0.4 43.5 -1.1 44.2 -2.0 45.0 -2.8 46.0 -3.5 47.0 -4.0 48.0 -4.2 49.5 -4.1 50.5 -3.8 51.5 -3.2 52.3 -2.5 53.0 -1.8 53.6 -1.0 54.3 0.0 54.8 1.0 55.3 2.0 55.8 3.0 56.2 4.0 56.5 5.0 57.0 6.5 57.3 7.5 57.5 8.6 57.8 10.0 58.0 11.1 58.2 12.5 58.4 14.0 58.5 15.0 58.6 16.5 58.7 18.0 58.7 19.5 58.7 21.0 58.7 22.5 58.6 24.0 58.5 25.0 58.3 26.5 58.1 28.0 58.0 29.0 57.7 30.5 57.5 31.5 57.1 33.0 56.8 34.0 56.5 35.1 56.0 36.5 55.6 37.5 55.1 38.5 54.6 39.5 54.0 40.5 53.5 41.2 52.8 42.0 52.0 42.8 51.1 43.5 50.2 44.0 49.0 44.3 47.5 44.3 46.5 43.9 45.5 43.4 44.5 42.7 43.8 42.0 43.0 41.1 42.5 40.4 41.9 39.5 41.2 38.5 40.5 37.9 39.0 37.9 38.3 38.5 37.8 39.5 37.8 41.0 37.9 42.5 37.7 44.0 37.2 45.0 36.5 46.0 36.0 46.6 35.1 47.5 34.5 48.0 33.5 48.8 32.5 49.5 31.6 50.0 30.7 50.5 29.7 51.0 28.6 51.5 27.5 52.0 26.5 52.4 25.5 52.7 24.5 53.1 23.1 53.5 22.0 53.8 21.0 54.0 19.5 54.4 18.5 54.6 17.0 54.9 15.9 55.0ZM16.0 54.0 14.5 54.2 13.0 54.3 11.5 54.4 10.0 54.3 8.5 54.2 7.0 54.0 6.0 53.9 4.7 53.5 3.5 53.0 2.5 52.5 1.8 52.0 1.0 51.0 0.7 50.0 0.8 48.5 1.3 47.5 2.0 46.5 2.5 46.0 3.5 45.1 4.3 44.5 5.0 44.0 6.0 43.4 7.0 42.8 8.0 42.3 9.0 41.7 10.0 41.2 11.0 40.6 11.9 40.0 12.5 39.2 12.5 38.0 12.0 37.2 11.5 36.4 11.0 35.5 10.5 34.0 10.4 33.0 10.5 32.0 11.0 30.5 11.5 29.7 12.1 29.0 13.0 28.3 14.0 27.8 15.0 27.5 16.5 27.4 17.5 27.6 18.5 28.0 19.5 28.6 20.4 29.5 21.0 30.4 21.5 31.5 21.8 32.5 22.2 33.5 23.0 34.4 24.5 34.3 25.5 33.9 26.5 33.3 27.5 32.7 28.5 32.0 29.3 31.5 30.1 31.0 31.0 30.4 32.0 29.8 33.0 29.2 34.0 28.7 35.0 28.2 36.0 27.6 37.0 27.0 37.6 26.5 38.4 25.5 38.8 24.5 39.1 23.5 39.3 22.0 39.4 20.5 39.4 19.0 39.5 17.6 39.6 16.5 39.7 15.0 39.9 13.5 40.0 12.5 40.3 11.0 40.5 9.9 40.8 8.5 41.1 7.5 41.5 6.4 42.0 5.0 42.4 4.0 43.0 3.0 43.5 2.1 44.0 1.3 44.7 0.5 45.5 -0.3 46.5 -1.0 47.5 -1.4 48.5 -1.5 49.5 -1.4 50.5 -1.0 51.5 -0.3 52.3 0.5 53.0 1.3 53.5 2.1 54.0 3.0 54.6 4.0 55.0 5.0 55.5 6.4 55.9 7.5 56.2 8.5 56.5 9.9 56.7 11.0 57.0 12.5 57.1 13.5 57.3 15.0 57.5 16.5 57.5 17.5 57.6 19.0 57.6 20.5 57.5 22.0 57.5 23.0 57.4 24.5 57.2 26.0 57.0 27.5 56.8 28.5 56.5 30.0 56.3 31.0 56.0 32.1 55.6 33.5 55.2 34.5 54.8 35.5 54.4 36.5 53.9 37.5 53.2 38.5 52.5 39.5 52.0 40.1 51.0 41.0 50.0 41.5 49.0 41.8 47.5 41.7 46.5 41.3 45.5 40.6 44.8 40.0 44.0 39.0 43.5 38.3 43.0 37.5 42.2 36.5 41.5 35.8 40.5 35.3 39.3 35.5 38.4 36.0 37.5 36.7 36.6 37.5 36.0 38.2 35.5 39.1 35.2 40.5 35.4 42.0 35.5 43.0 35.4 44.0 35.0 45.0 34.4 46.0 33.5 47.0 33.0 47.5 32.0 48.3 31.0 49.0 30.2 49.5 29.3 50.0 28.3 50.5 27.2 51.0 26.0 51.5 25.0 51.9 24.0 52.2 23.0 52.5 21.5 53.0 20.5 53.2 19.1 53.5 18.0 53.7 16.5 54.0Z" fill="#222" fill-opacity="0.95" fill-rule="evenodd" filter="url(#spk)"/><path d="M14.5 56.0 13.0 56.2 11.5 56.3 10.0 56.3 8.5 56.3 7.0 56.3 5.5 56.1 4.5 56.0 3.0 55.7 2.0 55.5 0.6 55.0 -0.5 54.5 -1.4 54.0 -2.1 53.5 -3.0 52.5 -3.5 51.6 -3.7 50.5 -3.5 49.0 -3.1 48.0 -2.5 47.1 -2.0 46.5 -1.0 45.5 -0.5 45.0 0.5 44.2 1.5 43.5 2.3 43.0 3.2 42.5 4.0 42.0 5.0 41.5 6.0 40.8 7.0 40.1 7.5 39.5 7.7 38.0 7.4 37.0 7.0 35.6 6.8 34.5 6.6 33.0 6.8 31.5 7.0 30.5 7.5 29.1 8.0 28.2 8.5 27.4 9.3 26.5 10.0 25.8 11.0 25.1 12.0 24.6 13.0 24.1 14.0 23.9 15.5 23.7 17.0 23.7 18.5 24.0 19.5 24.3 20.5 24.8 21.5 25.4 22.2 26.0 23.0 26.8 23.6 27.5 24.3 28.5 25.0 29.3 26.0 29.8 27.5 29.6 28.5 29.1 29.5 28.6 30.5 28.0 31.3 27.5 32.1 27.0 33.0 26.5 34.0 25.9 35.0 25.2 35.8 24.5 36.5 23.5 36.9 22.5 37.1 21.5 37.2 20.0 37.2 18.5 37.3 17.0 37.4 15.5 37.5 14.5 37.6 13.0 37.8 11.5 38.0 10.5 38.2 9.0 38.5 7.8 38.8 6.5 39.1 5.5 39.5 4.0 39.8 3.0 40.2 2.0 40.6 1.0 41.1 0.0 41.6 -1.0 42.1 -2.0 42.8 -3.0 43.5 -3.9 44.0 -4.5 45.0 -5.4 46.0 -6.0 47.0 -6.5 48.0 -6.7 49.5 -6.6 50.5 -6.3 51.5 -5.7 52.4 -5.0 53.0 -4.5 53.8 -3.5 54.5 -2.6 55.0 -1.8 55.5 -0.9 56.0 0.1 56.5 1.2 57.0 2.5 57.3 3.5 57.7 4.5 58.0 5.7 58.3 7.0 58.5 8.0 58.8 9.5 59.0 10.5 59.2 12.0 59.4 13.5 59.5 14.5 59.6 16.0 59.7 17.5 59.8 19.0 59.8 20.5 59.7 22.0 59.7 23.5 59.6 25.0 59.5 26.0 59.3 27.5 59.1 29.0 58.9 30.0 58.7 31.5 58.4 32.5 58.1 34.0 57.8 35.0 57.5 36.0 57.0 37.5 56.6 38.5 56.2 39.5 55.7 40.5 55.2 41.5 54.6 42.5 54.0 43.3 53.4 44.0 52.5 45.0 51.9 45.5 51.0 46.1 50.0 46.5 48.5 46.7 47.0 46.5 46.0 46.2 45.0 45.6 44.1 45.0 43.3 44.5 42.5 44.0 41.0 43.6 40.0 44.3 39.4 45.0 38.6 46.0 38.0 46.6 37.1 47.5 36.5 48.0 35.5 48.8 34.5 49.5 33.6 50.0 32.8 50.5 31.9 51.0 30.9 51.5 29.8 52.0 28.6 52.5 27.5 52.9 26.5 53.3 25.5 53.7 24.4 54.0 23.0 54.4 22.0 54.7 20.6 55.0 19.5 55.3 18.2 55.5 17.0 55.7 15.5 55.9 14.5 56.0ZM15.5 55.1 14.0 55.2 12.5 55.3 11.0 55.4 9.5 55.4 8.0 55.3 6.5 55.2 5.3 55.0 4.0 54.7 3.0 54.5 1.8 54.0 0.8 53.5 0.0 53.0 -1.0 52.0 -1.5 51.0 -1.7 50.0 -1.5 48.9 -1.0 47.8 -0.5 47.0 0.4 46.0 1.0 45.4 2.0 44.6 2.8 44.0 3.6 43.5 4.5 42.9 5.5 42.3 6.5 41.8 7.5 41.2 8.5 40.6 9.2 40.0 9.8 39.0 9.5 37.5 9.1 36.5 8.7 35.5 8.4 34.5 8.3 33.0 8.4 31.5 8.7 30.5 9.1 29.5 9.7 28.5 10.5 27.6 11.2 27.0 12.0 26.4 13.0 25.9 14.3 25.5 15.5 25.3 17.0 25.4 18.0 25.6 19.2 26.0 20.1 26.5 21.0 27.1 21.9 28.0 22.5 28.8 23.0 29.6 23.5 30.5 24.4 31.5 25.5 31.7 26.5 31.5 27.5 31.0 28.5 30.4 29.5 29.8 30.5 29.2 31.5 28.6 32.5 28.0 33.4 27.5 34.3 27.0 35.1 26.5 36.0 25.9 37.0 25.0 37.5 24.2 37.9 23.0 38.1 22.0 38.2 20.5 38.3 19.0 38.3 17.5 38.4 16.0 38.5 15.0 38.7 13.5 38.9 12.0 39.0 11.0 39.3 9.5 39.5 8.5 39.9 7.0 40.2 6.0 40.5 4.9 41.0 3.6 41.4 2.5 41.9 1.5 42.4 0.5 43.0 -0.4 43.5 -1.1 44.2 -2.0 45.0 -2.8 46.0 -3.5 47.0 -4.0 48.0 -4.2 49.5 -4.1 50.5 -3.8 51.5 -3.2 52.3 -2.5 53.0 -1.8 53.6 -1.0 54.3 0.0 54.8 1.0 55.3 2.0 55.8 3.0 56.2 4.0 56.5 5.0 57.0 6.5 57.3 7.5 57.5 8.6 57.8 10.0 58.0 11.1 58.2 12.5 58.4 14.0 58.5 15.0 58.6 16.5 58.7 18.0 58.7 19.5 58.7 21.0 58.7 22.5 58.6 24.0 58.5 25.0 58.3 26.5 58.1 28.0 58.0 29.0 57.7 30.5 57.5 31.5 57.1 33.0 56.8 34.0 56.5 35.1 56.0 36.5 55.6 37.5 55.1 38.5 54.6 39.5 54.0 40.5 53.5 41.2 52.8 42.0 52.0 42.8 51.1 43.5 50.2 44.0 49.0 44.3 47.5 44.3 46.5 43.9 45.5 43.4 44.5 42.7 43.8 42.0 43.0 41.1 42.5 40.4 41.9 39.5 41.2 38.5 40.5 37.9 39.0 37.9 38.3 38.5 37.8 39.5 37.8 41.0 37.9 42.5 37.7 44.0 37.2 45.0 36.5 46.0 36.0 46.6 35.1 47.5 34.5 48.0 33.5 48.8 32.5 49.5 31.6 50.0 30.7 50.5 29.7 51.0 28.6 51.5 27.5 52.0 26.5 52.4 25.5 52.7 24.5 53.1 23.1 53.5 22.0 53.8 21.0 54.0 19.5 54.4 18.5 54.6 17.0 54.9 15.9 55.0Z" fill="#222" fill-opacity="0.6" fill-rule="evenodd" filter="url(#spk)"/><path d="M52.6 -8.0 53.5 -7.2 54.1 -6.5 54.9 -5.5 55.5 -4.5 56.0 -3.7 56.5 -2.7 57.0 -1.7 57.5 -0.5 57.9 0.5 58.3 1.5 58.6 2.5 59.0 4.0 59.3 5.0 59.5 6.0 59.8 7.5 60.0 8.5 60.3 10.0 60.5 11.5 60.6 12.5 60.8 14.0 60.9 15.5 60.9 17.0 61.0 18.5 61.0 20.0 61.0 21.5 60.9 23.0 60.9 24.5 60.7 26.0 60.6 27.5 60.5 28.5 60.3 30.0 60.0 31.5 59.8 32.5 59.5 34.0 59.3 35.0 59.0 36.0 58.6 37.5 58.3 38.5 57.9 39.5 57.5 40.5 57.0 41.7 56.5 42.7 56.0 43.7 55.5 44.5 54.9 45.5 54.1 46.5 53.5 47.2 52.6 48.0 51.9 48.5 51.0 49.0 49.7 49.5 48.5 49.6 47.3 49.5 46.0 49.1 45.0 48.6 44.1 48.0 43.3 47.5 42.2 47.0 41.0 47.0 40.0 47.4 39.0 48.0 38.3 48.5 37.5 49.0 36.5 49.7 35.5 50.4 34.5 50.9 33.5 51.5 32.5 52.0 31.5 52.5 30.5 52.9 29.5 53.3 28.5 53.7 27.5 54.1 26.2 54.5 25.0 54.9 24.0 55.2 22.8 55.5 21.5 55.8 20.5 56.1 19.0 56.4 18.0 56.6 16.5 56.8 15.1 57.0 14.0 57.1 12.5 57.3 11.0 57.4 9.5 57.4 8.0 57.4 6.5 57.4 5.0 57.3 3.5 57.1 2.5 57.0 1.0 56.7 0.0 56.4 -1.3 56.0 -2.4 55.5 -3.4 55.0 -4.1 54.5 -5.0 53.7 -5.5 53.0 -6.0 52.0 -6.2 50.5 -6.0 49.5 -5.5 48.3 -5.0 47.5 -4.3 46.5 -3.5 45.7 -2.7 45.0 -2.0 44.4 -1.0 43.6 -0.0 43.0 0.7 42.5 1.6 42.0 2.5 41.5 3.5 40.9 4.5 40.2 5.3 39.5 5.7 38.5 5.5 37.1 5.2 36.0 5.0 34.9 4.8 33.5 4.9 32.0 5.0 31.0 5.4 29.5 5.8 28.5 6.3 27.5 6.9 26.5 7.5 25.8 8.2 25.0 9.0 24.3 10.0 23.6 11.0 23.0 12.0 22.6 13.0 22.2 14.2 22.0 15.5 21.8 17.0 21.9 18.0 22.0 19.5 22.4 20.5 22.8 21.5 23.3 22.5 23.9 23.2 24.5 24.0 25.2 24.7 26.0 25.5 26.9 26.2 27.5 27.5 27.9 28.8 27.5 29.8 27.0 30.7 26.5 31.5 26.0 32.5 25.4 33.5 24.7 34.4 24.0 35.0 23.4 35.5 22.5 35.9 21.0 36.0 19.5 36.0 18.5 36.1 17.0 36.1 15.5 36.3 14.0 36.4 12.5 36.5 11.5 36.7 10.0 37.0 8.5 37.2 7.5 37.5 6.0 37.7 5.0 38.0 4.0 38.4 2.5 38.7 1.5 39.1 0.5 39.5 -0.5 40.0 -1.7 40.5 -2.7 41.0 -3.7 41.5 -4.5 42.1 -5.5 42.9 -6.5 43.5 -7.2 44.4 -8.0ZM14.5 56.0 13.0 56.2 11.5 56.3 10.0 56.3 8.5 56.3 7.0 56.3 5.5 56.1 4.5 56.0 3.0 55.7 2.0 55.5 0.6 55.0 -0.5 54.5 -1.4 54.0 -2.1 53.5 -3.0 52.5 -3.5 51.6 -3.7 50.5 -3.5 49.0 -3.1 48.0 -2.5 47.1 -2.0 46.5 -1.0 45.5 -0.5 45.0 0.5 44.2 1.5 43.5 2.3 43.0 3.2 42.5 4.0 42.0 5.0 41.5 6.0 40.8 7.0 40.1 7.5 39.5 7.7 38.0 7.4 37.0 7.0 35.6 6.8 34.5 6.6 33.0 6.8 31.5 7.0 30.5 7.5 29.1 8.0 28.2 8.5 27.4 9.3 26.5 10.0 25.8 11.0 25.1 12.0 24.6 13.0 24.1 14.0 23.9 15.5 23.7 17.0 23.7 18.5 24.0 19.5 24.3 20.5 24.8 21.5 25.4 22.2 26.0 23.0 26.8 23.6 27.5 24.3 28.5 25.0 29.3 26.0 29.8 27.5 29.6 28.5 29.1 29.5 28.6 30.5 28.0 31.3 27.5 32.1 27.0 33.0 26.5 34.0 25.9 35.0 25.2 35.8 24.5 36.5 23.5 36.9 22.5 37.1 21.5 37.2 20.0 37.2 18.5 37.3 17.0 37.4 15.5 37.5 14.5 37.6 13.0 37.8 11.5 38.0 10.5 38.2 9.0 38.5 7.8 38.8 6.5 39.1 5.5 39.5 4.0 39.8 3.0 40.2 2.0 40.6 1.0 41.1 0.0 41.6 -1.0 42.1 -2.0 42.8 -3.0 43.5 -3.9 44.0 -4.5 45.0 -5.4 46.0 -6.0 47.0 -6.5 48.0 -6.7 49.5 -6.6 50.5 -6.3 51.5 -5.7 52.4 -5.0 53.0 -4.5 53.8 -3.5 54.5 -2.6 55.0 -1.8 55.5 -0.9 56.0 0.1 56.5 1.2 57.0 2.5 57.3 3.5 57.7 4.5 58.0 5.7 58.3 7.0 58.5 8.0 58.8 9.5 59.0 10.5 59.2 12.0 59.4 13.5 59.5 14.5 59.6 16.0 59.7 17.5 59.8 19.0 59.8 20.5 59.7 22.0 59.7 23.5 59.6 25.0 59.5 26.0 59.3 27.5 59.1 29.0 58.9 30.0 58.7 31.5 58.4 32.5 58.1 34.0 57.8 35.0 57.5 36.0 57.0 37.5 56.6 38.5 56.2 39.5 55.7 40.5 55.2 41.5 54.6 42.5 54.0 43.3 53.4 44.0 52.5 45.0 51.9 45.5 51.0 46.1 50.0 46.5 48.5 46.7 47.0 46.5 46.0 46.2 45.0 45.6 44.1 45.0 43.3 44.5 42.5 44.0 41.0 43.6 40.0 44.3 39.4 45.0 38.6 46.0 38.0 46.6 37.1 47.5 36.5 48.0 35.5 48.8 34.5 49.5 33.6 50.0 32.8 50.5 31.9 51.0 30.9 51.5 29.8 52.0 28.6 52.5 27.5 52.9 26.5 53.3 25.5 53.7 24.4 54.0 23.0 54.4 22.0 54.7 20.6 55.0 19.5 55.3 18.2 55.5 17.0 55.7 15.5 55.9 14.5 56.0Z" fill="#222" fill-opacity="0.3" fill-rule="evenodd" filter="url(#spk)"/><path d="M16.0 54.0 14.5 54.2 13.0 54.3 11.5 54.4 10.0 54.3 8.5 54.2 7.0 54.0 6.0 53.9 4.7 53.5 3.5 53.0 2.5 52.5 1.8 52.0 1.0 51.0 0.7 50.0 0.8 48.5 1.3 47.5 2.0 46.5 2.5 46.0 3.5 45.1 4.3 44.5 5.0 44.0 6.0 43.4 7.0 42.8 8.0 42.3 9.0 41.7 10.0 41.2 11.0 40.6 11.9 40.0 12.5 39.2 12.5 38.0 12.0 37.2 11.5 36.4 11.0 35.5 10.5 34.0 10.4 33.0 10.5 32.0 11.0 30.5 11.5 29.7 12.1 29.0 13.0 28.3 14.0 27.8 15.0 27.5 16.5 27.4 17.5 27.6 18.5 28.0 19.5 28.6 20.4 29.5 21.0 30.4 21.5 31.5 21.8 32.5 22.2 33.5 23.0 34.4 24.5 34.3 25.5 33.9 26.5 33.3 27.5 32.7 28.5 32.0 29.3 31.5 30.1 31.0 31.0 30.4 32.0 29.8 33.0 29.2 34.0 28.7 35.0 28.2 36.0 27.6 37.0 27.0 37.6 26.5 38.4 25.5 38.8 24.5 39.1 23.5 39.3 22.0 39.4 20.5 39.4 19.0 39.5 17.6 39.6 16.5 39.7 15.0 39.9 13.5 40.0 12.5 40.3 11.0 40.5 9.9 40.8 8.5 41.1 7.5 41.5 6.4 42.0 5.0 42.4 4.0 43.0 3.0 43.5 2.1 44.0 1.3 44.7 0.5 45.5 -0.3 46.5 -1.0 47.5 -1.4 48.5 -1.5 49.5 -1.4 50.5 -1.0 51.5 -0.3 52.3 0.5 53.0 1.3 53.5 2.1 54.0 3.0 54.6 4.0 55.0 5.0 55.5 6.4 55.9 7.5 56.2 8.5 56.5 9.9 56.7 11.0 57.0 12.5 57.1 13.5 57.3 15.0 57.5 16.5 57.5 17.5 57.6 19.0 57.6 20.5 57.5 22.0 57.5 23.0 57.4 24.5 57.2 26.0 57.0 27.5 56.8 28.5 56.5 30.0 56.3 31.0 56.0 32.1 55.6 33.5 55.2 34.5 54.8 35.5 54.4 36.5 53.9 37.5 53.2 38.5 52.5 39.5 52.0 40.1 51.0 41.0 50.0 41.5 49.0 41.8 47.5 41.7 46.5 41.3 45.5 40.6 44.8 40.0 44.0 39.0 43.5 38.3 43.0 37.5 42.2 36.5 41.5 35.8 40.5 35.3 39.3 35.5 38.4 36.0 37.5 36.7 36.6 37.5 36.0 38.2 35.5 39.1 35.2 40.5 35.4 42.0 35.5 43.0 35.4 44.0 35.0 45.0 34.4 46.0 33.5 47.0 33.0 47.5 32.0 48.3 31.0 49.0 30.2 49.5 29.3 50.0 28.3 50.5 27.2 51.0 26.0 51.5 25.0 51.9 24.0 52.2 23.0 52.5 21.5 53.0 20.5 53.2 19.1 53.5 18.0 53.7 16.5 54.0Z" fill="#000" fill-opacity="0.09" fill-rule="evenodd"/><path d="M49.5 35.1 48.0 35.3 47.0 34.8 46.2 34.0 45.5 33.0 45.0 32.0 44.5 31.0 44.1 30.0 43.8 29.0 43.5 27.7 43.3 26.5 43.2 25.0 43.2 23.5 43.2 22.0 43.2 20.5 43.3 19.0 43.5 17.5 43.6 16.5 43.9 15.0 44.1 14.0 44.5 12.7 45.0 11.5 45.5 10.5 46.0 9.7 46.6 9.0 47.5 8.4 49.0 8.2 50.0 8.7 50.9 9.5 51.5 10.4 52.0 11.4 52.4 12.5 52.7 13.5 53.0 14.5 53.3 16.0 53.5 17.3 53.6 18.5 53.7 20.0 53.8 21.5 53.7 23.0 53.6 24.5 53.5 25.5 53.3 27.0 53.0 28.5 52.8 29.5 52.5 30.5 52.0 31.7 51.5 32.8 51.0 33.7 50.3 34.5 49.5 35.1ZM16.0 50.5 14.5 50.6 13.0 50.5 12.0 50.4 10.7 50.0 9.8 49.5 9.1 48.5 9.0 48.0 9.5 46.8 10.2 46.0 11.0 45.4 12.0 44.7 13.0 44.2 14.0 43.7 15.0 43.3 16.0 43.0 17.5 42.6 18.5 42.3 20.0 42.0 21.0 41.9 22.5 41.7 24.0 41.7 25.3 42.0 26.3 42.5 27.0 43.2 27.4 44.5 27.0 45.7 26.4 46.5 25.5 47.3 24.5 48.0 23.5 48.5 22.5 49.0 21.5 49.4 20.5 49.7 19.3 50.0 18.0 50.3 16.5 50.5Z" fill="#000" fill-opacity="0.06" fill-rule="evenodd"/><path d="M16.0 54.0 15.0 54.2 14.0 54.3 13.0 54.3 12.0 54.4 11.0 54.4 10.0 54.3 9.0 54.3 8.0 54.2 7.0 54.0 6.5 54.0 5.5 53.7 4.7 53.5 4.0 53.3 3.4 53.0 2.5 52.5 2.0 52.1 1.5 51.7 1.0 51.0 0.8 50.5 0.6 49.5 0.8 48.5 1.0 48.0 1.5 47.2 2.0 46.5 2.5 46.0 3.0 45.5 3.5 45.1 4.0 44.7 4.5 44.3 5.0 44.0 5.8 43.5 6.5 43.1 7.0 42.8 7.6 42.5 8.5 42.0 9.0 41.7 9.5 41.5 10.4 41.0 11.0 40.6 11.5 40.3 12.0 39.9 12.5 39.2 12.7 38.5 12.5 38.0 12.0 37.2 11.5 36.5 11.2 36.0 11.0 35.5 10.6 34.5 10.5 34.0 10.4 33.0 10.5 32.0 10.6 31.5 11.0 30.5 11.3 30.0 11.6 29.5 12.1 29.0 12.7 28.5 13.5 28.0 14.0 27.8 15.0 27.5 15.5 27.4 16.5 27.4 17.0 27.5 18.0 27.8 18.5 28.0 19.3 28.5 19.9 29.0 20.4 29.5 20.7 30.0 21.0 30.5 21.5 31.5 21.7 32.0 22.0 33.0 22.2 33.5 22.5 34.1 23.5 34.5 24.5 34.3 25.2 34.0 26.0 33.6 26.5 33.3 27.0 33.0 27.8 32.5 28.5 32.0 29.0 31.7 29.5 31.4 30.1 31.0 30.8 30.5 31.5 30.1 32.0 29.8 32.5 29.5 33.4 29.0 34.0 28.7 34.5 28.4 35.3 28.0 36.0 27.6 36.5 27.3 37.0 27.0 37.6 26.5 38.0 26.0 38.5 25.3 38.8 24.5 39.0 24.0 39.2 23.0 39.3 22.0 39.4 21.0 39.4 20.0 39.4 19.0 39.5 18.0 39.5 17.5 39.6 16.5 39.6 15.5 39.7 14.5 39.9 13.5 40.0 12.6 40.1 12.0 40.3 11.0 40.5 10.0 40.6 9.5 40.8 8.5 41.0 8.0 41.3 7.0 41.5 6.4 41.8 5.5 42.0 5.0 42.4 4.0 42.7 3.5 43.0 2.9 43.5 2.1 43.9 1.5 44.3 1.0 44.7 0.5 45.2 0.0 45.8 -0.5 46.5 -1.0 47.0 -1.2 48.0 -1.5 48.5 -1.5 49.0 -1.5 50.0 -1.2 50.5 -1.0 51.2 -0.5 51.8 0.0 52.3 0.5 52.7 1.0 53.1 1.5 53.5 2.1 54.0 2.9 54.3 3.5 54.6 4.0 55.0 5.0 55.2 5.5 55.5 6.4 55.7 7.0 56.0 8.0 56.2 8.5 56.4 9.5 56.5 10.0 56.7 11.0 56.9 12.0 57.0 12.6 57.1 13.5 57.3 14.5 57.4 15.5 57.5 16.5 57.5 17.4 57.5 18.0 57.6 19.0 57.6 20.0 57.6 21.0 57.5 22.0 57.5 22.6 57.5 23.5 57.4 24.5 57.3 25.5 57.1 26.5 57.0 27.5 56.9 28.0 56.7 29.0 56.5 30.0 56.4 30.5 56.2 31.5 56.0 32.1 55.7 33.0 55.5 33.7 55.2 34.5 55.0 35.1 54.6 36.0 54.4 36.5 54.0 37.2 53.6 38.0 53.2 38.5 52.9 39.0 52.5 39.5 52.0 40.1 51.5 40.6 50.9 41.0 50.0 41.5 49.5 41.7 48.5 41.9 47.5 41.7 46.9 41.5 46.0 41.0 45.5 40.6 45.0 40.2 44.5 39.7 44.0 39.0 43.6 38.5 43.3 38.0 43.0 37.5 42.5 36.8 42.0 36.2 41.5 35.8 41.0 35.4 40.0 35.3 39.3 35.5 38.5 35.9 38.0 36.3 37.5 36.7 37.0 37.1 36.5 37.6 36.0 38.2 35.5 39.0 35.3 39.5 35.2 40.5 35.4 41.5 35.5 42.5 35.5 43.0 35.5 43.5 35.2 44.5 35.0 45.0 34.5 45.8 34.0 46.5 33.5 47.0 33.0 47.5 32.5 47.9 32.0 48.3 31.5 48.7 31.0 49.0 30.2 49.5 29.5 49.9 29.0 50.1 28.3 50.5 27.5 50.9 27.0 51.1 26.0 51.5 25.5 51.7 24.6 52.0 24.0 52.2 23.1 52.5 22.5 52.7 21.5 53.0 21.0 53.1 20.0 53.3 19.1 53.5 18.5 53.6 17.5 53.8 16.5 54.0 16.0 54.0ZM49.0 38.0 48.0 38.0 47.5 37.9 46.8 37.5 46.2 37.0 45.7 36.5 45.3 36.0 44.9 35.5 44.5 34.9 44.0 34.0 43.7 33.5 43.3 33.0 43.0 32.5 42.5 31.8 42.0 31.1 41.6 30.5 41.3 30.0 41.0 29.0 41.0 28.5 41.0 27.6 41.0 27.0 41.2 26.0 41.3 25.0 41.3 24.0 41.4 23.0 41.4 22.0 41.4 21.0 41.5 20.0 41.5 19.1 41.5 18.5 41.6 17.5 41.7 16.5 41.8 15.5 41.9 14.5 42.0 13.9 42.2 13.0 42.4 12.0 42.5 11.5 42.8 10.5 43.0 9.8 43.3 9.0 43.5 8.4 43.9 7.5 44.2 7.0 44.5 6.4 45.0 5.7 45.5 5.0 46.0 4.5 46.5 4.1 47.0 3.8 47.9 3.5 48.5 3.4 49.1 3.5 50.0 3.8 50.5 4.1 51.0 4.5 51.5 5.0 52.0 5.7 52.5 6.4 52.8 7.0 53.1 7.5 53.5 8.4 53.7 9.0 54.0 9.8 54.2 10.5 54.5 11.5 54.6 12.0 54.8 13.0 55.0 13.9 55.1 14.5 55.2 15.5 55.3 16.5 55.4 17.5 55.5 18.5 55.5 19.1 55.5 20.0 55.5 21.0 55.5 21.5 55.5 22.5 55.4 23.5 55.3 24.5 55.2 25.5 55.0 26.5 54.9 27.0 54.8 28.0 54.5 29.0 54.4 29.5 54.1 30.5 54.0 31.0 53.7 32.0 53.5 32.5 53.1 33.5 52.9 34.0 52.5 34.7 52.0 35.5 51.7 36.0 51.3 36.5 50.8 37.0 50.2 37.5 49.5 37.9 49.0 38.0ZM17.5 52.1 16.5 52.2 15.5 52.3 14.5 52.4 13.5 52.5 12.5 52.5 11.5 52.4 10.5 52.3 9.5 52.2 8.6 52.0 8.0 51.8 7.1 51.5 6.5 51.2 6.0 50.9 5.5 50.4 5.0 49.6 4.8 49.0 5.0 48.0 5.2 47.5 5.5 47.0 6.0 46.4 6.5 45.9 7.0 45.4 7.6 45.0 8.3 44.5 9.0 44.1 9.5 43.8 10.0 43.5 11.0 43.0 11.5 42.8 12.1 42.5 13.0 42.1 13.5 41.9 14.5 41.5 15.0 41.3 15.9 41.0 16.5 40.8 17.5 40.5 18.0 40.3 19.0 40.1 19.5 39.9 20.5 39.7 21.3 39.5 22.0 39.3 23.0 39.0 23.5 38.9 24.5 38.6 25.0 38.4 26.0 38.0 26.5 37.8 27.1 37.5 28.0 37.0 28.5 36.6 29.0 36.3 29.5 35.9 30.0 35.5 30.7 35.0 31.4 34.5 32.0 34.2 32.5 34.0 33.5 33.9 33.6 34.5 33.2 35.0 32.8 35.5 32.3 36.0 31.8 36.5 31.4 37.0 31.0 37.5 30.5 38.5 30.4 39.0 30.5 40.0 30.6 40.5 30.9 41.5 31.1 42.0 31.4 43.0 31.4 44.0 31.1 45.0 30.9 45.5 30.5 46.1 30.0 46.7 29.5 47.2 29.0 47.6 28.4 48.0 27.7 48.5 27.0 48.9 26.5 49.2 25.9 49.5 25.0 49.9 24.5 50.1 23.5 50.5 23.0 50.7 22.0 51.0 21.5 51.2 20.5 51.4 20.0 51.6 19.0 51.8 18.0 52.0 17.5 52.1ZM49.5 35.1 48.5 35.4 47.5 35.1 47.0 34.8 46.5 34.3 46.0 33.7 45.5 33.0 45.2 32.5 45.0 32.0 44.5 31.0 44.3 30.5 44.0 29.6 43.8 29.0 43.6 28.0 43.5 27.5 43.3 26.5 43.2 25.5 43.2 24.5 43.2 23.5 43.2 22.5 43.2 21.5 43.2 20.5 43.3 19.5 43.4 18.5 43.5 17.5 43.5 17.0 43.7 16.0 43.9 15.0 44.0 14.5 44.3 13.5 44.5 12.7 44.8 12.0 45.0 11.4 45.5 10.5 45.8 10.0 46.1 9.5 46.6 9.0 47.3 8.5 48.0 8.2 49.0 8.2 49.7 8.5 50.4 9.0 50.9 9.5 51.2 10.0 51.5 10.5 52.0 11.4 52.2 12.0 52.5 12.7 52.7 13.5 53.0 14.5 53.1 15.0 53.3 16.0 53.5 17.0 53.5 17.5 53.6 18.5 53.7 19.5 53.7 20.5 53.8 21.5 53.7 22.5 53.7 23.5 53.6 24.5 53.5 25.5 53.4 26.0 53.3 27.0 53.1 28.0 53.0 28.5 52.8 29.5 52.5 30.3 52.3 31.0 52.0 31.7 51.7 32.5 51.4 33.0 51.0 33.7 50.5 34.3 50.0 34.8 49.5 35.1ZM16.0 50.5 15.0 50.6 14.0 50.6 13.0 50.5 12.5 50.4 11.5 50.2 10.7 50.0 10.0 49.6 9.5 49.2 9.1 48.5 9.0 48.0 9.1 47.5 9.5 46.8 10.0 46.2 10.5 45.7 11.0 45.4 11.5 45.0 12.4 44.5 13.0 44.2 13.5 44.0 14.5 43.5 15.0 43.3 16.0 43.0 16.5 42.8 17.5 42.6 18.0 42.4 19.0 42.2 20.0 42.0 20.5 41.9 21.5 41.8 22.5 41.7 23.5 41.7 24.5 41.8 25.3 42.0 26.0 42.3 26.5 42.7 27.0 43.2 27.4 44.0 27.3 45.0 27.0 45.7 26.5 46.4 26.0 46.9 25.5 47.3 25.0 47.7 24.5 48.0 23.5 48.5 23.0 48.8 22.4 49.0 21.5 49.4 21.0 49.5 20.0 49.8 19.3 50.0 18.5 50.2 17.5 50.3 16.5 50.5 16.0 50.5ZM49.0 33.1 48.0 33.1 47.5 32.8 47.0 32.4 46.5 31.8 46.0 31.0 45.8 30.5 45.5 29.8 45.2 29.0 45.0 28.1 44.9 27.5 44.7 26.5 44.6 25.5 44.5 24.5 44.5 23.5 44.5 22.5 44.6 21.5 44.7 20.5 44.8 19.5 45.0 18.5 45.1 18.0 45.3 17.0 45.5 16.4 45.8 15.5 46.0 15.0 46.5 14.1 47.0 13.5 47.5 13.0 48.0 12.8 49.0 12.8 49.5 13.0 50.0 13.5 50.5 14.1 51.0 15.0 51.2 15.5 51.5 16.3 51.7 17.0 51.9 18.0 52.0 18.5 52.2 19.5 52.3 20.5 52.4 21.5 52.4 22.5 52.4 23.5 52.4 24.5 52.3 25.5 52.2 26.5 52.0 27.5 51.9 28.0 51.7 29.0 51.5 29.5 51.1 30.5 50.9 31.0 50.5 31.7 50.0 32.4 49.5 32.8 49.0 33.1ZM17.5 48.0 16.5 48.0 15.9 48.0 15.0 47.7 14.6 47.0 15.0 46.3 15.5 45.9 16.2 45.5 17.0 45.2 17.5 45.0 18.5 44.8 19.5 44.6 20.5 44.7 21.5 44.9 21.9 45.5 21.5 46.4 21.0 46.8 20.5 47.1 19.7 47.5 19.0 47.7 18.0 47.9 17.5 48.0ZM49.0 31.0 48.0 31.1 47.5 30.7 47.0 30.1 46.6 29.5 46.4 29.0 46.1 28.0 45.9 27.5 45.7 26.5 45.6 25.5 45.6 24.5 45.6 23.5 45.6 22.5 45.7 21.5 45.9 20.5 46.0 19.9 46.3 19.0 46.5 18.3 46.9 17.5 47.3 17.0 47.8 16.5 48.5 16.2 49.2 16.5 49.7 17.0 50.1 17.5 50.5 18.3 50.7 19.0 51.0 20.0 51.1 20.5 51.3 21.5 51.4 22.5 51.4 23.5 51.4 24.5 51.3 25.5 51.2 26.5 51.0 27.5 50.9 28.0 50.5 29.0 50.3 29.5 50.0 30.1 49.5 30.7 49.0 31.0ZM49.0 29.3 48.0 29.3 47.5 28.8 47.0 28.0 46.9 27.5 46.6 26.5 46.5 26.0 46.4 25.0 46.4 24.0 46.4 23.0 46.5 22.3 46.7 21.5 46.9 20.5 47.1 20.0 47.5 19.4 48.0 18.9 49.0 18.9 49.5 19.4 49.9 20.0 50.1 20.5 50.3 21.5 50.5 22.4 50.6 23.0 50.6 24.0 50.6 25.0 50.5 25.7 50.4 26.5 50.1 27.5 49.9 28.0 49.5 28.8 49.0 29.3ZM48.5 27.7 48.0 27.4 47.5 26.6 47.3 26.0 47.2 25.0 47.2 24.0 47.3 23.0 47.5 22.0 47.7 21.5 48.2 21.0 48.8 21.0 49.3 21.5 49.5 22.0 49.7 23.0 49.8 24.0 49.8 25.0 49.6 26.0 49.5 26.5 49.0 27.4 48.5 27.7Z" fill="none" stroke="#333" stroke-width="0.3"/><ellipse cx="48.5" cy="25" rx="5.4" ry="8.2" transform="rotate(0 48.5 25)" fill="#333" fill-opacity="0.6" filter="url(#spk)"/><ellipse cx="48.5" cy="25" rx="3.2" ry="6.0" transform="rotate(0 48.5 25)" fill="none" stroke="#333" stroke-width="0.5"/><ellipse cx="48.5" cy="25" rx="2.2" ry="5.0" transform="rotate(0 48.5 25)" fill="none" stroke="#111" stroke-width="1.4"/></g></g>
<clipPath id="cp13"><rect x="0.7" y="0.7" width="58.4" height="58.5"/></clipPath>
<g transform="translate(402.60 256.20)"><g clip-path="url(#cp13)"><path d="M11.5 57.1 10.0 57.3 8.5 57.4 7.0 57.4 5.5 57.3 4.1 57.0 3.0 56.7 2.0 56.2 1.0 55.5 0.5 55.0 -0.1 54.0 -0.5 52.7 -0.5 51.5 -0.4 50.5 0.0 49.4 0.5 48.4 1.0 47.5 1.7 46.5 2.5 45.5 3.0 44.9 3.9 44.0 4.5 43.4 5.5 42.5 6.0 42.0 7.0 41.2 7.9 40.5 8.6 40.0 9.5 39.3 10.5 38.5 11.2 38.0 12.0 37.4 13.0 36.6 13.7 36.0 14.5 35.2 15.2 34.5 16.0 33.6 16.5 33.0 17.3 32.0 18.0 31.2 18.6 30.5 19.5 29.6 20.1 29.0 21.0 28.2 21.8 27.5 22.5 27.0 23.5 26.3 24.5 25.6 25.5 25.0 26.3 24.5 27.2 24.0 28.0 23.5 29.0 22.9 30.0 22.3 31.0 21.5 31.6 21.0 32.5 20.1 33.1 19.5 33.8 18.5 34.4 17.5 35.0 16.5 35.4 15.5 35.6 14.5 35.5 13.0 35.6 11.5 35.9 10.0 36.3 9.0 37.0 8.0 37.5 7.5 38.5 6.6 39.5 6.0 40.5 5.6 41.5 5.2 42.5 5.0 44.0 4.8 45.5 4.8 47.0 5.0 48.0 5.2 49.0 5.6 50.0 6.0 51.0 6.7 52.0 7.5 52.5 8.1 53.1 9.0 53.6 10.0 53.9 11.5 54.0 13.0 54.0 14.0 54.3 15.5 54.6 16.5 55.0 17.5 55.5 19.0 55.8 20.0 56.0 21.2 56.2 22.5 56.3 24.0 56.3 25.5 56.2 27.0 56.1 28.5 55.9 29.5 55.5 30.9 55.2 32.0 54.8 33.0 54.3 34.0 53.8 35.0 53.2 36.0 52.5 36.9 52.0 37.5 51.0 38.5 50.3 39.0 49.5 39.6 48.5 40.1 47.4 40.5 46.0 40.8 44.5 40.9 43.0 40.7 42.0 40.5 40.6 40.0 39.5 39.6 38.5 39.3 37.0 39.2 36.0 39.9 35.5 40.6 35.0 41.5 34.5 42.5 33.9 43.5 33.2 44.5 32.5 45.4 32.0 46.0 31.1 47.0 30.5 47.7 29.6 48.5 29.0 49.0 28.0 49.8 27.1 50.5 26.4 51.0 25.5 51.6 24.5 52.2 23.5 52.8 22.5 53.3 21.5 53.8 20.5 54.3 19.5 54.7 18.5 55.2 17.5 55.5 16.0 56.0 15.0 56.3 14.0 56.6 12.5 56.9 11.5 57.1ZM12.5 55.6 11.0 55.8 9.5 55.9 8.0 55.9 6.5 55.7 5.5 55.5 4.3 55.0 3.5 54.5 2.5 53.5 2.0 52.6 1.8 51.5 1.9 50.0 2.2 49.0 2.7 48.0 3.3 47.0 4.0 46.1 4.5 45.4 5.4 44.5 6.0 43.9 7.0 43.0 7.6 42.5 8.5 41.7 9.5 41.0 10.2 40.5 11.0 39.9 12.0 39.2 13.0 38.6 13.8 38.0 14.6 37.5 15.5 36.8 16.5 36.0 17.1 35.5 18.0 34.6 18.6 34.0 19.5 33.0 20.0 32.5 20.9 31.5 21.5 30.8 22.3 30.0 23.0 29.3 24.0 28.5 24.6 28.0 25.5 27.3 26.5 26.5 27.3 26.0 28.0 25.5 29.0 24.9 30.0 24.2 31.0 23.5 31.7 23.0 32.5 22.4 33.5 21.5 34.0 21.0 34.8 20.0 35.5 19.0 36.0 18.2 36.5 17.4 37.0 16.2 37.0 15.0 36.8 14.0 36.5 12.5 36.5 11.5 36.6 10.5 37.0 9.4 37.6 8.5 38.5 7.5 39.2 7.0 40.0 6.5 41.1 6.0 42.5 5.6 43.5 5.4 45.0 5.4 46.3 5.5 47.5 5.7 48.5 6.1 49.5 6.5 50.5 7.2 51.4 8.0 52.0 8.7 52.5 9.6 52.9 11.0 53.0 12.5 52.8 14.0 52.6 15.5 52.9 17.0 53.3 18.0 53.7 19.0 54.0 20.0 54.4 21.5 54.5 22.5 54.7 24.0 54.7 25.5 54.6 27.0 54.4 28.0 54.1 29.5 53.8 30.5 53.5 31.5 53.0 32.6 52.5 33.6 51.9 34.5 51.1 35.5 50.5 36.2 49.5 37.0 48.7 37.5 47.7 38.0 46.5 38.4 45.5 38.6 44.0 38.5 43.0 38.4 41.9 38.0 40.8 37.5 40.0 37.0 39.0 36.4 38.0 35.6 37.0 35.1 36.0 34.9 35.0 35.3 34.2 36.0 33.6 37.0 33.3 38.0 33.0 39.5 32.8 40.5 32.5 41.7 32.0 43.0 31.5 43.9 31.0 44.7 30.4 45.5 29.6 46.5 29.0 47.1 28.1 48.0 27.5 48.5 26.5 49.3 25.6 50.0 24.9 50.5 24.0 51.1 23.0 51.7 22.0 52.2 21.0 52.8 20.0 53.2 19.0 53.7 18.0 54.0 16.7 54.5 15.5 54.9 14.5 55.2 13.0 55.5Z" fill="#222" fill-opacity="0.95" fill-rule="evenodd" filter="url(#spk)"/><path d="M10.0 58.5 8.5 58.7 7.0 58.8 5.5 58.7 4.0 58.6 3.0 58.4 1.6 58.0 0.5 57.5 -0.4 57.0 -1.0 56.5 -1.8 55.5 -2.3 54.5 -2.6 53.5 -2.6 52.0 -2.4 51.0 -2.0 49.9 -1.5 48.8 -1.0 47.9 -0.4 47.0 0.3 46.0 1.0 45.2 1.6 44.5 2.5 43.6 3.1 43.0 4.0 42.2 4.8 41.5 5.5 40.9 6.5 40.0 7.1 39.5 8.0 38.8 8.9 38.0 9.5 37.5 10.5 36.6 11.1 36.0 11.9 35.0 12.5 34.3 13.0 33.5 13.7 32.5 14.4 31.5 15.0 30.6 15.5 29.9 16.2 29.0 17.0 28.1 17.6 27.5 18.5 26.7 19.3 26.0 20.0 25.5 21.0 24.8 22.0 24.2 23.0 23.7 24.0 23.2 25.0 22.8 26.0 22.3 27.0 21.9 28.0 21.4 29.0 20.8 30.0 20.2 30.8 19.5 31.5 18.8 32.1 18.0 32.8 17.0 33.4 16.0 33.9 15.0 34.3 14.0 34.5 12.7 34.6 11.5 35.0 10.2 35.5 9.0 36.0 8.2 36.5 7.5 37.5 6.6 38.3 6.0 39.1 5.5 40.2 5.0 41.5 4.6 42.5 4.3 44.0 4.2 45.5 4.2 47.0 4.3 48.0 4.6 49.2 5.0 50.3 5.5 51.2 6.0 52.0 6.6 52.9 7.5 53.5 8.2 54.0 9.0 54.5 10.1 54.9 11.5 55.1 12.5 55.4 14.0 55.7 15.0 56.1 16.0 56.5 17.2 56.9 18.5 57.2 19.5 57.4 21.0 57.6 22.0 57.7 23.5 57.8 25.0 57.7 26.5 57.6 28.0 57.4 29.0 57.2 30.5 56.9 31.5 56.5 32.8 56.0 34.0 55.6 35.0 55.1 36.0 54.5 36.9 54.0 37.7 53.4 38.5 52.5 39.5 51.9 40.0 51.0 40.8 50.0 41.4 49.0 42.0 48.0 42.4 47.0 42.7 45.5 42.9 44.0 42.9 42.5 42.7 41.5 42.4 40.0 42.1 39.0 42.0 38.0 42.1 37.0 42.6 36.0 43.5 35.5 44.0 34.7 45.0 34.0 45.8 33.4 46.5 32.5 47.4 31.9 48.0 31.0 48.9 30.3 49.5 29.5 50.1 28.5 50.9 27.6 51.5 26.9 52.0 26.0 52.6 25.0 53.2 24.0 53.7 23.0 54.3 22.0 54.8 21.0 55.2 20.0 55.7 19.0 56.1 17.9 56.5 16.5 57.0 15.5 57.3 14.5 57.6 13.0 58.0 12.0 58.2 10.5 58.4ZM11.5 57.1 10.0 57.3 8.5 57.4 7.0 57.4 5.5 57.3 4.1 57.0 3.0 56.7 2.0 56.2 1.0 55.5 0.5 55.0 -0.1 54.0 -0.5 52.7 -0.5 51.5 -0.4 50.5 0.0 49.4 0.5 48.4 1.0 47.5 1.7 46.5 2.5 45.5 3.0 44.9 3.9 44.0 4.5 43.4 5.5 42.5 6.0 42.0 7.0 41.2 7.9 40.5 8.6 40.0 9.5 39.3 10.5 38.5 11.2 38.0 12.0 37.4 13.0 36.6 13.7 36.0 14.5 35.2 15.2 34.5 16.0 33.6 16.5 33.0 17.3 32.0 18.0 31.2 18.6 30.5 19.5 29.6 20.1 29.0 21.0 28.2 21.8 27.5 22.5 27.0 23.5 26.3 24.5 25.6 25.5 25.0 26.3 24.5 27.2 24.0 28.0 23.5 29.0 22.9 30.0 22.3 31.0 21.5 31.6 21.0 32.5 20.1 33.1 19.5 33.8 18.5 34.4 17.5 35.0 16.5 35.4 15.5 35.6 14.5 35.5 13.0 35.6 11.5 35.9 10.0 36.3 9.0 37.0 8.0 37.5 7.5 38.5 6.6 39.5 6.0 40.5 5.6 41.5 5.2 42.5 5.0 44.0 4.8 45.5 4.8 47.0 5.0 48.0 5.2 49.0 5.6 50.0 6.0 51.0 6.7 52.0 7.5 52.5 8.1 53.1 9.0 53.6 10.0 53.9 11.5 54.0 13.0 54.0 14.0 54.3 15.5 54.6 16.5 55.0 17.5 55.5 19.0 55.8 20.0 56.0 21.2 56.2 22.5 56.3 24.0 56.3 25.5 56.2 27.0 56.1 28.5 55.9 29.5 55.5 30.9 55.2 32.0 54.8 33.0 54.3 34.0 53.8 35.0 53.2 36.0 52.5 36.9 52.0 37.5 51.0 38.5 50.3 39.0 49.5 39.6 48.5 40.1 47.4 40.5 46.0 40.8 44.5 40.9 43.0 40.7 42.0 40.5 40.6 40.0 39.5 39.6 38.5 39.3 37.0 39.2 36.0 39.9 35.5 40.6 35.0 41.5 34.5 42.5 33.9 43.5 33.2 44.5 32.5 45.4 32.0 46.0 31.1 47.0 30.5 47.7 29.6 48.5 29.0 49.0 28.0 49.8 27.1 50.5 26.4 51.0 25.5 51.6 24.5 52.2 23.5 52.8 22.5 53.3 21.5 53.8 20.5 54.3 19.5 54.7 18.5 55.2 17.5 55.5 16.0 56.0 15.0 56.3 14.0 56.6 12.5 56.9 11.5 57.1Z" fill="#222" fill-opacity="0.6" fill-rule="evenodd" filter="url(#spk)"/><path d="M9.5 60.0 8.0 60.2 6.5 60.3 5.0 60.3 3.5 60.3 2.0 60.1 1.0 59.9 -0.2 59.5 -1.4 59.0 -2.3 58.5 -3.0 58.0 -3.9 57.0 -4.5 56.0 -4.9 55.0 -5.0 54.0 -5.0 52.9 -4.8 51.5 -4.4 50.5 -4.0 49.5 -3.5 48.5 -2.8 47.5 -2.1 46.5 -1.5 45.7 -0.9 45.0 -0.0 44.0 0.5 43.5 1.5 42.5 2.0 42.0 3.0 41.1 3.6 40.5 4.5 39.7 5.2 39.0 6.0 38.3 6.7 37.5 7.5 36.6 8.0 35.9 8.6 35.0 9.2 34.0 9.7 33.0 10.2 32.0 10.8 31.0 11.4 30.0 12.0 29.0 12.5 28.4 13.2 27.5 14.0 26.5 14.5 26.0 15.5 25.0 16.1 24.5 17.0 23.7 17.9 23.0 18.7 22.5 19.5 21.9 20.5 21.4 21.5 20.8 22.5 20.3 23.5 19.9 24.6 19.5 26.0 19.0 27.0 18.6 28.0 18.2 29.0 17.7 29.9 17.0 30.5 16.4 31.2 15.5 31.9 14.5 32.5 13.5 33.0 12.5 33.3 11.5 33.6 10.5 34.1 9.5 34.6 8.5 35.3 7.5 36.0 6.7 36.8 6.0 37.5 5.5 38.5 4.9 39.5 4.4 40.6 4.0 42.0 3.6 43.0 3.4 44.5 3.3 46.0 3.4 47.0 3.5 48.5 3.8 49.5 4.1 50.5 4.6 51.5 5.1 52.5 5.8 53.3 6.5 54.0 7.2 54.6 8.0 55.2 9.0 55.7 10.0 56.1 11.0 56.5 12.2 57.0 13.5 57.4 14.5 57.8 15.5 58.1 16.5 58.5 17.8 58.8 19.0 59.0 20.0 59.2 21.5 59.4 23.0 59.5 24.5 59.4 26.0 59.4 27.5 59.2 29.0 59.0 30.0 58.7 31.5 58.4 32.5 58.0 33.8 57.6 35.0 57.1 36.0 56.6 37.0 56.1 38.0 55.5 38.9 55.0 39.6 54.3 40.5 53.5 41.4 52.8 42.0 52.0 42.7 51.0 43.4 50.0 44.0 49.0 44.4 48.0 44.8 47.0 45.0 45.5 45.2 44.0 45.2 42.5 45.0 41.5 44.9 40.0 44.6 38.5 44.7 37.5 45.1 36.5 45.8 35.7 46.5 35.0 47.1 34.1 48.0 33.5 48.5 32.5 49.4 31.8 50.0 31.0 50.7 30.0 51.4 29.2 52.0 28.5 52.5 27.5 53.1 26.5 53.8 25.5 54.3 24.5 54.9 23.5 55.4 22.5 55.9 21.5 56.4 20.5 56.8 19.5 57.3 18.5 57.6 17.5 58.0 16.0 58.5 15.0 58.8 14.0 59.1 12.5 59.5 11.5 59.7 10.0 59.9ZM10.0 58.5 8.5 58.7 7.0 58.8 5.5 58.7 4.0 58.6 3.0 58.4 1.6 58.0 0.5 57.5 -0.4 57.0 -1.0 56.5 -1.8 55.5 -2.3 54.5 -2.6 53.5 -2.6 52.0 -2.4 51.0 -2.0 49.9 -1.5 48.8 -1.0 47.9 -0.4 47.0 0.3 46.0 1.0 45.2 1.6 44.5 2.5 43.6 3.1 43.0 4.0 42.2 4.8 41.5 5.5 40.9 6.5 40.0 7.1 39.5 8.0 38.8 8.9 38.0 9.5 37.5 10.5 36.6 11.1 36.0 11.9 35.0 12.5 34.3 13.0 33.5 13.7 32.5 14.4 31.5 15.0 30.6 15.5 29.9 16.2 29.0 17.0 28.1 17.6 27.5 18.5 26.7 19.3 26.0 20.0 25.5 21.0 24.8 22.0 24.2 23.0 23.7 24.0 23.2 25.0 22.8 26.0 22.3 27.0 21.9 28.0 21.4 29.0 20.8 30.0 20.2 30.8 19.5 31.5 18.8 32.1 18.0 32.8 17.0 33.4 16.0 33.9 15.0 34.3 14.0 34.5 12.7 34.6 11.5 35.0 10.2 35.5 9.0 36.0 8.2 36.5 7.5 37.5 6.6 38.3 6.0 39.1 5.5 40.2 5.0 41.5 4.6 42.5 4.3 44.0 4.2 45.5 4.2 47.0 4.3 48.0 4.6 49.2 5.0 50.3 5.5 51.2 6.0 52.0 6.6 52.9 7.5 53.5 8.2 54.0 9.0 54.5 10.1 54.9 11.5 55.1 12.5 55.4 14.0 55.7 15.0 56.1 16.0 56.5 17.2 56.9 18.5 57.2 19.5 57.4 21.0 57.6 22.0 57.7 23.5 57.8 25.0 57.7 26.5 57.6 28.0 57.4 29.0 57.2 30.5 56.9 31.5 56.5 32.8 56.0 34.0 55.6 35.0 55.1 36.0 54.5 36.9 54.0 37.7 53.4 38.5 52.5 39.5 51.9 40.0 51.0 40.8 50.0 41.4 49.0 42.0 48.0 42.4 47.0 42.7 45.5 42.9 44.0 42.9 42.5 42.7 41.5 42.4 40.0 42.1 39.0 42.0 38.0 42.1 37.0 42.6 36.0 43.5 35.5 44.0 34.7 45.0 34.0 45.8 33.4 46.5 32.5 47.4 31.9 48.0 31.0 48.9 30.3 49.5 29.5 50.1 28.5 50.9 27.6 51.5 26.9 52.0 26.0 52.6 25.0 53.2 24.0 53.7 23.0 54.3 22.0 54.8 21.0 55.2 20.0 55.7 19.0 56.1 17.9 56.5 16.5 57.0 15.5 57.3 14.5 57.6 13.0 58.0 12.0 58.2 10.5 58.4Z" fill="#222" fill-opacity="0.3" fill-rule="evenodd" filter="url(#spk)"/><path d="M12.5 55.6 11.0 55.8 9.5 55.9 8.0 55.9 6.5 55.7 5.5 55.5 4.3 55.0 3.5 54.5 2.5 53.5 2.0 52.6 1.8 51.5 1.9 50.0 2.2 49.0 2.7 48.0 3.3 47.0 4.0 46.1 4.5 45.4 5.4 44.5 6.0 43.9 7.0 43.0 7.6 42.5 8.5 41.7 9.5 41.0 10.2 40.5 11.0 39.9 12.0 39.2 13.0 38.6 13.8 38.0 14.6 37.5 15.5 36.8 16.5 36.0 17.1 35.5 18.0 34.6 18.6 34.0 19.5 33.0 20.0 32.5 20.9 31.5 21.5 30.8 22.3 30.0 23.0 29.3 24.0 28.5 24.6 28.0 25.5 27.3 26.5 26.5 27.3 26.0 28.0 25.5 29.0 24.9 30.0 24.2 31.0 23.5 31.7 23.0 32.5 22.4 33.5 21.5 34.0 21.0 34.8 20.0 35.5 19.0 36.0 18.2 36.5 17.4 37.0 16.2 37.0 15.0 36.8 14.0 36.5 12.5 36.5 11.5 36.6 10.5 37.0 9.4 37.6 8.5 38.5 7.5 39.2 7.0 40.0 6.5 41.1 6.0 42.5 5.6 43.5 5.4 45.0 5.4 46.3 5.5 47.5 5.7 48.5 6.1 49.5 6.5 50.5 7.2 51.4 8.0 52.0 8.7 52.5 9.6 52.9 11.0 53.0 12.5 52.8 14.0 52.6 15.5 52.9 17.0 53.3 18.0 53.7 19.0 54.0 20.0 54.4 21.5 54.5 22.5 54.7 24.0 54.7 25.5 54.6 27.0 54.4 28.0 54.1 29.5 53.8 30.5 53.5 31.5 53.0 32.6 52.5 33.6 51.9 34.5 51.1 35.5 50.5 36.2 49.5 37.0 48.7 37.5 47.7 38.0 46.5 38.4 45.5 38.6 44.0 38.5 43.0 38.4 41.9 38.0 40.8 37.5 40.0 37.0 39.0 36.4 38.0 35.6 37.0 35.1 36.0 34.9 35.0 35.3 34.2 36.0 33.6 37.0 33.3 38.0 33.0 39.5 32.8 40.5 32.5 41.7 32.0 43.0 31.5 43.9 31.0 44.7 30.4 45.5 29.6 46.5 29.0 47.1 28.1 48.0 27.5 48.5 26.5 49.3 25.6 50.0 24.9 50.5 24.0 51.1 23.0 51.7 22.0 52.2 21.0 52.8 20.0 53.2 19.0 53.7 18.0 54.0 16.7 54.5 15.5 54.9 14.5 55.2 13.0 55.5Z" fill="#000" fill-opacity="0.09" fill-rule="evenodd"/><path d="M45.5 16.1 44.0 16.1 43.0 15.8 42.0 15.4 41.0 14.8 40.1 14.0 39.5 13.1 39.1 12.0 39.2 10.5 39.7 9.5 40.5 8.6 41.4 8.0 42.5 7.5 43.5 7.3 45.0 7.2 46.5 7.4 47.5 7.7 48.5 8.3 49.4 9.0 50.0 9.9 50.4 11.0 50.2 12.5 49.7 13.5 49.0 14.3 48.2 15.0 47.3 15.5 46.0 16.0ZM46.0 27.6 44.5 28.0 43.5 27.5 42.6 26.5 42.2 25.5 42.1 24.0 42.5 22.9 43.3 22.0 44.5 21.5 45.9 22.0 46.5 22.7 47.0 24.0 47.1 25.0 47.0 26.0 46.5 27.0ZM16.0 49.5 14.5 49.8 13.0 49.7 12.0 49.4 11.2 48.5 11.3 47.0 11.9 46.0 12.5 45.3 13.4 44.5 14.0 44.0 15.0 43.4 16.0 42.8 17.0 42.3 18.0 41.9 19.3 41.5 20.5 41.3 22.0 41.4 22.9 42.0 23.3 43.0 23.1 44.5 22.5 45.5 22.0 46.1 21.1 47.0 20.4 47.5 19.5 48.1 18.5 48.6 17.5 49.1 16.2 49.5Z" fill="#000" fill-opacity="0.06" fill-rule="evenodd"/><path d="M12.5 55.6 11.5 55.7 10.5 55.8 9.5 55.9 8.5 55.9 7.5 55.8 6.5 55.7 5.7 55.5 5.0 55.3 4.3 55.0 3.5 54.5 3.0 54.1 2.5 53.5 2.2 53.0 2.0 52.5 1.8 51.5 1.8 50.5 2.0 49.7 2.2 49.0 2.5 48.4 3.0 47.5 3.3 47.0 3.7 46.5 4.0 46.0 4.5 45.4 5.0 44.9 5.5 44.4 6.0 43.9 6.5 43.4 7.0 43.0 7.6 42.5 8.2 42.0 8.8 41.5 9.5 41.0 10.0 40.6 10.5 40.3 11.0 39.9 11.6 39.5 12.4 39.0 13.0 38.6 13.5 38.2 14.0 37.9 14.6 37.5 15.3 37.0 15.9 36.5 16.5 36.0 17.0 35.6 17.5 35.1 18.0 34.6 18.5 34.1 19.0 33.6 19.5 33.0 20.0 32.5 20.4 32.0 20.9 31.5 21.3 31.0 21.8 30.5 22.3 30.0 22.8 29.5 23.4 29.0 24.0 28.5 24.5 28.1 25.0 27.7 25.5 27.3 26.0 26.9 26.6 26.5 27.3 26.0 28.0 25.5 28.5 25.2 29.0 24.9 29.6 24.5 30.3 24.0 31.0 23.5 31.5 23.2 32.0 22.8 32.5 22.4 33.0 22.0 33.5 21.5 34.0 21.0 34.5 20.4 35.0 19.7 35.5 19.0 35.8 18.5 36.1 18.0 36.5 17.4 36.9 16.5 37.0 16.0 37.0 15.0 36.9 14.5 36.7 13.5 36.5 12.5 36.5 12.0 36.5 11.2 36.6 10.5 37.0 9.5 37.2 9.0 37.6 8.5 38.0 8.0 38.5 7.5 39.2 7.0 40.0 6.5 40.5 6.2 41.1 6.0 42.0 5.7 43.0 5.5 43.5 5.4 44.5 5.4 45.5 5.4 46.3 5.5 47.0 5.6 48.0 5.9 48.5 6.1 49.4 6.5 50.0 6.8 50.5 7.2 51.0 7.6 51.5 8.1 52.0 8.7 52.5 9.5 52.7 10.0 52.9 11.0 53.0 12.0 52.9 13.0 52.8 14.0 52.6 15.0 52.6 16.0 52.9 17.0 53.1 17.5 53.5 18.5 53.7 19.0 54.0 20.0 54.1 20.5 54.4 21.5 54.5 22.4 54.6 23.0 54.7 24.0 54.7 25.0 54.7 26.0 54.6 27.0 54.5 27.6 54.4 28.5 54.1 29.5 54.0 30.0 53.7 31.0 53.5 31.5 53.1 32.5 52.8 33.0 52.5 33.6 52.0 34.4 51.5 35.0 51.1 35.5 50.7 36.0 50.1 36.5 49.5 37.0 49.0 37.3 48.5 37.6 47.7 38.0 47.0 38.3 46.0 38.5 45.5 38.6 44.5 38.6 43.8 38.5 43.0 38.4 42.0 38.0 41.5 37.8 40.8 37.5 40.0 37.0 39.5 36.7 39.0 36.4 38.5 36.0 37.8 35.5 37.0 35.1 36.5 35.0 35.8 35.0 35.0 35.3 34.5 35.7 34.0 36.3 33.6 37.0 33.4 37.5 33.2 38.5 33.0 39.5 32.9 40.0 32.7 41.0 32.5 41.7 32.2 42.5 32.0 43.0 31.5 43.9 31.2 44.5 30.8 45.0 30.4 45.5 30.0 46.0 29.5 46.6 29.0 47.1 28.5 47.6 28.0 48.1 27.5 48.5 26.9 49.0 26.3 49.5 25.6 50.0 25.0 50.4 24.5 50.8 24.0 51.1 23.3 51.5 22.5 52.0 22.0 52.2 21.5 52.5 20.5 53.0 20.0 53.2 19.3 53.5 18.5 53.9 18.0 54.0 17.0 54.4 16.5 54.6 15.5 54.9 15.0 55.0 14.0 55.3 13.0 55.5 12.5 55.6ZM12.0 53.0 11.0 53.0 10.5 53.0 9.5 52.9 8.5 52.6 8.0 52.4 7.3 52.0 6.8 51.5 6.5 51.0 6.2 50.0 6.2 49.0 6.5 48.2 6.8 47.5 7.1 47.0 7.5 46.4 8.0 45.7 8.5 45.2 9.0 44.6 9.5 44.2 10.0 43.7 10.5 43.3 11.0 42.9 11.6 42.5 12.3 42.0 13.0 41.5 13.5 41.2 14.0 40.9 14.7 40.5 15.5 40.0 16.0 39.7 16.5 39.5 17.3 39.0 18.0 38.6 18.5 38.3 19.0 38.0 19.8 37.5 20.5 37.0 21.0 36.6 21.5 36.2 22.0 35.8 22.5 35.3 23.0 34.7 23.5 34.1 24.0 33.5 24.4 33.0 24.8 32.5 25.2 32.0 25.7 31.5 26.1 31.0 26.7 30.5 27.2 30.0 27.8 29.5 28.4 29.0 29.0 28.6 29.5 28.2 30.0 27.9 30.7 27.5 31.5 27.0 32.0 26.7 32.5 26.5 33.3 26.0 34.0 25.5 34.5 25.2 35.0 24.8 35.5 24.3 36.0 23.7 36.5 23.1 37.0 22.5 37.3 22.0 37.7 21.5 38.0 21.0 38.5 20.3 39.0 19.6 39.5 19.0 39.8 18.5 40.2 18.0 40.5 17.0 40.0 16.0 39.7 15.5 39.3 15.0 38.9 14.5 38.5 13.8 38.1 13.0 38.0 12.5 37.9 11.5 38.0 10.6 38.2 10.0 38.5 9.4 39.0 8.7 39.5 8.2 40.0 7.8 40.5 7.4 41.4 7.0 42.0 6.8 43.0 6.5 43.5 6.4 44.5 6.4 45.5 6.4 46.2 6.5 47.0 6.6 48.0 7.0 48.5 7.2 49.0 7.5 49.7 8.0 50.3 8.5 50.7 9.0 51.0 9.5 51.4 10.5 51.5 11.0 51.5 12.0 51.4 12.5 51.1 13.5 50.9 14.0 50.5 14.6 50.0 15.3 49.5 16.0 49.3 16.5 49.2 17.5 49.5 18.3 49.9 19.0 50.2 19.5 50.5 20.2 50.8 21.0 51.0 21.7 51.2 22.5 51.4 23.5 51.4 24.5 51.4 25.5 51.4 26.5 51.2 27.5 51.0 28.3 50.8 29.0 50.5 29.7 50.1 30.5 49.8 31.0 49.5 31.5 49.0 32.1 48.5 32.6 48.0 33.0 47.2 33.5 46.5 33.8 45.6 34.0 45.0 34.1 44.3 34.0 43.5 33.8 42.7 33.5 42.0 33.1 41.5 32.8 41.0 32.4 40.5 31.9 40.0 31.5 39.5 31.0 38.9 30.5 38.1 30.0 37.5 29.8 36.5 29.7 35.6 30.0 35.0 30.3 34.5 30.6 34.0 31.0 33.4 31.5 32.8 32.0 32.3 32.5 31.8 33.0 31.3 33.5 30.8 34.0 30.3 34.5 29.8 35.0 29.4 35.5 29.0 36.1 28.5 37.0 28.3 37.5 28.2 38.5 28.3 39.5 28.3 40.5 28.3 41.5 28.2 42.5 28.0 43.1 27.6 44.0 27.4 44.5 27.0 45.1 26.5 45.7 26.0 46.3 25.5 46.9 25.0 47.3 24.5 47.8 24.0 48.2 23.5 48.6 22.9 49.0 22.2 49.5 21.5 49.9 21.0 50.2 20.4 50.5 19.5 51.0 19.0 51.2 18.3 51.5 17.5 51.8 16.9 52.0 16.0 52.3 15.2 52.5 14.5 52.7 13.5 52.9 12.5 53.0 12.0 53.0ZM45.5 16.1 44.5 16.1 43.7 16.0 43.0 15.8 42.2 15.5 41.5 15.1 41.0 14.8 40.5 14.4 40.0 13.9 39.5 13.1 39.2 12.5 39.0 11.5 39.2 10.5 39.5 9.8 40.0 9.1 40.5 8.6 41.0 8.2 41.5 7.9 42.5 7.5 43.0 7.4 44.0 7.2 45.0 7.2 46.0 7.3 46.8 7.5 47.5 7.7 48.0 8.0 48.8 8.5 49.4 9.0 49.8 9.5 50.0 10.0 50.4 11.0 50.3 12.0 50.0 13.0 49.7 13.5 49.3 14.0 48.8 14.5 48.2 15.0 47.5 15.4 47.0 15.7 46.0 16.0 45.5 16.1ZM46.0 27.6 45.0 28.0 44.0 27.8 43.5 27.5 43.0 27.0 42.5 26.3 42.2 25.5 42.0 24.5 42.2 23.5 42.5 22.9 43.0 22.2 43.5 21.9 44.5 21.5 45.5 21.8 46.0 22.1 46.5 22.7 46.9 23.5 47.0 24.0 47.1 25.0 47.0 25.8 46.8 26.5 46.5 27.0 46.0 27.6ZM16.0 49.5 15.0 49.7 14.0 49.8 13.0 49.7 12.2 49.5 11.5 49.0 11.2 48.5 11.2 47.5 11.5 46.6 11.9 46.0 12.3 45.5 12.8 45.0 13.4 44.5 14.0 44.0 14.5 43.7 15.0 43.4 15.6 43.0 16.5 42.5 17.0 42.3 17.8 42.0 18.5 41.7 19.3 41.5 20.0 41.4 21.0 41.3 22.0 41.4 22.5 41.7 23.0 42.2 23.3 43.0 23.3 44.0 23.0 44.7 22.5 45.5 22.1 46.0 21.7 46.5 21.1 47.0 20.5 47.5 20.0 47.8 19.5 48.1 18.8 48.5 18.0 48.9 17.5 49.1 16.5 49.4 16.0 49.5ZM46.5 14.7 45.5 14.9 44.5 14.9 43.5 14.8 42.6 14.5 42.0 14.2 41.5 13.9 41.0 13.4 40.5 12.8 40.2 12.0 40.1 11.0 40.5 10.0 40.9 9.5 41.4 9.0 42.0 8.6 42.5 8.4 43.5 8.1 44.1 8.0 45.0 8.0 45.5 8.0 46.5 8.2 47.2 8.5 48.0 9.0 48.5 9.4 48.9 10.0 49.2 10.5 49.3 11.5 49.1 12.5 48.8 13.0 48.4 13.5 47.8 14.0 47.0 14.5 46.5 14.7ZM45.5 14.0 44.5 14.1 43.9 14.0 43.0 13.7 42.5 13.5 41.9 13.0 41.5 12.5 41.1 11.5 41.3 10.5 41.6 10.0 42.1 9.5 43.0 9.0 43.5 8.9 44.5 8.7 45.5 8.8 46.3 9.0 47.0 9.3 47.5 9.7 48.0 10.3 48.3 11.0 48.2 12.0 48.0 12.5 47.5 13.1 46.9 13.5 46.0 13.9 45.5 14.0ZM46.0 13.1 45.0 13.3 44.0 13.3 43.2 13.0 42.5 12.5 42.2 12.0 42.1 11.0 42.5 10.2 43.0 9.8 43.8 9.5 44.5 9.4 45.5 9.5 46.0 9.6 46.7 10.0 47.1 10.5 47.4 11.5 47.0 12.4 46.5 12.8 46.0 13.1ZM45.5 12.5 44.5 12.6 43.9 12.5 43.2 12.0 43.0 11.5 43.0 11.0 43.5 10.4 44.5 10.1 45.5 10.2 46.0 10.5 46.4 11.5 46.0 12.2 45.5 12.5Z" fill="none" stroke="#333" stroke-width="0.3"/><ellipse cx="44.7" cy="11.3" rx="8.0" ry="6.4" transform="rotate(0 44.7 11.3)" fill="#333" fill-opacity="0.6" filter="url(#spk)"/><ellipse cx="44.7" cy="11.3" rx="5.8" ry="4.2" transform="rotate(0 44.7 11.3)" fill="none" stroke="#333" stroke-width="0.5"/><ellipse cx="44.7" cy="11.3" rx="4.8" ry="3.2" transform="rotate(0 44.7 11.3)" fill="none" stroke="#111" stroke-width="1.6"/></g></g>
<line x1="223.20" y1="195.55" x2="223.20" y2="316.85" stroke="#000" stroke-width="1.5"/>
<line x1="283.00" y1="195.55" x2="283.00" y2="316.85" stroke="#000" stroke-width="1.5"/>
<line x1="342.80" y1="195.55" x2="342.80" y2="316.85" stroke="#000" stroke-width="1.5"/>
<line x1="402.60" y1="195.55" x2="402.60" y2="316.85" stroke="#000" stroke-width="1.5"/>
<line x1="462.20" y1="195.55" x2="462.20" y2="316.85" stroke="#000" stroke-width="1.5"/>
<line x1="222.45" y1="196.30" x2="462.95" y2="196.30" stroke="#000" stroke-width="1.5"/>
<line x1="222.45" y1="256.20" x2="462.95" y2="256.20" stroke="#000" stroke-width="1.5"/>
<line x1="222.45" y1="316.10" x2="462.95" y2="316.10" stroke="#000" stroke-width="1.5"/>
<line x1="221.40" y1="200.30" x2="223.20" y2="200.30" stroke="#000" stroke-width="0.8"/>
<line x1="221.40" y1="207.50" x2="223.20" y2="207.50" stroke="#000" stroke-width="0.8"/>
<line x1="221.40" y1="214.70" x2="223.20" y2="214.70" stroke="#000" stroke-width="0.8"/>
<line x1="221.40" y1="221.90" x2="223.20" y2="221.90" stroke="#000" stroke-width="0.8"/>
<line x1="221.40" y1="229.10" x2="223.20" y2="229.10" stroke="#000" stroke-width="0.8"/>
<line x1="221.40" y1="236.30" x2="223.20" y2="236.30" stroke="#000" stroke-width="0.8"/>
<line x1="221.40" y1="243.50" x2="223.20" y2="243.50" stroke="#000" stroke-width="0.8"/>
<line x1="221.40" y1="250.70" x2="223.20" y2="250.70" stroke="#000" stroke-width="0.8"/>
<line x1="221.40" y1="260.20" x2="223.20" y2="260.20" stroke="#000" stroke-width="0.8"/>
<line x1="221.40" y1="267.40" x2="223.20" y2="267.40" stroke="#000" stroke-width="0.8"/>
<line x1="221.40" y1="274.60" x2="223.20" y2="274.60" stroke="#000" stroke-width="0.8"/>
<line x1="221.40" y1="281.80" x2="223.20" y2="281.80" stroke="#000" stroke-width="0.8"/>
<line x1="221.40" y1="289.00" x2="223.20" y2="289.00" stroke="#000" stroke-width="0.8"/>
<line x1="221.40" y1="296.20" x2="223.20" y2="296.20" stroke="#000" stroke-width="0.8"/>
<line x1="221.40" y1="303.40" x2="223.20" y2="303.40" stroke="#000" stroke-width="0.8"/>
<line x1="221.40" y1="310.60" x2="223.20" y2="310.60" stroke="#000" stroke-width="0.8"/>
<line x1="227.20" y1="316.10" x2="227.20" y2="317.70" stroke="#000" stroke-width="0.8"/>
<line x1="234.40" y1="316.10" x2="234.40" y2="317.70" stroke="#000" stroke-width="0.8"/>
<line x1="241.60" y1="316.10" x2="241.60" y2="317.70" stroke="#000" stroke-width="0.8"/>
<line x1="248.80" y1="316.10" x2="248.80" y2="317.70" stroke="#000" stroke-width="0.8"/>
<line x1="256.00" y1="316.10" x2="256.00" y2="317.70" stroke="#000" stroke-width="0.8"/>
<line x1="263.20" y1="316.10" x2="263.20" y2="317.70" stroke="#000" stroke-width="0.8"/>
<line x1="270.40" y1="316.10" x2="270.40" y2="317.70" stroke="#000" stroke-width="0.8"/>
<line x1="277.60" y1="316.10" x2="277.60" y2="317.70" stroke="#000" stroke-width="0.8"/>
<line x1="287.00" y1="316.10" x2="287.00" y2="317.70" stroke="#000" stroke-width="0.8"/>
<line x1="294.20" y1="316.10" x2="294.20" y2="317.70" stroke="#000" stroke-width="0.8"/>
<line x1="301.40" y1="316.10" x2="301.40" y2="317.70" stroke="#000" stroke-width="0.8"/>
<line x1="308.60" y1="316.10" x2="308.60" y2="317.70" stroke="#000" stroke-width="0.8"/>
<line x1="315.80" y1="316.10" x2="315.80" y2="317.70" stroke="#000" stroke-width="0.8"/>
<line x1="323.00" y1="316.10" x2="323.00" y2="317.70" stroke="#000" stroke-width="0.8"/>
<line x1="330.20" y1="316.10" x2="330.20" y2="317.70" stroke="#000" stroke-width="0.8"/>
<line x1="337.40" y1="316.10" x2="337.40" y2="317.70" stroke="#000" stroke-width="0.8"/>
<line x1="346.80" y1="316.10" x2="346.80" y2="317.70" stroke="#000" stroke-width="0.8"/>
<line x1="354.00" y1="316.10" x2="354.00" y2="317.70" stroke="#000" stroke-width="0.8"/>
<line x1="361.20" y1="316.10" x2="361.20" y2="317.70" stroke="#000" stroke-width="0.8"/>
<line x1="368.40" y1="316.10" x2="368.40" y2="317.70" stroke="#000" stroke-width="0.8"/>
<line x1="375.60" y1="316.10" x2="375.60" y2="317.70" stroke="#000" stroke-width="0.8"/>
<line x1="382.80" y1="316.10" x2="382.80" y2="317.70" stroke="#000" stroke-width="0.8"/>
<line x1="390.00" y1="316.10" x2="390.00" y2="317.70" stroke="#000" stroke-width="0.8"/>
<line x1="397.20" y1="316.10" x2="397.20" y2="317.70" stroke="#000" stroke-width="0.8"/>
<line x1="406.60" y1="316.10" x2="406.60" y2="317.70" stroke="#000" stroke-width="0.8"/>
<line x1="413.80" y1="316.10" x2="413.80" y2="317.70" stroke="#000" stroke-width="0.8"/>
<line x1="421.00" y1="316.10" x2="421.00" y2="317.70" stroke="#000" stroke-width="0.8"/>
<line x1="428.20" y1="316.10" x2="428.20" y2="317.70" stroke="#000" stroke-width="0.8"/>
<line x1="435.40" y1="316.10" x2="435.40" y2="317.70" stroke="#000" stroke-width="0.8"/>
<line x1="442.60" y1="316.10" x2="442.60" y2="317.70" stroke="#000" stroke-width="0.8"/>
<line x1="449.80" y1="316.10" x2="449.80" y2="317.70" stroke="#000" stroke-width="0.8"/>
<line x1="457.00" y1="316.10" x2="457.00" y2="317.70" stroke="#000" stroke-width="0.8"/>
<line x1="206.40" y1="326.50" x2="206.40" y2="334.70" stroke="#000" stroke-width="1.1"/>
<path d="M204.6 327.2L208.2 327.2L206.4 323.6Z"/>
<line x1="206.40" y1="334.70" x2="215.00" y2="334.70" stroke="#000" stroke-width="1.1"/>
<path d="M214.4 332.9L214.4 336.5L218.0 334.7Z"/>
<text x="220.60" y="336.90" font-size="7.40" font-weight="bold" stroke="#000" stroke-width="0.25">CD11b</text>
<text x="208.60" y="313.50" font-size="7.40" font-weight="bold" text-anchor="middle" stroke="#000" stroke-width="0.25" transform="rotate(-90 208.60 313.50)">Gr1</text>
<path d="M250.40 197.60H281.00V236.50H250.40ZM250.40 214.50H281.00" fill="none" stroke="#2233cc" stroke-width="1.25"/>
<text x="239.80" y="208.30" font-size="6.60" font-weight="bold" text-anchor="middle" fill="#2233cc" stroke="#2233cc" stroke-width="0.25">44.1</text>
<text x="267.60" y="245.30" font-size="6.60" font-weight="bold" text-anchor="middle" fill="#2233cc" stroke="#2233cc" stroke-width="0.25">25.3</text>
<path d="M310.20 197.60H340.80V236.50H310.20ZM310.20 214.50H340.80" fill="none" stroke="#2233cc" stroke-width="1.25"/>
<text x="299.60" y="208.30" font-size="6.60" font-weight="bold" text-anchor="middle" fill="#2233cc" stroke="#2233cc" stroke-width="0.25">41.1</text>
<text x="327.40" y="245.30" font-size="6.60" font-weight="bold" text-anchor="middle" fill="#2233cc" stroke="#2233cc" stroke-width="0.25">19.3</text>
<path d="M370.00 197.60H400.60V236.50H370.00ZM370.00 214.50H400.60" fill="none" stroke="#2233cc" stroke-width="1.25"/>
<text x="359.40" y="208.30" font-size="6.60" font-weight="bold" text-anchor="middle" fill="#2233cc" stroke="#2233cc" stroke-width="0.25">44.8</text>
<text x="387.20" y="245.30" font-size="6.60" font-weight="bold" text-anchor="middle" fill="#2233cc" stroke="#2233cc" stroke-width="0.25">15.8</text>
<path d="M429.80 197.60H460.40V236.50H429.80ZM429.80 214.50H460.40" fill="none" stroke="#2233cc" stroke-width="1.25"/>
<text x="419.20" y="208.30" font-size="6.60" font-weight="bold" text-anchor="middle" fill="#2233cc" stroke="#2233cc" stroke-width="0.25">45.3</text>
<text x="447.00" y="245.30" font-size="6.60" font-weight="bold" text-anchor="middle" fill="#2233cc" stroke="#2233cc" stroke-width="0.25">21.0</text>
<path d="M250.40 257.50H281.00V296.40H250.40ZM250.40 274.40H281.00" fill="none" stroke="#e03a2a" stroke-width="1.25"/>
<text x="239.80" y="268.20" font-size="6.60" font-weight="bold" text-anchor="middle" fill="#e03a2a" stroke="#e03a2a" stroke-width="0.25">19.8</text>
<text x="267.60" y="305.20" font-size="6.60" font-weight="bold" text-anchor="middle" fill="#e03a2a" stroke="#e03a2a" stroke-width="0.25">59.9</text>
<path d="M310.20 257.50H340.80V296.40H310.20ZM310.20 274.40H340.80" fill="none" stroke="#e03a2a" stroke-width="1.25"/>
<text x="299.60" y="268.20" font-size="6.60" font-weight="bold" text-anchor="middle" fill="#e03a2a" stroke="#e03a2a" stroke-width="0.25">43.1</text>
<text x="327.40" y="305.20" font-size="6.60" font-weight="bold" text-anchor="middle" fill="#e03a2a" stroke="#e03a2a" stroke-width="0.25">22.3</text>
<path d="M370.00 257.50H400.60V296.40H370.00ZM370.00 274.40H400.60" fill="none" stroke="#e03a2a" stroke-width="1.25"/>
<text x="359.40" y="268.20" font-size="6.60" font-weight="bold" text-anchor="middle" fill="#e03a2a" stroke="#e03a2a" stroke-width="0.25">17.0</text>
<text x="387.20" y="305.20" font-size="6.60" font-weight="bold" text-anchor="middle" fill="#e03a2a" stroke="#e03a2a" stroke-width="0.25">64.2</text>
<path d="M429.80 257.50H460.40V296.40H429.80ZM429.80 274.40H460.40" fill="none" stroke="#e03a2a" stroke-width="1.25"/>
<text x="419.20" y="268.20" font-size="6.60" font-weight="bold" text-anchor="middle" fill="#e03a2a" stroke="#e03a2a" stroke-width="0.25">44.6</text>
<text x="447.00" y="305.20" font-size="6.60" font-weight="bold" text-anchor="middle" fill="#e03a2a" stroke="#e03a2a" stroke-width="0.25">24.9</text>
</g>
</svg></body></html>
